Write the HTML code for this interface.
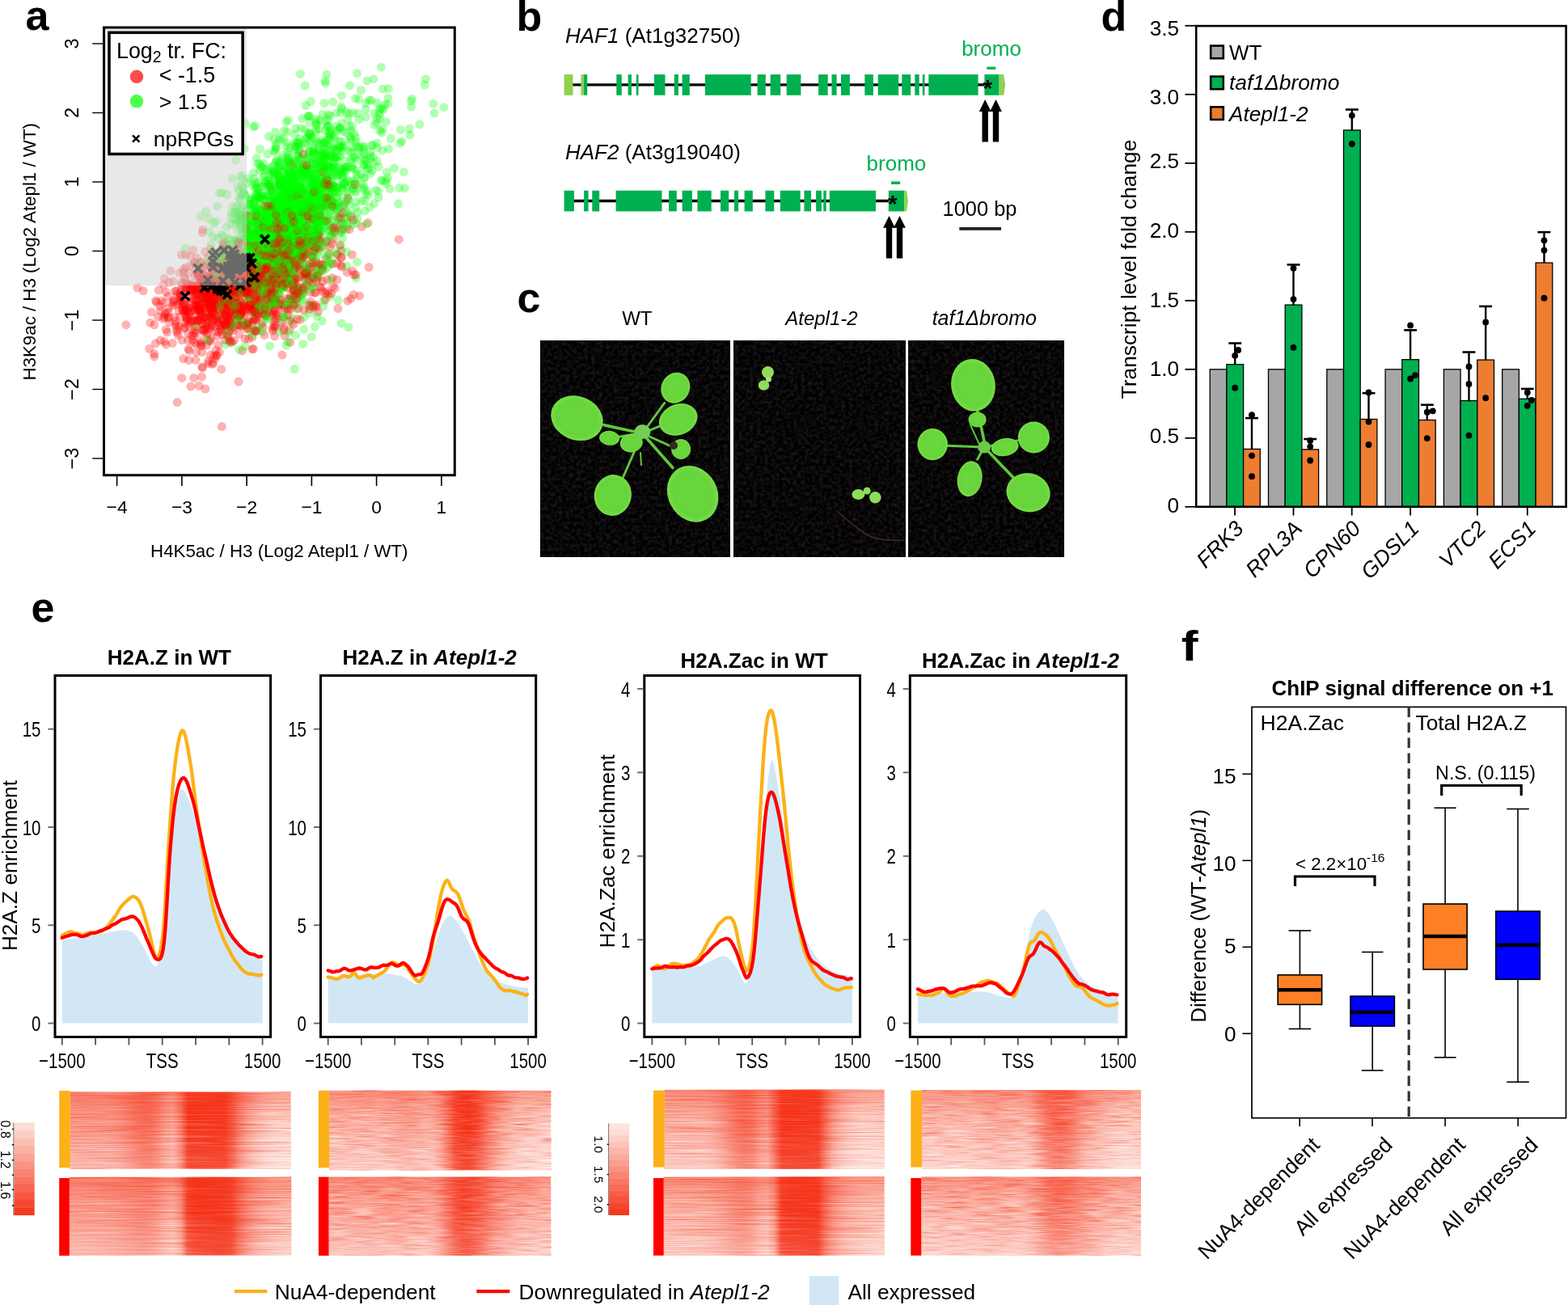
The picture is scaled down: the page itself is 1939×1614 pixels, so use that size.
<!DOCTYPE html>
<html><head><meta charset="utf-8"><title>Figure</title>
<style>
html,body{margin:0;padding:0;background:#fff;}
body{width:1939px;height:1614px;overflow:hidden;}
svg{display:block;}
text{font-family:'Liberation Sans', Arial, sans-serif;}
</style></head><body>
<svg width="1939" height="1614" viewBox="0 0 1939 1614" font-family="Liberation Sans, Arial, sans-serif">
<defs><clipPath id="clipA"><rect x="130" y="35.5" width="431" height="550.7"/></clipPath>
<filter id="soil" x="0" y="0" width="1" height="1" color-interpolation-filters="sRGB">
<feTurbulence type="fractalNoise" baseFrequency="0.22" numOctaves="3" seed="11" result="n"/>
<feColorMatrix in="n" type="matrix" values="0.24 0 0 0 -0.085  0.19 0 0 0 -0.068  0.22 0 0 0 -0.078  0 0 0 0 1"/>
</filter>
<filter id="leafblur" x="-10%" y="-10%" width="120%" height="120%"><feGaussianBlur stdDeviation="0.7"/></filter>
<radialGradient id="leafg" cx="0.5" cy="0.5" r="0.5"><stop offset="0" stop-color="#6bd83e"/><stop offset="0.8" stop-color="#67d43b"/><stop offset="1" stop-color="#78de4a"/></radialGradient>
<filter id="streakA" x="0" y="0" width="1" height="1" color-interpolation-filters="sRGB">
<feTurbulence type="fractalNoise" baseFrequency="0.011 0.6" numOctaves="2" seed="4" result="n"/>
<feColorMatrix in="n" type="matrix" values="0 0 0 0 1  0 0 0 0 1  0 0 0 0 1  1.5 0 0 0 -0.66" result="w"/>
<feColorMatrix in="SourceGraphic" type="matrix" values="0 0 0 0 1  0 0 0 0 1  0 0 0 0 1  0 0.85 0 0 0.2" result="gm"/>
<feComposite in="w" in2="gm" operator="arithmetic" k1="1" k2="0" k3="0" k4="0" result="w2"/>
<feColorMatrix in="n" type="matrix" values="0 0 0 0 0.96  0 0 0 0 0.2  0 0 0 0 0.1  0 1.4 0 0 -0.66" result="r"/>
<feMerge><feMergeNode in="SourceGraphic"/><feMergeNode in="r"/><feMergeNode in="w2"/></feMerge>
</filter>
<filter id="streakB" x="0" y="0" width="1" height="1" color-interpolation-filters="sRGB">
<feTurbulence type="fractalNoise" baseFrequency="0.03 0.6" numOctaves="2" seed="9" result="n"/>
<feColorMatrix in="n" type="matrix" values="0 0 0 0 1  0 0 0 0 1  0 0 0 0 1  1.7 0 0 0 -0.72" result="w"/>
<feColorMatrix in="SourceGraphic" type="matrix" values="0 0 0 0 1  0 0 0 0 1  0 0 0 0 1  0 0.85 0 0 0.2" result="gm"/>
<feComposite in="w" in2="gm" operator="arithmetic" k1="1" k2="0" k3="0" k4="0" result="w2"/>
<feColorMatrix in="n" type="matrix" values="0 0 0 0 0.96  0 0 0 0 0.2  0 0 0 0 0.1  0 1.4 0 0 -0.66" result="r"/>
<feMerge><feMergeNode in="SourceGraphic"/><feMergeNode in="r"/><feMergeNode in="w2"/></feMerge>
</filter>
<linearGradient id="vtop" x1="0" y1="0" x2="0" y2="1"><stop offset="0" stop-color="#f43a1e" stop-opacity="0.32"/><stop offset="0.3" stop-color="#f43a1e" stop-opacity="0.06"/><stop offset="0.45" stop-color="#f43a1e" stop-opacity="0"/></linearGradient>
<linearGradient id="vbot" x1="0" y1="0" x2="0" y2="1"><stop offset="0.45" stop-color="#fff" stop-opacity="0"/><stop offset="1" stop-color="#fff" stop-opacity="0.45"/></linearGradient>
<linearGradient id="hg1" x1="0" y1="0" x2="1" y2="0"><stop offset="0.000" stop-color="#f99686"/><stop offset="0.033" stop-color="#f99484"/><stop offset="0.067" stop-color="#f99484"/><stop offset="0.100" stop-color="#f99584"/><stop offset="0.133" stop-color="#f99483"/><stop offset="0.167" stop-color="#f99282"/><stop offset="0.200" stop-color="#f98e7d"/><stop offset="0.233" stop-color="#f98674"/><stop offset="0.267" stop-color="#f87a67"/><stop offset="0.300" stop-color="#f86e5a"/><stop offset="0.333" stop-color="#f76652"/><stop offset="0.367" stop-color="#f76854"/><stop offset="0.400" stop-color="#f87764"/><stop offset="0.433" stop-color="#f99080"/><stop offset="0.467" stop-color="#fa9c8c"/><stop offset="0.500" stop-color="#f87360"/><stop offset="0.533" stop-color="#f53219"/><stop offset="0.567" stop-color="#f53219"/><stop offset="0.600" stop-color="#f53219"/><stop offset="0.633" stop-color="#f53219"/><stop offset="0.667" stop-color="#f53219"/><stop offset="0.700" stop-color="#f53219"/><stop offset="0.733" stop-color="#f64b35"/><stop offset="0.767" stop-color="#f87663"/><stop offset="0.800" stop-color="#f99585"/><stop offset="0.833" stop-color="#faab9d"/><stop offset="0.867" stop-color="#fbbcb0"/><stop offset="0.900" stop-color="#fcc8bc"/><stop offset="0.933" stop-color="#fccec3"/><stop offset="0.967" stop-color="#fcd1c6"/><stop offset="1.000" stop-color="#fcd0c5"/></linearGradient>
<linearGradient id="hm1g" x1="0" y1="0" x2="1" y2="0"><stop offset="0.000" stop-color="#c0c0c0"/><stop offset="0.033" stop-color="#bebebe"/><stop offset="0.067" stop-color="#bebebe"/><stop offset="0.100" stop-color="#bebebe"/><stop offset="0.133" stop-color="#bdbdbd"/><stop offset="0.167" stop-color="#bbbbbb"/><stop offset="0.200" stop-color="#b6b6b6"/><stop offset="0.233" stop-color="#ababab"/><stop offset="0.267" stop-color="#9c9c9c"/><stop offset="0.300" stop-color="#8d8d8d"/><stop offset="0.333" stop-color="#838383"/><stop offset="0.367" stop-color="#858585"/><stop offset="0.400" stop-color="#989898"/><stop offset="0.433" stop-color="#b9b9b9"/><stop offset="0.467" stop-color="#c7c7c7"/><stop offset="0.500" stop-color="#939393"/><stop offset="0.533" stop-color="#404040"/><stop offset="0.567" stop-color="#404040"/><stop offset="0.600" stop-color="#404040"/><stop offset="0.633" stop-color="#404040"/><stop offset="0.667" stop-color="#404040"/><stop offset="0.700" stop-color="#404040"/><stop offset="0.733" stop-color="#606060"/><stop offset="0.767" stop-color="#979797"/><stop offset="0.800" stop-color="#bebebe"/><stop offset="0.833" stop-color="#dbdbdb"/><stop offset="0.867" stop-color="#f1f1f1"/><stop offset="0.900" stop-color="#ffffff"/><stop offset="0.933" stop-color="#ffffff"/><stop offset="0.967" stop-color="#ffffff"/><stop offset="1.000" stop-color="#ffffff"/></linearGradient>
<mask id="hm1" maskUnits="userSpaceOnUse" x="86.8" y="1350.5" width="272.8" height="95"><rect x="86.8" y="1350.5" width="272.8" height="95" fill="url(#hm1g)"/></mask>
<linearGradient id="hg2" x1="0" y1="0" x2="1" y2="0"><stop offset="0.000" stop-color="#fa9a8a"/><stop offset="0.033" stop-color="#fa9889"/><stop offset="0.067" stop-color="#fa9888"/><stop offset="0.100" stop-color="#fa9787"/><stop offset="0.133" stop-color="#f99686"/><stop offset="0.167" stop-color="#f99383"/><stop offset="0.200" stop-color="#f9907f"/><stop offset="0.233" stop-color="#f98b7a"/><stop offset="0.267" stop-color="#f98675"/><stop offset="0.300" stop-color="#f98270"/><stop offset="0.333" stop-color="#f8806e"/><stop offset="0.367" stop-color="#f98473"/><stop offset="0.400" stop-color="#f99180"/><stop offset="0.433" stop-color="#faa293"/><stop offset="0.467" stop-color="#faaa9b"/><stop offset="0.500" stop-color="#f98b7a"/><stop offset="0.533" stop-color="#f53b23"/><stop offset="0.567" stop-color="#f53219"/><stop offset="0.600" stop-color="#f53219"/><stop offset="0.633" stop-color="#f53219"/><stop offset="0.667" stop-color="#f53219"/><stop offset="0.700" stop-color="#f53219"/><stop offset="0.733" stop-color="#f53920"/><stop offset="0.767" stop-color="#f75d48"/><stop offset="0.800" stop-color="#f87a67"/><stop offset="0.833" stop-color="#f98f7e"/><stop offset="0.867" stop-color="#fa9e8f"/><stop offset="0.900" stop-color="#faa99a"/><stop offset="0.933" stop-color="#fbb0a2"/><stop offset="0.967" stop-color="#fbb4a6"/><stop offset="1.000" stop-color="#fbb5a8"/></linearGradient>
<linearGradient id="hm2g" x1="0" y1="0" x2="1" y2="0"><stop offset="0.000" stop-color="#c5c5c5"/><stop offset="0.033" stop-color="#c3c3c3"/><stop offset="0.067" stop-color="#c2c2c2"/><stop offset="0.100" stop-color="#c2c2c2"/><stop offset="0.133" stop-color="#c0c0c0"/><stop offset="0.167" stop-color="#bcbcbc"/><stop offset="0.200" stop-color="#b8b8b8"/><stop offset="0.233" stop-color="#b2b2b2"/><stop offset="0.267" stop-color="#acacac"/><stop offset="0.300" stop-color="#a7a7a7"/><stop offset="0.333" stop-color="#a4a4a4"/><stop offset="0.367" stop-color="#a9a9a9"/><stop offset="0.400" stop-color="#b9b9b9"/><stop offset="0.433" stop-color="#d0d0d0"/><stop offset="0.467" stop-color="#d9d9d9"/><stop offset="0.500" stop-color="#b2b2b2"/><stop offset="0.533" stop-color="#4c4c4c"/><stop offset="0.567" stop-color="#404040"/><stop offset="0.600" stop-color="#404040"/><stop offset="0.633" stop-color="#404040"/><stop offset="0.667" stop-color="#404040"/><stop offset="0.700" stop-color="#404040"/><stop offset="0.733" stop-color="#484848"/><stop offset="0.767" stop-color="#777777"/><stop offset="0.800" stop-color="#9c9c9c"/><stop offset="0.833" stop-color="#b7b7b7"/><stop offset="0.867" stop-color="#cacaca"/><stop offset="0.900" stop-color="#d8d8d8"/><stop offset="0.933" stop-color="#e1e1e1"/><stop offset="0.967" stop-color="#e6e6e6"/><stop offset="1.000" stop-color="#e8e8e8"/></linearGradient>
<mask id="hm2" maskUnits="userSpaceOnUse" x="85.8" y="1455.8" width="274.4" height="96.8"><rect x="85.8" y="1455.8" width="274.4" height="96.8" fill="url(#hm2g)"/></mask>
<linearGradient id="hg3" x1="0" y1="0" x2="1" y2="0"><stop offset="0.000" stop-color="#fbafa1"/><stop offset="0.033" stop-color="#fbb0a2"/><stop offset="0.067" stop-color="#fbafa1"/><stop offset="0.100" stop-color="#faad9f"/><stop offset="0.133" stop-color="#faac9e"/><stop offset="0.167" stop-color="#faad9f"/><stop offset="0.200" stop-color="#faad9f"/><stop offset="0.233" stop-color="#faab9d"/><stop offset="0.267" stop-color="#faa798"/><stop offset="0.300" stop-color="#faa091"/><stop offset="0.333" stop-color="#fa9c8c"/><stop offset="0.367" stop-color="#fa9e8e"/><stop offset="0.400" stop-color="#faa495"/><stop offset="0.433" stop-color="#faab9d"/><stop offset="0.467" stop-color="#faa899"/><stop offset="0.500" stop-color="#f99180"/><stop offset="0.533" stop-color="#f76753"/><stop offset="0.567" stop-color="#f63e26"/><stop offset="0.600" stop-color="#f53219"/><stop offset="0.633" stop-color="#f53219"/><stop offset="0.667" stop-color="#f6422a"/><stop offset="0.700" stop-color="#f75a44"/><stop offset="0.733" stop-color="#f87663"/><stop offset="0.767" stop-color="#f99180"/><stop offset="0.800" stop-color="#faa596"/><stop offset="0.833" stop-color="#fbb3a5"/><stop offset="0.867" stop-color="#fbbcb0"/><stop offset="0.900" stop-color="#fbc1b5"/><stop offset="0.933" stop-color="#fcc4b8"/><stop offset="0.967" stop-color="#fcc6bb"/><stop offset="1.000" stop-color="#fcc6ba"/></linearGradient>
<linearGradient id="hm3g" x1="0" y1="0" x2="1" y2="0"><stop offset="0.000" stop-color="#e0e0e0"/><stop offset="0.033" stop-color="#e1e1e1"/><stop offset="0.067" stop-color="#dfdfdf"/><stop offset="0.100" stop-color="#dddddd"/><stop offset="0.133" stop-color="#dcdcdc"/><stop offset="0.167" stop-color="#dddddd"/><stop offset="0.200" stop-color="#dddddd"/><stop offset="0.233" stop-color="#dbdbdb"/><stop offset="0.267" stop-color="#d5d5d5"/><stop offset="0.300" stop-color="#cccccc"/><stop offset="0.333" stop-color="#c8c8c8"/><stop offset="0.367" stop-color="#cacaca"/><stop offset="0.400" stop-color="#d2d2d2"/><stop offset="0.433" stop-color="#dbdbdb"/><stop offset="0.467" stop-color="#d7d7d7"/><stop offset="0.500" stop-color="#b9b9b9"/><stop offset="0.533" stop-color="#848484"/><stop offset="0.567" stop-color="#4f4f4f"/><stop offset="0.600" stop-color="#404040"/><stop offset="0.633" stop-color="#404040"/><stop offset="0.667" stop-color="#545454"/><stop offset="0.700" stop-color="#737373"/><stop offset="0.733" stop-color="#979797"/><stop offset="0.767" stop-color="#b9b9b9"/><stop offset="0.800" stop-color="#d3d3d3"/><stop offset="0.833" stop-color="#e5e5e5"/><stop offset="0.867" stop-color="#f1f1f1"/><stop offset="0.900" stop-color="#f8f8f8"/><stop offset="0.933" stop-color="#fbfbfb"/><stop offset="0.967" stop-color="#fefefe"/><stop offset="1.000" stop-color="#fefefe"/></linearGradient>
<mask id="hm3" maskUnits="userSpaceOnUse" x="407.2" y="1348.8" width="274" height="98.5"><rect x="407.2" y="1348.8" width="274" height="98.5" fill="url(#hm3g)"/></mask>
<linearGradient id="hg4" x1="0" y1="0" x2="1" y2="0"><stop offset="0.000" stop-color="#faa597"/><stop offset="0.033" stop-color="#faa597"/><stop offset="0.067" stop-color="#faa495"/><stop offset="0.100" stop-color="#faa394"/><stop offset="0.133" stop-color="#faa394"/><stop offset="0.167" stop-color="#faa293"/><stop offset="0.200" stop-color="#faa192"/><stop offset="0.233" stop-color="#faa091"/><stop offset="0.267" stop-color="#fa9e8f"/><stop offset="0.300" stop-color="#fa9d8d"/><stop offset="0.333" stop-color="#fa9c8d"/><stop offset="0.367" stop-color="#fa9d8d"/><stop offset="0.400" stop-color="#faa192"/><stop offset="0.433" stop-color="#faa697"/><stop offset="0.467" stop-color="#faa192"/><stop offset="0.500" stop-color="#f98d7c"/><stop offset="0.533" stop-color="#f86d59"/><stop offset="0.567" stop-color="#f6503a"/><stop offset="0.600" stop-color="#f6422b"/><stop offset="0.633" stop-color="#f6452e"/><stop offset="0.667" stop-color="#f6523c"/><stop offset="0.700" stop-color="#f7634e"/><stop offset="0.733" stop-color="#f87764"/><stop offset="0.767" stop-color="#f98978"/><stop offset="0.800" stop-color="#f99585"/><stop offset="0.833" stop-color="#fa9f8f"/><stop offset="0.867" stop-color="#faa597"/><stop offset="0.900" stop-color="#faaa9c"/><stop offset="0.933" stop-color="#fbaea0"/><stop offset="0.967" stop-color="#fbb0a2"/><stop offset="1.000" stop-color="#fbb0a3"/></linearGradient>
<linearGradient id="hm4g" x1="0" y1="0" x2="1" y2="0"><stop offset="0.000" stop-color="#d4d4d4"/><stop offset="0.033" stop-color="#d4d4d4"/><stop offset="0.067" stop-color="#d2d2d2"/><stop offset="0.100" stop-color="#d1d1d1"/><stop offset="0.133" stop-color="#d0d0d0"/><stop offset="0.167" stop-color="#cfcfcf"/><stop offset="0.200" stop-color="#cecece"/><stop offset="0.233" stop-color="#cdcdcd"/><stop offset="0.267" stop-color="#cbcbcb"/><stop offset="0.300" stop-color="#c9c9c9"/><stop offset="0.333" stop-color="#c8c8c8"/><stop offset="0.367" stop-color="#c9c9c9"/><stop offset="0.400" stop-color="#cecece"/><stop offset="0.433" stop-color="#d4d4d4"/><stop offset="0.467" stop-color="#cecece"/><stop offset="0.500" stop-color="#b4b4b4"/><stop offset="0.533" stop-color="#8c8c8c"/><stop offset="0.567" stop-color="#676767"/><stop offset="0.600" stop-color="#555555"/><stop offset="0.633" stop-color="#585858"/><stop offset="0.667" stop-color="#686868"/><stop offset="0.700" stop-color="#7f7f7f"/><stop offset="0.733" stop-color="#989898"/><stop offset="0.767" stop-color="#afafaf"/><stop offset="0.800" stop-color="#bfbfbf"/><stop offset="0.833" stop-color="#cbcbcb"/><stop offset="0.867" stop-color="#d4d4d4"/><stop offset="0.900" stop-color="#dadada"/><stop offset="0.933" stop-color="#dfdfdf"/><stop offset="0.967" stop-color="#e1e1e1"/><stop offset="1.000" stop-color="#e2e2e2"/></linearGradient>
<mask id="hm4" maskUnits="userSpaceOnUse" x="406.5" y="1455.6" width="274.7" height="97.4"><rect x="406.5" y="1455.6" width="274.7" height="97.4" fill="url(#hm4g)"/></mask>
<linearGradient id="hg5" x1="0" y1="0" x2="1" y2="0"><stop offset="0.000" stop-color="#fbaea1"/><stop offset="0.033" stop-color="#fbad9f"/><stop offset="0.067" stop-color="#faac9e"/><stop offset="0.100" stop-color="#faaa9c"/><stop offset="0.133" stop-color="#faa99a"/><stop offset="0.167" stop-color="#faa89a"/><stop offset="0.200" stop-color="#faa495"/><stop offset="0.233" stop-color="#fa9a8b"/><stop offset="0.267" stop-color="#f98b7a"/><stop offset="0.300" stop-color="#f87b68"/><stop offset="0.333" stop-color="#f86d59"/><stop offset="0.367" stop-color="#f76651"/><stop offset="0.400" stop-color="#f86e5a"/><stop offset="0.433" stop-color="#f98674"/><stop offset="0.467" stop-color="#f99181"/><stop offset="0.500" stop-color="#f75e49"/><stop offset="0.533" stop-color="#f53219"/><stop offset="0.567" stop-color="#f53219"/><stop offset="0.600" stop-color="#f53219"/><stop offset="0.633" stop-color="#f53219"/><stop offset="0.667" stop-color="#f53219"/><stop offset="0.700" stop-color="#f53219"/><stop offset="0.733" stop-color="#f7604b"/><stop offset="0.767" stop-color="#f98e7d"/><stop offset="0.800" stop-color="#faa99b"/><stop offset="0.833" stop-color="#fbbaae"/><stop offset="0.867" stop-color="#fcc6ba"/><stop offset="0.900" stop-color="#fcccc1"/><stop offset="0.933" stop-color="#fccec3"/><stop offset="0.967" stop-color="#fccec3"/><stop offset="1.000" stop-color="#fcccc1"/></linearGradient>
<linearGradient id="hm5g" x1="0" y1="0" x2="1" y2="0"><stop offset="0.000" stop-color="#dfdfdf"/><stop offset="0.033" stop-color="#dedede"/><stop offset="0.067" stop-color="#dcdcdc"/><stop offset="0.100" stop-color="#d9d9d9"/><stop offset="0.133" stop-color="#d8d8d8"/><stop offset="0.167" stop-color="#d7d7d7"/><stop offset="0.200" stop-color="#d2d2d2"/><stop offset="0.233" stop-color="#c5c5c5"/><stop offset="0.267" stop-color="#b2b2b2"/><stop offset="0.300" stop-color="#9d9d9d"/><stop offset="0.333" stop-color="#8b8b8b"/><stop offset="0.367" stop-color="#828282"/><stop offset="0.400" stop-color="#8c8c8c"/><stop offset="0.433" stop-color="#ababab"/><stop offset="0.467" stop-color="#bababa"/><stop offset="0.500" stop-color="#797979"/><stop offset="0.533" stop-color="#404040"/><stop offset="0.567" stop-color="#404040"/><stop offset="0.600" stop-color="#404040"/><stop offset="0.633" stop-color="#404040"/><stop offset="0.667" stop-color="#404040"/><stop offset="0.700" stop-color="#404040"/><stop offset="0.733" stop-color="#7a7a7a"/><stop offset="0.767" stop-color="#b6b6b6"/><stop offset="0.800" stop-color="#d9d9d9"/><stop offset="0.833" stop-color="#efefef"/><stop offset="0.867" stop-color="#fdfdfd"/><stop offset="0.900" stop-color="#ffffff"/><stop offset="0.933" stop-color="#ffffff"/><stop offset="0.967" stop-color="#ffffff"/><stop offset="1.000" stop-color="#ffffff"/></linearGradient>
<mask id="hm5" maskUnits="userSpaceOnUse" x="821.8" y="1347.8" width="271.8" height="98"><rect x="821.8" y="1347.8" width="271.8" height="98" fill="url(#hm5g)"/></mask>
<linearGradient id="hg6" x1="0" y1="0" x2="1" y2="0"><stop offset="0.000" stop-color="#fbafa1"/><stop offset="0.033" stop-color="#fbaea0"/><stop offset="0.067" stop-color="#faad9f"/><stop offset="0.100" stop-color="#faad9f"/><stop offset="0.133" stop-color="#faad9e"/><stop offset="0.167" stop-color="#faab9d"/><stop offset="0.200" stop-color="#faa899"/><stop offset="0.233" stop-color="#faa293"/><stop offset="0.267" stop-color="#fa9989"/><stop offset="0.300" stop-color="#f98f7f"/><stop offset="0.333" stop-color="#f98776"/><stop offset="0.367" stop-color="#f98573"/><stop offset="0.400" stop-color="#f98d7c"/><stop offset="0.433" stop-color="#fa9f90"/><stop offset="0.467" stop-color="#faa99a"/><stop offset="0.500" stop-color="#f98978"/><stop offset="0.533" stop-color="#f5371e"/><stop offset="0.567" stop-color="#f53219"/><stop offset="0.600" stop-color="#f53219"/><stop offset="0.633" stop-color="#f53219"/><stop offset="0.667" stop-color="#f53219"/><stop offset="0.700" stop-color="#f53219"/><stop offset="0.733" stop-color="#f7624d"/><stop offset="0.767" stop-color="#f98574"/><stop offset="0.800" stop-color="#fa9d8d"/><stop offset="0.833" stop-color="#faaa9c"/><stop offset="0.867" stop-color="#fbb2a4"/><stop offset="0.900" stop-color="#fbb8aa"/><stop offset="0.933" stop-color="#fbbbae"/><stop offset="0.967" stop-color="#fbbeb1"/><stop offset="1.000" stop-color="#fbbfb3"/></linearGradient>
<linearGradient id="hm6g" x1="0" y1="0" x2="1" y2="0"><stop offset="0.000" stop-color="#e0e0e0"/><stop offset="0.033" stop-color="#dfdfdf"/><stop offset="0.067" stop-color="#dddddd"/><stop offset="0.100" stop-color="#dddddd"/><stop offset="0.133" stop-color="#dddddd"/><stop offset="0.167" stop-color="#dbdbdb"/><stop offset="0.200" stop-color="#d7d7d7"/><stop offset="0.233" stop-color="#cfcfcf"/><stop offset="0.267" stop-color="#c4c4c4"/><stop offset="0.300" stop-color="#b7b7b7"/><stop offset="0.333" stop-color="#adadad"/><stop offset="0.367" stop-color="#aaaaaa"/><stop offset="0.400" stop-color="#b5b5b5"/><stop offset="0.433" stop-color="#cccccc"/><stop offset="0.467" stop-color="#d8d8d8"/><stop offset="0.500" stop-color="#b0b0b0"/><stop offset="0.533" stop-color="#464646"/><stop offset="0.567" stop-color="#404040"/><stop offset="0.600" stop-color="#404040"/><stop offset="0.633" stop-color="#404040"/><stop offset="0.667" stop-color="#404040"/><stop offset="0.700" stop-color="#404040"/><stop offset="0.733" stop-color="#7d7d7d"/><stop offset="0.767" stop-color="#ababab"/><stop offset="0.800" stop-color="#c9c9c9"/><stop offset="0.833" stop-color="#dadada"/><stop offset="0.867" stop-color="#e4e4e4"/><stop offset="0.900" stop-color="#ebebeb"/><stop offset="0.933" stop-color="#f0f0f0"/><stop offset="0.967" stop-color="#f3f3f3"/><stop offset="1.000" stop-color="#f5f5f5"/></linearGradient>
<mask id="hm6" maskUnits="userSpaceOnUse" x="820.7" y="1455.5" width="272.9" height="97.3"><rect x="820.7" y="1455.5" width="272.9" height="97.3" fill="url(#hm6g)"/></mask>
<linearGradient id="hg7" x1="0" y1="0" x2="1" y2="0"><stop offset="0.000" stop-color="#fbb9ac"/><stop offset="0.033" stop-color="#fbb9ad"/><stop offset="0.067" stop-color="#fbb9ac"/><stop offset="0.100" stop-color="#fbb6a9"/><stop offset="0.133" stop-color="#fbb5a8"/><stop offset="0.167" stop-color="#fbb8ab"/><stop offset="0.200" stop-color="#fbb8ab"/><stop offset="0.233" stop-color="#fbb5a7"/><stop offset="0.267" stop-color="#fbb0a2"/><stop offset="0.300" stop-color="#faab9d"/><stop offset="0.333" stop-color="#faa799"/><stop offset="0.367" stop-color="#faa798"/><stop offset="0.400" stop-color="#faab9c"/><stop offset="0.433" stop-color="#fbb1a3"/><stop offset="0.467" stop-color="#fbb3a5"/><stop offset="0.500" stop-color="#faa698"/><stop offset="0.533" stop-color="#f98b7a"/><stop offset="0.567" stop-color="#f8715e"/><stop offset="0.600" stop-color="#f7634e"/><stop offset="0.633" stop-color="#f7624d"/><stop offset="0.667" stop-color="#f86c58"/><stop offset="0.700" stop-color="#f87d6a"/><stop offset="0.733" stop-color="#f98f7e"/><stop offset="0.767" stop-color="#fa9f90"/><stop offset="0.800" stop-color="#faab9d"/><stop offset="0.833" stop-color="#fbb4a7"/><stop offset="0.867" stop-color="#fbbcb0"/><stop offset="0.900" stop-color="#fbc3b7"/><stop offset="0.933" stop-color="#fcc7bb"/><stop offset="0.967" stop-color="#fcc8bc"/><stop offset="1.000" stop-color="#fcc7bb"/></linearGradient>
<linearGradient id="hm7g" x1="0" y1="0" x2="1" y2="0"><stop offset="0.000" stop-color="#ededed"/><stop offset="0.033" stop-color="#ededed"/><stop offset="0.067" stop-color="#ededed"/><stop offset="0.100" stop-color="#e9e9e9"/><stop offset="0.133" stop-color="#e8e8e8"/><stop offset="0.167" stop-color="#ebebeb"/><stop offset="0.200" stop-color="#ebebeb"/><stop offset="0.233" stop-color="#e7e7e7"/><stop offset="0.267" stop-color="#e1e1e1"/><stop offset="0.300" stop-color="#dbdbdb"/><stop offset="0.333" stop-color="#d6d6d6"/><stop offset="0.367" stop-color="#d6d6d6"/><stop offset="0.400" stop-color="#dadada"/><stop offset="0.433" stop-color="#e2e2e2"/><stop offset="0.467" stop-color="#e5e5e5"/><stop offset="0.500" stop-color="#d5d5d5"/><stop offset="0.533" stop-color="#b2b2b2"/><stop offset="0.567" stop-color="#919191"/><stop offset="0.600" stop-color="#7e7e7e"/><stop offset="0.633" stop-color="#7d7d7d"/><stop offset="0.667" stop-color="#8a8a8a"/><stop offset="0.700" stop-color="#a0a0a0"/><stop offset="0.733" stop-color="#b6b6b6"/><stop offset="0.767" stop-color="#cccccc"/><stop offset="0.800" stop-color="#dbdbdb"/><stop offset="0.833" stop-color="#e7e7e7"/><stop offset="0.867" stop-color="#f1f1f1"/><stop offset="0.900" stop-color="#f9f9f9"/><stop offset="0.933" stop-color="#ffffff"/><stop offset="0.967" stop-color="#ffffff"/><stop offset="1.000" stop-color="#fefefe"/></linearGradient>
<mask id="hm7" maskUnits="userSpaceOnUse" x="1140" y="1348" width="271" height="98"><rect x="1140" y="1348" width="271" height="98" fill="url(#hm7g)"/></mask>
<linearGradient id="hg8" x1="0" y1="0" x2="1" y2="0"><stop offset="0.000" stop-color="#fbb2a5"/><stop offset="0.033" stop-color="#fbb4a6"/><stop offset="0.067" stop-color="#fbb3a6"/><stop offset="0.100" stop-color="#fbb2a4"/><stop offset="0.133" stop-color="#fbb2a5"/><stop offset="0.167" stop-color="#fbb3a6"/><stop offset="0.200" stop-color="#fbb2a5"/><stop offset="0.233" stop-color="#fbb0a2"/><stop offset="0.267" stop-color="#fbaea0"/><stop offset="0.300" stop-color="#faac9e"/><stop offset="0.333" stop-color="#faaa9c"/><stop offset="0.367" stop-color="#faaa9b"/><stop offset="0.400" stop-color="#faad9f"/><stop offset="0.433" stop-color="#fbb2a4"/><stop offset="0.467" stop-color="#fbb1a3"/><stop offset="0.500" stop-color="#faa597"/><stop offset="0.533" stop-color="#f99281"/><stop offset="0.567" stop-color="#f87f6d"/><stop offset="0.600" stop-color="#f87360"/><stop offset="0.633" stop-color="#f8715e"/><stop offset="0.667" stop-color="#f87764"/><stop offset="0.700" stop-color="#f9816f"/><stop offset="0.733" stop-color="#f98d7c"/><stop offset="0.767" stop-color="#fa9a8a"/><stop offset="0.800" stop-color="#faa495"/><stop offset="0.833" stop-color="#faab9c"/><stop offset="0.867" stop-color="#fbb0a2"/><stop offset="0.900" stop-color="#fbb4a6"/><stop offset="0.933" stop-color="#fbb7a9"/><stop offset="0.967" stop-color="#fbb8ac"/><stop offset="1.000" stop-color="#fbbaad"/></linearGradient>
<linearGradient id="hm8g" x1="0" y1="0" x2="1" y2="0"><stop offset="0.000" stop-color="#e4e4e4"/><stop offset="0.033" stop-color="#e6e6e6"/><stop offset="0.067" stop-color="#e6e6e6"/><stop offset="0.100" stop-color="#e4e4e4"/><stop offset="0.133" stop-color="#e4e4e4"/><stop offset="0.167" stop-color="#e5e5e5"/><stop offset="0.200" stop-color="#e4e4e4"/><stop offset="0.233" stop-color="#e1e1e1"/><stop offset="0.267" stop-color="#dedede"/><stop offset="0.300" stop-color="#dcdcdc"/><stop offset="0.333" stop-color="#dadada"/><stop offset="0.367" stop-color="#d9d9d9"/><stop offset="0.400" stop-color="#dddddd"/><stop offset="0.433" stop-color="#e3e3e3"/><stop offset="0.467" stop-color="#e3e3e3"/><stop offset="0.500" stop-color="#d3d3d3"/><stop offset="0.533" stop-color="#bababa"/><stop offset="0.567" stop-color="#a3a3a3"/><stop offset="0.600" stop-color="#949494"/><stop offset="0.633" stop-color="#919191"/><stop offset="0.667" stop-color="#999999"/><stop offset="0.700" stop-color="#a5a5a5"/><stop offset="0.733" stop-color="#b4b4b4"/><stop offset="0.767" stop-color="#c5c5c5"/><stop offset="0.800" stop-color="#d2d2d2"/><stop offset="0.833" stop-color="#dadada"/><stop offset="0.867" stop-color="#e1e1e1"/><stop offset="0.900" stop-color="#e6e6e6"/><stop offset="0.933" stop-color="#eaeaea"/><stop offset="0.967" stop-color="#ececec"/><stop offset="1.000" stop-color="#eeeeee"/></linearGradient>
<mask id="hm8" maskUnits="userSpaceOnUse" x="1139.2" y="1455.5" width="271.8" height="97.3"><rect x="1139.2" y="1455.5" width="271.8" height="97.3" fill="url(#hm8g)"/></mask></defs>
<rect width="1939" height="1614" fill="#fff"/>
<text x="31.5" y="36.8" font-size="52" font-weight="bold">a</text>
<g clip-path="url(#clipA)">
<g fill="rgba(0,255,0,0.30)"><circle cx="356.5" cy="246.1" r="5.5"/><circle cx="325.5" cy="348" r="5.5"/></g>
<g fill="rgba(255,0,0,0.30)"><circle cx="386.4" cy="317.8" r="5.5"/><circle cx="335.8" cy="364.5" r="5.5"/><circle cx="308.2" cy="352.9" r="5.5"/><circle cx="266.7" cy="344.3" r="5.5"/><circle cx="267.7" cy="362" r="5.5"/></g>
<g fill="rgba(0,255,0,0.30)"><circle cx="298.7" cy="241.4" r="5.5"/><circle cx="302.7" cy="376.1" r="5.5"/><circle cx="401.9" cy="256.1" r="5.5"/></g>
<g fill="rgba(255,0,0,0.30)"><circle cx="298.6" cy="344.8" r="5.5"/><circle cx="337.3" cy="310.8" r="5.5"/></g>
<g fill="rgba(0,255,0,0.30)"><circle cx="439.9" cy="170" r="5.5"/></g>
<g fill="rgba(255,0,0,0.30)"><circle cx="260.3" cy="329.5" r="5.5"/><circle cx="378.5" cy="291.2" r="5.5"/><circle cx="196.3" cy="358.8" r="5.5"/></g>
<g fill="rgba(0,255,0,0.30)"><circle cx="346.5" cy="234.4" r="5.5"/></g>
<g fill="rgba(255,0,0,0.30)"><circle cx="293.2" cy="341.3" r="5.5"/><circle cx="365.8" cy="344.4" r="5.5"/></g>
<g fill="rgba(0,255,0,0.30)"><circle cx="291.6" cy="324.1" r="5.5"/></g>
<g fill="rgba(255,0,0,0.30)"><circle cx="281.7" cy="378.4" r="5.5"/></g>
<g fill="rgba(0,255,0,0.30)"><circle cx="376.3" cy="252.3" r="5.5"/></g>
<g fill="rgba(255,0,0,0.30)"><circle cx="307.5" cy="352.7" r="5.5"/><circle cx="233.9" cy="433.8" r="5.5"/><circle cx="353.2" cy="377.3" r="5.5"/><circle cx="316.2" cy="408.2" r="5.5"/></g>
<g fill="rgba(0,255,0,0.30)"><circle cx="346.4" cy="170.8" r="5.5"/></g>
<g fill="rgba(255,0,0,0.30)"><circle cx="348.6" cy="265.5" r="5.5"/></g>
<g fill="rgba(0,255,0,0.30)"><circle cx="361.2" cy="277.3" r="5.5"/><circle cx="279.7" cy="326.5" r="5.5"/></g>
<g fill="rgba(255,0,0,0.30)"><circle cx="269.3" cy="371.6" r="5.5"/></g>
<g fill="rgba(0,255,0,0.30)"><circle cx="370.9" cy="302.8" r="5.5"/></g>
<g fill="rgba(255,0,0,0.30)"><circle cx="303.2" cy="319.3" r="5.5"/></g>
<g fill="rgba(0,255,0,0.30)"><circle cx="324.5" cy="323.8" r="5.5"/><circle cx="368.5" cy="191.3" r="5.5"/></g>
<g fill="rgba(255,0,0,0.30)"><circle cx="302.7" cy="350.5" r="5.5"/></g>
<g fill="rgba(0,255,0,0.30)"><circle cx="440.8" cy="181.2" r="5.5"/><circle cx="290.6" cy="301.8" r="5.5"/><circle cx="345.7" cy="243" r="5.5"/><circle cx="416.1" cy="162.1" r="5.5"/><circle cx="427.9" cy="212.7" r="5.5"/><circle cx="434.7" cy="228.3" r="5.5"/><circle cx="291.4" cy="197.9" r="5.5"/><circle cx="336.4" cy="255.6" r="5.5"/><circle cx="334.9" cy="215.8" r="5.5"/><circle cx="371" cy="304.2" r="5.5"/><circle cx="353" cy="312.5" r="5.5"/></g>
<g fill="rgba(255,0,0,0.30)"><circle cx="429.3" cy="336.9" r="5.5"/></g>
<g fill="rgba(0,255,0,0.30)"><circle cx="395" cy="247.8" r="5.5"/></g>
<g fill="rgba(255,0,0,0.30)"><circle cx="411.7" cy="354.4" r="5.5"/><circle cx="259.6" cy="380.2" r="5.5"/></g>
<g fill="rgba(0,255,0,0.30)"><circle cx="425.8" cy="207.8" r="5.5"/><circle cx="341.3" cy="264" r="5.5"/></g>
<g fill="rgba(255,0,0,0.30)"><circle cx="213.6" cy="374.1" r="5.5"/></g>
<g fill="rgba(0,255,0,0.30)"><circle cx="299.6" cy="255.2" r="5.5"/><circle cx="319.9" cy="277.4" r="5.5"/><circle cx="353.2" cy="279.4" r="5.5"/><circle cx="412.7" cy="230" r="5.5"/><circle cx="393.1" cy="243" r="5.5"/></g>
<g fill="rgba(255,0,0,0.30)"><circle cx="358" cy="408" r="5.5"/><circle cx="278.8" cy="383.8" r="5.5"/><circle cx="249.8" cy="453.7" r="5.5"/></g>
<g fill="rgba(0,255,0,0.30)"><circle cx="248.1" cy="267.4" r="5.5"/><circle cx="380.8" cy="300.5" r="5.5"/><circle cx="322.5" cy="333.4" r="5.5"/></g>
<g fill="rgba(255,0,0,0.30)"><circle cx="302.3" cy="345.8" r="5.5"/><circle cx="354.4" cy="263.5" r="5.5"/><circle cx="327" cy="383.3" r="5.5"/></g>
<g fill="rgba(0,255,0,0.30)"><circle cx="361.9" cy="303.7" r="5.5"/><circle cx="410.4" cy="216.1" r="5.5"/><circle cx="418.3" cy="270.7" r="5.5"/></g>
<g fill="rgba(255,0,0,0.30)"><circle cx="404.5" cy="346.1" r="5.5"/></g>
<g fill="rgba(0,255,0,0.30)"><circle cx="364" cy="365.6" r="5.5"/></g>
<g fill="rgba(255,0,0,0.30)"><circle cx="356" cy="320.5" r="5.5"/></g>
<g fill="rgba(0,255,0,0.30)"><circle cx="354.8" cy="253.3" r="5.5"/><circle cx="327.2" cy="295.3" r="5.5"/></g>
<g fill="rgba(255,0,0,0.30)"><circle cx="220.1" cy="414.3" r="5.5"/></g>
<g fill="rgba(0,255,0,0.30)"><circle cx="331" cy="354.1" r="5.5"/><circle cx="285.3" cy="269.9" r="5.5"/></g>
<g fill="rgba(255,0,0,0.30)"><circle cx="268.2" cy="396.2" r="5.5"/></g>
<g fill="rgba(0,255,0,0.30)"><circle cx="417.5" cy="185.6" r="5.5"/><circle cx="402" cy="253.9" r="5.5"/></g>
<g fill="rgba(255,0,0,0.30)"><circle cx="398.8" cy="332.1" r="5.5"/></g>
<g fill="rgba(0,255,0,0.30)"><circle cx="289.8" cy="376.1" r="5.5"/><circle cx="401.7" cy="149.8" r="5.5"/><circle cx="355.3" cy="218" r="5.5"/></g>
<g fill="rgba(255,0,0,0.30)"><circle cx="213.3" cy="424.3" r="5.5"/></g>
<g fill="rgba(0,255,0,0.30)"><circle cx="302.8" cy="325.3" r="5.5"/></g>
<g fill="rgba(255,0,0,0.30)"><circle cx="331.2" cy="304.3" r="5.5"/></g>
<g fill="rgba(0,255,0,0.30)"><circle cx="291.4" cy="275.8" r="5.5"/></g>
<g fill="rgba(255,0,0,0.30)"><circle cx="280.3" cy="340.8" r="5.5"/></g>
<g fill="rgba(0,255,0,0.30)"><circle cx="346.2" cy="271.2" r="5.5"/><circle cx="317.1" cy="273.4" r="5.5"/><circle cx="377.1" cy="176.7" r="5.5"/></g>
<g fill="rgba(255,0,0,0.30)"><circle cx="323.7" cy="336.1" r="5.5"/></g>
<g fill="rgba(0,255,0,0.30)"><circle cx="454.5" cy="204" r="5.5"/><circle cx="372.8" cy="217.1" r="5.5"/></g>
<g fill="rgba(255,0,0,0.30)"><circle cx="305.5" cy="363.6" r="5.5"/></g>
<g fill="rgba(0,255,0,0.30)"><circle cx="365.3" cy="344.3" r="5.5"/></g>
<g fill="rgba(255,0,0,0.30)"><circle cx="368.3" cy="331.5" r="5.5"/><circle cx="425.5" cy="253.2" r="5.5"/></g>
<g fill="rgba(0,255,0,0.30)"><circle cx="400.7" cy="204" r="5.5"/></g>
<g fill="rgba(255,0,0,0.30)"><circle cx="242.7" cy="435.7" r="5.5"/></g>
<g fill="rgba(0,255,0,0.30)"><circle cx="368.3" cy="193" r="5.5"/><circle cx="383.3" cy="271.2" r="5.5"/><circle cx="384.2" cy="174.6" r="5.5"/></g>
<g fill="rgba(255,0,0,0.30)"><circle cx="249.4" cy="346.5" r="5.5"/><circle cx="283.5" cy="320.4" r="5.5"/></g>
<g fill="rgba(0,255,0,0.30)"><circle cx="403.9" cy="235.8" r="5.5"/></g>
<g fill="rgba(255,0,0,0.30)"><circle cx="225" cy="420.7" r="5.5"/><circle cx="313.9" cy="376.8" r="5.5"/></g>
<g fill="rgba(0,255,0,0.30)"><circle cx="382.2" cy="292.6" r="5.5"/></g>
<g fill="rgba(255,0,0,0.30)"><circle cx="190.7" cy="437.6" r="5.5"/></g>
<g fill="rgba(0,255,0,0.30)"><circle cx="406.8" cy="245.8" r="5.5"/><circle cx="358.7" cy="369.2" r="5.5"/></g>
<g fill="rgba(255,0,0,0.30)"><circle cx="334.1" cy="377.1" r="5.5"/><circle cx="232.7" cy="421.2" r="5.5"/></g>
<g fill="rgba(0,255,0,0.30)"><circle cx="394.2" cy="175.2" r="5.5"/><circle cx="384.2" cy="125.4" r="5.5"/><circle cx="369.1" cy="308" r="5.5"/><circle cx="336" cy="278.9" r="5.5"/></g>
<g fill="rgba(255,0,0,0.30)"><circle cx="345.6" cy="262.5" r="5.5"/></g>
<g fill="rgba(0,255,0,0.30)"><circle cx="361.8" cy="307.3" r="5.5"/></g>
<g fill="rgba(255,0,0,0.30)"><circle cx="410.8" cy="248.6" r="5.5"/></g>
<g fill="rgba(0,255,0,0.30)"><circle cx="480.6" cy="184.2" r="5.5"/><circle cx="358.7" cy="200.5" r="5.5"/></g>
<g fill="rgba(255,0,0,0.30)"><circle cx="318.4" cy="361.4" r="5.5"/></g>
<g fill="rgba(0,255,0,0.30)"><circle cx="376.6" cy="288.7" r="5.5"/><circle cx="391" cy="334" r="5.5"/></g>
<g fill="rgba(255,0,0,0.30)"><circle cx="343.9" cy="296.1" r="5.5"/><circle cx="321.6" cy="332" r="5.5"/><circle cx="277.8" cy="358.8" r="5.5"/></g>
<g fill="rgba(0,255,0,0.30)"><circle cx="315.3" cy="334" r="5.5"/><circle cx="373.7" cy="261.1" r="5.5"/></g>
<g fill="rgba(255,0,0,0.30)"><circle cx="229.4" cy="314.9" r="5.5"/><circle cx="437.2" cy="364.5" r="5.5"/></g>
<g fill="rgba(0,255,0,0.30)"><circle cx="377.7" cy="249.9" r="5.5"/><circle cx="396.5" cy="221.3" r="5.5"/></g>
<g fill="rgba(255,0,0,0.30)"><circle cx="299.5" cy="339.2" r="5.5"/></g>
<g fill="rgba(0,255,0,0.30)"><circle cx="255.9" cy="326.5" r="5.5"/><circle cx="462" cy="97.7" r="5.5"/><circle cx="278" cy="314" r="5.5"/><circle cx="372.5" cy="265.5" r="5.5"/><circle cx="278.6" cy="377.8" r="5.5"/><circle cx="289.6" cy="309.3" r="5.5"/></g>
<g fill="rgba(255,0,0,0.30)"><circle cx="358.3" cy="345.5" r="5.5"/><circle cx="246.9" cy="384.4" r="5.5"/></g>
<g fill="rgba(0,255,0,0.30)"><circle cx="339.3" cy="290.5" r="5.5"/><circle cx="420.3" cy="157.9" r="5.5"/></g>
<g fill="rgba(255,0,0,0.30)"><circle cx="433.8" cy="369.3" r="5.5"/></g>
<g fill="rgba(0,255,0,0.30)"><circle cx="349.8" cy="258.5" r="5.5"/></g>
<g fill="rgba(255,0,0,0.30)"><circle cx="281" cy="356.2" r="5.5"/><circle cx="307.1" cy="365.8" r="5.5"/><circle cx="318.6" cy="336.4" r="5.5"/><circle cx="320" cy="277.2" r="5.5"/><circle cx="232" cy="385.3" r="5.5"/><circle cx="252.3" cy="362.3" r="5.5"/></g>
<g fill="rgba(0,255,0,0.30)"><circle cx="372.2" cy="359.6" r="5.5"/></g>
<g fill="rgba(255,0,0,0.30)"><circle cx="378.4" cy="300.3" r="5.5"/></g>
<g fill="rgba(0,255,0,0.30)"><circle cx="322.3" cy="302.1" r="5.5"/></g>
<g fill="rgba(255,0,0,0.30)"><circle cx="319.3" cy="387.9" r="5.5"/><circle cx="355.8" cy="344" r="5.5"/><circle cx="322.1" cy="283.1" r="5.5"/></g>
<g fill="rgba(0,255,0,0.30)"><circle cx="385.2" cy="255.3" r="5.5"/><circle cx="329.5" cy="318.8" r="5.5"/><circle cx="352.6" cy="230.1" r="5.5"/></g>
<g fill="rgba(255,0,0,0.30)"><circle cx="309.4" cy="312.2" r="5.5"/><circle cx="233.9" cy="377.5" r="5.5"/><circle cx="317.1" cy="354.3" r="5.5"/></g>
<g fill="rgba(0,255,0,0.30)"><circle cx="419.8" cy="212.1" r="5.5"/><circle cx="350.9" cy="270.9" r="5.5"/><circle cx="359.4" cy="249.2" r="5.5"/><circle cx="267" cy="273.3" r="5.5"/><circle cx="394.5" cy="250.3" r="5.5"/><circle cx="338.1" cy="258.6" r="5.5"/><circle cx="401.3" cy="232.1" r="5.5"/><circle cx="344.8" cy="280.7" r="5.5"/><circle cx="286.7" cy="358.9" r="5.5"/><circle cx="309.4" cy="369.3" r="5.5"/><circle cx="421.2" cy="287.8" r="5.5"/><circle cx="332.7" cy="323.3" r="5.5"/><circle cx="329.1" cy="286.4" r="5.5"/><circle cx="390.1" cy="236.4" r="5.5"/><circle cx="379.3" cy="283.2" r="5.5"/><circle cx="323.9" cy="319.3" r="5.5"/><circle cx="482.2" cy="233.6" r="5.5"/></g>
<g fill="rgba(255,0,0,0.30)"><circle cx="325.3" cy="387.8" r="5.5"/></g>
<g fill="rgba(0,255,0,0.30)"><circle cx="357" cy="195.1" r="5.5"/></g>
<g fill="rgba(255,0,0,0.30)"><circle cx="353.1" cy="347" r="5.5"/></g>
<g fill="rgba(0,255,0,0.30)"><circle cx="429.5" cy="275.7" r="5.5"/></g>
<g fill="rgba(255,0,0,0.30)"><circle cx="307.4" cy="419.1" r="5.5"/></g>
<g fill="rgba(0,255,0,0.30)"><circle cx="386.4" cy="245.6" r="5.5"/><circle cx="386.5" cy="235.5" r="5.5"/><circle cx="413.2" cy="207.7" r="5.5"/><circle cx="384.8" cy="239" r="5.5"/><circle cx="382.2" cy="386.8" r="5.5"/><circle cx="438.2" cy="224.3" r="5.5"/><circle cx="342.5" cy="288.3" r="5.5"/></g>
<g fill="rgba(255,0,0,0.30)"><circle cx="384.5" cy="378.4" r="5.5"/></g>
<g fill="rgba(0,255,0,0.30)"><circle cx="393.2" cy="277.2" r="5.5"/><circle cx="358.1" cy="252.2" r="5.5"/></g>
<g fill="rgba(255,0,0,0.30)"><circle cx="273.4" cy="364.2" r="5.5"/></g>
<g fill="rgba(0,255,0,0.30)"><circle cx="348.8" cy="327.5" r="5.5"/><circle cx="312.8" cy="315.4" r="5.5"/></g>
<g fill="rgba(255,0,0,0.30)"><circle cx="288.6" cy="348.6" r="5.5"/></g>
<g fill="rgba(0,255,0,0.30)"><circle cx="256" cy="393.2" r="5.5"/><circle cx="296.9" cy="335.3" r="5.5"/><circle cx="291.8" cy="387.4" r="5.5"/><circle cx="411" cy="165.7" r="5.5"/></g>
<g fill="rgba(255,0,0,0.30)"><circle cx="280" cy="387.8" r="5.5"/></g>
<g fill="rgba(0,255,0,0.30)"><circle cx="340.2" cy="313" r="5.5"/></g>
<g fill="rgba(255,0,0,0.30)"><circle cx="317.5" cy="409.2" r="5.5"/><circle cx="310" cy="376.5" r="5.5"/></g>
<g fill="rgba(0,255,0,0.30)"><circle cx="325.4" cy="258.9" r="5.5"/></g>
<g fill="rgba(255,0,0,0.30)"><circle cx="242" cy="445.3" r="5.5"/></g>
<g fill="rgba(0,255,0,0.30)"><circle cx="369.8" cy="284.8" r="5.5"/><circle cx="407.6" cy="163.6" r="5.5"/><circle cx="374" cy="206.4" r="5.5"/><circle cx="363" cy="329.7" r="5.5"/></g>
<g fill="rgba(255,0,0,0.30)"><circle cx="282.7" cy="372.9" r="5.5"/><circle cx="261.5" cy="378.1" r="5.5"/></g>
<g fill="rgba(0,255,0,0.30)"><circle cx="408.2" cy="207" r="5.5"/><circle cx="368.5" cy="263.8" r="5.5"/><circle cx="415.8" cy="139.7" r="5.5"/><circle cx="372.9" cy="283" r="5.5"/><circle cx="349.9" cy="304.4" r="5.5"/></g>
<g fill="rgba(255,0,0,0.30)"><circle cx="375.7" cy="383.3" r="5.5"/><circle cx="285.1" cy="344.2" r="5.5"/><circle cx="359.9" cy="293.1" r="5.5"/><circle cx="268.1" cy="440" r="5.5"/><circle cx="348.2" cy="399.2" r="5.5"/></g>
<g fill="rgba(0,255,0,0.30)"><circle cx="328.4" cy="267.9" r="5.5"/><circle cx="360.4" cy="309.1" r="5.5"/><circle cx="326.5" cy="246.7" r="5.5"/><circle cx="461.3" cy="201.8" r="5.5"/></g>
<g fill="rgba(255,0,0,0.30)"><circle cx="358.8" cy="258.1" r="5.5"/><circle cx="363.9" cy="337.2" r="5.5"/><circle cx="260.6" cy="378.2" r="5.5"/></g>
<g fill="rgba(0,255,0,0.30)"><circle cx="334.2" cy="289.3" r="5.5"/></g>
<g fill="rgba(255,0,0,0.30)"><circle cx="320.1" cy="278.6" r="5.5"/></g>
<g fill="rgba(0,255,0,0.30)"><circle cx="343.7" cy="289" r="5.5"/><circle cx="364.5" cy="219.6" r="5.5"/></g>
<g fill="rgba(255,0,0,0.30)"><circle cx="310.8" cy="345" r="5.5"/></g>
<g fill="rgba(0,255,0,0.30)"><circle cx="369.4" cy="219.7" r="5.5"/><circle cx="330.4" cy="391.5" r="5.5"/><circle cx="477.5" cy="150.7" r="5.5"/><circle cx="325.5" cy="311.1" r="5.5"/></g>
<g fill="rgba(255,0,0,0.30)"><circle cx="382.6" cy="346.5" r="5.5"/><circle cx="317" cy="395.9" r="5.5"/><circle cx="239.6" cy="396.9" r="5.5"/></g>
<g fill="rgba(0,255,0,0.30)"><circle cx="346.6" cy="278.5" r="5.5"/></g>
<g fill="rgba(255,0,0,0.30)"><circle cx="369.6" cy="310.1" r="5.5"/><circle cx="332.3" cy="336.8" r="5.5"/><circle cx="237.3" cy="352.8" r="5.5"/><circle cx="215.2" cy="372.9" r="5.5"/></g>
<g fill="rgba(0,255,0,0.30)"><circle cx="396.5" cy="335.6" r="5.5"/><circle cx="381.4" cy="245.8" r="5.5"/><circle cx="304.1" cy="339.5" r="5.5"/><circle cx="353.3" cy="250.5" r="5.5"/></g>
<g fill="rgba(255,0,0,0.30)"><circle cx="300.8" cy="351.5" r="5.5"/><circle cx="301" cy="317.6" r="5.5"/></g>
<g fill="rgba(0,255,0,0.30)"><circle cx="431.4" cy="242" r="5.5"/></g>
<g fill="rgba(255,0,0,0.30)"><circle cx="346.4" cy="346.4" r="5.5"/><circle cx="290.4" cy="351.2" r="5.5"/></g>
<g fill="rgba(0,255,0,0.30)"><circle cx="399.5" cy="243.8" r="5.5"/><circle cx="372" cy="314.3" r="5.5"/></g>
<g fill="rgba(255,0,0,0.30)"><circle cx="341" cy="333.7" r="5.5"/></g>
<g fill="rgba(0,255,0,0.30)"><circle cx="359.8" cy="315.3" r="5.5"/><circle cx="345" cy="265.1" r="5.5"/><circle cx="315.2" cy="350.5" r="5.5"/><circle cx="350.6" cy="273.2" r="5.5"/><circle cx="418.7" cy="252.7" r="5.5"/><circle cx="400.2" cy="176.3" r="5.5"/><circle cx="369.5" cy="270.3" r="5.5"/></g>
<g fill="rgba(255,0,0,0.30)"><circle cx="295" cy="472.1" r="5.5"/></g>
<g fill="rgba(0,255,0,0.30)"><circle cx="356.4" cy="234.8" r="5.5"/><circle cx="286.8" cy="362.2" r="5.5"/><circle cx="335.6" cy="289.6" r="5.5"/><circle cx="352.3" cy="264.9" r="5.5"/><circle cx="357.3" cy="242.7" r="5.5"/><circle cx="413.7" cy="259.7" r="5.5"/></g>
<g fill="rgba(255,0,0,0.30)"><circle cx="328.5" cy="390.5" r="5.5"/></g>
<g fill="rgba(0,255,0,0.30)"><circle cx="367" cy="272.9" r="5.5"/><circle cx="341.2" cy="300.1" r="5.5"/><circle cx="358.1" cy="297.4" r="5.5"/></g>
<g fill="rgba(255,0,0,0.30)"><circle cx="319.2" cy="333.7" r="5.5"/><circle cx="368.4" cy="367.6" r="5.5"/></g>
<g fill="rgba(0,255,0,0.30)"><circle cx="395.2" cy="249.3" r="5.5"/></g>
<g fill="rgba(255,0,0,0.30)"><circle cx="308.8" cy="350.3" r="5.5"/><circle cx="252" cy="362.9" r="5.5"/><circle cx="302.2" cy="361.3" r="5.5"/></g>
<g fill="rgba(0,255,0,0.30)"><circle cx="310.1" cy="256.2" r="5.5"/><circle cx="452.7" cy="127.6" r="5.5"/></g>
<g fill="rgba(255,0,0,0.30)"><circle cx="422.1" cy="317.9" r="5.5"/><circle cx="298.9" cy="403.7" r="5.5"/><circle cx="283.7" cy="361.3" r="5.5"/></g>
<g fill="rgba(0,255,0,0.30)"><circle cx="302.7" cy="270.9" r="5.5"/><circle cx="375.1" cy="248.3" r="5.5"/><circle cx="537" cy="139.9" r="5.5"/></g>
<g fill="rgba(255,0,0,0.30)"><circle cx="229.2" cy="399.4" r="5.5"/></g>
<g fill="rgba(0,255,0,0.30)"><circle cx="347.9" cy="327" r="5.5"/></g>
<g fill="rgba(255,0,0,0.30)"><circle cx="360.4" cy="316.5" r="5.5"/></g>
<g fill="rgba(0,255,0,0.30)"><circle cx="371.8" cy="216.6" r="5.5"/><circle cx="386.4" cy="179.5" r="5.5"/><circle cx="350" cy="356.4" r="5.5"/><circle cx="464.5" cy="235.2" r="5.5"/><circle cx="333.6" cy="262.8" r="5.5"/><circle cx="356.1" cy="231" r="5.5"/><circle cx="378.1" cy="130.6" r="5.5"/><circle cx="357.7" cy="306.7" r="5.5"/><circle cx="353.9" cy="305.5" r="5.5"/></g>
<g fill="rgba(255,0,0,0.30)"><circle cx="370" cy="286.2" r="5.5"/><circle cx="282.4" cy="367.2" r="5.5"/></g>
<g fill="rgba(0,255,0,0.30)"><circle cx="360.5" cy="219" r="5.5"/><circle cx="439.4" cy="121.8" r="5.5"/></g>
<g fill="rgba(255,0,0,0.30)"><circle cx="349.9" cy="337.5" r="5.5"/><circle cx="338.9" cy="370.8" r="5.5"/></g>
<g fill="rgba(0,255,0,0.30)"><circle cx="293.7" cy="273.4" r="5.5"/><circle cx="406.9" cy="252.7" r="5.5"/><circle cx="423.1" cy="285" r="5.5"/></g>
<g fill="rgba(255,0,0,0.30)"><circle cx="322.5" cy="319.1" r="5.5"/><circle cx="351.7" cy="313.7" r="5.5"/></g>
<g fill="rgba(0,255,0,0.30)"><circle cx="347.3" cy="311.7" r="5.5"/></g>
<g fill="rgba(255,0,0,0.30)"><circle cx="315.5" cy="384.5" r="5.5"/><circle cx="358.2" cy="321.9" r="5.5"/></g>
<g fill="rgba(0,255,0,0.30)"><circle cx="361.1" cy="236.6" r="5.5"/><circle cx="333.2" cy="261.1" r="5.5"/><circle cx="365.6" cy="182" r="5.5"/><circle cx="404.3" cy="205.4" r="5.5"/></g>
<g fill="rgba(255,0,0,0.30)"><circle cx="270" cy="410.8" r="5.5"/></g>
<g fill="rgba(0,255,0,0.30)"><circle cx="355.7" cy="292" r="5.5"/><circle cx="395.4" cy="220.6" r="5.5"/></g>
<g fill="rgba(255,0,0,0.30)"><circle cx="234.9" cy="386.3" r="5.5"/><circle cx="288.4" cy="408.9" r="5.5"/><circle cx="317.3" cy="373.1" r="5.5"/></g>
<g fill="rgba(0,255,0,0.30)"><circle cx="306.5" cy="295.4" r="5.5"/><circle cx="290.6" cy="351.2" r="5.5"/></g>
<g fill="rgba(255,0,0,0.30)"><circle cx="354.2" cy="369.6" r="5.5"/></g>
<g fill="rgba(0,255,0,0.30)"><circle cx="323.7" cy="330.7" r="5.5"/><circle cx="332.5" cy="279.2" r="5.5"/><circle cx="353.3" cy="260.3" r="5.5"/></g>
<g fill="rgba(255,0,0,0.30)"><circle cx="338" cy="322.3" r="5.5"/><circle cx="266.6" cy="377.6" r="5.5"/><circle cx="273.4" cy="388.5" r="5.5"/></g>
<g fill="rgba(0,255,0,0.30)"><circle cx="330.1" cy="346.7" r="5.5"/></g>
<g fill="rgba(255,0,0,0.30)"><circle cx="239.7" cy="379.5" r="5.5"/></g>
<g fill="rgba(0,255,0,0.30)"><circle cx="367.9" cy="280" r="5.5"/></g>
<g fill="rgba(255,0,0,0.30)"><circle cx="291.9" cy="353.8" r="5.5"/></g>
<g fill="rgba(0,255,0,0.30)"><circle cx="442.2" cy="270.9" r="5.5"/><circle cx="341" cy="264.7" r="5.5"/></g>
<g fill="rgba(255,0,0,0.30)"><circle cx="268.1" cy="354" r="5.5"/></g>
<g fill="rgba(0,255,0,0.30)"><circle cx="348.7" cy="299.7" r="5.5"/><circle cx="324.9" cy="287.2" r="5.5"/><circle cx="329.2" cy="307.5" r="5.5"/></g>
<g fill="rgba(255,0,0,0.30)"><circle cx="261.4" cy="374.8" r="5.5"/></g>
<g fill="rgba(0,255,0,0.30)"><circle cx="295.2" cy="236.2" r="5.5"/><circle cx="407.2" cy="168.8" r="5.5"/><circle cx="367.2" cy="211.6" r="5.5"/></g>
<g fill="rgba(255,0,0,0.30)"><circle cx="293.9" cy="335.3" r="5.5"/></g>
<g fill="rgba(0,255,0,0.30)"><circle cx="354.7" cy="243.3" r="5.5"/></g>
<g fill="rgba(255,0,0,0.30)"><circle cx="267.6" cy="380.3" r="5.5"/><circle cx="208.7" cy="381.2" r="5.5"/><circle cx="237.8" cy="353.1" r="5.5"/></g>
<g fill="rgba(0,255,0,0.30)"><circle cx="473.9" cy="135.7" r="5.5"/></g>
<g fill="rgba(255,0,0,0.30)"><circle cx="317.5" cy="347.6" r="5.5"/><circle cx="410.8" cy="301.3" r="5.5"/><circle cx="383.5" cy="294.6" r="5.5"/></g>
<g fill="rgba(0,255,0,0.30)"><circle cx="286.5" cy="424.2" r="5.5"/></g>
<g fill="rgba(255,0,0,0.30)"><circle cx="309.3" cy="363.2" r="5.5"/><circle cx="284.1" cy="376.1" r="5.5"/></g>
<g fill="rgba(0,255,0,0.30)"><circle cx="339.3" cy="248.2" r="5.5"/><circle cx="394.7" cy="280" r="5.5"/><circle cx="313.3" cy="318.3" r="5.5"/><circle cx="388.4" cy="189.8" r="5.5"/><circle cx="356.3" cy="291" r="5.5"/><circle cx="364.5" cy="273.2" r="5.5"/><circle cx="367.4" cy="267.2" r="5.5"/><circle cx="322.5" cy="336.5" r="5.5"/></g>
<g fill="rgba(255,0,0,0.30)"><circle cx="263.9" cy="323.9" r="5.5"/></g>
<g fill="rgba(0,255,0,0.30)"><circle cx="344.4" cy="281.7" r="5.5"/><circle cx="415.5" cy="195.4" r="5.5"/><circle cx="380" cy="238.2" r="5.5"/></g>
<g fill="rgba(255,0,0,0.30)"><circle cx="393.3" cy="386.1" r="5.5"/><circle cx="291.1" cy="379.9" r="5.5"/><circle cx="371.2" cy="395.4" r="5.5"/></g>
<g fill="rgba(0,255,0,0.30)"><circle cx="341.1" cy="334.4" r="5.5"/><circle cx="276.2" cy="382.5" r="5.5"/></g>
<g fill="rgba(255,0,0,0.30)"><circle cx="240.8" cy="358.3" r="5.5"/></g>
<g fill="rgba(0,255,0,0.30)"><circle cx="293.7" cy="230.7" r="5.5"/></g>
<g fill="rgba(255,0,0,0.30)"><circle cx="379.5" cy="340.9" r="5.5"/><circle cx="354.5" cy="313.9" r="5.5"/></g>
<g fill="rgba(0,255,0,0.30)"><circle cx="393" cy="271.7" r="5.5"/></g>
<g fill="rgba(255,0,0,0.30)"><circle cx="272.6" cy="349.8" r="5.5"/><circle cx="198.4" cy="384.4" r="5.5"/><circle cx="192.6" cy="371.8" r="5.5"/></g>
<g fill="rgba(0,255,0,0.30)"><circle cx="318.6" cy="269.1" r="5.5"/><circle cx="404.7" cy="172.7" r="5.5"/></g>
<g fill="rgba(255,0,0,0.30)"><circle cx="334.4" cy="364.3" r="5.5"/></g>
<g fill="rgba(0,255,0,0.30)"><circle cx="377.2" cy="302.1" r="5.5"/></g>
<g fill="rgba(255,0,0,0.30)"><circle cx="312.9" cy="384.5" r="5.5"/></g>
<g fill="rgba(0,255,0,0.30)"><circle cx="344.9" cy="331.8" r="5.5"/></g>
<g fill="rgba(255,0,0,0.30)"><circle cx="257" cy="412.3" r="5.5"/></g>
<g fill="rgba(0,255,0,0.30)"><circle cx="254" cy="359" r="5.5"/></g>
<g fill="rgba(255,0,0,0.30)"><circle cx="375.2" cy="203.6" r="5.5"/></g>
<g fill="rgba(0,255,0,0.30)"><circle cx="357.7" cy="288.7" r="5.5"/><circle cx="343.1" cy="249.5" r="5.5"/><circle cx="332.5" cy="242.3" r="5.5"/><circle cx="262.8" cy="348.1" r="5.5"/></g>
<g fill="rgba(255,0,0,0.30)"><circle cx="233.5" cy="389.6" r="5.5"/></g>
<g fill="rgba(0,255,0,0.30)"><circle cx="363.4" cy="299.4" r="5.5"/><circle cx="321.9" cy="342.3" r="5.5"/><circle cx="377.9" cy="171.3" r="5.5"/></g>
<g fill="rgba(255,0,0,0.30)"><circle cx="325.4" cy="362.2" r="5.5"/></g>
<g fill="rgba(0,255,0,0.30)"><circle cx="420.5" cy="263.2" r="5.5"/></g>
<g fill="rgba(255,0,0,0.30)"><circle cx="404.1" cy="251" r="5.5"/></g>
<g fill="rgba(0,255,0,0.30)"><circle cx="279.5" cy="350.9" r="5.5"/><circle cx="335.9" cy="258.2" r="5.5"/><circle cx="366.3" cy="238.1" r="5.5"/></g>
<g fill="rgba(255,0,0,0.30)"><circle cx="325.1" cy="404.5" r="5.5"/><circle cx="243.2" cy="359.8" r="5.5"/></g>
<g fill="rgba(0,255,0,0.30)"><circle cx="329.7" cy="266.5" r="5.5"/><circle cx="375.2" cy="239.1" r="5.5"/><circle cx="330.6" cy="262.9" r="5.5"/><circle cx="323" cy="239.7" r="5.5"/><circle cx="357.2" cy="198.3" r="5.5"/></g>
<g fill="rgba(255,0,0,0.30)"><circle cx="332" cy="307.1" r="5.5"/><circle cx="251.1" cy="407.6" r="5.5"/><circle cx="270.2" cy="374.6" r="5.5"/></g>
<g fill="rgba(0,255,0,0.30)"><circle cx="358" cy="319.8" r="5.5"/><circle cx="472.9" cy="159.7" r="5.5"/><circle cx="295.6" cy="265.4" r="5.5"/><circle cx="334" cy="323.3" r="5.5"/></g>
<g fill="rgba(255,0,0,0.30)"><circle cx="342.3" cy="326.6" r="5.5"/></g>
<g fill="rgba(0,255,0,0.30)"><circle cx="315" cy="391" r="5.5"/></g>
<g fill="rgba(255,0,0,0.30)"><circle cx="262.6" cy="386.9" r="5.5"/></g>
<g fill="rgba(0,255,0,0.30)"><circle cx="427" cy="270" r="5.5"/></g>
<g fill="rgba(255,0,0,0.30)"><circle cx="296.5" cy="372.3" r="5.5"/><circle cx="332.1" cy="368" r="5.5"/></g>
<g fill="rgba(0,255,0,0.30)"><circle cx="343.2" cy="257" r="5.5"/><circle cx="392.8" cy="315.5" r="5.5"/></g>
<g fill="rgba(255,0,0,0.30)"><circle cx="307" cy="398.4" r="5.5"/><circle cx="302.7" cy="402.4" r="5.5"/></g>
<g fill="rgba(0,255,0,0.30)"><circle cx="393.4" cy="245.7" r="5.5"/></g>
<g fill="rgba(255,0,0,0.30)"><circle cx="187.4" cy="386.1" r="5.5"/></g>
<g fill="rgba(0,255,0,0.30)"><circle cx="395.7" cy="260.9" r="5.5"/></g>
<g fill="rgba(255,0,0,0.30)"><circle cx="341.1" cy="344.3" r="5.5"/></g>
<g fill="rgba(0,255,0,0.30)"><circle cx="423.4" cy="228.3" r="5.5"/></g>
<g fill="rgba(255,0,0,0.30)"><circle cx="208.9" cy="392.5" r="5.5"/></g>
<g fill="rgba(0,255,0,0.30)"><circle cx="408.3" cy="143.2" r="5.5"/><circle cx="458.1" cy="214.7" r="5.5"/></g>
<g fill="rgba(255,0,0,0.30)"><circle cx="317.1" cy="379.9" r="5.5"/></g>
<g fill="rgba(0,255,0,0.30)"><circle cx="351.4" cy="248.5" r="5.5"/><circle cx="373" cy="373" r="5.5"/><circle cx="317.7" cy="382.9" r="5.5"/><circle cx="337.5" cy="259.7" r="5.5"/><circle cx="396.2" cy="269.4" r="5.5"/><circle cx="410.7" cy="228.4" r="5.5"/></g>
<g fill="rgba(255,0,0,0.30)"><circle cx="347.4" cy="376.2" r="5.5"/><circle cx="265.6" cy="380.3" r="5.5"/></g>
<g fill="rgba(0,255,0,0.30)"><circle cx="449.5" cy="233.4" r="5.5"/><circle cx="387.1" cy="343" r="5.5"/></g>
<g fill="rgba(255,0,0,0.30)"><circle cx="341.1" cy="292.5" r="5.5"/></g>
<g fill="rgba(0,255,0,0.30)"><circle cx="290.4" cy="299.2" r="5.5"/></g>
<g fill="rgba(255,0,0,0.30)"><circle cx="254.1" cy="392.7" r="5.5"/><circle cx="393.9" cy="307.3" r="5.5"/><circle cx="299.6" cy="433.8" r="5.5"/><circle cx="303.1" cy="350.3" r="5.5"/><circle cx="289.4" cy="367.8" r="5.5"/><circle cx="278" cy="311.9" r="5.5"/></g>
<g fill="rgba(0,255,0,0.30)"><circle cx="385.7" cy="283.3" r="5.5"/></g>
<g fill="rgba(255,0,0,0.30)"><circle cx="234.7" cy="359.9" r="5.5"/><circle cx="291" cy="375.7" r="5.5"/></g>
<g fill="rgba(0,255,0,0.30)"><circle cx="357" cy="214.8" r="5.5"/></g>
<g fill="rgba(255,0,0,0.30)"><circle cx="293.3" cy="401.9" r="5.5"/></g>
<g fill="rgba(0,255,0,0.30)"><circle cx="457.6" cy="188.2" r="5.5"/><circle cx="396.6" cy="235.8" r="5.5"/><circle cx="384.5" cy="247.4" r="5.5"/></g>
<g fill="rgba(255,0,0,0.30)"><circle cx="285.3" cy="364.9" r="5.5"/></g>
<g fill="rgba(0,255,0,0.30)"><circle cx="337.1" cy="369.3" r="5.5"/></g>
<g fill="rgba(255,0,0,0.30)"><circle cx="411" cy="343.7" r="5.5"/></g>
<g fill="rgba(0,255,0,0.30)"><circle cx="390.8" cy="327.8" r="5.5"/><circle cx="380.2" cy="266.2" r="5.5"/><circle cx="299.2" cy="402.1" r="5.5"/></g>
<g fill="rgba(255,0,0,0.30)"><circle cx="308.9" cy="346.7" r="5.5"/></g>
<g fill="rgba(0,255,0,0.30)"><circle cx="387.6" cy="220" r="5.5"/></g>
<g fill="rgba(255,0,0,0.30)"><circle cx="387.3" cy="328.9" r="5.5"/></g>
<g fill="rgba(0,255,0,0.30)"><circle cx="374.2" cy="371.7" r="5.5"/></g>
<g fill="rgba(255,0,0,0.30)"><circle cx="338.4" cy="376.8" r="5.5"/><circle cx="342.1" cy="390.3" r="5.5"/></g>
<g fill="rgba(0,255,0,0.30)"><circle cx="356.8" cy="263.5" r="5.5"/><circle cx="360.6" cy="339.7" r="5.5"/></g>
<g fill="rgba(255,0,0,0.30)"><circle cx="310" cy="361.9" r="5.5"/><circle cx="261" cy="419.2" r="5.5"/><circle cx="390.7" cy="255.5" r="5.5"/></g>
<g fill="rgba(0,255,0,0.30)"><circle cx="367.2" cy="177.1" r="5.5"/><circle cx="331" cy="322.5" r="5.5"/></g>
<g fill="rgba(255,0,0,0.30)"><circle cx="403.3" cy="249.1" r="5.5"/><circle cx="356.3" cy="332.8" r="5.5"/></g>
<g fill="rgba(0,255,0,0.30)"><circle cx="415.3" cy="238.5" r="5.5"/><circle cx="322.7" cy="286.2" r="5.5"/></g>
<g fill="rgba(255,0,0,0.30)"><circle cx="252.7" cy="363.5" r="5.5"/><circle cx="224.6" cy="371.9" r="5.5"/></g>
<g fill="rgba(0,255,0,0.30)"><circle cx="407.8" cy="172" r="5.5"/><circle cx="402.7" cy="193.4" r="5.5"/><circle cx="315" cy="228.2" r="5.5"/><circle cx="345.8" cy="219.9" r="5.5"/></g>
<g fill="rgba(255,0,0,0.30)"><circle cx="292.2" cy="313.2" r="5.5"/></g>
<g fill="rgba(0,255,0,0.30)"><circle cx="348.8" cy="324.8" r="5.5"/></g>
<g fill="rgba(255,0,0,0.30)"><circle cx="259.9" cy="391.5" r="5.5"/></g>
<g fill="rgba(0,255,0,0.30)"><circle cx="324.1" cy="351.1" r="5.5"/><circle cx="450.2" cy="184.7" r="5.5"/><circle cx="294.1" cy="339.1" r="5.5"/><circle cx="353.7" cy="255.5" r="5.5"/><circle cx="391.6" cy="260.4" r="5.5"/><circle cx="302.4" cy="346.2" r="5.5"/><circle cx="405.1" cy="228.8" r="5.5"/><circle cx="304.7" cy="282.2" r="5.5"/></g>
<g fill="rgba(255,0,0,0.30)"><circle cx="364.3" cy="263.3" r="5.5"/></g>
<g fill="rgba(0,255,0,0.30)"><circle cx="356.3" cy="289.5" r="5.5"/><circle cx="314.8" cy="295" r="5.5"/></g>
<g fill="rgba(255,0,0,0.30)"><circle cx="265.4" cy="389.5" r="5.5"/></g>
<g fill="rgba(0,255,0,0.30)"><circle cx="324.1" cy="263.5" r="5.5"/></g>
<g fill="rgba(255,0,0,0.30)"><circle cx="366.4" cy="311.3" r="5.5"/><circle cx="345.7" cy="315.6" r="5.5"/><circle cx="274.4" cy="362" r="5.5"/></g>
<g fill="rgba(0,255,0,0.30)"><circle cx="366" cy="300.4" r="5.5"/><circle cx="337.6" cy="234.3" r="5.5"/><circle cx="392.1" cy="255.2" r="5.5"/></g>
<g fill="rgba(255,0,0,0.30)"><circle cx="224.5" cy="349.5" r="5.5"/><circle cx="407.8" cy="305.1" r="5.5"/><circle cx="325.5" cy="333.2" r="5.5"/><circle cx="299.5" cy="355.9" r="5.5"/></g>
<g fill="rgba(0,255,0,0.30)"><circle cx="349.2" cy="328.5" r="5.5"/><circle cx="392.7" cy="199.6" r="5.5"/><circle cx="418" cy="315.4" r="5.5"/><circle cx="351.3" cy="300.4" r="5.5"/></g>
<g fill="rgba(255,0,0,0.30)"><circle cx="289.1" cy="310.1" r="5.5"/></g>
<g fill="rgba(0,255,0,0.30)"><circle cx="473" cy="185.9" r="5.5"/></g>
<g fill="rgba(255,0,0,0.30)"><circle cx="300.7" cy="318.7" r="5.5"/></g>
<g fill="rgba(0,255,0,0.30)"><circle cx="298.2" cy="273.1" r="5.5"/><circle cx="361.2" cy="399" r="5.5"/><circle cx="363.3" cy="239.4" r="5.5"/><circle cx="395.1" cy="255.6" r="5.5"/><circle cx="385.3" cy="262.6" r="5.5"/><circle cx="354.6" cy="225.2" r="5.5"/></g>
<g fill="rgba(255,0,0,0.30)"><circle cx="407.2" cy="314.6" r="5.5"/></g>
<g fill="rgba(0,255,0,0.30)"><circle cx="355.8" cy="242.5" r="5.5"/></g>
<g fill="rgba(255,0,0,0.30)"><circle cx="285.7" cy="379.9" r="5.5"/></g>
<g fill="rgba(0,255,0,0.30)"><circle cx="354" cy="281.1" r="5.5"/></g>
<g fill="rgba(255,0,0,0.30)"><circle cx="243.7" cy="396.5" r="5.5"/><circle cx="306" cy="360.2" r="5.5"/></g>
<g fill="rgba(0,255,0,0.30)"><circle cx="348" cy="355.4" r="5.5"/><circle cx="314.9" cy="358.4" r="5.5"/></g>
<g fill="rgba(255,0,0,0.30)"><circle cx="343.3" cy="316.7" r="5.5"/></g>
<g fill="rgba(0,255,0,0.30)"><circle cx="434.6" cy="187.9" r="5.5"/><circle cx="344.3" cy="256.6" r="5.5"/><circle cx="364.7" cy="211.7" r="5.5"/><circle cx="352.9" cy="253.8" r="5.5"/></g>
<g fill="rgba(255,0,0,0.30)"><circle cx="252.8" cy="374.3" r="5.5"/></g>
<g fill="rgba(0,255,0,0.30)"><circle cx="363.3" cy="200.7" r="5.5"/></g>
<g fill="rgba(255,0,0,0.30)"><circle cx="312.3" cy="335.2" r="5.5"/></g>
<g fill="rgba(0,255,0,0.30)"><circle cx="435.1" cy="183.1" r="5.5"/></g>
<g fill="rgba(255,0,0,0.30)"><circle cx="395.7" cy="354.7" r="5.5"/><circle cx="344.1" cy="338.1" r="5.5"/><circle cx="256" cy="327.8" r="5.5"/></g>
<g fill="rgba(0,255,0,0.30)"><circle cx="308.5" cy="408.7" r="5.5"/><circle cx="321.9" cy="287.6" r="5.5"/><circle cx="364.3" cy="456.5" r="5.5"/></g>
<g fill="rgba(255,0,0,0.30)"><circle cx="268.8" cy="346.2" r="5.5"/></g>
<g fill="rgba(0,255,0,0.30)"><circle cx="316.7" cy="299.2" r="5.5"/></g>
<g fill="rgba(255,0,0,0.30)"><circle cx="326.2" cy="346.7" r="5.5"/><circle cx="264.3" cy="393.9" r="5.5"/></g>
<g fill="rgba(0,255,0,0.30)"><circle cx="376.4" cy="256.7" r="5.5"/><circle cx="293.6" cy="338" r="5.5"/><circle cx="430" cy="280.3" r="5.5"/><circle cx="365.7" cy="158.7" r="5.5"/><circle cx="344.3" cy="209.5" r="5.5"/></g>
<g fill="rgba(255,0,0,0.30)"><circle cx="298.1" cy="362.4" r="5.5"/></g>
<g fill="rgba(0,255,0,0.30)"><circle cx="409.8" cy="226.6" r="5.5"/></g>
<g fill="rgba(255,0,0,0.30)"><circle cx="290.7" cy="388.9" r="5.5"/><circle cx="378.6" cy="333.8" r="5.5"/><circle cx="311.9" cy="417.1" r="5.5"/></g>
<g fill="rgba(0,255,0,0.30)"><circle cx="375.1" cy="291.4" r="5.5"/><circle cx="358.7" cy="332.1" r="5.5"/></g>
<g fill="rgba(255,0,0,0.30)"><circle cx="267.2" cy="394.4" r="5.5"/><circle cx="239.9" cy="370.1" r="5.5"/><circle cx="418.1" cy="268.6" r="5.5"/><circle cx="266.4" cy="362.9" r="5.5"/><circle cx="279.1" cy="388.9" r="5.5"/></g>
<g fill="rgba(0,255,0,0.30)"><circle cx="409.3" cy="345.7" r="5.5"/><circle cx="388.1" cy="224.8" r="5.5"/><circle cx="353.8" cy="287.1" r="5.5"/></g>
<g fill="rgba(255,0,0,0.30)"><circle cx="281" cy="414.2" r="5.5"/></g>
<g fill="rgba(0,255,0,0.30)"><circle cx="385.9" cy="340" r="5.5"/></g>
<g fill="rgba(255,0,0,0.30)"><circle cx="320.6" cy="364.1" r="5.5"/></g>
<g fill="rgba(0,255,0,0.30)"><circle cx="508.5" cy="124.9" r="5.5"/></g>
<g fill="rgba(255,0,0,0.30)"><circle cx="292.1" cy="319.5" r="5.5"/><circle cx="358.3" cy="350.5" r="5.5"/></g>
<g fill="rgba(0,255,0,0.30)"><circle cx="427.9" cy="225.6" r="5.5"/><circle cx="417.8" cy="199.3" r="5.5"/><circle cx="332.4" cy="168.8" r="5.5"/></g>
<g fill="rgba(255,0,0,0.30)"><circle cx="244.9" cy="370.6" r="5.5"/></g>
<g fill="rgba(0,255,0,0.30)"><circle cx="351.5" cy="269.1" r="5.5"/></g>
<g fill="rgba(255,0,0,0.30)"><circle cx="274" cy="355.4" r="5.5"/></g>
<g fill="rgba(0,255,0,0.30)"><circle cx="358.8" cy="278.6" r="5.5"/><circle cx="374.2" cy="297.5" r="5.5"/><circle cx="313.3" cy="156.9" r="5.5"/></g>
<g fill="rgba(255,0,0,0.30)"><circle cx="280.8" cy="357" r="5.5"/><circle cx="319.5" cy="340.6" r="5.5"/></g>
<g fill="rgba(0,255,0,0.30)"><circle cx="342" cy="267.4" r="5.5"/><circle cx="399.9" cy="201.1" r="5.5"/></g>
<g fill="rgba(255,0,0,0.30)"><circle cx="414" cy="282.5" r="5.5"/><circle cx="312.4" cy="382.6" r="5.5"/><circle cx="241" cy="360.9" r="5.5"/></g>
<g fill="rgba(0,255,0,0.30)"><circle cx="368" cy="181.3" r="5.5"/></g>
<g fill="rgba(255,0,0,0.30)"><circle cx="385.7" cy="264.9" r="5.5"/></g>
<g fill="rgba(0,255,0,0.30)"><circle cx="470.1" cy="134.2" r="5.5"/></g>
<g fill="rgba(255,0,0,0.30)"><circle cx="404" cy="226.5" r="5.5"/></g>
<g fill="rgba(0,255,0,0.30)"><circle cx="404.3" cy="155.8" r="5.5"/><circle cx="368.3" cy="175.9" r="5.5"/><circle cx="320.9" cy="349.3" r="5.5"/></g>
<g fill="rgba(255,0,0,0.30)"><circle cx="246.8" cy="350.6" r="5.5"/><circle cx="345.3" cy="326.6" r="5.5"/></g>
<g fill="rgba(0,255,0,0.30)"><circle cx="368.1" cy="357.7" r="5.5"/><circle cx="386.2" cy="240.2" r="5.5"/></g>
<g fill="rgba(255,0,0,0.30)"><circle cx="248.7" cy="348.6" r="5.5"/><circle cx="312.6" cy="347.7" r="5.5"/></g>
<g fill="rgba(0,255,0,0.30)"><circle cx="389.7" cy="222.6" r="5.5"/><circle cx="389.5" cy="245.4" r="5.5"/><circle cx="379.9" cy="279.2" r="5.5"/><circle cx="280.2" cy="318" r="5.5"/><circle cx="354.8" cy="267.3" r="5.5"/><circle cx="420.8" cy="192.9" r="5.5"/><circle cx="338" cy="251" r="5.5"/><circle cx="417.4" cy="217.8" r="5.5"/><circle cx="357.4" cy="276.3" r="5.5"/><circle cx="366.4" cy="314.3" r="5.5"/></g>
<g fill="rgba(255,0,0,0.30)"><circle cx="348.7" cy="283.5" r="5.5"/></g>
<g fill="rgba(0,255,0,0.30)"><circle cx="368.5" cy="262.3" r="5.5"/><circle cx="421.8" cy="212.9" r="5.5"/><circle cx="299.8" cy="351.9" r="5.5"/><circle cx="262.9" cy="373.5" r="5.5"/><circle cx="411.3" cy="180.7" r="5.5"/></g>
<g fill="rgba(255,0,0,0.30)"><circle cx="435.7" cy="334.8" r="5.5"/></g>
<g fill="rgba(0,255,0,0.30)"><circle cx="383.1" cy="214.1" r="5.5"/></g>
<g fill="rgba(255,0,0,0.30)"><circle cx="309.4" cy="327.6" r="5.5"/></g>
<g fill="rgba(0,255,0,0.30)"><circle cx="358.4" cy="239" r="5.5"/></g>
<g fill="rgba(255,0,0,0.30)"><circle cx="197.9" cy="378.4" r="5.5"/></g>
<g fill="rgba(0,255,0,0.30)"><circle cx="381.8" cy="187.4" r="5.5"/><circle cx="281.4" cy="363.3" r="5.5"/></g>
<g fill="rgba(255,0,0,0.30)"><circle cx="356" cy="331.1" r="5.5"/><circle cx="275.1" cy="365.7" r="5.5"/></g>
<g fill="rgba(0,255,0,0.30)"><circle cx="466.3" cy="199.4" r="5.5"/><circle cx="342.4" cy="300.1" r="5.5"/><circle cx="435.3" cy="155.8" r="5.5"/></g>
<g fill="rgba(255,0,0,0.30)"><circle cx="296.3" cy="389.8" r="5.5"/><circle cx="353.1" cy="318.8" r="5.5"/></g>
<g fill="rgba(0,255,0,0.30)"><circle cx="374.8" cy="221.8" r="5.5"/><circle cx="350.1" cy="233.9" r="5.5"/><circle cx="312.6" cy="230" r="5.5"/></g>
<g fill="rgba(255,0,0,0.30)"><circle cx="403.2" cy="320.1" r="5.5"/><circle cx="321" cy="368.1" r="5.5"/></g>
<g fill="rgba(0,255,0,0.30)"><circle cx="451.1" cy="197.6" r="5.5"/></g>
<g fill="rgba(255,0,0,0.30)"><circle cx="280.2" cy="351.5" r="5.5"/></g>
<g fill="rgba(0,255,0,0.30)"><circle cx="344.8" cy="287.8" r="5.5"/><circle cx="357.7" cy="294.9" r="5.5"/><circle cx="371.4" cy="254.3" r="5.5"/></g>
<g fill="rgba(255,0,0,0.30)"><circle cx="251.4" cy="366.1" r="5.5"/></g>
<g fill="rgba(0,255,0,0.30)"><circle cx="325.1" cy="344.5" r="5.5"/></g>
<g fill="rgba(255,0,0,0.30)"><circle cx="297.1" cy="356.4" r="5.5"/></g>
<g fill="rgba(0,255,0,0.30)"><circle cx="363.3" cy="207.8" r="5.5"/><circle cx="402.3" cy="183.4" r="5.5"/><circle cx="428.7" cy="270" r="5.5"/><circle cx="353.1" cy="240.8" r="5.5"/></g>
<g fill="rgba(255,0,0,0.30)"><circle cx="276.4" cy="356.8" r="5.5"/><circle cx="383.8" cy="361.3" r="5.5"/></g>
<g fill="rgba(0,255,0,0.30)"><circle cx="365.5" cy="414.6" r="5.5"/><circle cx="356" cy="267.9" r="5.5"/><circle cx="408.9" cy="278.9" r="5.5"/><circle cx="399.4" cy="243.6" r="5.5"/><circle cx="372.1" cy="158.6" r="5.5"/><circle cx="402.6" cy="218.9" r="5.5"/><circle cx="385.8" cy="279" r="5.5"/><circle cx="396.4" cy="221.8" r="5.5"/></g>
<g fill="rgba(255,0,0,0.30)"><circle cx="347.4" cy="334" r="5.5"/></g>
<g fill="rgba(0,255,0,0.30)"><circle cx="352.6" cy="292.2" r="5.5"/></g>
<g fill="rgba(255,0,0,0.30)"><circle cx="270.1" cy="377.1" r="5.5"/><circle cx="295.4" cy="333.3" r="5.5"/></g>
<g fill="rgba(0,255,0,0.30)"><circle cx="298.6" cy="293.5" r="5.5"/></g>
<g fill="rgba(255,0,0,0.30)"><circle cx="340.7" cy="357.3" r="5.5"/></g>
<g fill="rgba(0,255,0,0.30)"><circle cx="297.2" cy="274.3" r="5.5"/><circle cx="316.5" cy="245.4" r="5.5"/><circle cx="302.2" cy="183.9" r="5.5"/><circle cx="258.1" cy="270.6" r="5.5"/></g>
<g fill="rgba(255,0,0,0.30)"><circle cx="263.2" cy="333.3" r="5.5"/><circle cx="345.9" cy="324.6" r="5.5"/></g>
<g fill="rgba(0,255,0,0.30)"><circle cx="355.5" cy="187.4" r="5.5"/></g>
<g fill="rgba(255,0,0,0.30)"><circle cx="253.5" cy="349" r="5.5"/><circle cx="340.2" cy="300" r="5.5"/><circle cx="222.4" cy="368.3" r="5.5"/><circle cx="298.9" cy="378.2" r="5.5"/></g>
<g fill="rgba(0,255,0,0.30)"><circle cx="427.9" cy="261.4" r="5.5"/><circle cx="370.1" cy="246.7" r="5.5"/><circle cx="346.1" cy="298.6" r="5.5"/><circle cx="348.9" cy="195.9" r="5.5"/><circle cx="414.2" cy="184.2" r="5.5"/><circle cx="350.2" cy="257" r="5.5"/><circle cx="368" cy="232.1" r="5.5"/><circle cx="311" cy="252.7" r="5.5"/><circle cx="436.5" cy="139.7" r="5.5"/><circle cx="324.5" cy="341.3" r="5.5"/></g>
<g fill="rgba(255,0,0,0.30)"><circle cx="290.5" cy="367.1" r="5.5"/><circle cx="339.3" cy="372.3" r="5.5"/></g>
<g fill="rgba(0,255,0,0.30)"><circle cx="305.7" cy="292.1" r="5.5"/></g>
<g fill="rgba(255,0,0,0.30)"><circle cx="282" cy="371.2" r="5.5"/></g>
<g fill="rgba(0,255,0,0.30)"><circle cx="393.6" cy="238.5" r="5.5"/><circle cx="373.3" cy="313.3" r="5.5"/></g>
<g fill="rgba(255,0,0,0.30)"><circle cx="285" cy="331.4" r="5.5"/></g>
<g fill="rgba(0,255,0,0.30)"><circle cx="309.1" cy="299.5" r="5.5"/></g>
<g fill="rgba(255,0,0,0.30)"><circle cx="268.1" cy="351.7" r="5.5"/><circle cx="235.1" cy="356.6" r="5.5"/></g>
<g fill="rgba(0,255,0,0.30)"><circle cx="316.2" cy="240.5" r="5.5"/><circle cx="415.2" cy="194.1" r="5.5"/><circle cx="352.5" cy="308" r="5.5"/><circle cx="374.9" cy="311.7" r="5.5"/><circle cx="392.1" cy="281.2" r="5.5"/></g>
<g fill="rgba(255,0,0,0.30)"><circle cx="394.1" cy="298.3" r="5.5"/><circle cx="246.8" cy="348.7" r="5.5"/><circle cx="269.4" cy="358.8" r="5.5"/><circle cx="283.8" cy="314.4" r="5.5"/><circle cx="348.6" cy="225.9" r="5.5"/></g>
<g fill="rgba(0,255,0,0.30)"><circle cx="370.9" cy="316.2" r="5.5"/></g>
<g fill="rgba(255,0,0,0.30)"><circle cx="390.2" cy="306.8" r="5.5"/><circle cx="236.5" cy="396.7" r="5.5"/></g>
<g fill="rgba(0,255,0,0.30)"><circle cx="377.2" cy="106" r="5.5"/><circle cx="395.7" cy="287.2" r="5.5"/><circle cx="452.5" cy="239.6" r="5.5"/><circle cx="344.7" cy="285.6" r="5.5"/><circle cx="401.1" cy="260.6" r="5.5"/><circle cx="310.2" cy="339.2" r="5.5"/></g>
<g fill="rgba(255,0,0,0.30)"><circle cx="296.2" cy="402.7" r="5.5"/></g>
<g fill="rgba(0,255,0,0.30)"><circle cx="339.9" cy="295.2" r="5.5"/><circle cx="346.1" cy="256.9" r="5.5"/><circle cx="357.2" cy="211.4" r="5.5"/><circle cx="413.4" cy="169.6" r="5.5"/><circle cx="271.1" cy="390.7" r="5.5"/><circle cx="410.2" cy="194.3" r="5.5"/><circle cx="386.3" cy="225.6" r="5.5"/><circle cx="371.4" cy="232.3" r="5.5"/><circle cx="357.1" cy="270.8" r="5.5"/></g>
<g fill="rgba(255,0,0,0.30)"><circle cx="262.9" cy="378.4" r="5.5"/><circle cx="340.6" cy="402.5" r="5.5"/></g>
<g fill="rgba(0,255,0,0.30)"><circle cx="394.6" cy="311.2" r="5.5"/><circle cx="339.9" cy="325.9" r="5.5"/><circle cx="452.3" cy="135.1" r="5.5"/></g>
<g fill="rgba(255,0,0,0.30)"><circle cx="257.9" cy="386.8" r="5.5"/><circle cx="374.9" cy="362.7" r="5.5"/></g>
<g fill="rgba(0,255,0,0.30)"><circle cx="383" cy="151.3" r="5.5"/></g>
<g fill="rgba(255,0,0,0.30)"><circle cx="359.6" cy="365.8" r="5.5"/></g>
<g fill="rgba(0,255,0,0.30)"><circle cx="373.9" cy="217.6" r="5.5"/></g>
<g fill="rgba(255,0,0,0.30)"><circle cx="303" cy="330.5" r="5.5"/></g>
<g fill="rgba(0,255,0,0.30)"><circle cx="318.6" cy="279" r="5.5"/><circle cx="451.2" cy="220.2" r="5.5"/><circle cx="399.1" cy="199.3" r="5.5"/></g>
<g fill="rgba(255,0,0,0.30)"><circle cx="302.7" cy="362.4" r="5.5"/><circle cx="398.1" cy="305" r="5.5"/></g>
<g fill="rgba(0,255,0,0.30)"><circle cx="283.4" cy="295.1" r="5.5"/><circle cx="404.1" cy="254.4" r="5.5"/><circle cx="475.8" cy="129.2" r="5.5"/></g>
<g fill="rgba(255,0,0,0.30)"><circle cx="364.2" cy="359.1" r="5.5"/><circle cx="250" cy="407.9" r="5.5"/><circle cx="280.3" cy="374.1" r="5.5"/></g>
<g fill="rgba(0,255,0,0.30)"><circle cx="354.9" cy="176.3" r="5.5"/><circle cx="429.8" cy="237.1" r="5.5"/></g>
<g fill="rgba(255,0,0,0.30)"><circle cx="249.3" cy="357.9" r="5.5"/><circle cx="261.6" cy="357.2" r="5.5"/><circle cx="260.3" cy="439.1" r="5.5"/><circle cx="292" cy="358.5" r="5.5"/><circle cx="293.6" cy="390.7" r="5.5"/><circle cx="367.3" cy="258.4" r="5.5"/></g>
<g fill="rgba(0,255,0,0.30)"><circle cx="375.2" cy="272.3" r="5.5"/><circle cx="340" cy="325.1" r="5.5"/><circle cx="332.8" cy="224" r="5.5"/><circle cx="341.6" cy="317.8" r="5.5"/></g>
<g fill="rgba(255,0,0,0.30)"><circle cx="376.4" cy="315" r="5.5"/><circle cx="380.2" cy="338.8" r="5.5"/></g>
<g fill="rgba(0,255,0,0.30)"><circle cx="367.6" cy="260.8" r="5.5"/></g>
<g fill="rgba(255,0,0,0.30)"><circle cx="323.5" cy="353.3" r="5.5"/><circle cx="378.4" cy="338.7" r="5.5"/></g>
<g fill="rgba(0,255,0,0.30)"><circle cx="359.8" cy="212.4" r="5.5"/></g>
<g fill="rgba(255,0,0,0.30)"><circle cx="369.2" cy="329.2" r="5.5"/></g>
<g fill="rgba(0,255,0,0.30)"><circle cx="347.7" cy="234.1" r="5.5"/></g>
<g fill="rgba(255,0,0,0.30)"><circle cx="326.3" cy="330.7" r="5.5"/></g>
<g fill="rgba(0,255,0,0.30)"><circle cx="362.9" cy="257.1" r="5.5"/></g>
<g fill="rgba(255,0,0,0.30)"><circle cx="244.4" cy="395.9" r="5.5"/></g>
<g fill="rgba(0,255,0,0.30)"><circle cx="389.8" cy="254.3" r="5.5"/><circle cx="352.6" cy="216" r="5.5"/></g>
<g fill="rgba(255,0,0,0.30)"><circle cx="260.1" cy="343" r="5.5"/></g>
<g fill="rgba(0,255,0,0.30)"><circle cx="401" cy="266.8" r="5.5"/></g>
<g fill="rgba(255,0,0,0.30)"><circle cx="303.3" cy="322.6" r="5.5"/><circle cx="290" cy="378.1" r="5.5"/><circle cx="304" cy="282.5" r="5.5"/><circle cx="429.9" cy="372.2" r="5.5"/></g>
<g fill="rgba(0,255,0,0.30)"><circle cx="316.1" cy="341.8" r="5.5"/></g>
<g fill="rgba(255,0,0,0.30)"><circle cx="246" cy="477.2" r="5.5"/></g>
<g fill="rgba(0,255,0,0.30)"><circle cx="405.6" cy="245.1" r="5.5"/></g>
<g fill="rgba(255,0,0,0.30)"><circle cx="352.9" cy="293.5" r="5.5"/></g>
<g fill="rgba(0,255,0,0.30)"><circle cx="329.1" cy="223.7" r="5.5"/></g>
<g fill="rgba(255,0,0,0.30)"><circle cx="268.3" cy="327.2" r="5.5"/></g>
<g fill="rgba(0,255,0,0.30)"><circle cx="336.6" cy="295.5" r="5.5"/><circle cx="344.1" cy="217" r="5.5"/></g>
<g fill="rgba(255,0,0,0.30)"><circle cx="263.6" cy="383.7" r="5.5"/><circle cx="230.1" cy="330.4" r="5.5"/><circle cx="219.3" cy="411.2" r="5.5"/></g>
<g fill="rgba(0,255,0,0.30)"><circle cx="453.6" cy="209.2" r="5.5"/></g>
<g fill="rgba(255,0,0,0.30)"><circle cx="263.5" cy="448.9" r="5.5"/><circle cx="364.7" cy="354.5" r="5.5"/><circle cx="237.1" cy="415" r="5.5"/><circle cx="341.3" cy="373.2" r="5.5"/></g>
<g fill="rgba(0,255,0,0.30)"><circle cx="348.7" cy="336.3" r="5.5"/><circle cx="391.1" cy="228.7" r="5.5"/></g>
<g fill="rgba(255,0,0,0.30)"><circle cx="375.8" cy="294.3" r="5.5"/><circle cx="323.1" cy="334.7" r="5.5"/></g>
<g fill="rgba(0,255,0,0.30)"><circle cx="374" cy="251.3" r="5.5"/><circle cx="336.7" cy="360.8" r="5.5"/><circle cx="373.8" cy="298.6" r="5.5"/><circle cx="329.9" cy="306.3" r="5.5"/><circle cx="347.1" cy="264.7" r="5.5"/></g>
<g fill="rgba(255,0,0,0.30)"><circle cx="316" cy="342.8" r="5.5"/><circle cx="273.9" cy="367.1" r="5.5"/></g>
<g fill="rgba(0,255,0,0.30)"><circle cx="398.1" cy="234.7" r="5.5"/><circle cx="316.1" cy="258.2" r="5.5"/><circle cx="358.8" cy="312.7" r="5.5"/><circle cx="303" cy="152.6" r="5.5"/></g>
<g fill="rgba(255,0,0,0.30)"><circle cx="293.5" cy="376.7" r="5.5"/></g>
<g fill="rgba(0,255,0,0.30)"><circle cx="370.1" cy="243.2" r="5.5"/><circle cx="364.4" cy="166.3" r="5.5"/></g>
<g fill="rgba(255,0,0,0.30)"><circle cx="254.7" cy="398.3" r="5.5"/><circle cx="275.5" cy="308.7" r="5.5"/></g>
<g fill="rgba(0,255,0,0.30)"><circle cx="368.1" cy="301" r="5.5"/><circle cx="274" cy="405.4" r="5.5"/></g>
<g fill="rgba(255,0,0,0.30)"><circle cx="413.2" cy="280.7" r="5.5"/></g>
<g fill="rgba(0,255,0,0.30)"><circle cx="326" cy="218.8" r="5.5"/><circle cx="381.3" cy="252.1" r="5.5"/><circle cx="391.5" cy="147.3" r="5.5"/></g>
<g fill="rgba(255,0,0,0.30)"><circle cx="333.9" cy="341.5" r="5.5"/><circle cx="388.5" cy="270.6" r="5.5"/><circle cx="312.7" cy="304.4" r="5.5"/></g>
<g fill="rgba(0,255,0,0.30)"><circle cx="363" cy="311.1" r="5.5"/><circle cx="324" cy="295.4" r="5.5"/><circle cx="376" cy="278.5" r="5.5"/></g>
<g fill="rgba(255,0,0,0.30)"><circle cx="223.9" cy="359.2" r="5.5"/></g>
<g fill="rgba(0,255,0,0.30)"><circle cx="382.9" cy="143.7" r="5.5"/></g>
<g fill="rgba(255,0,0,0.30)"><circle cx="340" cy="393.6" r="5.5"/><circle cx="236.3" cy="328.2" r="5.5"/><circle cx="422.9" cy="283.7" r="5.5"/></g>
<g fill="rgba(0,255,0,0.30)"><circle cx="373.5" cy="364.4" r="5.5"/></g>
<g fill="rgba(255,0,0,0.30)"><circle cx="244.1" cy="396.8" r="5.5"/><circle cx="353.5" cy="337.9" r="5.5"/></g>
<g fill="rgba(0,255,0,0.30)"><circle cx="408.1" cy="366.7" r="5.5"/><circle cx="428.8" cy="249" r="5.5"/><circle cx="415.4" cy="249.8" r="5.5"/><circle cx="400.2" cy="371.5" r="5.5"/><circle cx="352.1" cy="231.8" r="5.5"/></g>
<g fill="rgba(255,0,0,0.30)"><circle cx="241.1" cy="390.4" r="5.5"/></g>
<g fill="rgba(0,255,0,0.30)"><circle cx="312.8" cy="322" r="5.5"/><circle cx="359.2" cy="333.3" r="5.5"/><circle cx="376.2" cy="392.2" r="5.5"/></g>
<g fill="rgba(255,0,0,0.30)"><circle cx="227.5" cy="405.9" r="5.5"/></g>
<g fill="rgba(0,255,0,0.30)"><circle cx="422.6" cy="118.2" r="5.5"/><circle cx="337.4" cy="341.9" r="5.5"/><circle cx="371.5" cy="91.4" r="5.5"/><circle cx="439.9" cy="249.4" r="5.5"/><circle cx="322.7" cy="246" r="5.5"/><circle cx="395.7" cy="251.8" r="5.5"/></g>
<g fill="rgba(255,0,0,0.30)"><circle cx="388.4" cy="265.2" r="5.5"/></g>
<g fill="rgba(0,255,0,0.30)"><circle cx="374.6" cy="311.5" r="5.5"/></g>
<g fill="rgba(255,0,0,0.30)"><circle cx="260.5" cy="368.4" r="5.5"/><circle cx="282.8" cy="394" r="5.5"/><circle cx="240" cy="423.5" r="5.5"/><circle cx="263" cy="377" r="5.5"/><circle cx="306.5" cy="405.7" r="5.5"/></g>
<g fill="rgba(0,255,0,0.30)"><circle cx="348.5" cy="256.2" r="5.5"/></g>
<g fill="rgba(255,0,0,0.30)"><circle cx="322.6" cy="367.2" r="5.5"/></g>
<g fill="rgba(0,255,0,0.30)"><circle cx="345" cy="282.1" r="5.5"/></g>
<g fill="rgba(255,0,0,0.30)"><circle cx="287.7" cy="335.9" r="5.5"/></g>
<g fill="rgba(0,255,0,0.30)"><circle cx="303.2" cy="428.3" r="5.5"/></g>
<g fill="rgba(255,0,0,0.30)"><circle cx="315.3" cy="271.4" r="5.5"/><circle cx="250.2" cy="354.6" r="5.5"/></g>
<g fill="rgba(0,255,0,0.30)"><circle cx="290.2" cy="261.9" r="5.5"/></g>
<g fill="rgba(255,0,0,0.30)"><circle cx="360.4" cy="341.4" r="5.5"/><circle cx="322.2" cy="323.4" r="5.5"/></g>
<g fill="rgba(0,255,0,0.30)"><circle cx="345.2" cy="269.4" r="5.5"/></g>
<g fill="rgba(255,0,0,0.30)"><circle cx="456.1" cy="330.5" r="5.5"/><circle cx="371.8" cy="312.7" r="5.5"/></g>
<g fill="rgba(0,255,0,0.30)"><circle cx="328.2" cy="298.7" r="5.5"/><circle cx="383.1" cy="203.5" r="5.5"/></g>
<g fill="rgba(255,0,0,0.30)"><circle cx="294.7" cy="300.8" r="5.5"/></g>
<g fill="rgba(0,255,0,0.30)"><circle cx="461" cy="179.4" r="5.5"/><circle cx="333.3" cy="279.7" r="5.5"/><circle cx="365" cy="229.5" r="5.5"/></g>
<g fill="rgba(255,0,0,0.30)"><circle cx="275.7" cy="335.4" r="5.5"/><circle cx="347.9" cy="314.2" r="5.5"/></g>
<g fill="rgba(0,255,0,0.30)"><circle cx="356.3" cy="347.1" r="5.5"/><circle cx="350.6" cy="249.1" r="5.5"/></g>
<g fill="rgba(255,0,0,0.30)"><circle cx="287.6" cy="349.3" r="5.5"/><circle cx="271.5" cy="337.6" r="5.5"/><circle cx="277.9" cy="374.7" r="5.5"/></g>
<g fill="rgba(0,255,0,0.30)"><circle cx="376.6" cy="178.6" r="5.5"/><circle cx="379.1" cy="223.5" r="5.5"/><circle cx="363.7" cy="286.4" r="5.5"/><circle cx="407.9" cy="326.2" r="5.5"/><circle cx="331.8" cy="276.4" r="5.5"/></g>
<g fill="rgba(255,0,0,0.30)"><circle cx="299.7" cy="350.5" r="5.5"/></g>
<g fill="rgba(0,255,0,0.30)"><circle cx="370.6" cy="248.5" r="5.5"/></g>
<g fill="rgba(255,0,0,0.30)"><circle cx="349.5" cy="348.9" r="5.5"/><circle cx="412.4" cy="295.4" r="5.5"/><circle cx="416.7" cy="325.5" r="5.5"/></g>
<g fill="rgba(0,255,0,0.30)"><circle cx="315.3" cy="284.3" r="5.5"/><circle cx="319.3" cy="315.7" r="5.5"/><circle cx="422.6" cy="134.6" r="5.5"/></g>
<g fill="rgba(255,0,0,0.30)"><circle cx="257.4" cy="446.5" r="5.5"/><circle cx="223.8" cy="367.2" r="5.5"/></g>
<g fill="rgba(0,255,0,0.30)"><circle cx="424.1" cy="234.5" r="5.5"/><circle cx="349.4" cy="274.5" r="5.5"/></g>
<g fill="rgba(255,0,0,0.30)"><circle cx="368.1" cy="354.3" r="5.5"/><circle cx="237.9" cy="420.8" r="5.5"/></g>
<g fill="rgba(0,255,0,0.30)"><circle cx="335.6" cy="310.6" r="5.5"/></g>
<g fill="rgba(255,0,0,0.30)"><circle cx="292.7" cy="374.7" r="5.5"/></g>
<g fill="rgba(0,255,0,0.30)"><circle cx="373.7" cy="325.7" r="5.5"/><circle cx="318.3" cy="354.9" r="5.5"/><circle cx="357.9" cy="350.8" r="5.5"/></g>
<g fill="rgba(255,0,0,0.30)"><circle cx="332.1" cy="294" r="5.5"/></g>
<g fill="rgba(0,255,0,0.30)"><circle cx="351.4" cy="204.2" r="5.5"/><circle cx="389.4" cy="404.1" r="5.5"/></g>
<g fill="rgba(255,0,0,0.30)"><circle cx="202.4" cy="374.8" r="5.5"/><circle cx="345.7" cy="261.3" r="5.5"/><circle cx="355.9" cy="335.4" r="5.5"/></g>
<g fill="rgba(0,255,0,0.30)"><circle cx="297.6" cy="353.6" r="5.5"/><circle cx="298.9" cy="376.4" r="5.5"/><circle cx="327.2" cy="381.9" r="5.5"/><circle cx="289.8" cy="263.8" r="5.5"/><circle cx="372.2" cy="365.9" r="5.5"/></g>
<g fill="rgba(255,0,0,0.30)"><circle cx="368" cy="267.8" r="5.5"/></g>
<g fill="rgba(0,255,0,0.30)"><circle cx="398.5" cy="230" r="5.5"/><circle cx="340.2" cy="188.2" r="5.5"/></g>
<g fill="rgba(255,0,0,0.30)"><circle cx="245.4" cy="357.9" r="5.5"/></g>
<g fill="rgba(0,255,0,0.30)"><circle cx="360.5" cy="393" r="5.5"/></g>
<g fill="rgba(255,0,0,0.30)"><circle cx="338.8" cy="403.5" r="5.5"/></g>
<g fill="rgba(0,255,0,0.30)"><circle cx="403.7" cy="317.2" r="5.5"/><circle cx="447" cy="228.9" r="5.5"/></g>
<g fill="rgba(255,0,0,0.30)"><circle cx="295.3" cy="391.9" r="5.5"/></g>
<g fill="rgba(0,255,0,0.30)"><circle cx="331.6" cy="326.8" r="5.5"/><circle cx="352.2" cy="295.1" r="5.5"/><circle cx="337.4" cy="301.7" r="5.5"/><circle cx="318" cy="257.1" r="5.5"/><circle cx="376" cy="264.6" r="5.5"/><circle cx="363.9" cy="293.6" r="5.5"/></g>
<g fill="rgba(255,0,0,0.30)"><circle cx="366.4" cy="292.8" r="5.5"/><circle cx="334.9" cy="278.3" r="5.5"/></g>
<g fill="rgba(0,255,0,0.30)"><circle cx="340" cy="252" r="5.5"/></g>
<g fill="rgba(255,0,0,0.30)"><circle cx="222.6" cy="374.3" r="5.5"/><circle cx="268.6" cy="330.3" r="5.5"/><circle cx="356.3" cy="320" r="5.5"/></g>
<g fill="rgba(0,255,0,0.30)"><circle cx="333.8" cy="259.6" r="5.5"/></g>
<g fill="rgba(255,0,0,0.30)"><circle cx="248.3" cy="350.6" r="5.5"/><circle cx="265" cy="374.8" r="5.5"/><circle cx="274.3" cy="527.6" r="5.5"/></g>
<g fill="rgba(0,255,0,0.30)"><circle cx="366.1" cy="266.9" r="5.5"/></g>
<g fill="rgba(255,0,0,0.30)"><circle cx="333.9" cy="288.7" r="5.5"/></g>
<g fill="rgba(0,255,0,0.30)"><circle cx="323.1" cy="402.3" r="5.5"/></g>
<g fill="rgba(255,0,0,0.30)"><circle cx="319.1" cy="321.2" r="5.5"/></g>
<g fill="rgba(0,255,0,0.30)"><circle cx="348.1" cy="284.1" r="5.5"/></g>
<g fill="rgba(255,0,0,0.30)"><circle cx="257.5" cy="359" r="5.5"/></g>
<g fill="rgba(0,255,0,0.30)"><circle cx="386.8" cy="242.6" r="5.5"/></g>
<g fill="rgba(255,0,0,0.30)"><circle cx="266.3" cy="355.9" r="5.5"/></g>
<g fill="rgba(0,255,0,0.30)"><circle cx="300.9" cy="355.1" r="5.5"/></g>
<g fill="rgba(255,0,0,0.30)"><circle cx="324.4" cy="387.9" r="5.5"/><circle cx="236.8" cy="385.2" r="5.5"/><circle cx="321.8" cy="329.2" r="5.5"/><circle cx="333" cy="353.9" r="5.5"/><circle cx="287.3" cy="350.4" r="5.5"/></g>
<g fill="rgba(0,255,0,0.30)"><circle cx="304.2" cy="352.8" r="5.5"/><circle cx="407.4" cy="164.5" r="5.5"/><circle cx="331.4" cy="292.1" r="5.5"/><circle cx="275.4" cy="301.6" r="5.5"/><circle cx="398.1" cy="241.1" r="5.5"/><circle cx="333.7" cy="261.6" r="5.5"/></g>
<g fill="rgba(255,0,0,0.30)"><circle cx="264.2" cy="346.5" r="5.5"/><circle cx="337.2" cy="333.8" r="5.5"/><circle cx="253.9" cy="363.8" r="5.5"/></g>
<g fill="rgba(0,255,0,0.30)"><circle cx="273.8" cy="348.3" r="5.5"/><circle cx="440.8" cy="215.9" r="5.5"/><circle cx="349.6" cy="323.1" r="5.5"/></g>
<g fill="rgba(255,0,0,0.30)"><circle cx="283" cy="318.6" r="5.5"/></g>
<g fill="rgba(0,255,0,0.30)"><circle cx="298.3" cy="389.1" r="5.5"/><circle cx="350.8" cy="228.4" r="5.5"/><circle cx="397.9" cy="192.9" r="5.5"/><circle cx="303.7" cy="241.6" r="5.5"/><circle cx="353" cy="307.8" r="5.5"/></g>
<g fill="rgba(255,0,0,0.30)"><circle cx="249.4" cy="427.8" r="5.5"/><circle cx="380" cy="336" r="5.5"/><circle cx="302.5" cy="298.2" r="5.5"/></g>
<g fill="rgba(0,255,0,0.30)"><circle cx="315" cy="225.4" r="5.5"/></g>
<g fill="rgba(255,0,0,0.30)"><circle cx="378.7" cy="314.1" r="5.5"/></g>
<g fill="rgba(0,255,0,0.30)"><circle cx="432.6" cy="105.8" r="5.5"/><circle cx="253.1" cy="367.7" r="5.5"/><circle cx="352.6" cy="301.6" r="5.5"/></g>
<g fill="rgba(255,0,0,0.30)"><circle cx="330.7" cy="364.2" r="5.5"/></g>
<g fill="rgba(0,255,0,0.30)"><circle cx="343.1" cy="271.1" r="5.5"/><circle cx="330.9" cy="190.3" r="5.5"/><circle cx="386.5" cy="252.3" r="5.5"/><circle cx="367.5" cy="218.2" r="5.5"/><circle cx="403.2" cy="297.3" r="5.5"/><circle cx="389.4" cy="266.2" r="5.5"/></g>
<g fill="rgba(255,0,0,0.30)"><circle cx="350.5" cy="391.9" r="5.5"/><circle cx="203.4" cy="344.3" r="5.5"/></g>
<g fill="rgba(0,255,0,0.30)"><circle cx="378.1" cy="261" r="5.5"/></g>
<g fill="rgba(255,0,0,0.30)"><circle cx="261.3" cy="377.7" r="5.5"/><circle cx="279" cy="373.8" r="5.5"/></g>
<g fill="rgba(0,255,0,0.30)"><circle cx="364.1" cy="241.1" r="5.5"/><circle cx="307.5" cy="291.8" r="5.5"/><circle cx="407.5" cy="232.2" r="5.5"/><circle cx="325.1" cy="274.7" r="5.5"/><circle cx="440.3" cy="344" r="5.5"/><circle cx="324.6" cy="410" r="5.5"/></g>
<g fill="rgba(255,0,0,0.30)"><circle cx="402.1" cy="371" r="5.5"/><circle cx="233.1" cy="381.6" r="5.5"/></g>
<g fill="rgba(0,255,0,0.30)"><circle cx="294.4" cy="390" r="5.5"/><circle cx="313.5" cy="285.2" r="5.5"/><circle cx="328.4" cy="313.6" r="5.5"/><circle cx="351.2" cy="279.2" r="5.5"/><circle cx="383.9" cy="245.5" r="5.5"/><circle cx="414.9" cy="254.1" r="5.5"/><circle cx="398.2" cy="271.9" r="5.5"/><circle cx="406.2" cy="218.6" r="5.5"/></g>
<g fill="rgba(255,0,0,0.30)"><circle cx="365.2" cy="291.4" r="5.5"/></g>
<g fill="rgba(0,255,0,0.30)"><circle cx="349.7" cy="310.8" r="5.5"/><circle cx="440.2" cy="256.7" r="5.5"/><circle cx="400.5" cy="206.8" r="5.5"/><circle cx="380.7" cy="195.5" r="5.5"/><circle cx="382.8" cy="164.4" r="5.5"/><circle cx="393.8" cy="269.7" r="5.5"/><circle cx="320.5" cy="262.9" r="5.5"/><circle cx="344.3" cy="301.8" r="5.5"/><circle cx="348.9" cy="395.3" r="5.5"/><circle cx="367.4" cy="208.8" r="5.5"/></g>
<g fill="rgba(255,0,0,0.30)"><circle cx="336.8" cy="406.2" r="5.5"/></g>
<g fill="rgba(0,255,0,0.30)"><circle cx="365.7" cy="265.2" r="5.5"/></g>
<g fill="rgba(255,0,0,0.30)"><circle cx="322.9" cy="368.8" r="5.5"/><circle cx="271.1" cy="347.4" r="5.5"/></g>
<g fill="rgba(0,255,0,0.30)"><circle cx="368.5" cy="236.3" r="5.5"/><circle cx="348" cy="315.4" r="5.5"/><circle cx="313.6" cy="274.4" r="5.5"/><circle cx="389.5" cy="239.1" r="5.5"/><circle cx="344.7" cy="228.8" r="5.5"/></g>
<g fill="rgba(255,0,0,0.30)"><circle cx="344.3" cy="338.2" r="5.5"/></g>
<g fill="rgba(0,255,0,0.30)"><circle cx="297.2" cy="321.7" r="5.5"/></g>
<g fill="rgba(255,0,0,0.30)"><circle cx="290.8" cy="365.5" r="5.5"/><circle cx="292.2" cy="316.2" r="5.5"/></g>
<g fill="rgba(0,255,0,0.30)"><circle cx="348.4" cy="261.2" r="5.5"/><circle cx="274" cy="309.5" r="5.5"/></g>
<g fill="rgba(255,0,0,0.30)"><circle cx="255.9" cy="343.8" r="5.5"/></g>
<g fill="rgba(0,255,0,0.30)"><circle cx="400.9" cy="178.8" r="5.5"/><circle cx="316" cy="262.5" r="5.5"/><circle cx="388.4" cy="285.1" r="5.5"/><circle cx="473.1" cy="133.7" r="5.5"/><circle cx="359.5" cy="297.1" r="5.5"/></g>
<g fill="rgba(255,0,0,0.30)"><circle cx="319" cy="285.9" r="5.5"/><circle cx="298.1" cy="373.6" r="5.5"/><circle cx="388.2" cy="338" r="5.5"/></g>
<g fill="rgba(0,255,0,0.30)"><circle cx="381.3" cy="234.5" r="5.5"/></g>
<g fill="rgba(255,0,0,0.30)"><circle cx="346.7" cy="253" r="5.5"/></g>
<g fill="rgba(0,255,0,0.30)"><circle cx="384" cy="248.9" r="5.5"/><circle cx="431" cy="206.1" r="5.5"/><circle cx="411.7" cy="126.1" r="5.5"/></g>
<g fill="rgba(255,0,0,0.30)"><circle cx="429.9" cy="245" r="5.5"/></g>
<g fill="rgba(0,255,0,0.30)"><circle cx="385.6" cy="248.4" r="5.5"/><circle cx="333.4" cy="395.5" r="5.5"/><circle cx="288.5" cy="255.2" r="5.5"/></g>
<g fill="rgba(255,0,0,0.30)"><circle cx="447.4" cy="280.4" r="5.5"/></g>
<g fill="rgba(0,255,0,0.30)"><circle cx="389.2" cy="292.2" r="5.5"/><circle cx="361" cy="314.7" r="5.5"/><circle cx="427.9" cy="206.8" r="5.5"/><circle cx="390.9" cy="160.4" r="5.5"/></g>
<g fill="rgba(255,0,0,0.30)"><circle cx="248.6" cy="389.5" r="5.5"/></g>
<g fill="rgba(0,255,0,0.30)"><circle cx="362.4" cy="296" r="5.5"/><circle cx="303.8" cy="326.1" r="5.5"/><circle cx="347.5" cy="223.2" r="5.5"/></g>
<g fill="rgba(255,0,0,0.30)"><circle cx="276.6" cy="401.1" r="5.5"/></g>
<g fill="rgba(0,255,0,0.30)"><circle cx="366.4" cy="263.8" r="5.5"/><circle cx="338.1" cy="276.2" r="5.5"/><circle cx="362.4" cy="301.1" r="5.5"/><circle cx="379.7" cy="220.7" r="5.5"/><circle cx="385.8" cy="256.5" r="5.5"/></g>
<g fill="rgba(255,0,0,0.30)"><circle cx="327.5" cy="382.1" r="5.5"/></g>
<g fill="rgba(0,255,0,0.30)"><circle cx="397.3" cy="218.5" r="5.5"/><circle cx="458.6" cy="192.8" r="5.5"/></g>
<g fill="rgba(255,0,0,0.30)"><circle cx="248.1" cy="383.7" r="5.5"/></g>
<g fill="rgba(0,255,0,0.30)"><circle cx="405.9" cy="141.6" r="5.5"/><circle cx="413.4" cy="172" r="5.5"/><circle cx="369.1" cy="303.4" r="5.5"/><circle cx="388.6" cy="231.4" r="5.5"/></g>
<g fill="rgba(255,0,0,0.30)"><circle cx="314.5" cy="357.9" r="5.5"/><circle cx="295.8" cy="342.8" r="5.5"/></g>
<g fill="rgba(0,255,0,0.30)"><circle cx="370.8" cy="260.8" r="5.5"/></g>
<g fill="rgba(255,0,0,0.30)"><circle cx="292.3" cy="359.1" r="5.5"/><circle cx="353.2" cy="282.9" r="5.5"/></g>
<g fill="rgba(0,255,0,0.30)"><circle cx="395.1" cy="272.5" r="5.5"/></g>
<g fill="rgba(255,0,0,0.30)"><circle cx="267.9" cy="370.5" r="5.5"/></g>
<g fill="rgba(0,255,0,0.30)"><circle cx="350" cy="282.1" r="5.5"/><circle cx="374.2" cy="216.7" r="5.5"/><circle cx="354.1" cy="341.3" r="5.5"/><circle cx="312" cy="297.5" r="5.5"/></g>
<g fill="rgba(255,0,0,0.30)"><circle cx="363.1" cy="356.3" r="5.5"/><circle cx="335.4" cy="347.2" r="5.5"/></g>
<g fill="rgba(0,255,0,0.30)"><circle cx="342.1" cy="335.3" r="5.5"/><circle cx="350.1" cy="301.7" r="5.5"/></g>
<g fill="rgba(255,0,0,0.30)"><circle cx="340.4" cy="358.5" r="5.5"/><circle cx="345.7" cy="337.3" r="5.5"/></g>
<g fill="rgba(0,255,0,0.30)"><circle cx="291.3" cy="357" r="5.5"/></g>
<g fill="rgba(255,0,0,0.30)"><circle cx="256.7" cy="362.7" r="5.5"/><circle cx="299" cy="353.9" r="5.5"/></g>
<g fill="rgba(0,255,0,0.30)"><circle cx="406.9" cy="155.7" r="5.5"/><circle cx="293.9" cy="354.9" r="5.5"/><circle cx="293.8" cy="298" r="5.5"/><circle cx="447.5" cy="248.8" r="5.5"/><circle cx="418.2" cy="371.3" r="5.5"/><circle cx="395.2" cy="284.8" r="5.5"/></g>
<g fill="rgba(255,0,0,0.30)"><circle cx="243.7" cy="380.9" r="5.5"/><circle cx="283.8" cy="334.4" r="5.5"/><circle cx="343.4" cy="311.5" r="5.5"/><circle cx="273.7" cy="319.1" r="5.5"/></g>
<g fill="rgba(0,255,0,0.30)"><circle cx="327.9" cy="325.6" r="5.5"/></g>
<g fill="rgba(255,0,0,0.30)"><circle cx="259.5" cy="353.6" r="5.5"/><circle cx="207.8" cy="386.6" r="5.5"/></g>
<g fill="rgba(0,255,0,0.30)"><circle cx="403.9" cy="92.2" r="5.5"/></g>
<g fill="rgba(255,0,0,0.30)"><circle cx="216" cy="392.2" r="5.5"/></g>
<g fill="rgba(0,255,0,0.30)"><circle cx="391.9" cy="391.3" r="5.5"/></g>
<g fill="rgba(255,0,0,0.30)"><circle cx="192.4" cy="424.8" r="5.5"/><circle cx="230.3" cy="392.3" r="5.5"/><circle cx="370" cy="327.3" r="5.5"/></g>
<g fill="rgba(0,255,0,0.30)"><circle cx="303.1" cy="277.2" r="5.5"/><circle cx="351.1" cy="280.5" r="5.5"/><circle cx="280.1" cy="280.8" r="5.5"/><circle cx="263.2" cy="292.5" r="5.5"/></g>
<g fill="rgba(255,0,0,0.30)"><circle cx="155.8" cy="401.8" r="5.5"/><circle cx="383.4" cy="330.6" r="5.5"/></g>
<g fill="rgba(0,255,0,0.30)"><circle cx="358.8" cy="261.6" r="5.5"/><circle cx="357.4" cy="234.5" r="5.5"/></g>
<g fill="rgba(255,0,0,0.30)"><circle cx="252.9" cy="392.4" r="5.5"/></g>
<g fill="rgba(0,255,0,0.30)"><circle cx="383.3" cy="186.5" r="5.5"/><circle cx="395.5" cy="148.8" r="5.5"/></g>
<g fill="rgba(255,0,0,0.30)"><circle cx="268.1" cy="364.4" r="5.5"/></g>
<g fill="rgba(0,255,0,0.30)"><circle cx="357.2" cy="264.3" r="5.5"/><circle cx="418.6" cy="193.7" r="5.5"/><circle cx="306" cy="267.7" r="5.5"/><circle cx="352.1" cy="345.4" r="5.5"/></g>
<g fill="rgba(255,0,0,0.30)"><circle cx="239.7" cy="411.5" r="5.5"/></g>
<g fill="rgba(0,255,0,0.30)"><circle cx="385.7" cy="227.3" r="5.5"/><circle cx="393.9" cy="190.8" r="5.5"/><circle cx="389.6" cy="190.7" r="5.5"/><circle cx="394.9" cy="213" r="5.5"/><circle cx="335.3" cy="302.1" r="5.5"/></g>
<g fill="rgba(255,0,0,0.30)"><circle cx="255.1" cy="393.2" r="5.5"/></g>
<g fill="rgba(0,255,0,0.30)"><circle cx="391.1" cy="153" r="5.5"/></g>
<g fill="rgba(255,0,0,0.30)"><circle cx="319.1" cy="391.3" r="5.5"/></g>
<g fill="rgba(0,255,0,0.30)"><circle cx="416.1" cy="216.5" r="5.5"/><circle cx="387.4" cy="220.1" r="5.5"/><circle cx="370.8" cy="307" r="5.5"/><circle cx="323.5" cy="316.5" r="5.5"/></g>
<g fill="rgba(255,0,0,0.30)"><circle cx="330.6" cy="334.1" r="5.5"/></g>
<g fill="rgba(0,255,0,0.30)"><circle cx="436.6" cy="277.2" r="5.5"/></g>
<g fill="rgba(255,0,0,0.30)"><circle cx="334.4" cy="325.9" r="5.5"/><circle cx="379" cy="338" r="5.5"/></g>
<g fill="rgba(0,255,0,0.30)"><circle cx="401.5" cy="239.7" r="5.5"/><circle cx="384" cy="249.1" r="5.5"/></g>
<g fill="rgba(255,0,0,0.30)"><circle cx="287" cy="355" r="5.5"/><circle cx="254.5" cy="359" r="5.5"/><circle cx="281.4" cy="348.1" r="5.5"/></g>
<g fill="rgba(0,255,0,0.30)"><circle cx="307.9" cy="330.5" r="5.5"/><circle cx="364.3" cy="180.5" r="5.5"/><circle cx="351.1" cy="251.5" r="5.5"/></g>
<g fill="rgba(255,0,0,0.30)"><circle cx="379.9" cy="266.3" r="5.5"/><circle cx="217.2" cy="397.5" r="5.5"/><circle cx="350.7" cy="331.6" r="5.5"/></g>
<g fill="rgba(0,255,0,0.30)"><circle cx="417.7" cy="232.2" r="5.5"/><circle cx="417.6" cy="260.6" r="5.5"/></g>
<g fill="rgba(255,0,0,0.30)"><circle cx="284" cy="331.2" r="5.5"/><circle cx="307.5" cy="291.9" r="5.5"/></g>
<g fill="rgba(0,255,0,0.30)"><circle cx="358.6" cy="295.2" r="5.5"/><circle cx="347.3" cy="301.4" r="5.5"/><circle cx="321.3" cy="378" r="5.5"/></g>
<g fill="rgba(255,0,0,0.30)"><circle cx="305.2" cy="399.9" r="5.5"/></g>
<g fill="rgba(0,255,0,0.30)"><circle cx="375.6" cy="324.8" r="5.5"/></g>
<g fill="rgba(255,0,0,0.30)"><circle cx="282.2" cy="368.5" r="5.5"/><circle cx="327" cy="414.4" r="5.5"/></g>
<g fill="rgba(0,255,0,0.30)"><circle cx="385.9" cy="355.9" r="5.5"/></g>
<g fill="rgba(255,0,0,0.30)"><circle cx="290.9" cy="343.8" r="5.5"/><circle cx="328.3" cy="377.2" r="5.5"/><circle cx="276" cy="375.6" r="5.5"/></g>
<g fill="rgba(0,255,0,0.30)"><circle cx="306.7" cy="367.8" r="5.5"/><circle cx="301.5" cy="294.8" r="5.5"/></g>
<g fill="rgba(255,0,0,0.30)"><circle cx="255.9" cy="366.9" r="5.5"/></g>
<g fill="rgba(0,255,0,0.30)"><circle cx="335.5" cy="296.2" r="5.5"/><circle cx="316.3" cy="332.7" r="5.5"/><circle cx="378.4" cy="255.2" r="5.5"/><circle cx="341.4" cy="311.7" r="5.5"/><circle cx="382.8" cy="316.5" r="5.5"/><circle cx="412.3" cy="217.4" r="5.5"/></g>
<g fill="rgba(255,0,0,0.30)"><circle cx="333.9" cy="373.1" r="5.5"/></g>
<g fill="rgba(0,255,0,0.30)"><circle cx="317.4" cy="195.5" r="5.5"/><circle cx="296" cy="330" r="5.5"/><circle cx="392" cy="290.8" r="5.5"/></g>
<g fill="rgba(255,0,0,0.30)"><circle cx="228.4" cy="343.3" r="5.5"/></g>
<g fill="rgba(0,255,0,0.30)"><circle cx="395.7" cy="294.2" r="5.5"/><circle cx="350" cy="171.4" r="5.5"/></g>
<g fill="rgba(255,0,0,0.30)"><circle cx="261.1" cy="391.6" r="5.5"/><circle cx="285.7" cy="343.4" r="5.5"/></g>
<g fill="rgba(0,255,0,0.30)"><circle cx="330" cy="259.5" r="5.5"/><circle cx="391.7" cy="303.5" r="5.5"/><circle cx="455.5" cy="241.4" r="5.5"/></g>
<g fill="rgba(255,0,0,0.30)"><circle cx="305.9" cy="345.6" r="5.5"/></g>
<g fill="rgba(0,255,0,0.30)"><circle cx="352.7" cy="313.1" r="5.5"/><circle cx="353.5" cy="273.6" r="5.5"/><circle cx="469.8" cy="161.6" r="5.5"/></g>
<g fill="rgba(255,0,0,0.30)"><circle cx="221.9" cy="403.3" r="5.5"/><circle cx="360.7" cy="280.2" r="5.5"/><circle cx="285.2" cy="336" r="5.5"/></g>
<g fill="rgba(0,255,0,0.30)"><circle cx="417.1" cy="259.2" r="5.5"/></g>
<g fill="rgba(255,0,0,0.30)"><circle cx="325" cy="354.5" r="5.5"/><circle cx="229" cy="345.9" r="5.5"/><circle cx="387.2" cy="310.3" r="5.5"/><circle cx="359.8" cy="381.7" r="5.5"/><circle cx="351.9" cy="381.5" r="5.5"/><circle cx="255.7" cy="427.1" r="5.5"/></g>
<g fill="rgba(0,255,0,0.30)"><circle cx="312.4" cy="402.5" r="5.5"/></g>
<g fill="rgba(255,0,0,0.30)"><circle cx="233.2" cy="337.9" r="5.5"/><circle cx="320.3" cy="340.1" r="5.5"/></g>
<g fill="rgba(0,255,0,0.30)"><circle cx="399.9" cy="379" r="5.5"/><circle cx="387.1" cy="215.8" r="5.5"/><circle cx="364.4" cy="218.7" r="5.5"/><circle cx="384" cy="269.1" r="5.5"/><circle cx="368.8" cy="270.8" r="5.5"/><circle cx="291.1" cy="353.5" r="5.5"/><circle cx="350.2" cy="320.1" r="5.5"/></g>
<g fill="rgba(255,0,0,0.30)"><circle cx="239.8" cy="467.4" r="5.5"/><circle cx="355.7" cy="321.1" r="5.5"/><circle cx="300.8" cy="332" r="5.5"/></g>
<g fill="rgba(0,255,0,0.30)"><circle cx="341.4" cy="328.7" r="5.5"/><circle cx="330.7" cy="327.8" r="5.5"/></g>
<g fill="rgba(255,0,0,0.30)"><circle cx="282.3" cy="365.7" r="5.5"/><circle cx="233.1" cy="402.9" r="5.5"/></g>
<g fill="rgba(0,255,0,0.30)"><circle cx="346.8" cy="305.4" r="5.5"/><circle cx="313.3" cy="252.9" r="5.5"/></g>
<g fill="rgba(255,0,0,0.30)"><circle cx="279.7" cy="391.2" r="5.5"/><circle cx="257.8" cy="373.4" r="5.5"/></g>
<g fill="rgba(0,255,0,0.30)"><circle cx="338" cy="217.4" r="5.5"/><circle cx="320.5" cy="322.4" r="5.5"/></g>
<g fill="rgba(255,0,0,0.30)"><circle cx="315.3" cy="341" r="5.5"/></g>
<g fill="rgba(0,255,0,0.30)"><circle cx="367.8" cy="215.9" r="5.5"/><circle cx="321.6" cy="267.1" r="5.5"/><circle cx="353.4" cy="317.6" r="5.5"/><circle cx="325.7" cy="201.9" r="5.5"/><circle cx="314.5" cy="316.3" r="5.5"/></g>
<g fill="rgba(255,0,0,0.30)"><circle cx="228.9" cy="378.3" r="5.5"/><circle cx="390.6" cy="275.4" r="5.5"/></g>
<g fill="rgba(0,255,0,0.30)"><circle cx="333.9" cy="340.3" r="5.5"/></g>
<g fill="rgba(255,0,0,0.30)"><circle cx="256.7" cy="363.3" r="5.5"/></g>
<g fill="rgba(0,255,0,0.30)"><circle cx="507" cy="166.8" r="5.5"/><circle cx="390.3" cy="231.3" r="5.5"/><circle cx="477.3" cy="227" r="5.5"/><circle cx="363.4" cy="221.4" r="5.5"/><circle cx="277.9" cy="327.2" r="5.5"/><circle cx="500.5" cy="232.8" r="5.5"/><circle cx="411.9" cy="230" r="5.5"/></g>
<g fill="rgba(255,0,0,0.30)"><circle cx="295.1" cy="332.5" r="5.5"/></g>
<g fill="rgba(0,255,0,0.30)"><circle cx="373.3" cy="270.1" r="5.5"/><circle cx="366.5" cy="227.7" r="5.5"/></g>
<g fill="rgba(255,0,0,0.30)"><circle cx="393.1" cy="290.5" r="5.5"/></g>
<g fill="rgba(0,255,0,0.30)"><circle cx="391.5" cy="214.3" r="5.5"/></g>
<g fill="rgba(255,0,0,0.30)"><circle cx="392.2" cy="305" r="5.5"/><circle cx="357.8" cy="322.8" r="5.5"/></g>
<g fill="rgba(0,255,0,0.30)"><circle cx="361.5" cy="242.4" r="5.5"/></g>
<g fill="rgba(255,0,0,0.30)"><circle cx="401.7" cy="273.7" r="5.5"/></g>
<g fill="rgba(0,255,0,0.30)"><circle cx="344.7" cy="280.1" r="5.5"/><circle cx="331.1" cy="346" r="5.5"/></g>
<g fill="rgba(255,0,0,0.30)"><circle cx="421.1" cy="278" r="5.5"/></g>
<g fill="rgba(0,255,0,0.30)"><circle cx="358.8" cy="247.4" r="5.5"/><circle cx="289" cy="334.5" r="5.5"/><circle cx="318.2" cy="337.4" r="5.5"/></g>
<g fill="rgba(255,0,0,0.30)"><circle cx="280.8" cy="400.5" r="5.5"/></g>
<g fill="rgba(0,255,0,0.30)"><circle cx="322.6" cy="283.1" r="5.5"/><circle cx="321.7" cy="361.6" r="5.5"/><circle cx="409.1" cy="292.2" r="5.5"/></g>
<g fill="rgba(255,0,0,0.30)"><circle cx="327.3" cy="332.5" r="5.5"/></g>
<g fill="rgba(0,255,0,0.30)"><circle cx="443.9" cy="147.9" r="5.5"/><circle cx="383.1" cy="219.8" r="5.5"/></g>
<g fill="rgba(255,0,0,0.30)"><circle cx="249.6" cy="375" r="5.5"/></g>
<g fill="rgba(0,255,0,0.30)"><circle cx="366.3" cy="300.9" r="5.5"/><circle cx="391.4" cy="253.3" r="5.5"/><circle cx="389.6" cy="285.2" r="5.5"/></g>
<g fill="rgba(255,0,0,0.30)"><circle cx="328.1" cy="296.8" r="5.5"/></g>
<g fill="rgba(0,255,0,0.30)"><circle cx="437.1" cy="195" r="5.5"/><circle cx="376" cy="314" r="5.5"/><circle cx="332.1" cy="290.1" r="5.5"/></g>
<g fill="rgba(255,0,0,0.30)"><circle cx="233.4" cy="352.8" r="5.5"/></g>
<g fill="rgba(0,255,0,0.30)"><circle cx="376.7" cy="302.9" r="5.5"/><circle cx="270.7" cy="324.8" r="5.5"/><circle cx="332.4" cy="261.1" r="5.5"/><circle cx="276.4" cy="292" r="5.5"/><circle cx="373.2" cy="315.6" r="5.5"/></g>
<g fill="rgba(255,0,0,0.30)"><circle cx="421.8" cy="319.2" r="5.5"/><circle cx="314.5" cy="330.4" r="5.5"/></g>
<g fill="rgba(0,255,0,0.30)"><circle cx="344.7" cy="227.4" r="5.5"/><circle cx="386.1" cy="228.4" r="5.5"/><circle cx="368" cy="253.6" r="5.5"/><circle cx="365.7" cy="223.9" r="5.5"/></g>
<g fill="rgba(255,0,0,0.30)"><circle cx="275.6" cy="373.8" r="5.5"/></g>
<g fill="rgba(0,255,0,0.30)"><circle cx="368.8" cy="176.3" r="5.5"/></g>
<g fill="rgba(255,0,0,0.30)"><circle cx="315.7" cy="375.2" r="5.5"/></g>
<g fill="rgba(0,255,0,0.30)"><circle cx="340" cy="253" r="5.5"/><circle cx="394.2" cy="227.4" r="5.5"/><circle cx="449.6" cy="189.4" r="5.5"/></g>
<g fill="rgba(255,0,0,0.30)"><circle cx="273.3" cy="407.1" r="5.5"/></g>
<g fill="rgba(0,255,0,0.30)"><circle cx="350.6" cy="242.6" r="5.5"/></g>
<g fill="rgba(255,0,0,0.30)"><circle cx="329.7" cy="310" r="5.5"/><circle cx="258.1" cy="421.4" r="5.5"/></g>
<g fill="rgba(0,255,0,0.30)"><circle cx="321.4" cy="211" r="5.5"/><circle cx="449.6" cy="203.5" r="5.5"/></g>
<g fill="rgba(255,0,0,0.30)"><circle cx="351.4" cy="326.8" r="5.5"/><circle cx="354" cy="327.2" r="5.5"/><circle cx="341.4" cy="368.2" r="5.5"/><circle cx="247.7" cy="323.8" r="5.5"/></g>
<g fill="rgba(0,255,0,0.30)"><circle cx="306" cy="326.2" r="5.5"/><circle cx="364.1" cy="240.5" r="5.5"/><circle cx="393.4" cy="243.6" r="5.5"/></g>
<g fill="rgba(255,0,0,0.30)"><circle cx="296.1" cy="402" r="5.5"/><circle cx="224.4" cy="370.5" r="5.5"/></g>
<g fill="rgba(0,255,0,0.30)"><circle cx="335.5" cy="274" r="5.5"/><circle cx="254.8" cy="261.4" r="5.5"/><circle cx="442.2" cy="262.8" r="5.5"/></g>
<g fill="rgba(255,0,0,0.30)"><circle cx="255.5" cy="361.2" r="5.5"/></g>
<g fill="rgba(0,255,0,0.30)"><circle cx="390.1" cy="202.5" r="5.5"/></g>
<g fill="rgba(255,0,0,0.30)"><circle cx="312.9" cy="381.2" r="5.5"/><circle cx="259.7" cy="342.4" r="5.5"/><circle cx="248.6" cy="358.7" r="5.5"/></g>
<g fill="rgba(0,255,0,0.30)"><circle cx="334.5" cy="353.7" r="5.5"/></g>
<g fill="rgba(255,0,0,0.30)"><circle cx="392.2" cy="343.8" r="5.5"/><circle cx="249.2" cy="388.7" r="5.5"/><circle cx="259" cy="363.7" r="5.5"/></g>
<g fill="rgba(0,255,0,0.30)"><circle cx="341.3" cy="271.3" r="5.5"/><circle cx="404.3" cy="226.3" r="5.5"/></g>
<g fill="rgba(255,0,0,0.30)"><circle cx="363.2" cy="359.3" r="5.5"/><circle cx="422.6" cy="330" r="5.5"/></g>
<g fill="rgba(0,255,0,0.30)"><circle cx="364.2" cy="364.3" r="5.5"/><circle cx="425.7" cy="206.8" r="5.5"/></g>
<g fill="rgba(255,0,0,0.30)"><circle cx="299.3" cy="340.1" r="5.5"/></g>
<g fill="rgba(0,255,0,0.30)"><circle cx="381.4" cy="143.7" r="5.5"/><circle cx="377.1" cy="344.7" r="5.5"/></g>
<g fill="rgba(255,0,0,0.30)"><circle cx="278.4" cy="368.3" r="5.5"/><circle cx="245.3" cy="338" r="5.5"/><circle cx="289.9" cy="335.3" r="5.5"/><circle cx="308.1" cy="377.7" r="5.5"/></g>
<g fill="rgba(0,255,0,0.30)"><circle cx="358.4" cy="258.8" r="5.5"/><circle cx="374.5" cy="277.4" r="5.5"/><circle cx="323.8" cy="300.7" r="5.5"/><circle cx="392.6" cy="273.8" r="5.5"/><circle cx="407.5" cy="166.7" r="5.5"/><circle cx="343.3" cy="210.3" r="5.5"/></g>
<g fill="rgba(255,0,0,0.30)"><circle cx="357.6" cy="237.8" r="5.5"/><circle cx="228.6" cy="405.3" r="5.5"/></g>
<g fill="rgba(0,255,0,0.30)"><circle cx="350.5" cy="280" r="5.5"/></g>
<g fill="rgba(255,0,0,0.30)"><circle cx="388.9" cy="310.8" r="5.5"/><circle cx="268.5" cy="357.4" r="5.5"/><circle cx="302.4" cy="378.2" r="5.5"/></g>
<g fill="rgba(0,255,0,0.30)"><circle cx="354.7" cy="311.5" r="5.5"/><circle cx="370.5" cy="234.4" r="5.5"/></g>
<g fill="rgba(255,0,0,0.30)"><circle cx="351.3" cy="354.1" r="5.5"/><circle cx="306.4" cy="329.6" r="5.5"/></g>
<g fill="rgba(0,255,0,0.30)"><circle cx="361.7" cy="324.5" r="5.5"/><circle cx="388" cy="286.9" r="5.5"/><circle cx="342" cy="234.2" r="5.5"/></g>
<g fill="rgba(255,0,0,0.30)"><circle cx="199.4" cy="371.9" r="5.5"/></g>
<g fill="rgba(0,255,0,0.30)"><circle cx="350.8" cy="278.7" r="5.5"/></g>
<g fill="rgba(255,0,0,0.30)"><circle cx="274.5" cy="386" r="5.5"/><circle cx="408.1" cy="246" r="5.5"/><circle cx="346.1" cy="280.7" r="5.5"/></g>
<g fill="rgba(0,255,0,0.30)"><circle cx="423.1" cy="275.9" r="5.5"/><circle cx="345.2" cy="224.2" r="5.5"/></g>
<g fill="rgba(255,0,0,0.30)"><circle cx="286.3" cy="384.6" r="5.5"/><circle cx="434" cy="267.9" r="5.5"/></g>
<g fill="rgba(0,255,0,0.30)"><circle cx="389.9" cy="236.5" r="5.5"/></g>
<g fill="rgba(255,0,0,0.30)"><circle cx="327.2" cy="351.1" r="5.5"/></g>
<g fill="rgba(0,255,0,0.30)"><circle cx="358.1" cy="201.6" r="5.5"/></g>
<g fill="rgba(255,0,0,0.30)"><circle cx="226.3" cy="374.8" r="5.5"/><circle cx="390.7" cy="324.4" r="5.5"/><circle cx="255.1" cy="381.9" r="5.5"/></g>
<g fill="rgba(0,255,0,0.30)"><circle cx="389.2" cy="289" r="5.5"/></g>
<g fill="rgba(255,0,0,0.30)"><circle cx="361.3" cy="203.7" r="5.5"/></g>
<g fill="rgba(0,255,0,0.30)"><circle cx="410.2" cy="290.7" r="5.5"/><circle cx="322.3" cy="264.8" r="5.5"/><circle cx="335.4" cy="259.7" r="5.5"/></g>
<g fill="rgba(255,0,0,0.30)"><circle cx="277" cy="363.3" r="5.5"/></g>
<g fill="rgba(0,255,0,0.30)"><circle cx="407.5" cy="252.2" r="5.5"/><circle cx="339.9" cy="252.7" r="5.5"/><circle cx="441" cy="220.6" r="5.5"/><circle cx="398.9" cy="193" r="5.5"/></g>
<g fill="rgba(255,0,0,0.30)"><circle cx="275.6" cy="353.3" r="5.5"/></g>
<g fill="rgba(0,255,0,0.30)"><circle cx="441.5" cy="90.8" r="5.5"/><circle cx="360.9" cy="240.6" r="5.5"/><circle cx="314.7" cy="287.3" r="5.5"/><circle cx="418.6" cy="238.1" r="5.5"/></g>
<g fill="rgba(255,0,0,0.30)"><circle cx="435.3" cy="314.9" r="5.5"/><circle cx="335" cy="349.7" r="5.5"/></g>
<g fill="rgba(0,255,0,0.30)"><circle cx="335.1" cy="303.1" r="5.5"/></g>
<g fill="rgba(255,0,0,0.30)"><circle cx="300.1" cy="357.7" r="5.5"/><circle cx="399.4" cy="327.4" r="5.5"/><circle cx="394.8" cy="290.8" r="5.5"/></g>
<g fill="rgba(0,255,0,0.30)"><circle cx="372.2" cy="240.2" r="5.5"/><circle cx="413.6" cy="288.3" r="5.5"/><circle cx="320.5" cy="319.7" r="5.5"/></g>
<g fill="rgba(255,0,0,0.30)"><circle cx="267.8" cy="345.8" r="5.5"/><circle cx="335.6" cy="356.3" r="5.5"/></g>
<g fill="rgba(0,255,0,0.30)"><circle cx="396.3" cy="172.6" r="5.5"/></g>
<g fill="rgba(255,0,0,0.30)"><circle cx="371" cy="300.9" r="5.5"/><circle cx="285.3" cy="368.9" r="5.5"/><circle cx="281.7" cy="415.7" r="5.5"/></g>
<g fill="rgba(0,255,0,0.30)"><circle cx="304.1" cy="400.8" r="5.5"/><circle cx="356.5" cy="215.3" r="5.5"/><circle cx="303.1" cy="360" r="5.5"/><circle cx="404" cy="173.7" r="5.5"/></g>
<g fill="rgba(255,0,0,0.30)"><circle cx="340.7" cy="323.2" r="5.5"/></g>
<g fill="rgba(0,255,0,0.30)"><circle cx="373.2" cy="288.7" r="5.5"/></g>
<g fill="rgba(255,0,0,0.30)"><circle cx="306.5" cy="386.2" r="5.5"/></g>
<g fill="rgba(0,255,0,0.30)"><circle cx="363.2" cy="228.6" r="5.5"/></g>
<g fill="rgba(255,0,0,0.30)"><circle cx="261.7" cy="364.1" r="5.5"/></g>
<g fill="rgba(0,255,0,0.30)"><circle cx="287.3" cy="220.9" r="5.5"/><circle cx="399.8" cy="205.5" r="5.5"/></g>
<g fill="rgba(255,0,0,0.30)"><circle cx="252.2" cy="407.9" r="5.5"/><circle cx="258.6" cy="368.1" r="5.5"/></g>
<g fill="rgba(0,255,0,0.30)"><circle cx="338.9" cy="339.7" r="5.5"/></g>
<g fill="rgba(255,0,0,0.30)"><circle cx="331.3" cy="353.2" r="5.5"/><circle cx="245" cy="376.4" r="5.5"/><circle cx="299.7" cy="318.3" r="5.5"/></g>
<g fill="rgba(0,255,0,0.30)"><circle cx="358.1" cy="253.9" r="5.5"/></g>
<g fill="rgba(255,0,0,0.30)"><circle cx="273.9" cy="363.5" r="5.5"/></g>
<g fill="rgba(0,255,0,0.30)"><circle cx="373.1" cy="210" r="5.5"/></g>
<g fill="rgba(255,0,0,0.30)"><circle cx="253.6" cy="311.3" r="5.5"/></g>
<g fill="rgba(0,255,0,0.30)"><circle cx="416.1" cy="156" r="5.5"/></g>
<g fill="rgba(255,0,0,0.30)"><circle cx="375.7" cy="284.7" r="5.5"/><circle cx="372.2" cy="320.9" r="5.5"/></g>
<g fill="rgba(0,255,0,0.30)"><circle cx="314.3" cy="220.7" r="5.5"/></g>
<g fill="rgba(255,0,0,0.30)"><circle cx="259.8" cy="421.9" r="5.5"/></g>
<g fill="rgba(0,255,0,0.30)"><circle cx="295.8" cy="271.1" r="5.5"/></g>
<g fill="rgba(255,0,0,0.30)"><circle cx="278.8" cy="384.9" r="5.5"/></g>
<g fill="rgba(0,255,0,0.30)"><circle cx="381.8" cy="211.2" r="5.5"/><circle cx="413" cy="256.3" r="5.5"/><circle cx="346.3" cy="217.2" r="5.5"/></g>
<g fill="rgba(255,0,0,0.30)"><circle cx="326.8" cy="298.9" r="5.5"/></g>
<g fill="rgba(0,255,0,0.30)"><circle cx="368.4" cy="197.6" r="5.5"/><circle cx="357.3" cy="322.5" r="5.5"/><circle cx="396.9" cy="299.9" r="5.5"/></g>
<g fill="rgba(255,0,0,0.30)"><circle cx="338.1" cy="321" r="5.5"/></g>
<g fill="rgba(0,255,0,0.30)"><circle cx="518.9" cy="153.8" r="5.5"/><circle cx="394.8" cy="187.1" r="5.5"/></g>
<g fill="rgba(255,0,0,0.30)"><circle cx="278.8" cy="390.3" r="5.5"/></g>
<g fill="rgba(0,255,0,0.30)"><circle cx="364.1" cy="248.1" r="5.5"/></g>
<g fill="rgba(255,0,0,0.30)"><circle cx="292.9" cy="366.3" r="5.5"/></g>
<g fill="rgba(0,255,0,0.30)"><circle cx="281.5" cy="365.3" r="5.5"/></g>
<g fill="rgba(255,0,0,0.30)"><circle cx="358.8" cy="423.4" r="5.5"/></g>
<g fill="rgba(0,255,0,0.30)"><circle cx="426" cy="180.2" r="5.5"/><circle cx="396.5" cy="251.8" r="5.5"/><circle cx="290.1" cy="350.5" r="5.5"/></g>
<g fill="rgba(255,0,0,0.30)"><circle cx="357.6" cy="317.7" r="5.5"/></g>
<g fill="rgba(0,255,0,0.30)"><circle cx="345" cy="259.4" r="5.5"/></g>
<g fill="rgba(255,0,0,0.30)"><circle cx="270.1" cy="426.4" r="5.5"/><circle cx="320.3" cy="352.2" r="5.5"/><circle cx="241.9" cy="354.6" r="5.5"/><circle cx="298.9" cy="333.4" r="5.5"/><circle cx="311.3" cy="351.9" r="5.5"/></g>
<g fill="rgba(0,255,0,0.30)"><circle cx="371.2" cy="246.5" r="5.5"/></g>
<g fill="rgba(255,0,0,0.30)"><circle cx="287.1" cy="337.6" r="5.5"/></g>
<g fill="rgba(0,255,0,0.30)"><circle cx="328.6" cy="268.6" r="5.5"/></g>
<g fill="rgba(255,0,0,0.30)"><circle cx="336.8" cy="326.9" r="5.5"/></g>
<g fill="rgba(0,255,0,0.30)"><circle cx="298.9" cy="275.8" r="5.5"/><circle cx="398.2" cy="190.4" r="5.5"/><circle cx="354.4" cy="284.8" r="5.5"/></g>
<g fill="rgba(255,0,0,0.30)"><circle cx="371" cy="315.3" r="5.5"/><circle cx="262.8" cy="450.4" r="5.5"/><circle cx="334.5" cy="375" r="5.5"/></g>
<g fill="rgba(0,255,0,0.30)"><circle cx="341.1" cy="319.1" r="5.5"/></g>
<g fill="rgba(255,0,0,0.30)"><circle cx="259.8" cy="381.9" r="5.5"/></g>
<g fill="rgba(0,255,0,0.30)"><circle cx="264.2" cy="276.5" r="5.5"/><circle cx="377" cy="266.5" r="5.5"/></g>
<g fill="rgba(255,0,0,0.30)"><circle cx="352" cy="415.3" r="5.5"/><circle cx="337.1" cy="252.8" r="5.5"/></g>
<g fill="rgba(0,255,0,0.30)"><circle cx="380.3" cy="219.5" r="5.5"/><circle cx="428.3" cy="164.3" r="5.5"/></g>
<g fill="rgba(255,0,0,0.30)"><circle cx="265.8" cy="353.2" r="5.5"/></g>
<g fill="rgba(0,255,0,0.30)"><circle cx="406.1" cy="223.3" r="5.5"/><circle cx="364.6" cy="262.3" r="5.5"/></g>
<g fill="rgba(255,0,0,0.30)"><circle cx="335.4" cy="319.6" r="5.5"/></g>
<g fill="rgba(0,255,0,0.30)"><circle cx="242.8" cy="403.8" r="5.5"/><circle cx="395.8" cy="212.1" r="5.5"/><circle cx="326.3" cy="269.4" r="5.5"/><circle cx="361.2" cy="215.2" r="5.5"/></g>
<g fill="rgba(255,0,0,0.30)"><circle cx="390.6" cy="362.1" r="5.5"/></g>
<g fill="rgba(0,255,0,0.30)"><circle cx="401" cy="328.2" r="5.5"/><circle cx="326.3" cy="285" r="5.5"/></g>
<g fill="rgba(255,0,0,0.30)"><circle cx="374.5" cy="355.1" r="5.5"/><circle cx="414.2" cy="356.4" r="5.5"/></g>
<g fill="rgba(0,255,0,0.30)"><circle cx="466.1" cy="127.3" r="5.5"/><circle cx="413.5" cy="193.5" r="5.5"/></g>
<g fill="rgba(255,0,0,0.30)"><circle cx="304.4" cy="379.7" r="5.5"/><circle cx="260.6" cy="343.6" r="5.5"/><circle cx="370.6" cy="342.6" r="5.5"/></g>
<g fill="rgba(0,255,0,0.30)"><circle cx="462.9" cy="251.3" r="5.5"/></g>
<g fill="rgba(255,0,0,0.30)"><circle cx="323.8" cy="348.6" r="5.5"/></g>
<g fill="rgba(0,255,0,0.30)"><circle cx="346" cy="228.2" r="5.5"/><circle cx="362.5" cy="368.9" r="5.5"/><circle cx="351.8" cy="272.2" r="5.5"/><circle cx="373.1" cy="249.6" r="5.5"/><circle cx="393.5" cy="185.1" r="5.5"/><circle cx="337.9" cy="363.6" r="5.5"/><circle cx="356.9" cy="270.3" r="5.5"/><circle cx="387.3" cy="289.4" r="5.5"/></g>
<g fill="rgba(255,0,0,0.30)"><circle cx="325.9" cy="335.2" r="5.5"/></g>
<g fill="rgba(0,255,0,0.30)"><circle cx="375.4" cy="210.7" r="5.5"/></g>
<g fill="rgba(255,0,0,0.30)"><circle cx="249" cy="343.6" r="5.5"/></g>
<g fill="rgba(0,255,0,0.30)"><circle cx="363.8" cy="323.2" r="5.5"/><circle cx="369.7" cy="268" r="5.5"/><circle cx="400.9" cy="189.6" r="5.5"/></g>
<g fill="rgba(255,0,0,0.30)"><circle cx="316.9" cy="349.3" r="5.5"/><circle cx="242.6" cy="412.2" r="5.5"/><circle cx="214.2" cy="348" r="5.5"/></g>
<g fill="rgba(0,255,0,0.30)"><circle cx="402.9" cy="221.2" r="5.5"/></g>
<g fill="rgba(255,0,0,0.30)"><circle cx="391.8" cy="295.5" r="5.5"/></g>
<g fill="rgba(0,255,0,0.30)"><circle cx="339.3" cy="252.6" r="5.5"/><circle cx="338.4" cy="242.1" r="5.5"/><circle cx="324.4" cy="333" r="5.5"/></g>
<g fill="rgba(255,0,0,0.30)"><circle cx="290.3" cy="356.9" r="5.5"/></g>
<g fill="rgba(0,255,0,0.30)"><circle cx="357.2" cy="280.6" r="5.5"/><circle cx="320.8" cy="315.7" r="5.5"/></g>
<g fill="rgba(255,0,0,0.30)"><circle cx="296.5" cy="383" r="5.5"/><circle cx="249.8" cy="435.5" r="5.5"/></g>
<g fill="rgba(0,255,0,0.30)"><circle cx="315.3" cy="275.9" r="5.5"/><circle cx="402" cy="273.7" r="5.5"/><circle cx="362.7" cy="348.3" r="5.5"/></g>
<g fill="rgba(255,0,0,0.30)"><circle cx="223.6" cy="366.1" r="5.5"/><circle cx="252.6" cy="380.5" r="5.5"/></g>
<g fill="rgba(0,255,0,0.30)"><circle cx="378" cy="209" r="5.5"/><circle cx="323" cy="293.7" r="5.5"/></g>
<g fill="rgba(255,0,0,0.30)"><circle cx="297.7" cy="387.6" r="5.5"/><circle cx="319.3" cy="347.3" r="5.5"/><circle cx="270.6" cy="402.2" r="5.5"/></g>
<g fill="rgba(0,255,0,0.30)"><circle cx="354.1" cy="207.5" r="5.5"/></g>
<g fill="rgba(255,0,0,0.30)"><circle cx="392.8" cy="282.4" r="5.5"/></g>
<g fill="rgba(0,255,0,0.30)"><circle cx="306.8" cy="304.1" r="5.5"/></g>
<g fill="rgba(255,0,0,0.30)"><circle cx="298.6" cy="386.5" r="5.5"/><circle cx="291" cy="352.9" r="5.5"/><circle cx="285" cy="378.4" r="5.5"/></g>
<g fill="rgba(0,255,0,0.30)"><circle cx="402.2" cy="100" r="5.5"/></g>
<g fill="rgba(255,0,0,0.30)"><circle cx="248.7" cy="421.3" r="5.5"/><circle cx="305.2" cy="353.5" r="5.5"/></g>
<g fill="rgba(0,255,0,0.30)"><circle cx="407.2" cy="242.1" r="5.5"/><circle cx="365.3" cy="229.7" r="5.5"/></g>
<g fill="rgba(255,0,0,0.30)"><circle cx="294.8" cy="385.5" r="5.5"/></g>
<g fill="rgba(0,255,0,0.30)"><circle cx="479.7" cy="128.9" r="5.5"/></g>
<g fill="rgba(255,0,0,0.30)"><circle cx="329.1" cy="370.4" r="5.5"/></g>
<g fill="rgba(0,255,0,0.30)"><circle cx="374.4" cy="287.7" r="5.5"/><circle cx="395.5" cy="268.1" r="5.5"/><circle cx="291.1" cy="316.5" r="5.5"/><circle cx="379.4" cy="327.5" r="5.5"/><circle cx="376.5" cy="250" r="5.5"/></g>
<g fill="rgba(255,0,0,0.30)"><circle cx="312" cy="431.6" r="5.5"/></g>
<g fill="rgba(0,255,0,0.30)"><circle cx="337.7" cy="266.8" r="5.5"/><circle cx="229.2" cy="307.2" r="5.5"/><circle cx="337.9" cy="211.8" r="5.5"/><circle cx="423.6" cy="187.3" r="5.5"/><circle cx="308" cy="299.8" r="5.5"/><circle cx="329.7" cy="255.7" r="5.5"/></g>
<g fill="rgba(255,0,0,0.30)"><circle cx="387.7" cy="380" r="5.5"/></g>
<g fill="rgba(0,255,0,0.30)"><circle cx="357.3" cy="304.6" r="5.5"/></g>
<g fill="rgba(255,0,0,0.30)"><circle cx="330.4" cy="365.5" r="5.5"/></g>
<g fill="rgba(0,255,0,0.30)"><circle cx="310.8" cy="341.4" r="5.5"/><circle cx="436.2" cy="233.4" r="5.5"/></g>
<g fill="rgba(255,0,0,0.30)"><circle cx="202" cy="394.3" r="5.5"/></g>
<g fill="rgba(0,255,0,0.30)"><circle cx="421" cy="139.7" r="5.5"/><circle cx="363.1" cy="276.1" r="5.5"/></g>
<g fill="rgba(255,0,0,0.30)"><circle cx="230" cy="355.6" r="5.5"/><circle cx="321.6" cy="334.4" r="5.5"/></g>
<g fill="rgba(0,255,0,0.30)"><circle cx="357.7" cy="223.2" r="5.5"/></g>
<g fill="rgba(255,0,0,0.30)"><circle cx="292.4" cy="361.4" r="5.5"/><circle cx="436.9" cy="272" r="5.5"/><circle cx="273.2" cy="354.6" r="5.5"/><circle cx="343.1" cy="293.9" r="5.5"/></g>
<g fill="rgba(0,255,0,0.30)"><circle cx="399.9" cy="207.5" r="5.5"/></g>
<g fill="rgba(255,0,0,0.30)"><circle cx="255.7" cy="402.5" r="5.5"/></g>
<g fill="rgba(0,255,0,0.30)"><circle cx="324.6" cy="261.2" r="5.5"/></g>
<g fill="rgba(255,0,0,0.30)"><circle cx="303.1" cy="362" r="5.5"/></g>
<g fill="rgba(0,255,0,0.30)"><circle cx="381.1" cy="270.9" r="5.5"/></g>
<g fill="rgba(255,0,0,0.30)"><circle cx="257.3" cy="352.1" r="5.5"/><circle cx="379.2" cy="286.5" r="5.5"/></g>
<g fill="rgba(0,255,0,0.30)"><circle cx="363.9" cy="256" r="5.5"/></g>
<g fill="rgba(255,0,0,0.30)"><circle cx="247.7" cy="358.5" r="5.5"/></g>
<g fill="rgba(0,255,0,0.30)"><circle cx="351.1" cy="309" r="5.5"/><circle cx="345.6" cy="222.4" r="5.5"/></g>
<g fill="rgba(255,0,0,0.30)"><circle cx="493.2" cy="296.2" r="5.5"/><circle cx="328.9" cy="362.7" r="5.5"/></g>
<g fill="rgba(0,255,0,0.30)"><circle cx="268.5" cy="328.9" r="5.5"/></g>
<g fill="rgba(255,0,0,0.30)"><circle cx="274.5" cy="356" r="5.5"/><circle cx="218.3" cy="404" r="5.5"/></g>
<g fill="rgba(0,255,0,0.30)"><circle cx="387" cy="259.6" r="5.5"/><circle cx="343.6" cy="293.5" r="5.5"/></g>
<g fill="rgba(255,0,0,0.30)"><circle cx="387.2" cy="302.4" r="5.5"/></g>
<g fill="rgba(0,255,0,0.30)"><circle cx="414" cy="212.3" r="5.5"/></g>
<g fill="rgba(255,0,0,0.30)"><circle cx="335.1" cy="363.9" r="5.5"/></g>
<g fill="rgba(0,255,0,0.30)"><circle cx="347.9" cy="228.7" r="5.5"/><circle cx="331.5" cy="243.7" r="5.5"/><circle cx="311.4" cy="350.9" r="5.5"/><circle cx="379.5" cy="284.8" r="5.5"/><circle cx="428.5" cy="231.7" r="5.5"/><circle cx="302.6" cy="326.9" r="5.5"/></g>
<g fill="rgba(255,0,0,0.30)"><circle cx="289.5" cy="354.4" r="5.5"/><circle cx="331.9" cy="316.5" r="5.5"/><circle cx="338.2" cy="255.3" r="5.5"/></g>
<g fill="rgba(0,255,0,0.30)"><circle cx="377.9" cy="304.2" r="5.5"/></g>
<g fill="rgba(255,0,0,0.30)"><circle cx="278.4" cy="403.3" r="5.5"/></g>
<g fill="rgba(0,255,0,0.30)"><circle cx="281.3" cy="307" r="5.5"/><circle cx="318.3" cy="254.9" r="5.5"/></g>
<g fill="rgba(255,0,0,0.30)"><circle cx="249.1" cy="387.5" r="5.5"/></g>
<g fill="rgba(0,255,0,0.30)"><circle cx="457.5" cy="196" r="5.5"/><circle cx="351.1" cy="348.6" r="5.5"/></g>
<g fill="rgba(255,0,0,0.30)"><circle cx="299.5" cy="331.4" r="5.5"/><circle cx="205.3" cy="426.2" r="5.5"/></g>
<g fill="rgba(0,255,0,0.30)"><circle cx="338.4" cy="256.7" r="5.5"/></g>
<g fill="rgba(255,0,0,0.30)"><circle cx="209.1" cy="349.2" r="5.5"/></g>
<g fill="rgba(0,255,0,0.30)"><circle cx="305.4" cy="327.2" r="5.5"/><circle cx="406" cy="267.6" r="5.5"/><circle cx="339" cy="303.2" r="5.5"/><circle cx="355.2" cy="208.8" r="5.5"/><circle cx="335.8" cy="212.3" r="5.5"/></g>
<g fill="rgba(255,0,0,0.30)"><circle cx="270.3" cy="351.9" r="5.5"/><circle cx="358.8" cy="316" r="5.5"/><circle cx="242.4" cy="363.6" r="5.5"/></g>
<g fill="rgba(0,255,0,0.30)"><circle cx="308.7" cy="292.4" r="5.5"/><circle cx="299.2" cy="332.4" r="5.5"/></g>
<g fill="rgba(255,0,0,0.30)"><circle cx="278.5" cy="337.2" r="5.5"/></g>
<g fill="rgba(0,255,0,0.30)"><circle cx="420.8" cy="158.2" r="5.5"/><circle cx="313.5" cy="287.2" r="5.5"/><circle cx="371.9" cy="298.2" r="5.5"/><circle cx="333.8" cy="344.5" r="5.5"/><circle cx="379.6" cy="296" r="5.5"/></g>
<g fill="rgba(255,0,0,0.30)"><circle cx="245.7" cy="376.5" r="5.5"/></g>
<g fill="rgba(0,255,0,0.30)"><circle cx="349.6" cy="284.3" r="5.5"/><circle cx="316.5" cy="232.8" r="5.5"/><circle cx="408.3" cy="264.3" r="5.5"/><circle cx="376" cy="235.9" r="5.5"/><circle cx="400.8" cy="182.7" r="5.5"/><circle cx="332.4" cy="314.1" r="5.5"/><circle cx="376.2" cy="354.9" r="5.5"/></g>
<g fill="rgba(255,0,0,0.30)"><circle cx="280.5" cy="317.2" r="5.5"/><circle cx="358.4" cy="396.7" r="5.5"/></g>
<g fill="rgba(0,255,0,0.30)"><circle cx="356.4" cy="191.2" r="5.5"/><circle cx="358.5" cy="182.8" r="5.5"/></g>
<g fill="rgba(255,0,0,0.30)"><circle cx="254.3" cy="368.5" r="5.5"/></g>
<g fill="rgba(0,255,0,0.30)"><circle cx="333.1" cy="244.3" r="5.5"/><circle cx="298.5" cy="217" r="5.5"/><circle cx="342" cy="199.4" r="5.5"/><circle cx="382" cy="188.4" r="5.5"/><circle cx="325.3" cy="289.8" r="5.5"/><circle cx="368.4" cy="257.8" r="5.5"/><circle cx="248.9" cy="365" r="5.5"/></g>
<g fill="rgba(255,0,0,0.30)"><circle cx="272.5" cy="366.9" r="5.5"/></g>
<g fill="rgba(0,255,0,0.30)"><circle cx="341.2" cy="184.1" r="5.5"/><circle cx="395.3" cy="343.3" r="5.5"/></g>
<g fill="rgba(255,0,0,0.30)"><circle cx="249.2" cy="367.3" r="5.5"/></g>
<g fill="rgba(0,255,0,0.30)"><circle cx="362.7" cy="261.2" r="5.5"/></g>
<g fill="rgba(255,0,0,0.30)"><circle cx="243.3" cy="374.7" r="5.5"/></g>
<g fill="rgba(0,255,0,0.30)"><circle cx="277.6" cy="348.4" r="5.5"/><circle cx="321.7" cy="289.9" r="5.5"/><circle cx="333.2" cy="268.7" r="5.5"/><circle cx="336.3" cy="305.9" r="5.5"/><circle cx="327.3" cy="290.1" r="5.5"/><circle cx="319.1" cy="233.3" r="5.5"/><circle cx="351.5" cy="161.6" r="5.5"/><circle cx="342.1" cy="198.6" r="5.5"/><circle cx="340.6" cy="163.2" r="5.5"/><circle cx="334.8" cy="235.6" r="5.5"/><circle cx="361.6" cy="273.2" r="5.5"/><circle cx="345.4" cy="294.3" r="5.5"/><circle cx="400" cy="274.3" r="5.5"/><circle cx="379.5" cy="258.3" r="5.5"/><circle cx="374.6" cy="284.3" r="5.5"/></g>
<g fill="rgba(255,0,0,0.30)"><circle cx="230.9" cy="358.1" r="5.5"/></g>
<g fill="rgba(0,255,0,0.30)"><circle cx="408.3" cy="229.6" r="5.5"/></g>
<g fill="rgba(255,0,0,0.30)"><circle cx="355.6" cy="339.3" r="5.5"/></g>
<g fill="rgba(0,255,0,0.30)"><circle cx="343.9" cy="277.2" r="5.5"/><circle cx="381" cy="269.2" r="5.5"/></g>
<g fill="rgba(255,0,0,0.30)"><circle cx="337.6" cy="342.2" r="5.5"/></g>
<g fill="rgba(0,255,0,0.30)"><circle cx="374" cy="304" r="5.5"/></g>
<g fill="rgba(255,0,0,0.30)"><circle cx="327.3" cy="374.1" r="5.5"/><circle cx="349.7" cy="260.3" r="5.5"/></g>
<g fill="rgba(0,255,0,0.30)"><circle cx="362.6" cy="369.9" r="5.5"/><circle cx="387.9" cy="272.3" r="5.5"/></g>
<g fill="rgba(255,0,0,0.30)"><circle cx="272.3" cy="326.7" r="5.5"/></g>
<g fill="rgba(0,255,0,0.30)"><circle cx="468.1" cy="244" r="5.5"/><circle cx="401.3" cy="224.8" r="5.5"/><circle cx="396.4" cy="253.5" r="5.5"/><circle cx="389.5" cy="262.2" r="5.5"/></g>
<g fill="rgba(255,0,0,0.30)"><circle cx="420.7" cy="303" r="5.5"/><circle cx="260.3" cy="383.5" r="5.5"/><circle cx="377.8" cy="344.3" r="5.5"/></g>
<g fill="rgba(0,255,0,0.30)"><circle cx="355.3" cy="250.8" r="5.5"/></g>
<g fill="rgba(255,0,0,0.30)"><circle cx="249.7" cy="346.7" r="5.5"/></g>
<g fill="rgba(0,255,0,0.30)"><circle cx="390" cy="255.8" r="5.5"/></g>
<g fill="rgba(255,0,0,0.30)"><circle cx="291.4" cy="322.7" r="5.5"/></g>
<g fill="rgba(0,255,0,0.30)"><circle cx="323.3" cy="272.6" r="5.5"/><circle cx="339.5" cy="261.4" r="5.5"/><circle cx="493.7" cy="232.4" r="5.5"/><circle cx="318.9" cy="344.5" r="5.5"/><circle cx="355" cy="301.8" r="5.5"/></g>
<g fill="rgba(255,0,0,0.30)"><circle cx="240.9" cy="382.2" r="5.5"/></g>
<g fill="rgba(0,255,0,0.30)"><circle cx="334.6" cy="317.4" r="5.5"/></g>
<g fill="rgba(255,0,0,0.30)"><circle cx="337.9" cy="306.9" r="5.5"/></g>
<g fill="rgba(0,255,0,0.30)"><circle cx="436.9" cy="232.9" r="5.5"/></g>
<g fill="rgba(255,0,0,0.30)"><circle cx="276.4" cy="396.8" r="5.5"/></g>
<g fill="rgba(0,255,0,0.30)"><circle cx="362.9" cy="328.5" r="5.5"/><circle cx="348.3" cy="247.4" r="5.5"/><circle cx="406.7" cy="245.6" r="5.5"/><circle cx="411.7" cy="251.1" r="5.5"/><circle cx="339.9" cy="214.1" r="5.5"/><circle cx="368.2" cy="258" r="5.5"/></g>
<g fill="rgba(255,0,0,0.30)"><circle cx="285" cy="312.4" r="5.5"/></g>
<g fill="rgba(0,255,0,0.30)"><circle cx="390.7" cy="282.8" r="5.5"/></g>
<g fill="rgba(255,0,0,0.30)"><circle cx="336.1" cy="346.1" r="5.5"/></g>
<g fill="rgba(0,255,0,0.30)"><circle cx="405.5" cy="201.2" r="5.5"/></g>
<g fill="rgba(255,0,0,0.30)"><circle cx="267.8" cy="353.9" r="5.5"/><circle cx="409.7" cy="363.3" r="5.5"/></g>
<g fill="rgba(0,255,0,0.30)"><circle cx="391.2" cy="274.3" r="5.5"/><circle cx="306.1" cy="369.3" r="5.5"/><circle cx="439.1" cy="236.3" r="5.5"/></g>
<g fill="rgba(255,0,0,0.30)"><circle cx="297.9" cy="331.9" r="5.5"/></g>
<g fill="rgba(0,255,0,0.30)"><circle cx="338.4" cy="272.7" r="5.5"/></g>
<g fill="rgba(255,0,0,0.30)"><circle cx="226" cy="384" r="5.5"/></g>
<g fill="rgba(0,255,0,0.30)"><circle cx="353.8" cy="254.9" r="5.5"/><circle cx="386.3" cy="260.1" r="5.5"/><circle cx="390.4" cy="320.9" r="5.5"/></g>
<g fill="rgba(255,0,0,0.30)"><circle cx="385.8" cy="317" r="5.5"/><circle cx="239.9" cy="414.9" r="5.5"/><circle cx="391.4" cy="379.7" r="5.5"/></g>
<g fill="rgba(0,255,0,0.30)"><circle cx="338.6" cy="292" r="5.5"/></g>
<g fill="rgba(255,0,0,0.30)"><circle cx="229.7" cy="360" r="5.5"/><circle cx="362.4" cy="348.7" r="5.5"/></g>
<g fill="rgba(0,255,0,0.30)"><circle cx="331.8" cy="299.6" r="5.5"/><circle cx="334.3" cy="329.9" r="5.5"/><circle cx="340" cy="285.7" r="5.5"/></g>
<g fill="rgba(255,0,0,0.30)"><circle cx="305.7" cy="346.9" r="5.5"/><circle cx="255.7" cy="413" r="5.5"/></g>
<g fill="rgba(0,255,0,0.30)"><circle cx="409.9" cy="185.4" r="5.5"/><circle cx="331" cy="253.2" r="5.5"/><circle cx="402.4" cy="103.1" r="5.5"/><circle cx="394.7" cy="200.8" r="5.5"/><circle cx="355.2" cy="294.6" r="5.5"/></g>
<g fill="rgba(255,0,0,0.30)"><circle cx="281.8" cy="345.9" r="5.5"/><circle cx="240.8" cy="396.4" r="5.5"/></g>
<g fill="rgba(0,255,0,0.30)"><circle cx="360.7" cy="257.4" r="5.5"/></g>
<g fill="rgba(255,0,0,0.30)"><circle cx="279.1" cy="403.2" r="5.5"/><circle cx="334.3" cy="326.3" r="5.5"/><circle cx="177.2" cy="359.8" r="5.5"/></g>
<g fill="rgba(0,255,0,0.30)"><circle cx="276.3" cy="346.9" r="5.5"/><circle cx="387.3" cy="229.8" r="5.5"/></g>
<g fill="rgba(255,0,0,0.30)"><circle cx="314.6" cy="381.5" r="5.5"/><circle cx="265.9" cy="443.4" r="5.5"/></g>
<g fill="rgba(0,255,0,0.30)"><circle cx="362.4" cy="282.4" r="5.5"/><circle cx="354.6" cy="286.2" r="5.5"/></g>
<g fill="rgba(255,0,0,0.30)"><circle cx="235.7" cy="399.1" r="5.5"/></g>
<g fill="rgba(0,255,0,0.30)"><circle cx="374.7" cy="425.4" r="5.5"/></g>
<g fill="rgba(255,0,0,0.30)"><circle cx="218" cy="360" r="5.5"/></g>
<g fill="rgba(0,255,0,0.30)"><circle cx="354" cy="150.9" r="5.5"/><circle cx="393.4" cy="336.9" r="5.5"/><circle cx="366" cy="284.2" r="5.5"/></g>
<g fill="rgba(255,0,0,0.30)"><circle cx="308.4" cy="366.5" r="5.5"/></g>
<g fill="rgba(0,255,0,0.30)"><circle cx="369.7" cy="364.4" r="5.5"/><circle cx="344.9" cy="243.8" r="5.5"/><circle cx="356.9" cy="250.8" r="5.5"/></g>
<g fill="rgba(255,0,0,0.30)"><circle cx="381.6" cy="293.7" r="5.5"/><circle cx="307.5" cy="323.1" r="5.5"/></g>
<g fill="rgba(0,255,0,0.30)"><circle cx="368.7" cy="272.5" r="5.5"/></g>
<g fill="rgba(255,0,0,0.30)"><circle cx="254.3" cy="371" r="5.5"/><circle cx="363" cy="266.5" r="5.5"/></g>
<g fill="rgba(0,255,0,0.30)"><circle cx="372.4" cy="268.3" r="5.5"/><circle cx="320.7" cy="245.6" r="5.5"/><circle cx="286" cy="320.3" r="5.5"/><circle cx="347.5" cy="258" r="5.5"/></g>
<g fill="rgba(255,0,0,0.30)"><circle cx="239.8" cy="404" r="5.5"/></g>
<g fill="rgba(0,255,0,0.30)"><circle cx="324.8" cy="317.9" r="5.5"/></g>
<g fill="rgba(255,0,0,0.30)"><circle cx="293.6" cy="334.4" r="5.5"/><circle cx="341.8" cy="351.1" r="5.5"/></g>
<g fill="rgba(0,255,0,0.30)"><circle cx="373.4" cy="287.2" r="5.5"/><circle cx="354.5" cy="354.5" r="5.5"/></g>
<g fill="rgba(255,0,0,0.30)"><circle cx="242.9" cy="425.6" r="5.5"/><circle cx="299.5" cy="341.4" r="5.5"/></g>
<g fill="rgba(0,255,0,0.30)"><circle cx="327.3" cy="336.2" r="5.5"/><circle cx="357" cy="346.6" r="5.5"/></g>
<g fill="rgba(255,0,0,0.30)"><circle cx="341.9" cy="342.4" r="5.5"/><circle cx="437.7" cy="340.1" r="5.5"/></g>
<g fill="rgba(0,255,0,0.30)"><circle cx="313.7" cy="313.3" r="5.5"/><circle cx="334" cy="227.8" r="5.5"/></g>
<g fill="rgba(255,0,0,0.30)"><circle cx="313.5" cy="382" r="5.5"/><circle cx="322.5" cy="352" r="5.5"/></g>
<g fill="rgba(0,255,0,0.30)"><circle cx="431.1" cy="404.6" r="5.5"/></g>
<g fill="rgba(255,0,0,0.30)"><circle cx="344.9" cy="299" r="5.5"/></g>
<g fill="rgba(0,255,0,0.30)"><circle cx="295.4" cy="265.3" r="5.5"/><circle cx="473.2" cy="109.9" r="5.5"/><circle cx="358.4" cy="262.7" r="5.5"/><circle cx="402.1" cy="161.5" r="5.5"/></g>
<g fill="rgba(255,0,0,0.30)"><circle cx="284.6" cy="400.4" r="5.5"/><circle cx="396.8" cy="355.4" r="5.5"/><circle cx="273.2" cy="322.2" r="5.5"/></g>
<g fill="rgba(0,255,0,0.30)"><circle cx="357.9" cy="196.2" r="5.5"/></g>
<g fill="rgba(255,0,0,0.30)"><circle cx="365.1" cy="323.4" r="5.5"/></g>
<g fill="rgba(0,255,0,0.30)"><circle cx="419.8" cy="174.6" r="5.5"/><circle cx="358.4" cy="313.3" r="5.5"/></g>
<g fill="rgba(255,0,0,0.30)"><circle cx="418" cy="381.5" r="5.5"/></g>
<g fill="rgba(0,255,0,0.30)"><circle cx="372.5" cy="195.8" r="5.5"/><circle cx="347.4" cy="353" r="5.5"/><circle cx="307" cy="293.8" r="5.5"/><circle cx="412" cy="252.1" r="5.5"/></g>
<g fill="rgba(255,0,0,0.30)"><circle cx="350.9" cy="405.1" r="5.5"/></g>
<g fill="rgba(0,255,0,0.30)"><circle cx="372.5" cy="252.4" r="5.5"/><circle cx="404.1" cy="205.5" r="5.5"/></g>
<g fill="rgba(255,0,0,0.30)"><circle cx="324.1" cy="399.9" r="5.5"/></g>
<g fill="rgba(0,255,0,0.30)"><circle cx="386.5" cy="247.6" r="5.5"/></g>
<g fill="rgba(255,0,0,0.30)"><circle cx="379.5" cy="333.3" r="5.5"/><circle cx="280.2" cy="375.7" r="5.5"/><circle cx="289.6" cy="421.2" r="5.5"/><circle cx="359" cy="302.7" r="5.5"/></g>
<g fill="rgba(0,255,0,0.30)"><circle cx="442.7" cy="140" r="5.5"/><circle cx="363.4" cy="244.2" r="5.5"/><circle cx="330.6" cy="288.3" r="5.5"/><circle cx="363.3" cy="244.4" r="5.5"/><circle cx="338.4" cy="215" r="5.5"/><circle cx="352.9" cy="262.4" r="5.5"/></g>
<g fill="rgba(255,0,0,0.30)"><circle cx="249.5" cy="334.7" r="5.5"/><circle cx="305.4" cy="341" r="5.5"/></g>
<g fill="rgba(0,255,0,0.30)"><circle cx="437.2" cy="208.9" r="5.5"/><circle cx="333.5" cy="261.1" r="5.5"/><circle cx="410.1" cy="273.2" r="5.5"/><circle cx="352.4" cy="333" r="5.5"/><circle cx="391.4" cy="154.6" r="5.5"/><circle cx="331.9" cy="295.2" r="5.5"/><circle cx="379.3" cy="302.9" r="5.5"/></g>
<g fill="rgba(255,0,0,0.30)"><circle cx="378.7" cy="353.5" r="5.5"/></g>
<g fill="rgba(0,255,0,0.30)"><circle cx="397.8" cy="229.2" r="5.5"/><circle cx="419" cy="229" r="5.5"/><circle cx="368.4" cy="292.7" r="5.5"/><circle cx="359.7" cy="231.4" r="5.5"/><circle cx="405.3" cy="297.8" r="5.5"/></g>
<g fill="rgba(255,0,0,0.30)"><circle cx="307.1" cy="364.6" r="5.5"/></g>
<g fill="rgba(0,255,0,0.30)"><circle cx="344.6" cy="339.5" r="5.5"/></g>
<g fill="rgba(255,0,0,0.30)"><circle cx="243.1" cy="371.4" r="5.5"/></g>
<g fill="rgba(0,255,0,0.30)"><circle cx="363.9" cy="274.7" r="5.5"/><circle cx="358.8" cy="212.9" r="5.5"/></g>
<g fill="rgba(255,0,0,0.30)"><circle cx="363" cy="359.3" r="5.5"/></g>
<g fill="rgba(0,255,0,0.30)"><circle cx="357.7" cy="244.8" r="5.5"/><circle cx="351.8" cy="237.7" r="5.5"/><circle cx="313.5" cy="334.1" r="5.5"/><circle cx="372.1" cy="260" r="5.5"/><circle cx="356.5" cy="148.4" r="5.5"/><circle cx="332.5" cy="275.3" r="5.5"/><circle cx="365.1" cy="353" r="5.5"/><circle cx="483.4" cy="171.4" r="5.5"/><circle cx="357.8" cy="236.9" r="5.5"/></g>
<g fill="rgba(255,0,0,0.30)"><circle cx="305" cy="333.6" r="5.5"/></g>
<g fill="rgba(0,255,0,0.30)"><circle cx="323.8" cy="271" r="5.5"/></g>
<g fill="rgba(255,0,0,0.30)"><circle cx="356.3" cy="294.4" r="5.5"/><circle cx="253.8" cy="341.4" r="5.5"/></g>
<g fill="rgba(0,255,0,0.30)"><circle cx="297.6" cy="257.5" r="5.5"/><circle cx="369.7" cy="231.5" r="5.5"/><circle cx="322.3" cy="250.2" r="5.5"/><circle cx="390" cy="205" r="5.5"/><circle cx="347.8" cy="210.8" r="5.5"/><circle cx="352.8" cy="346.2" r="5.5"/></g>
<g fill="rgba(255,0,0,0.30)"><circle cx="313.9" cy="354.6" r="5.5"/></g>
<g fill="rgba(0,255,0,0.30)"><circle cx="385.8" cy="203" r="5.5"/><circle cx="304.8" cy="285.5" r="5.5"/><circle cx="364.1" cy="266.7" r="5.5"/></g>
<g fill="rgba(255,0,0,0.30)"><circle cx="366.3" cy="308.3" r="5.5"/></g>
<g fill="rgba(0,255,0,0.30)"><circle cx="311.2" cy="319.6" r="5.5"/><circle cx="419.5" cy="216.1" r="5.5"/><circle cx="405.8" cy="213.8" r="5.5"/><circle cx="292" cy="385.5" r="5.5"/><circle cx="347.4" cy="256.3" r="5.5"/><circle cx="307.9" cy="252.3" r="5.5"/><circle cx="350.2" cy="239.2" r="5.5"/><circle cx="434.1" cy="265.2" r="5.5"/><circle cx="448.6" cy="182.2" r="5.5"/></g>
<g fill="rgba(255,0,0,0.30)"><circle cx="388" cy="377.4" r="5.5"/></g>
<g fill="rgba(0,255,0,0.30)"><circle cx="357.2" cy="333.8" r="5.5"/><circle cx="356.1" cy="264.2" r="5.5"/></g>
<g fill="rgba(255,0,0,0.30)"><circle cx="283.6" cy="420.4" r="5.5"/></g>
<g fill="rgba(0,255,0,0.30)"><circle cx="412.3" cy="229.9" r="5.5"/><circle cx="423.5" cy="253.8" r="5.5"/><circle cx="361.5" cy="215" r="5.5"/></g>
<g fill="rgba(255,0,0,0.30)"><circle cx="285.8" cy="377.2" r="5.5"/></g>
<g fill="rgba(0,255,0,0.30)"><circle cx="392.6" cy="277.6" r="5.5"/><circle cx="379.5" cy="229.8" r="5.5"/><circle cx="323.3" cy="302.1" r="5.5"/></g>
<g fill="rgba(255,0,0,0.30)"><circle cx="258.9" cy="406.6" r="5.5"/></g>
<g fill="rgba(0,255,0,0.30)"><circle cx="330.8" cy="298.9" r="5.5"/><circle cx="330.2" cy="210" r="5.5"/></g>
<g fill="rgba(255,0,0,0.30)"><circle cx="379.7" cy="306.8" r="5.5"/><circle cx="294.6" cy="380.4" r="5.5"/><circle cx="284.3" cy="307.2" r="5.5"/><circle cx="265.1" cy="372.6" r="5.5"/><circle cx="293.3" cy="375.3" r="5.5"/></g>
<g fill="rgba(0,255,0,0.30)"><circle cx="443.5" cy="122.7" r="5.5"/><circle cx="337.4" cy="353.7" r="5.5"/></g>
<g fill="rgba(255,0,0,0.30)"><circle cx="261.8" cy="321.5" r="5.5"/></g>
<g fill="rgba(0,255,0,0.30)"><circle cx="434.6" cy="205.4" r="5.5"/><circle cx="366.8" cy="238.6" r="5.5"/></g>
<g fill="rgba(255,0,0,0.30)"><circle cx="408.9" cy="232.3" r="5.5"/><circle cx="288.6" cy="345.5" r="5.5"/><circle cx="233" cy="431.6" r="5.5"/><circle cx="375.3" cy="355.5" r="5.5"/><circle cx="338.7" cy="304.6" r="5.5"/></g>
<g fill="rgba(0,255,0,0.30)"><circle cx="321.5" cy="184.5" r="5.5"/><circle cx="382.6" cy="259.5" r="5.5"/><circle cx="406.7" cy="270.1" r="5.5"/><circle cx="411" cy="232.5" r="5.5"/></g>
<g fill="rgba(255,0,0,0.30)"><circle cx="294" cy="395.8" r="5.5"/></g>
<g fill="rgba(0,255,0,0.30)"><circle cx="360.2" cy="233.2" r="5.5"/><circle cx="450.1" cy="204.7" r="5.5"/></g>
<g fill="rgba(255,0,0,0.30)"><circle cx="348.5" cy="305.3" r="5.5"/><circle cx="217.3" cy="401.3" r="5.5"/></g>
<g fill="rgba(0,255,0,0.30)"><circle cx="349.6" cy="354.4" r="5.5"/><circle cx="347.6" cy="245.3" r="5.5"/></g>
<g fill="rgba(255,0,0,0.30)"><circle cx="361.2" cy="320.2" r="5.5"/><circle cx="309.3" cy="353.1" r="5.5"/></g>
<g fill="rgba(0,255,0,0.30)"><circle cx="360.6" cy="242.3" r="5.5"/></g>
<g fill="rgba(255,0,0,0.30)"><circle cx="301.6" cy="389.9" r="5.5"/><circle cx="332.5" cy="327" r="5.5"/><circle cx="297.9" cy="389.9" r="5.5"/></g>
<g fill="rgba(0,255,0,0.30)"><circle cx="355.9" cy="423" r="5.5"/><circle cx="321.8" cy="260.5" r="5.5"/><circle cx="255.7" cy="420.8" r="5.5"/><circle cx="371.6" cy="227.3" r="5.5"/><circle cx="412.5" cy="207.3" r="5.5"/><circle cx="291.8" cy="377.3" r="5.5"/><circle cx="364.9" cy="275.1" r="5.5"/><circle cx="407" cy="238.3" r="5.5"/></g>
<g fill="rgba(255,0,0,0.30)"><circle cx="397.5" cy="327.5" r="5.5"/><circle cx="238.4" cy="364.2" r="5.5"/></g>
<g fill="rgba(0,255,0,0.30)"><circle cx="339.2" cy="368" r="5.5"/></g>
<g fill="rgba(255,0,0,0.30)"><circle cx="395" cy="296.9" r="5.5"/></g>
<g fill="rgba(0,255,0,0.30)"><circle cx="410.4" cy="237.9" r="5.5"/><circle cx="367.4" cy="245.6" r="5.5"/><circle cx="373.4" cy="260.5" r="5.5"/><circle cx="362" cy="335.6" r="5.5"/><circle cx="349.5" cy="314" r="5.5"/><circle cx="340.5" cy="293.9" r="5.5"/></g>
<g fill="rgba(255,0,0,0.30)"><circle cx="268.3" cy="335.7" r="5.5"/></g>
<g fill="rgba(0,255,0,0.30)"><circle cx="349.6" cy="192.3" r="5.5"/><circle cx="450.3" cy="181.1" r="5.5"/><circle cx="312.2" cy="275.2" r="5.5"/><circle cx="434.5" cy="162.2" r="5.5"/></g>
<g fill="rgba(255,0,0,0.30)"><circle cx="278.6" cy="420.6" r="5.5"/></g>
<g fill="rgba(0,255,0,0.30)"><circle cx="316.2" cy="292.2" r="5.5"/><circle cx="405.5" cy="179.7" r="5.5"/></g>
<g fill="rgba(255,0,0,0.30)"><circle cx="240.5" cy="359.2" r="5.5"/><circle cx="285.8" cy="406.7" r="5.5"/></g>
<g fill="rgba(0,255,0,0.30)"><circle cx="361.8" cy="231" r="5.5"/><circle cx="422" cy="287.1" r="5.5"/><circle cx="339.4" cy="249.8" r="5.5"/></g>
<g fill="rgba(255,0,0,0.30)"><circle cx="310" cy="321.4" r="5.5"/><circle cx="305.8" cy="287.1" r="5.5"/></g>
<g fill="rgba(0,255,0,0.30)"><circle cx="313.1" cy="282.4" r="5.5"/><circle cx="423.5" cy="294.7" r="5.5"/><circle cx="359.7" cy="280.7" r="5.5"/><circle cx="345" cy="310.5" r="5.5"/><circle cx="380" cy="246.8" r="5.5"/><circle cx="320.5" cy="239.4" r="5.5"/><circle cx="385.6" cy="278.1" r="5.5"/><circle cx="320.7" cy="333.2" r="5.5"/></g>
<g fill="rgba(255,0,0,0.30)"><circle cx="234.9" cy="373.1" r="5.5"/></g>
<g fill="rgba(0,255,0,0.30)"><circle cx="382.3" cy="223.3" r="5.5"/><circle cx="322.1" cy="348.3" r="5.5"/><circle cx="389.8" cy="210.6" r="5.5"/></g>
<g fill="rgba(255,0,0,0.30)"><circle cx="387.4" cy="343.8" r="5.5"/><circle cx="277.7" cy="300.3" r="5.5"/></g>
<g fill="rgba(0,255,0,0.30)"><circle cx="331.3" cy="255.5" r="5.5"/></g>
<g fill="rgba(255,0,0,0.30)"><circle cx="339.4" cy="366.5" r="5.5"/></g>
<g fill="rgba(0,255,0,0.30)"><circle cx="357.1" cy="343.1" r="5.5"/><circle cx="353.8" cy="197.6" r="5.5"/></g>
<g fill="rgba(255,0,0,0.30)"><circle cx="400.1" cy="212.5" r="5.5"/></g>
<g fill="rgba(0,255,0,0.30)"><circle cx="325.4" cy="356.6" r="5.5"/><circle cx="362.1" cy="373.5" r="5.5"/><circle cx="338.9" cy="186.1" r="5.5"/></g>
<g fill="rgba(255,0,0,0.30)"><circle cx="306.8" cy="397" r="5.5"/><circle cx="266.6" cy="348.4" r="5.5"/><circle cx="258.1" cy="377.9" r="5.5"/></g>
<g fill="rgba(0,255,0,0.30)"><circle cx="308.7" cy="248.3" r="5.5"/></g>
<g fill="rgba(255,0,0,0.30)"><circle cx="332.6" cy="347.2" r="5.5"/><circle cx="334.1" cy="231.2" r="5.5"/><circle cx="261.2" cy="404.2" r="5.5"/><circle cx="332.2" cy="386.7" r="5.5"/></g>
<g fill="rgba(0,255,0,0.30)"><circle cx="320.1" cy="320.4" r="5.5"/><circle cx="345.2" cy="278.5" r="5.5"/><circle cx="361.6" cy="241.5" r="5.5"/><circle cx="331.4" cy="360.8" r="5.5"/><circle cx="325.3" cy="264.6" r="5.5"/></g>
<g fill="rgba(255,0,0,0.30)"><circle cx="382.4" cy="326.9" r="5.5"/><circle cx="302.7" cy="382.7" r="5.5"/></g>
<g fill="rgba(0,255,0,0.30)"><circle cx="280.6" cy="413.4" r="5.5"/><circle cx="313.9" cy="246.9" r="5.5"/></g>
<g fill="rgba(255,0,0,0.30)"><circle cx="198.2" cy="420.8" r="5.5"/></g>
<g fill="rgba(0,255,0,0.30)"><circle cx="347.1" cy="291.6" r="5.5"/><circle cx="401.6" cy="193.8" r="5.5"/><circle cx="357.4" cy="323.2" r="5.5"/><circle cx="393.6" cy="256.7" r="5.5"/><circle cx="459" cy="124.1" r="5.5"/><circle cx="446.3" cy="215" r="5.5"/></g>
<g fill="rgba(255,0,0,0.30)"><circle cx="349.5" cy="310.3" r="5.5"/></g>
<g fill="rgba(0,255,0,0.30)"><circle cx="327.8" cy="288.1" r="5.5"/><circle cx="368.5" cy="296.5" r="5.5"/></g>
<g fill="rgba(255,0,0,0.30)"><circle cx="370.4" cy="299.5" r="5.5"/></g>
<g fill="rgba(0,255,0,0.30)"><circle cx="357.5" cy="324" r="5.5"/><circle cx="346.9" cy="324.8" r="5.5"/></g>
<g fill="rgba(255,0,0,0.30)"><circle cx="356.4" cy="356.5" r="5.5"/></g>
<g fill="rgba(0,255,0,0.30)"><circle cx="403.6" cy="287.4" r="5.5"/></g>
<g fill="rgba(255,0,0,0.30)"><circle cx="336.3" cy="349.3" r="5.5"/></g>
<g fill="rgba(0,255,0,0.30)"><circle cx="354.4" cy="299.6" r="5.5"/></g>
<g fill="rgba(255,0,0,0.30)"><circle cx="438.8" cy="228.3" r="5.5"/></g>
<g fill="rgba(0,255,0,0.30)"><circle cx="299.6" cy="267.3" r="5.5"/></g>
<g fill="rgba(255,0,0,0.30)"><circle cx="276.8" cy="371.5" r="5.5"/></g>
<g fill="rgba(0,255,0,0.30)"><circle cx="355.3" cy="163" r="5.5"/><circle cx="415.7" cy="185.9" r="5.5"/><circle cx="350.9" cy="265.7" r="5.5"/><circle cx="349.9" cy="260.1" r="5.5"/><circle cx="342.1" cy="258.3" r="5.5"/></g>
<g fill="rgba(255,0,0,0.30)"><circle cx="282.9" cy="337.7" r="5.5"/></g>
<g fill="rgba(0,255,0,0.30)"><circle cx="370.5" cy="187.6" r="5.5"/></g>
<g fill="rgba(255,0,0,0.30)"><circle cx="294.5" cy="308" r="5.5"/></g>
<g fill="rgba(0,255,0,0.30)"><circle cx="319.8" cy="409.1" r="5.5"/><circle cx="383.7" cy="165.7" r="5.5"/><circle cx="332.5" cy="255.4" r="5.5"/><circle cx="317.7" cy="311.7" r="5.5"/></g>
<g fill="rgba(255,0,0,0.30)"><circle cx="398.9" cy="348.1" r="5.5"/></g>
<g fill="rgba(0,255,0,0.30)"><circle cx="303.7" cy="399.4" r="5.5"/><circle cx="332.3" cy="282.7" r="5.5"/></g>
<g fill="rgba(255,0,0,0.30)"><circle cx="333.1" cy="315.3" r="5.5"/></g>
<g fill="rgba(0,255,0,0.30)"><circle cx="334.3" cy="236" r="5.5"/><circle cx="440.5" cy="276" r="5.5"/><circle cx="367.6" cy="283.3" r="5.5"/></g>
<g fill="rgba(255,0,0,0.30)"><circle cx="329.5" cy="329.6" r="5.5"/></g>
<g fill="rgba(0,255,0,0.30)"><circle cx="298.3" cy="220.4" r="5.5"/></g>
<g fill="rgba(255,0,0,0.30)"><circle cx="317" cy="300.8" r="5.5"/></g>
<g fill="rgba(0,255,0,0.30)"><circle cx="326.6" cy="312" r="5.5"/><circle cx="320.5" cy="348.4" r="5.5"/></g>
<g fill="rgba(255,0,0,0.30)"><circle cx="374.7" cy="318.5" r="5.5"/></g>
<g fill="rgba(0,255,0,0.30)"><circle cx="295.8" cy="355.1" r="5.5"/></g>
<g fill="rgba(255,0,0,0.30)"><circle cx="368.9" cy="344.1" r="5.5"/><circle cx="195.3" cy="392" r="5.5"/></g>
<g fill="rgba(0,255,0,0.30)"><circle cx="371.7" cy="259.3" r="5.5"/></g>
<g fill="rgba(255,0,0,0.30)"><circle cx="404.3" cy="273.4" r="5.5"/><circle cx="319.1" cy="307.7" r="5.5"/></g>
<g fill="rgba(0,255,0,0.30)"><circle cx="402.2" cy="224" r="5.5"/></g>
<g fill="rgba(255,0,0,0.30)"><circle cx="248.7" cy="325.1" r="5.5"/></g>
<g fill="rgba(0,255,0,0.30)"><circle cx="352.6" cy="306.2" r="5.5"/><circle cx="374.1" cy="212.1" r="5.5"/></g>
<g fill="rgba(255,0,0,0.30)"><circle cx="251.7" cy="391.9" r="5.5"/></g>
<g fill="rgba(0,255,0,0.30)"><circle cx="469.4" cy="147.1" r="5.5"/></g>
<g fill="rgba(255,0,0,0.30)"><circle cx="240.4" cy="325.7" r="5.5"/></g>
<g fill="rgba(0,255,0,0.30)"><circle cx="535.9" cy="128.3" r="5.5"/><circle cx="358.6" cy="262.4" r="5.5"/></g>
<g fill="rgba(255,0,0,0.30)"><circle cx="403.3" cy="299" r="5.5"/><circle cx="303" cy="419.1" r="5.5"/></g>
<g fill="rgba(0,255,0,0.30)"><circle cx="348.5" cy="250.9" r="5.5"/><circle cx="331.2" cy="223" r="5.5"/><circle cx="332.7" cy="305.3" r="5.5"/></g>
<g fill="rgba(255,0,0,0.30)"><circle cx="224.3" cy="315.1" r="5.5"/><circle cx="276.1" cy="319.4" r="5.5"/><circle cx="209.8" cy="398.4" r="5.5"/></g>
<g fill="rgba(0,255,0,0.30)"><circle cx="434.4" cy="173.5" r="5.5"/><circle cx="370.1" cy="185.4" r="5.5"/></g>
<g fill="rgba(255,0,0,0.30)"><circle cx="335.4" cy="319.7" r="5.5"/><circle cx="264.1" cy="387.3" r="5.5"/></g>
<g fill="rgba(0,255,0,0.30)"><circle cx="308.9" cy="305.7" r="5.5"/><circle cx="344.8" cy="250.9" r="5.5"/><circle cx="432.1" cy="224.3" r="5.5"/><circle cx="329.1" cy="267.7" r="5.5"/></g>
<g fill="rgba(255,0,0,0.30)"><circle cx="207.8" cy="366.6" r="5.5"/><circle cx="204.3" cy="389.3" r="5.5"/><circle cx="303" cy="335.6" r="5.5"/></g>
<g fill="rgba(0,255,0,0.30)"><circle cx="323.3" cy="315.4" r="5.5"/></g>
<g fill="rgba(255,0,0,0.30)"><circle cx="319.4" cy="322.6" r="5.5"/><circle cx="310.5" cy="328" r="5.5"/><circle cx="252.3" cy="410.7" r="5.5"/><circle cx="261.2" cy="401.9" r="5.5"/></g>
<g fill="rgba(0,255,0,0.30)"><circle cx="343.4" cy="259.6" r="5.5"/><circle cx="273" cy="317.8" r="5.5"/></g>
<g fill="rgba(255,0,0,0.30)"><circle cx="421.1" cy="269.4" r="5.5"/></g>
<g fill="rgba(0,255,0,0.30)"><circle cx="333.1" cy="321.8" r="5.5"/><circle cx="371" cy="281.9" r="5.5"/><circle cx="335.1" cy="325.2" r="5.5"/></g>
<g fill="rgba(255,0,0,0.30)"><circle cx="272.3" cy="362.1" r="5.5"/><circle cx="241.6" cy="333.8" r="5.5"/><circle cx="357.8" cy="324.4" r="5.5"/><circle cx="256.9" cy="318.3" r="5.5"/></g>
<g fill="rgba(0,255,0,0.30)"><circle cx="364.4" cy="263.6" r="5.5"/></g>
<g fill="rgba(255,0,0,0.30)"><circle cx="265.4" cy="354.1" r="5.5"/><circle cx="455.1" cy="275.6" r="5.5"/><circle cx="381.9" cy="347" r="5.5"/><circle cx="379.9" cy="270.4" r="5.5"/><circle cx="362" cy="290.4" r="5.5"/></g>
<g fill="rgba(0,255,0,0.30)"><circle cx="359.1" cy="249" r="5.5"/></g>
<g fill="rgba(255,0,0,0.30)"><circle cx="274.5" cy="371.5" r="5.5"/></g>
<g fill="rgba(0,255,0,0.30)"><circle cx="326" cy="264.8" r="5.5"/></g>
<g fill="rgba(255,0,0,0.30)"><circle cx="348.6" cy="271.5" r="5.5"/><circle cx="225.8" cy="383.2" r="5.5"/></g>
<g fill="rgba(0,255,0,0.30)"><circle cx="423.3" cy="180.7" r="5.5"/><circle cx="405.3" cy="330.3" r="5.5"/><circle cx="332.6" cy="270.5" r="5.5"/><circle cx="312.4" cy="414" r="5.5"/><circle cx="441.5" cy="324.1" r="5.5"/></g>
<g fill="rgba(255,0,0,0.30)"><circle cx="389.5" cy="297.6" r="5.5"/></g>
<g fill="rgba(0,255,0,0.30)"><circle cx="344.8" cy="303.1" r="5.5"/><circle cx="420.8" cy="255.6" r="5.5"/></g>
<g fill="rgba(255,0,0,0.30)"><circle cx="334.5" cy="310" r="5.5"/><circle cx="312.1" cy="322" r="5.5"/><circle cx="313" cy="346.5" r="5.5"/><circle cx="269.7" cy="383.2" r="5.5"/></g>
<g fill="rgba(0,255,0,0.30)"><circle cx="329.4" cy="321.3" r="5.5"/></g>
<g fill="rgba(255,0,0,0.30)"><circle cx="250.2" cy="287.8" r="5.5"/></g>
<g fill="rgba(0,255,0,0.30)"><circle cx="270.2" cy="346.3" r="5.5"/></g>
<g fill="rgba(255,0,0,0.30)"><circle cx="440.1" cy="339.8" r="5.5"/></g>
<g fill="rgba(0,255,0,0.30)"><circle cx="339.8" cy="299.3" r="5.5"/><circle cx="347.1" cy="253.3" r="5.5"/></g>
<g fill="rgba(255,0,0,0.30)"><circle cx="262" cy="331.8" r="5.5"/></g>
<g fill="rgba(0,255,0,0.30)"><circle cx="379.9" cy="209.7" r="5.5"/><circle cx="328.3" cy="272.1" r="5.5"/><circle cx="360.9" cy="272.2" r="5.5"/></g>
<g fill="rgba(255,0,0,0.30)"><circle cx="345.3" cy="376.9" r="5.5"/></g>
<g fill="rgba(0,255,0,0.30)"><circle cx="319.6" cy="270.1" r="5.5"/><circle cx="494.6" cy="177" r="5.5"/><circle cx="301.2" cy="312.6" r="5.5"/></g>
<g fill="rgba(255,0,0,0.30)"><circle cx="374.4" cy="239.4" r="5.5"/><circle cx="262.6" cy="394.7" r="5.5"/></g>
<g fill="rgba(0,255,0,0.30)"><circle cx="309.7" cy="310.1" r="5.5"/><circle cx="348.6" cy="242.7" r="5.5"/><circle cx="379.2" cy="257.1" r="5.5"/></g>
<g fill="rgba(255,0,0,0.30)"><circle cx="255.9" cy="369.5" r="5.5"/></g>
<g fill="rgba(0,255,0,0.30)"><circle cx="398" cy="328.9" r="5.5"/><circle cx="348.9" cy="290.1" r="5.5"/><circle cx="479.6" cy="220" r="5.5"/><circle cx="317.8" cy="348.1" r="5.5"/><circle cx="322" cy="326.3" r="5.5"/></g>
<g fill="rgba(255,0,0,0.30)"><circle cx="222.4" cy="392.1" r="5.5"/></g>
<g fill="rgba(0,255,0,0.30)"><circle cx="337.4" cy="349.2" r="5.5"/></g>
<g fill="rgba(255,0,0,0.30)"><circle cx="280.3" cy="380.8" r="5.5"/><circle cx="314.2" cy="395.7" r="5.5"/><circle cx="346.1" cy="374.6" r="5.5"/></g>
<g fill="rgba(0,255,0,0.30)"><circle cx="399.1" cy="207.5" r="5.5"/><circle cx="359.6" cy="233.8" r="5.5"/><circle cx="352.8" cy="312.2" r="5.5"/></g>
<g fill="rgba(255,0,0,0.30)"><circle cx="261.3" cy="331.1" r="5.5"/></g>
<g fill="rgba(0,255,0,0.30)"><circle cx="352.1" cy="241.4" r="5.5"/></g>
<g fill="rgba(255,0,0,0.30)"><circle cx="255.2" cy="360.3" r="5.5"/></g>
<g fill="rgba(0,255,0,0.30)"><circle cx="376.1" cy="205.9" r="5.5"/><circle cx="319.4" cy="225.9" r="5.5"/></g>
<g fill="rgba(255,0,0,0.30)"><circle cx="382.1" cy="377.6" r="5.5"/><circle cx="255.9" cy="377.9" r="5.5"/></g>
<g fill="rgba(0,255,0,0.30)"><circle cx="431.4" cy="253.5" r="5.5"/><circle cx="361" cy="285.9" r="5.5"/></g>
<g fill="rgba(255,0,0,0.30)"><circle cx="363.2" cy="401" r="5.5"/><circle cx="350" cy="334.3" r="5.5"/></g>
<g fill="rgba(0,255,0,0.30)"><circle cx="380" cy="249.7" r="5.5"/><circle cx="313" cy="275.1" r="5.5"/><circle cx="390.5" cy="198.6" r="5.5"/><circle cx="371.7" cy="274.4" r="5.5"/><circle cx="378.2" cy="250.3" r="5.5"/><circle cx="322.5" cy="292.5" r="5.5"/><circle cx="317.8" cy="289.1" r="5.5"/><circle cx="332.2" cy="312.2" r="5.5"/></g>
<g fill="rgba(255,0,0,0.30)"><circle cx="293.2" cy="385.4" r="5.5"/></g>
<g fill="rgba(0,255,0,0.30)"><circle cx="384" cy="210" r="5.5"/><circle cx="348.2" cy="314.1" r="5.5"/><circle cx="384.6" cy="266.7" r="5.5"/><circle cx="396.2" cy="202.3" r="5.5"/><circle cx="472" cy="164.1" r="5.5"/></g>
<g fill="rgba(255,0,0,0.30)"><circle cx="354.2" cy="265.1" r="5.5"/></g>
<g fill="rgba(0,255,0,0.30)"><circle cx="348.3" cy="332.9" r="5.5"/><circle cx="344.6" cy="351.9" r="5.5"/><circle cx="388.2" cy="241.2" r="5.5"/><circle cx="325.1" cy="324.1" r="5.5"/><circle cx="326.5" cy="289.6" r="5.5"/><circle cx="283.7" cy="302.2" r="5.5"/><circle cx="331.2" cy="267.2" r="5.5"/><circle cx="315.2" cy="305.1" r="5.5"/><circle cx="372.9" cy="296.4" r="5.5"/><circle cx="397.8" cy="245.2" r="5.5"/></g>
<g fill="rgba(255,0,0,0.30)"><circle cx="283.7" cy="410.2" r="5.5"/></g>
<g fill="rgba(0,255,0,0.30)"><circle cx="391.7" cy="176.6" r="5.5"/></g>
<g fill="rgba(255,0,0,0.30)"><circle cx="315" cy="369.9" r="5.5"/></g>
<g fill="rgba(0,255,0,0.30)"><circle cx="300.2" cy="289.1" r="5.5"/></g>
<g fill="rgba(255,0,0,0.30)"><circle cx="388.7" cy="292.6" r="5.5"/></g>
<g fill="rgba(0,255,0,0.30)"><circle cx="365" cy="199.3" r="5.5"/></g>
<g fill="rgba(255,0,0,0.30)"><circle cx="355.8" cy="240.1" r="5.5"/></g>
<g fill="rgba(0,255,0,0.30)"><circle cx="343.4" cy="223.3" r="5.5"/><circle cx="385.1" cy="416.7" r="5.5"/></g>
<g fill="rgba(255,0,0,0.30)"><circle cx="284.1" cy="371.5" r="5.5"/><circle cx="281" cy="395.4" r="5.5"/></g>
<g fill="rgba(0,255,0,0.30)"><circle cx="423.3" cy="232" r="5.5"/></g>
<g fill="rgba(255,0,0,0.30)"><circle cx="339.5" cy="415.8" r="5.5"/></g>
<g fill="rgba(0,255,0,0.30)"><circle cx="351.4" cy="273.7" r="5.5"/><circle cx="381.9" cy="237.9" r="5.5"/><circle cx="376.9" cy="211.2" r="5.5"/><circle cx="351" cy="266.4" r="5.5"/><circle cx="394" cy="305.5" r="5.5"/></g>
<g fill="rgba(255,0,0,0.30)"><circle cx="342.2" cy="288.5" r="5.5"/></g>
<g fill="rgba(0,255,0,0.30)"><circle cx="329.3" cy="299.6" r="5.5"/><circle cx="403.1" cy="279.1" r="5.5"/><circle cx="380.1" cy="339.5" r="5.5"/></g>
<g fill="rgba(255,0,0,0.30)"><circle cx="314.1" cy="345.7" r="5.5"/></g>
<g fill="rgba(0,255,0,0.30)"><circle cx="357" cy="243.5" r="5.5"/><circle cx="398.2" cy="397.1" r="5.5"/><circle cx="465.7" cy="151.5" r="5.5"/></g>
<g fill="rgba(255,0,0,0.30)"><circle cx="386.7" cy="271" r="5.5"/></g>
<g fill="rgba(0,255,0,0.30)"><circle cx="358.5" cy="290.2" r="5.5"/></g>
<g fill="rgba(255,0,0,0.30)"><circle cx="388.8" cy="362.1" r="5.5"/></g>
<g fill="rgba(0,255,0,0.30)"><circle cx="422" cy="132" r="5.5"/><circle cx="374.2" cy="276.6" r="5.5"/></g>
<g fill="rgba(255,0,0,0.30)"><circle cx="313.8" cy="394.9" r="5.5"/></g>
<g fill="rgba(0,255,0,0.30)"><circle cx="364.8" cy="185.8" r="5.5"/></g>
<g fill="rgba(255,0,0,0.30)"><circle cx="319.2" cy="379" r="5.5"/></g>
<g fill="rgba(0,255,0,0.30)"><circle cx="317.7" cy="241.1" r="5.5"/></g>
<g fill="rgba(255,0,0,0.30)"><circle cx="326" cy="274" r="5.5"/></g>
<g fill="rgba(0,255,0,0.30)"><circle cx="409.3" cy="260.5" r="5.5"/><circle cx="292.9" cy="255.2" r="5.5"/><circle cx="354" cy="226.9" r="5.5"/><circle cx="350.5" cy="246.1" r="5.5"/><circle cx="358.5" cy="273.9" r="5.5"/><circle cx="359.1" cy="257.1" r="5.5"/><circle cx="353.9" cy="427.3" r="5.5"/><circle cx="341.6" cy="256" r="5.5"/></g>
<g fill="rgba(255,0,0,0.30)"><circle cx="374.2" cy="359" r="5.5"/><circle cx="260.2" cy="381.4" r="5.5"/></g>
<g fill="rgba(0,255,0,0.30)"><circle cx="385.8" cy="324.6" r="5.5"/></g>
<g fill="rgba(255,0,0,0.30)"><circle cx="339.4" cy="342.5" r="5.5"/></g>
<g fill="rgba(0,255,0,0.30)"><circle cx="375.4" cy="314.2" r="5.5"/></g>
<g fill="rgba(255,0,0,0.30)"><circle cx="206.7" cy="411" r="5.5"/></g>
<g fill="rgba(0,255,0,0.30)"><circle cx="344" cy="249.8" r="5.5"/><circle cx="378.7" cy="348.9" r="5.5"/><circle cx="332.6" cy="281" r="5.5"/></g>
<g fill="rgba(255,0,0,0.30)"><circle cx="307.3" cy="359.1" r="5.5"/></g>
<g fill="rgba(0,255,0,0.30)"><circle cx="294.1" cy="284.7" r="5.5"/><circle cx="385.4" cy="283.1" r="5.5"/></g>
<g fill="rgba(255,0,0,0.30)"><circle cx="277.4" cy="377.7" r="5.5"/></g>
<g fill="rgba(0,255,0,0.30)"><circle cx="440.3" cy="175.5" r="5.5"/></g>
<g fill="rgba(255,0,0,0.30)"><circle cx="348.8" cy="353.6" r="5.5"/></g>
<g fill="rgba(0,255,0,0.30)"><circle cx="389.6" cy="261.8" r="5.5"/><circle cx="376.8" cy="160.2" r="5.5"/><circle cx="343.8" cy="289.8" r="5.5"/></g>
<g fill="rgba(255,0,0,0.30)"><circle cx="319.7" cy="289" r="5.5"/><circle cx="268.1" cy="357" r="5.5"/><circle cx="258.4" cy="389" r="5.5"/></g>
<g fill="rgba(0,255,0,0.30)"><circle cx="423.4" cy="217.6" r="5.5"/></g>
<g fill="rgba(255,0,0,0.30)"><circle cx="349" cy="313.7" r="5.5"/></g>
<g fill="rgba(0,255,0,0.30)"><circle cx="405.6" cy="147.8" r="5.5"/><circle cx="325" cy="286" r="5.5"/><circle cx="388.1" cy="239.3" r="5.5"/></g>
<g fill="rgba(255,0,0,0.30)"><circle cx="367.4" cy="394.6" r="5.5"/><circle cx="344.1" cy="349.2" r="5.5"/></g>
<g fill="rgba(0,255,0,0.30)"><circle cx="329.5" cy="337.1" r="5.5"/><circle cx="383" cy="248.7" r="5.5"/></g>
<g fill="rgba(255,0,0,0.30)"><circle cx="312" cy="324.9" r="5.5"/><circle cx="268.8" cy="372.5" r="5.5"/><circle cx="260.5" cy="307.9" r="5.5"/><circle cx="259.4" cy="402.5" r="5.5"/><circle cx="271" cy="335.5" r="5.5"/></g>
<g fill="rgba(0,255,0,0.30)"><circle cx="303.9" cy="317.4" r="5.5"/></g>
<g fill="rgba(255,0,0,0.30)"><circle cx="184.7" cy="431.3" r="5.5"/></g>
<g fill="rgba(0,255,0,0.30)"><circle cx="326.2" cy="246.3" r="5.5"/></g>
<g fill="rgba(255,0,0,0.30)"><circle cx="229.1" cy="383.9" r="5.5"/></g>
<g fill="rgba(0,255,0,0.30)"><circle cx="381.8" cy="252.1" r="5.5"/></g>
<g fill="rgba(255,0,0,0.30)"><circle cx="364.1" cy="344" r="5.5"/><circle cx="269.8" cy="360.5" r="5.5"/><circle cx="288.7" cy="387.5" r="5.5"/></g>
<g fill="rgba(0,255,0,0.30)"><circle cx="334.3" cy="261.2" r="5.5"/><circle cx="301.7" cy="239.1" r="5.5"/></g>
<g fill="rgba(255,0,0,0.30)"><circle cx="335.2" cy="284.6" r="5.5"/></g>
<g fill="rgba(0,255,0,0.30)"><circle cx="346.6" cy="253.6" r="5.5"/><circle cx="393.5" cy="227.6" r="5.5"/></g>
<g fill="rgba(255,0,0,0.30)"><circle cx="328.7" cy="336.9" r="5.5"/></g>
<g fill="rgba(0,255,0,0.30)"><circle cx="387.8" cy="230" r="5.5"/><circle cx="326.7" cy="210.1" r="5.5"/><circle cx="329.8" cy="231" r="5.5"/></g>
<g fill="rgba(255,0,0,0.30)"><circle cx="336.9" cy="338" r="5.5"/></g>
<g fill="rgba(0,255,0,0.30)"><circle cx="322.3" cy="275.8" r="5.5"/></g>
<g fill="rgba(255,0,0,0.30)"><circle cx="378.4" cy="338.1" r="5.5"/><circle cx="236.2" cy="358.8" r="5.5"/></g>
<g fill="rgba(0,255,0,0.30)"><circle cx="338.8" cy="172.6" r="5.5"/><circle cx="370.6" cy="284.3" r="5.5"/><circle cx="307.7" cy="288.2" r="5.5"/><circle cx="392.6" cy="272.8" r="5.5"/></g>
<g fill="rgba(255,0,0,0.30)"><circle cx="312.3" cy="398.9" r="5.5"/></g>
<g fill="rgba(0,255,0,0.30)"><circle cx="328.5" cy="359" r="5.5"/><circle cx="364.1" cy="296.2" r="5.5"/><circle cx="311.6" cy="297.4" r="5.5"/><circle cx="410.5" cy="248.2" r="5.5"/><circle cx="358.5" cy="304.7" r="5.5"/><circle cx="443.9" cy="182.9" r="5.5"/></g>
<g fill="rgba(255,0,0,0.30)"><circle cx="265.4" cy="329.1" r="5.5"/></g>
<g fill="rgba(0,255,0,0.30)"><circle cx="406.6" cy="206.1" r="5.5"/></g>
<g fill="rgba(255,0,0,0.30)"><circle cx="337.2" cy="387.7" r="5.5"/></g>
<g fill="rgba(0,255,0,0.30)"><circle cx="407.3" cy="246.8" r="5.5"/><circle cx="368.1" cy="232.7" r="5.5"/><circle cx="336.7" cy="206.3" r="5.5"/><circle cx="303.6" cy="293.8" r="5.5"/></g>
<g fill="rgba(255,0,0,0.30)"><circle cx="310.1" cy="357.5" r="5.5"/><circle cx="267" cy="433.2" r="5.5"/><circle cx="374" cy="311.4" r="5.5"/><circle cx="318.1" cy="322.6" r="5.5"/></g>
<g fill="rgba(0,255,0,0.30)"><circle cx="275" cy="332" r="5.5"/></g>
<g fill="rgba(255,0,0,0.30)"><circle cx="276.2" cy="353.6" r="5.5"/></g>
<g fill="rgba(0,255,0,0.30)"><circle cx="310.5" cy="335.2" r="5.5"/><circle cx="365.6" cy="208.9" r="5.5"/><circle cx="309.6" cy="305.2" r="5.5"/><circle cx="348.4" cy="248.9" r="5.5"/><circle cx="323.3" cy="346.5" r="5.5"/><circle cx="409" cy="220.6" r="5.5"/><circle cx="422.7" cy="175.4" r="5.5"/><circle cx="409.2" cy="161.3" r="5.5"/></g>
<g fill="rgba(255,0,0,0.30)"><circle cx="244.2" cy="338.8" r="5.5"/></g>
<g fill="rgba(0,255,0,0.30)"><circle cx="420.8" cy="304.4" r="5.5"/><circle cx="406.1" cy="204.1" r="5.5"/></g>
<g fill="rgba(255,0,0,0.30)"><circle cx="255.7" cy="363.6" r="5.5"/><circle cx="345.1" cy="377.4" r="5.5"/><circle cx="256.7" cy="352.5" r="5.5"/></g>
<g fill="rgba(0,255,0,0.30)"><circle cx="274.5" cy="370.4" r="5.5"/></g>
<g fill="rgba(255,0,0,0.30)"><circle cx="364.2" cy="376.1" r="5.5"/><circle cx="368.3" cy="241.3" r="5.5"/><circle cx="232.1" cy="351.3" r="5.5"/></g>
<g fill="rgba(0,255,0,0.30)"><circle cx="329.4" cy="278" r="5.5"/></g>
<g fill="rgba(255,0,0,0.30)"><circle cx="331.7" cy="331.6" r="5.5"/><circle cx="289" cy="359.1" r="5.5"/></g>
<g fill="rgba(0,255,0,0.30)"><circle cx="456.5" cy="123.9" r="5.5"/><circle cx="338.2" cy="343.4" r="5.5"/></g>
<g fill="rgba(255,0,0,0.30)"><circle cx="288.8" cy="336.8" r="5.5"/><circle cx="293.5" cy="334" r="5.5"/><circle cx="261.4" cy="371" r="5.5"/></g>
<g fill="rgba(0,255,0,0.30)"><circle cx="274.3" cy="238.2" r="5.5"/><circle cx="362.5" cy="260.4" r="5.5"/><circle cx="320" cy="296.1" r="5.5"/><circle cx="328.2" cy="331.6" r="5.5"/></g>
<g fill="rgba(255,0,0,0.30)"><circle cx="238.5" cy="309.3" r="5.5"/></g>
<g fill="rgba(0,255,0,0.30)"><circle cx="525.3" cy="105.1" r="5.5"/></g>
<g fill="rgba(255,0,0,0.30)"><circle cx="364.7" cy="350.6" r="5.5"/></g>
<g fill="rgba(0,255,0,0.30)"><circle cx="356.4" cy="297.9" r="5.5"/></g>
<g fill="rgba(255,0,0,0.30)"><circle cx="261.6" cy="349.3" r="5.5"/><circle cx="244.8" cy="382.8" r="5.5"/><circle cx="289.2" cy="404.9" r="5.5"/></g>
<g fill="rgba(0,255,0,0.30)"><circle cx="368.5" cy="288" r="5.5"/><circle cx="328.4" cy="393.5" r="5.5"/><circle cx="362.2" cy="294.3" r="5.5"/></g>
<g fill="rgba(255,0,0,0.30)"><circle cx="360.9" cy="245.1" r="5.5"/><circle cx="310.7" cy="376.3" r="5.5"/></g>
<g fill="rgba(0,255,0,0.30)"><circle cx="399" cy="232.1" r="5.5"/><circle cx="315.4" cy="291.2" r="5.5"/><circle cx="466" cy="177" r="5.5"/></g>
<g fill="rgba(255,0,0,0.30)"><circle cx="232.6" cy="384.8" r="5.5"/></g>
<g fill="rgba(0,255,0,0.30)"><circle cx="355.5" cy="325.1" r="5.5"/><circle cx="426.4" cy="227.3" r="5.5"/></g>
<g fill="rgba(255,0,0,0.30)"><circle cx="264.9" cy="403.9" r="5.5"/><circle cx="247.6" cy="395.4" r="5.5"/><circle cx="386.2" cy="257.8" r="5.5"/></g>
<g fill="rgba(0,255,0,0.30)"><circle cx="341.3" cy="320.9" r="5.5"/><circle cx="342.6" cy="250.3" r="5.5"/></g>
<g fill="rgba(255,0,0,0.30)"><circle cx="369.5" cy="361.5" r="5.5"/></g>
<g fill="rgba(0,255,0,0.30)"><circle cx="334.4" cy="226.7" r="5.5"/><circle cx="366.3" cy="382" r="5.5"/><circle cx="357.6" cy="347.7" r="5.5"/><circle cx="453.9" cy="236.3" r="5.5"/></g>
<g fill="rgba(255,0,0,0.30)"><circle cx="291.3" cy="379" r="5.5"/></g>
<g fill="rgba(0,255,0,0.30)"><circle cx="338.7" cy="334" r="5.5"/><circle cx="330.3" cy="264.9" r="5.5"/><circle cx="287.3" cy="402.2" r="5.5"/><circle cx="371.1" cy="225.2" r="5.5"/><circle cx="391.5" cy="273.2" r="5.5"/><circle cx="368.2" cy="260.7" r="5.5"/><circle cx="345.5" cy="228.6" r="5.5"/></g>
<g fill="rgba(255,0,0,0.30)"><circle cx="379.2" cy="298.1" r="5.5"/></g>
<g fill="rgba(0,255,0,0.30)"><circle cx="333.9" cy="326" r="5.5"/><circle cx="373.4" cy="276.4" r="5.5"/></g>
<g fill="rgba(255,0,0,0.30)"><circle cx="315" cy="314" r="5.5"/></g>
<g fill="rgba(0,255,0,0.30)"><circle cx="487.6" cy="208" r="5.5"/></g>
<g fill="rgba(255,0,0,0.30)"><circle cx="296.1" cy="366.3" r="5.5"/></g>
<g fill="rgba(0,255,0,0.30)"><circle cx="390.5" cy="150.5" r="5.5"/><circle cx="414.3" cy="205.7" r="5.5"/></g>
<g fill="rgba(255,0,0,0.30)"><circle cx="345.6" cy="272.7" r="5.5"/></g>
<g fill="rgba(0,255,0,0.30)"><circle cx="354" cy="263.6" r="5.5"/><circle cx="401" cy="127.6" r="5.5"/><circle cx="347.9" cy="224.1" r="5.5"/></g>
<g fill="rgba(255,0,0,0.30)"><circle cx="326.5" cy="334.9" r="5.5"/></g>
<g fill="rgba(0,255,0,0.30)"><circle cx="340" cy="248.8" r="5.5"/></g>
<g fill="rgba(255,0,0,0.30)"><circle cx="287.7" cy="361.8" r="5.5"/></g>
<g fill="rgba(0,255,0,0.30)"><circle cx="453.1" cy="277.1" r="5.5"/><circle cx="258.4" cy="286.4" r="5.5"/><circle cx="397.5" cy="299.7" r="5.5"/><circle cx="425.2" cy="226.7" r="5.5"/><circle cx="385.5" cy="216" r="5.5"/></g>
<g fill="rgba(255,0,0,0.30)"><circle cx="267.7" cy="360" r="5.5"/><circle cx="327.7" cy="314.7" r="5.5"/></g>
<g fill="rgba(0,255,0,0.30)"><circle cx="358.3" cy="299.8" r="5.5"/><circle cx="342.2" cy="243.3" r="5.5"/><circle cx="361.1" cy="264.9" r="5.5"/></g>
<g fill="rgba(255,0,0,0.30)"><circle cx="242.8" cy="378.3" r="5.5"/></g>
<g fill="rgba(0,255,0,0.30)"><circle cx="336.4" cy="270.7" r="5.5"/><circle cx="344.6" cy="274.6" r="5.5"/></g>
<g fill="rgba(255,0,0,0.30)"><circle cx="286" cy="399.3" r="5.5"/></g>
<g fill="rgba(0,255,0,0.30)"><circle cx="402.2" cy="196.7" r="5.5"/><circle cx="352.6" cy="255" r="5.5"/><circle cx="319.2" cy="288.3" r="5.5"/></g>
<g fill="rgba(255,0,0,0.30)"><circle cx="319.6" cy="388.4" r="5.5"/></g>
<g fill="rgba(0,255,0,0.30)"><circle cx="409.6" cy="207.2" r="5.5"/><circle cx="466.2" cy="146.1" r="5.5"/><circle cx="283.2" cy="405.7" r="5.5"/><circle cx="353.1" cy="251.8" r="5.5"/><circle cx="379.5" cy="290.6" r="5.5"/></g>
<g fill="rgba(255,0,0,0.30)"><circle cx="251.4" cy="349.9" r="5.5"/><circle cx="355.9" cy="337.8" r="5.5"/></g>
<g fill="rgba(0,255,0,0.30)"><circle cx="406.5" cy="253.4" r="5.5"/><circle cx="459.4" cy="179.9" r="5.5"/><circle cx="355.5" cy="255.7" r="5.5"/><circle cx="356.3" cy="271.1" r="5.5"/></g>
<g fill="rgba(255,0,0,0.30)"><circle cx="305.8" cy="278.7" r="5.5"/></g>
<g fill="rgba(0,255,0,0.30)"><circle cx="374.6" cy="210" r="5.5"/><circle cx="319.8" cy="274.6" r="5.5"/></g>
<g fill="rgba(255,0,0,0.30)"><circle cx="344.8" cy="382.7" r="5.5"/><circle cx="274.3" cy="336.1" r="5.5"/><circle cx="271.9" cy="395.4" r="5.5"/></g>
<g fill="rgba(0,255,0,0.30)"><circle cx="368.3" cy="286.6" r="5.5"/></g>
<g fill="rgba(255,0,0,0.30)"><circle cx="315" cy="380.9" r="5.5"/><circle cx="259.3" cy="368" r="5.5"/><circle cx="416.6" cy="314.3" r="5.5"/></g>
<g fill="rgba(0,255,0,0.30)"><circle cx="321.2" cy="294.8" r="5.5"/></g>
<g fill="rgba(255,0,0,0.30)"><circle cx="335" cy="384.6" r="5.5"/><circle cx="398.1" cy="256.8" r="5.5"/><circle cx="340.7" cy="341.7" r="5.5"/><circle cx="228.7" cy="384.3" r="5.5"/></g>
<g fill="rgba(0,255,0,0.30)"><circle cx="362.4" cy="273.8" r="5.5"/><circle cx="419.2" cy="249.8" r="5.5"/><circle cx="335.5" cy="246.4" r="5.5"/><circle cx="379" cy="333.1" r="5.5"/><circle cx="316.9" cy="325.8" r="5.5"/><circle cx="323.6" cy="280.5" r="5.5"/><circle cx="341.3" cy="325.4" r="5.5"/><circle cx="384.8" cy="259" r="5.5"/></g>
<g fill="rgba(255,0,0,0.30)"><circle cx="273.7" cy="403.5" r="5.5"/><circle cx="231" cy="393.4" r="5.5"/><circle cx="287.6" cy="389.7" r="5.5"/></g>
<g fill="rgba(0,255,0,0.30)"><circle cx="375" cy="277.1" r="5.5"/><circle cx="385.3" cy="169.1" r="5.5"/><circle cx="376.7" cy="218" r="5.5"/></g>
<g fill="rgba(255,0,0,0.30)"><circle cx="269.7" cy="398.4" r="5.5"/></g>
<g fill="rgba(0,255,0,0.30)"><circle cx="394.4" cy="178.6" r="5.5"/><circle cx="430" cy="147.6" r="5.5"/><circle cx="386.3" cy="195.7" r="5.5"/><circle cx="291.9" cy="309" r="5.5"/></g>
<g fill="rgba(255,0,0,0.30)"><circle cx="398.4" cy="334" r="5.5"/></g>
<g fill="rgba(0,255,0,0.30)"><circle cx="301.3" cy="238.6" r="5.5"/></g>
<g fill="rgba(255,0,0,0.30)"><circle cx="290.1" cy="380.2" r="5.5"/></g>
<g fill="rgba(0,255,0,0.30)"><circle cx="271.4" cy="341.8" r="5.5"/><circle cx="395.3" cy="267.6" r="5.5"/><circle cx="395.7" cy="281.7" r="5.5"/></g>
<g fill="rgba(255,0,0,0.30)"><circle cx="226.9" cy="332.6" r="5.5"/><circle cx="313.3" cy="431.7" r="5.5"/></g>
<g fill="rgba(0,255,0,0.30)"><circle cx="338.2" cy="311.3" r="5.5"/><circle cx="336.4" cy="235.5" r="5.5"/></g>
<g fill="rgba(255,0,0,0.30)"><circle cx="315.4" cy="386.2" r="5.5"/></g>
<g fill="rgba(0,255,0,0.30)"><circle cx="323.3" cy="230.6" r="5.5"/><circle cx="387" cy="187.7" r="5.5"/></g>
<g fill="rgba(255,0,0,0.30)"><circle cx="340.2" cy="405" r="5.5"/></g>
<g fill="rgba(0,255,0,0.30)"><circle cx="370.8" cy="324.4" r="5.5"/></g>
<g fill="rgba(255,0,0,0.30)"><circle cx="236.2" cy="396.3" r="5.5"/></g>
<g fill="rgba(0,255,0,0.30)"><circle cx="357.3" cy="305.4" r="5.5"/><circle cx="428.6" cy="329" r="5.5"/></g>
<g fill="rgba(255,0,0,0.30)"><circle cx="356.1" cy="389.9" r="5.5"/></g>
<g fill="rgba(0,255,0,0.30)"><circle cx="385.9" cy="304.8" r="5.5"/></g>
<g fill="rgba(255,0,0,0.30)"><circle cx="314.7" cy="408.9" r="5.5"/></g>
<g fill="rgba(0,255,0,0.30)"><circle cx="371.6" cy="235.2" r="5.5"/><circle cx="319.2" cy="353.2" r="5.5"/><circle cx="330.9" cy="382.1" r="5.5"/></g>
<g fill="rgba(255,0,0,0.30)"><circle cx="327.7" cy="388.9" r="5.5"/><circle cx="242.6" cy="364" r="5.5"/></g>
<g fill="rgba(0,255,0,0.30)"><circle cx="366.3" cy="266" r="5.5"/><circle cx="307.9" cy="318.4" r="5.5"/><circle cx="479.9" cy="121.2" r="5.5"/><circle cx="318.5" cy="376.3" r="5.5"/><circle cx="331.3" cy="274.9" r="5.5"/></g>
<g fill="rgba(255,0,0,0.30)"><circle cx="328.4" cy="332.7" r="5.5"/></g>
<g fill="rgba(0,255,0,0.30)"><circle cx="354" cy="236.8" r="5.5"/></g>
<g fill="rgba(255,0,0,0.30)"><circle cx="332.5" cy="254.5" r="5.5"/></g>
<g fill="rgba(0,255,0,0.30)"><circle cx="338" cy="237.5" r="5.5"/><circle cx="372.9" cy="236.6" r="5.5"/><circle cx="383.3" cy="265.6" r="5.5"/><circle cx="375.5" cy="265.3" r="5.5"/><circle cx="326.1" cy="286.1" r="5.5"/><circle cx="329.2" cy="318.8" r="5.5"/><circle cx="375.8" cy="213.4" r="5.5"/><circle cx="449.7" cy="219.7" r="5.5"/><circle cx="371.6" cy="337.7" r="5.5"/><circle cx="356.9" cy="259.9" r="5.5"/><circle cx="450.3" cy="230.9" r="5.5"/><circle cx="358.4" cy="331.9" r="5.5"/><circle cx="298.9" cy="320.6" r="5.5"/><circle cx="400.9" cy="282" r="5.5"/><circle cx="333.6" cy="324.7" r="5.5"/></g>
<g fill="rgba(255,0,0,0.30)"><circle cx="344.5" cy="345.1" r="5.5"/></g>
<g fill="rgba(0,255,0,0.30)"><circle cx="316.9" cy="338.6" r="5.5"/></g>
<g fill="rgba(255,0,0,0.30)"><circle cx="313.7" cy="357.6" r="5.5"/></g>
<g fill="rgba(0,255,0,0.30)"><circle cx="334" cy="369.7" r="5.5"/><circle cx="293.6" cy="261.8" r="5.5"/><circle cx="404.3" cy="249.3" r="5.5"/></g>
<g fill="rgba(255,0,0,0.30)"><circle cx="311.1" cy="385.5" r="5.5"/></g>
<g fill="rgba(0,255,0,0.30)"><circle cx="370.6" cy="205" r="5.5"/><circle cx="318.2" cy="232" r="5.5"/><circle cx="334.9" cy="275.5" r="5.5"/></g>
<g fill="rgba(255,0,0,0.30)"><circle cx="273.3" cy="409.4" r="5.5"/></g>
<g fill="rgba(0,255,0,0.30)"><circle cx="307.9" cy="291.6" r="5.5"/><circle cx="291.9" cy="364.6" r="5.5"/></g>
<g fill="rgba(255,0,0,0.30)"><circle cx="277.5" cy="370.9" r="5.5"/><circle cx="274.8" cy="413.8" r="5.5"/><circle cx="293.1" cy="361" r="5.5"/></g>
<g fill="rgba(0,255,0,0.30)"><circle cx="376.4" cy="248.8" r="5.5"/></g>
<g fill="rgba(255,0,0,0.30)"><circle cx="203.3" cy="422.4" r="5.5"/></g>
<g fill="rgba(0,255,0,0.30)"><circle cx="391.1" cy="209.6" r="5.5"/><circle cx="423" cy="243.7" r="5.5"/><circle cx="461.5" cy="194.2" r="5.5"/><circle cx="284.3" cy="320.7" r="5.5"/><circle cx="320.1" cy="243.9" r="5.5"/><circle cx="413.3" cy="236.2" r="5.5"/><circle cx="327.8" cy="338" r="5.5"/><circle cx="278.3" cy="310.9" r="5.5"/></g>
<g fill="rgba(255,0,0,0.30)"><circle cx="245" cy="353.8" r="5.5"/></g>
<g fill="rgba(0,255,0,0.30)"><circle cx="345.6" cy="410.1" r="5.5"/><circle cx="328.4" cy="290.4" r="5.5"/></g>
<g fill="rgba(255,0,0,0.30)"><circle cx="310.4" cy="364.2" r="5.5"/><circle cx="258" cy="449.4" r="5.5"/></g>
<g fill="rgba(0,255,0,0.30)"><circle cx="390.6" cy="217.1" r="5.5"/><circle cx="321.3" cy="381" r="5.5"/></g>
<g fill="rgba(255,0,0,0.30)"><circle cx="355.6" cy="300.7" r="5.5"/></g>
<g fill="rgba(0,255,0,0.30)"><circle cx="462.7" cy="140.3" r="5.5"/></g>
<g fill="rgba(255,0,0,0.30)"><circle cx="307.1" cy="381.6" r="5.5"/><circle cx="264" cy="319.2" r="5.5"/></g>
<g fill="rgba(0,255,0,0.30)"><circle cx="345.2" cy="173.8" r="5.5"/><circle cx="407.2" cy="191.2" r="5.5"/></g>
<g fill="rgba(255,0,0,0.30)"><circle cx="353.7" cy="350.8" r="5.5"/><circle cx="227" cy="336.4" r="5.5"/><circle cx="390.7" cy="377" r="5.5"/></g>
<g fill="rgba(0,255,0,0.30)"><circle cx="367.3" cy="274.6" r="5.5"/></g>
<g fill="rgba(255,0,0,0.30)"><circle cx="230.7" cy="380.8" r="5.5"/></g>
<g fill="rgba(0,255,0,0.30)"><circle cx="451.1" cy="261" r="5.5"/><circle cx="306.6" cy="309.6" r="5.5"/><circle cx="336.4" cy="376.5" r="5.5"/></g>
<g fill="rgba(255,0,0,0.30)"><circle cx="257.3" cy="367" r="5.5"/><circle cx="377.1" cy="336.8" r="5.5"/></g>
<g fill="rgba(0,255,0,0.30)"><circle cx="326.4" cy="365.2" r="5.5"/><circle cx="374.6" cy="314.1" r="5.5"/></g>
<g fill="rgba(255,0,0,0.30)"><circle cx="411.5" cy="326.6" r="5.5"/></g>
<g fill="rgba(0,255,0,0.30)"><circle cx="354.3" cy="380" r="5.5"/><circle cx="341.9" cy="251.3" r="5.5"/><circle cx="353.9" cy="296.4" r="5.5"/><circle cx="365" cy="286.7" r="5.5"/></g>
<g fill="rgba(255,0,0,0.30)"><circle cx="262.1" cy="334.4" r="5.5"/></g>
<g fill="rgba(0,255,0,0.30)"><circle cx="341.3" cy="178.5" r="5.5"/><circle cx="499.3" cy="212.7" r="5.5"/><circle cx="385" cy="241.8" r="5.5"/><circle cx="282.8" cy="296.4" r="5.5"/><circle cx="362.7" cy="258.8" r="5.5"/><circle cx="397" cy="255.1" r="5.5"/></g>
<g fill="rgba(255,0,0,0.30)"><circle cx="288.2" cy="338.9" r="5.5"/></g>
<g fill="rgba(0,255,0,0.30)"><circle cx="400.6" cy="228" r="5.5"/></g>
<g fill="rgba(255,0,0,0.30)"><circle cx="306.1" cy="341.2" r="5.5"/><circle cx="316.1" cy="334.5" r="5.5"/></g>
<g fill="rgba(0,255,0,0.30)"><circle cx="395.1" cy="199.8" r="5.5"/></g>
<g fill="rgba(255,0,0,0.30)"><circle cx="306.2" cy="330.5" r="5.5"/></g>
<g fill="rgba(0,255,0,0.30)"><circle cx="374.7" cy="228.4" r="5.5"/><circle cx="359.5" cy="251.9" r="5.5"/></g>
<g fill="rgba(255,0,0,0.30)"><circle cx="309" cy="356" r="5.5"/></g>
<g fill="rgba(0,255,0,0.30)"><circle cx="407.4" cy="278.6" r="5.5"/><circle cx="314.3" cy="261.7" r="5.5"/><circle cx="314.1" cy="387.7" r="5.5"/><circle cx="401.1" cy="334.4" r="5.5"/></g>
<g fill="rgba(255,0,0,0.30)"><circle cx="382.9" cy="382.4" r="5.5"/></g>
<g fill="rgba(0,255,0,0.30)"><circle cx="417.4" cy="243.8" r="5.5"/><circle cx="370" cy="283.1" r="5.5"/><circle cx="380.5" cy="164.5" r="5.5"/><circle cx="349.3" cy="252.4" r="5.5"/></g>
<g fill="rgba(255,0,0,0.30)"><circle cx="327.7" cy="300.2" r="5.5"/></g>
<g fill="rgba(0,255,0,0.30)"><circle cx="424.2" cy="182.9" r="5.5"/></g>
<g fill="rgba(255,0,0,0.30)"><circle cx="327.8" cy="254.7" r="5.5"/></g>
<g fill="rgba(0,255,0,0.30)"><circle cx="359.1" cy="374.3" r="5.5"/><circle cx="342.5" cy="248.2" r="5.5"/><circle cx="331.4" cy="296.9" r="5.5"/><circle cx="285.8" cy="277.6" r="5.5"/><circle cx="283.7" cy="356" r="5.5"/><circle cx="355.5" cy="225" r="5.5"/><circle cx="359.4" cy="258.9" r="5.5"/><circle cx="365.5" cy="202.1" r="5.5"/><circle cx="314.4" cy="250.5" r="5.5"/></g>
<g fill="rgba(255,0,0,0.30)"><circle cx="276.3" cy="338.3" r="5.5"/><circle cx="286.7" cy="378.3" r="5.5"/></g>
<g fill="rgba(0,255,0,0.30)"><circle cx="468.2" cy="206.2" r="5.5"/></g>
<g fill="rgba(255,0,0,0.30)"><circle cx="318.9" cy="309.3" r="5.5"/></g>
<g fill="rgba(0,255,0,0.30)"><circle cx="373" cy="237.7" r="5.5"/><circle cx="337" cy="262.2" r="5.5"/></g>
<g fill="rgba(255,0,0,0.30)"><circle cx="250.8" cy="284.2" r="5.5"/><circle cx="263.1" cy="340.8" r="5.5"/></g>
<g fill="rgba(0,255,0,0.30)"><circle cx="356.9" cy="411.3" r="5.5"/></g>
<g fill="rgba(255,0,0,0.30)"><circle cx="344.6" cy="290.4" r="5.5"/></g>
<g fill="rgba(0,255,0,0.30)"><circle cx="398.4" cy="233" r="5.5"/></g>
<g fill="rgba(255,0,0,0.30)"><circle cx="263.1" cy="376.3" r="5.5"/></g>
<g fill="rgba(0,255,0,0.30)"><circle cx="389.5" cy="288" r="5.5"/><circle cx="366.2" cy="313.2" r="5.5"/><circle cx="329.6" cy="303.7" r="5.5"/></g>
<g fill="rgba(255,0,0,0.30)"><circle cx="268.5" cy="324.3" r="5.5"/></g>
<g fill="rgba(0,255,0,0.30)"><circle cx="375.9" cy="196.3" r="5.5"/></g>
<g fill="rgba(255,0,0,0.30)"><circle cx="213.6" cy="377.8" r="5.5"/><circle cx="360.1" cy="273.9" r="5.5"/><circle cx="243.6" cy="353" r="5.5"/><circle cx="344.4" cy="363.6" r="5.5"/></g>
<g fill="rgba(0,255,0,0.30)"><circle cx="301.7" cy="312.6" r="5.5"/><circle cx="345.3" cy="321" r="5.5"/><circle cx="334" cy="309.1" r="5.5"/><circle cx="452.3" cy="144.5" r="5.5"/><circle cx="408.5" cy="210.7" r="5.5"/><circle cx="364.4" cy="238.6" r="5.5"/><circle cx="368.2" cy="248.7" r="5.5"/></g>
<g fill="rgba(255,0,0,0.30)"><circle cx="232.6" cy="412.4" r="5.5"/></g>
<g fill="rgba(0,255,0,0.30)"><circle cx="321.3" cy="351" r="5.5"/></g>
<g fill="rgba(255,0,0,0.30)"><circle cx="413.6" cy="286.1" r="5.5"/><circle cx="294.9" cy="389.9" r="5.5"/></g>
<g fill="rgba(0,255,0,0.30)"><circle cx="361.3" cy="282.3" r="5.5"/><circle cx="325.1" cy="360.9" r="5.5"/><circle cx="324" cy="305.8" r="5.5"/><circle cx="338.4" cy="294.3" r="5.5"/></g>
<g fill="rgba(255,0,0,0.30)"><circle cx="348.6" cy="351.4" r="5.5"/><circle cx="405.9" cy="363.6" r="5.5"/><circle cx="379.1" cy="280.2" r="5.5"/></g>
<g fill="rgba(0,255,0,0.30)"><circle cx="317.2" cy="353.1" r="5.5"/><circle cx="301.5" cy="319.9" r="5.5"/><circle cx="354.6" cy="293.9" r="5.5"/><circle cx="339.6" cy="298.2" r="5.5"/><circle cx="391.2" cy="193.1" r="5.5"/><circle cx="360" cy="280" r="5.5"/></g>
<g fill="rgba(255,0,0,0.30)"><circle cx="322.6" cy="379.1" r="5.5"/></g>
<g fill="rgba(0,255,0,0.30)"><circle cx="294.7" cy="301.4" r="5.5"/><circle cx="356.7" cy="244.1" r="5.5"/></g>
<g fill="rgba(255,0,0,0.30)"><circle cx="301.6" cy="325.9" r="5.5"/></g>
<g fill="rgba(0,255,0,0.30)"><circle cx="440.6" cy="227.5" r="5.5"/><circle cx="389.6" cy="292.9" r="5.5"/><circle cx="340.1" cy="252.5" r="5.5"/><circle cx="355.9" cy="219.3" r="5.5"/></g>
<g fill="rgba(255,0,0,0.30)"><circle cx="224.8" cy="352.5" r="5.5"/></g>
<g fill="rgba(0,255,0,0.30)"><circle cx="351.7" cy="389.3" r="5.5"/><circle cx="351.7" cy="301.5" r="5.5"/><circle cx="304.6" cy="277.1" r="5.5"/><circle cx="508.5" cy="132.1" r="5.5"/><circle cx="349.8" cy="213.3" r="5.5"/><circle cx="417.5" cy="232.1" r="5.5"/><circle cx="309.2" cy="338.4" r="5.5"/><circle cx="354.4" cy="222.7" r="5.5"/></g>
<g fill="rgba(255,0,0,0.30)"><circle cx="266.2" cy="363.8" r="5.5"/><circle cx="243.5" cy="318.9" r="5.5"/><circle cx="315.7" cy="384.8" r="5.5"/></g>
<g fill="rgba(0,255,0,0.30)"><circle cx="360.8" cy="230.2" r="5.5"/></g>
<g fill="rgba(255,0,0,0.30)"><circle cx="301" cy="356.4" r="5.5"/></g>
<g fill="rgba(0,255,0,0.30)"><circle cx="298" cy="361.5" r="5.5"/></g>
<g fill="rgba(255,0,0,0.30)"><circle cx="284.7" cy="394" r="5.5"/></g>
<g fill="rgba(0,255,0,0.30)"><circle cx="322.7" cy="351.5" r="5.5"/></g>
<g fill="rgba(255,0,0,0.30)"><circle cx="311.1" cy="334.3" r="5.5"/><circle cx="297.4" cy="300.9" r="5.5"/></g>
<g fill="rgba(0,255,0,0.30)"><circle cx="320.9" cy="306.3" r="5.5"/><circle cx="384.4" cy="300.1" r="5.5"/><circle cx="325.4" cy="242.1" r="5.5"/><circle cx="357.4" cy="226" r="5.5"/></g>
<g fill="rgba(255,0,0,0.30)"><circle cx="230.1" cy="389.9" r="5.5"/></g>
<g fill="rgba(0,255,0,0.30)"><circle cx="280.7" cy="240.6" r="5.5"/></g>
<g fill="rgba(255,0,0,0.30)"><circle cx="298.1" cy="384.6" r="5.5"/><circle cx="278.7" cy="376" r="5.5"/></g>
<g fill="rgba(0,255,0,0.30)"><circle cx="359.2" cy="238.1" r="5.5"/><circle cx="395" cy="232.8" r="5.5"/></g>
<g fill="rgba(255,0,0,0.30)"><circle cx="253.8" cy="481" r="5.5"/></g>
<g fill="rgba(0,255,0,0.30)"><circle cx="347.8" cy="256.6" r="5.5"/><circle cx="378.3" cy="263.9" r="5.5"/><circle cx="344.1" cy="270.4" r="5.5"/></g>
<g fill="rgba(255,0,0,0.30)"><circle cx="302.7" cy="322.6" r="5.5"/></g>
<g fill="rgba(0,255,0,0.30)"><circle cx="402.3" cy="189.8" r="5.5"/><circle cx="367" cy="308.9" r="5.5"/><circle cx="305" cy="226" r="5.5"/></g>
<g fill="rgba(255,0,0,0.30)"><circle cx="214.3" cy="371.5" r="5.5"/></g>
<g fill="rgba(0,255,0,0.30)"><circle cx="273.8" cy="290.4" r="5.5"/></g>
<g fill="rgba(255,0,0,0.30)"><circle cx="328.1" cy="332.8" r="5.5"/></g>
<g fill="rgba(0,255,0,0.30)"><circle cx="310.8" cy="341.6" r="5.5"/></g>
<g fill="rgba(255,0,0,0.30)"><circle cx="360.6" cy="318.8" r="5.5"/><circle cx="286.1" cy="316.9" r="5.5"/><circle cx="371" cy="315.8" r="5.5"/></g>
<g fill="rgba(0,255,0,0.30)"><circle cx="363.5" cy="333.2" r="5.5"/><circle cx="389.9" cy="248" r="5.5"/><circle cx="362.1" cy="219.3" r="5.5"/><circle cx="366.2" cy="229.7" r="5.5"/></g>
<g fill="rgba(255,0,0,0.30)"><circle cx="335.2" cy="358.3" r="5.5"/><circle cx="259.6" cy="377.1" r="5.5"/></g>
<g fill="rgba(0,255,0,0.30)"><circle cx="403.7" cy="233.4" r="5.5"/></g>
<g fill="rgba(255,0,0,0.30)"><circle cx="374.8" cy="190.6" r="5.5"/></g>
<g fill="rgba(0,255,0,0.30)"><circle cx="355.9" cy="259.6" r="5.5"/></g>
<g fill="rgba(255,0,0,0.30)"><circle cx="304.7" cy="380.2" r="5.5"/></g>
<g fill="rgba(0,255,0,0.30)"><circle cx="327" cy="290" r="5.5"/></g>
<g fill="rgba(255,0,0,0.30)"><circle cx="305.3" cy="406.8" r="5.5"/></g>
<g fill="rgba(0,255,0,0.30)"><circle cx="339.3" cy="213.7" r="5.5"/><circle cx="326.4" cy="320.7" r="5.5"/><circle cx="353.5" cy="206.5" r="5.5"/></g>
<g fill="rgba(255,0,0,0.30)"><circle cx="293.5" cy="378.5" r="5.5"/></g>
<g fill="rgba(0,255,0,0.30)"><circle cx="352" cy="282.9" r="5.5"/></g>
<g fill="rgba(255,0,0,0.30)"><circle cx="245.8" cy="340.5" r="5.5"/></g>
<g fill="rgba(0,255,0,0.30)"><circle cx="389.9" cy="228.5" r="5.5"/><circle cx="424" cy="220.4" r="5.5"/><circle cx="368.9" cy="259.2" r="5.5"/><circle cx="351.7" cy="256.7" r="5.5"/><circle cx="303" cy="354.4" r="5.5"/></g>
<g fill="rgba(255,0,0,0.30)"><circle cx="290.8" cy="378.1" r="5.5"/><circle cx="264.8" cy="361.8" r="5.5"/><circle cx="401.3" cy="227.6" r="5.5"/></g>
<g fill="rgba(0,255,0,0.30)"><circle cx="277.7" cy="356.9" r="5.5"/><circle cx="335.9" cy="318.5" r="5.5"/><circle cx="304.3" cy="326.2" r="5.5"/><circle cx="332.8" cy="278.3" r="5.5"/><circle cx="278.8" cy="426.2" r="5.5"/><circle cx="350.4" cy="240.7" r="5.5"/><circle cx="318.2" cy="202.6" r="5.5"/><circle cx="385.9" cy="276.3" r="5.5"/><circle cx="375.7" cy="360.1" r="5.5"/></g>
<g fill="rgba(255,0,0,0.30)"><circle cx="327.9" cy="316.8" r="5.5"/></g>
<g fill="rgba(0,255,0,0.30)"><circle cx="338.7" cy="292.6" r="5.5"/><circle cx="362.1" cy="253.4" r="5.5"/><circle cx="471.2" cy="222.6" r="5.5"/></g>
<g fill="rgba(255,0,0,0.30)"><circle cx="391.3" cy="346.9" r="5.5"/><circle cx="339.7" cy="313.8" r="5.5"/><circle cx="298.3" cy="379.6" r="5.5"/></g>
<g fill="rgba(0,255,0,0.30)"><circle cx="333.3" cy="293.7" r="5.5"/></g>
<g fill="rgba(255,0,0,0.30)"><circle cx="270.8" cy="359.8" r="5.5"/></g>
<g fill="rgba(0,255,0,0.30)"><circle cx="283.5" cy="320.6" r="5.5"/></g>
<g fill="rgba(255,0,0,0.30)"><circle cx="222.7" cy="362.9" r="5.5"/></g>
<g fill="rgba(0,255,0,0.30)"><circle cx="269" cy="255.2" r="5.5"/><circle cx="310.9" cy="371.3" r="5.5"/></g>
<g fill="rgba(255,0,0,0.30)"><circle cx="424.3" cy="263.1" r="5.5"/></g>
<g fill="rgba(0,255,0,0.30)"><circle cx="344.3" cy="205.9" r="5.5"/><circle cx="386" cy="170.9" r="5.5"/><circle cx="387.2" cy="220.3" r="5.5"/><circle cx="385.7" cy="291.3" r="5.5"/></g>
<g fill="rgba(255,0,0,0.30)"><circle cx="258.5" cy="371.9" r="5.5"/><circle cx="364.2" cy="333.1" r="5.5"/></g>
<g fill="rgba(0,255,0,0.30)"><circle cx="358.1" cy="275.4" r="5.5"/></g>
<g fill="rgba(255,0,0,0.30)"><circle cx="229.6" cy="356.2" r="5.5"/></g>
<g fill="rgba(0,255,0,0.30)"><circle cx="339.5" cy="310.8" r="5.5"/><circle cx="375.2" cy="270.3" r="5.5"/></g>
<g fill="rgba(255,0,0,0.30)"><circle cx="267.5" cy="439.2" r="5.5"/></g>
<g fill="rgba(0,255,0,0.30)"><circle cx="316.9" cy="256.8" r="5.5"/></g>
<g fill="rgba(255,0,0,0.30)"><circle cx="373.6" cy="262.3" r="5.5"/><circle cx="347.8" cy="298.1" r="5.5"/><circle cx="338.3" cy="385.6" r="5.5"/></g>
<g fill="rgba(0,255,0,0.30)"><circle cx="358.5" cy="229.6" r="5.5"/><circle cx="381.9" cy="212.5" r="5.5"/><circle cx="377.2" cy="253.4" r="5.5"/><circle cx="361.7" cy="290.9" r="5.5"/></g>
<g fill="rgba(255,0,0,0.30)"><circle cx="265.1" cy="342.5" r="5.5"/></g>
<g fill="rgba(0,255,0,0.30)"><circle cx="372" cy="239.3" r="5.5"/><circle cx="385.2" cy="296.2" r="5.5"/></g>
<g fill="rgba(255,0,0,0.30)"><circle cx="277.1" cy="334.5" r="5.5"/></g>
<g fill="rgba(0,255,0,0.30)"><circle cx="320.9" cy="202.9" r="5.5"/></g>
<g fill="rgba(255,0,0,0.30)"><circle cx="276.9" cy="346.8" r="5.5"/><circle cx="264.7" cy="323.3" r="5.5"/><circle cx="236" cy="350.7" r="5.5"/><circle cx="422.1" cy="310" r="5.5"/><circle cx="263.6" cy="396.9" r="5.5"/></g>
<g fill="rgba(0,255,0,0.30)"><circle cx="318.1" cy="321.6" r="5.5"/></g>
<g fill="rgba(255,0,0,0.30)"><circle cx="297.1" cy="363.6" r="5.5"/></g>
<g fill="rgba(0,255,0,0.30)"><circle cx="306.7" cy="220.7" r="5.5"/></g>
<g fill="rgba(255,0,0,0.30)"><circle cx="334.7" cy="282.4" r="5.5"/><circle cx="283.7" cy="403.4" r="5.5"/></g>
<g fill="rgba(0,255,0,0.30)"><circle cx="320.2" cy="370" r="5.5"/><circle cx="355.2" cy="238.8" r="5.5"/><circle cx="370.1" cy="297" r="5.5"/></g>
<g fill="rgba(255,0,0,0.30)"><circle cx="338" cy="304.2" r="5.5"/><circle cx="239.5" cy="354.5" r="5.5"/><circle cx="271.3" cy="435.5" r="5.5"/></g>
<g fill="rgba(0,255,0,0.30)"><circle cx="478.3" cy="212.7" r="5.5"/></g>
<g fill="rgba(255,0,0,0.30)"><circle cx="336" cy="359.6" r="5.5"/></g>
<g fill="rgba(0,255,0,0.30)"><circle cx="375" cy="300.7" r="5.5"/><circle cx="307.9" cy="305.8" r="5.5"/></g>
<g fill="rgba(255,0,0,0.30)"><circle cx="218.8" cy="364.3" r="5.5"/><circle cx="339.1" cy="374.4" r="5.5"/><circle cx="297.6" cy="381.2" r="5.5"/><circle cx="270.4" cy="362.5" r="5.5"/><circle cx="363.9" cy="324.3" r="5.5"/></g>
<g fill="rgba(0,255,0,0.30)"><circle cx="329.9" cy="307" r="5.5"/></g>
<g fill="rgba(255,0,0,0.30)"><circle cx="256.6" cy="398.1" r="5.5"/></g>
<g fill="rgba(0,255,0,0.30)"><circle cx="350.3" cy="277.8" r="5.5"/></g>
<g fill="rgba(255,0,0,0.30)"><circle cx="227.2" cy="376" r="5.5"/></g>
<g fill="rgba(0,255,0,0.30)"><circle cx="328.3" cy="226.1" r="5.5"/><circle cx="310.6" cy="323.8" r="5.5"/></g>
<g fill="rgba(255,0,0,0.30)"><circle cx="244.1" cy="364.5" r="5.5"/></g>
<g fill="rgba(0,255,0,0.30)"><circle cx="346" cy="280" r="5.5"/><circle cx="311" cy="276.9" r="5.5"/></g>
<g fill="rgba(255,0,0,0.30)"><circle cx="266.8" cy="347.7" r="5.5"/><circle cx="233.4" cy="445.6" r="5.5"/></g>
<g fill="rgba(0,255,0,0.30)"><circle cx="313.5" cy="265.2" r="5.5"/></g>
<g fill="rgba(255,0,0,0.30)"><circle cx="310.8" cy="304.6" r="5.5"/></g>
<g fill="rgba(0,255,0,0.30)"><circle cx="366.3" cy="262" r="5.5"/><circle cx="330.5" cy="274.9" r="5.5"/><circle cx="346.1" cy="229.2" r="5.5"/><circle cx="348.9" cy="278.1" r="5.5"/></g>
<g fill="rgba(255,0,0,0.30)"><circle cx="266.3" cy="410.1" r="5.5"/></g>
<g fill="rgba(0,255,0,0.30)"><circle cx="363.7" cy="337.1" r="5.5"/></g>
<g fill="rgba(255,0,0,0.30)"><circle cx="297.7" cy="344" r="5.5"/></g>
<g fill="rgba(0,255,0,0.30)"><circle cx="332" cy="269.6" r="5.5"/><circle cx="394.5" cy="208.6" r="5.5"/><circle cx="382.4" cy="294.7" r="5.5"/></g>
<g fill="rgba(255,0,0,0.30)"><circle cx="404.1" cy="222.5" r="5.5"/><circle cx="270.3" cy="399.2" r="5.5"/></g>
<g fill="rgba(0,255,0,0.30)"><circle cx="317.8" cy="294.4" r="5.5"/><circle cx="378.2" cy="283" r="5.5"/><circle cx="317.4" cy="336.5" r="5.5"/><circle cx="341.3" cy="258.5" r="5.5"/><circle cx="341.9" cy="348.4" r="5.5"/><circle cx="477.6" cy="223.3" r="5.5"/></g>
<g fill="rgba(255,0,0,0.30)"><circle cx="265.7" cy="378" r="5.5"/><circle cx="366.3" cy="327.3" r="5.5"/><circle cx="382.2" cy="311.1" r="5.5"/></g>
<g fill="rgba(0,255,0,0.30)"><circle cx="361.2" cy="228.2" r="5.5"/></g>
<g fill="rgba(255,0,0,0.30)"><circle cx="365.9" cy="304.3" r="5.5"/></g>
<g fill="rgba(0,255,0,0.30)"><circle cx="314.3" cy="313.7" r="5.5"/><circle cx="331.1" cy="240.7" r="5.5"/></g>
<g fill="rgba(255,0,0,0.30)"><circle cx="315.1" cy="370.4" r="5.5"/></g>
<g fill="rgba(0,255,0,0.30)"><circle cx="309.8" cy="274.4" r="5.5"/><circle cx="446.4" cy="111.5" r="5.5"/></g>
<g fill="rgba(255,0,0,0.30)"><circle cx="327.2" cy="380.1" r="5.5"/></g>
<g fill="rgba(0,255,0,0.30)"><circle cx="331.9" cy="300" r="5.5"/></g>
<g fill="rgba(255,0,0,0.30)"><circle cx="249.4" cy="363.1" r="5.5"/></g>
<g fill="rgba(0,255,0,0.30)"><circle cx="353.8" cy="180.5" r="5.5"/></g>
<g fill="rgba(255,0,0,0.30)"><circle cx="239.6" cy="354.2" r="5.5"/></g>
<g fill="rgba(0,255,0,0.30)"><circle cx="396" cy="274.4" r="5.5"/><circle cx="322.8" cy="353.7" r="5.5"/><circle cx="388" cy="303.5" r="5.5"/></g>
<g fill="rgba(255,0,0,0.30)"><circle cx="249.7" cy="400.6" r="5.5"/></g>
<g fill="rgba(0,255,0,0.30)"><circle cx="405.2" cy="315.7" r="5.5"/><circle cx="381.2" cy="208.7" r="5.5"/><circle cx="434.1" cy="197.3" r="5.5"/><circle cx="392.4" cy="335.5" r="5.5"/></g>
<g fill="rgba(255,0,0,0.30)"><circle cx="261.6" cy="368.5" r="5.5"/></g>
<g fill="rgba(0,255,0,0.30)"><circle cx="395.2" cy="265.5" r="5.5"/><circle cx="328.9" cy="290.2" r="5.5"/></g>
<g fill="rgba(255,0,0,0.30)"><circle cx="277" cy="343.3" r="5.5"/></g>
<g fill="rgba(0,255,0,0.30)"><circle cx="362.6" cy="275.8" r="5.5"/></g>
<g fill="rgba(255,0,0,0.30)"><circle cx="290.7" cy="346.6" r="5.5"/></g>
<g fill="rgba(0,255,0,0.30)"><circle cx="307.5" cy="310.4" r="5.5"/></g>
<g fill="rgba(255,0,0,0.30)"><circle cx="289.4" cy="358.5" r="5.5"/></g>
<g fill="rgba(0,255,0,0.30)"><circle cx="387.6" cy="232.6" r="5.5"/></g>
<g fill="rgba(255,0,0,0.30)"><circle cx="231.5" cy="396.4" r="5.5"/><circle cx="356.6" cy="383" r="5.5"/></g>
<g fill="rgba(0,255,0,0.30)"><circle cx="311.5" cy="244.9" r="5.5"/><circle cx="387.2" cy="200.8" r="5.5"/></g>
<g fill="rgba(255,0,0,0.30)"><circle cx="291.6" cy="336.9" r="5.5"/></g>
<g fill="rgba(0,255,0,0.30)"><circle cx="271.1" cy="319.6" r="5.5"/></g>
<g fill="rgba(255,0,0,0.30)"><circle cx="356" cy="261.5" r="5.5"/><circle cx="320.8" cy="370.9" r="5.5"/><circle cx="392.8" cy="341" r="5.5"/></g>
<g fill="rgba(0,255,0,0.30)"><circle cx="297.5" cy="278.9" r="5.5"/><circle cx="388.1" cy="353.5" r="5.5"/><circle cx="304" cy="273.7" r="5.5"/><circle cx="355.3" cy="249" r="5.5"/></g>
<g fill="rgba(255,0,0,0.30)"><circle cx="256.8" cy="370.8" r="5.5"/></g>
<g fill="rgba(0,255,0,0.30)"><circle cx="341.7" cy="373.7" r="5.5"/><circle cx="367" cy="257.6" r="5.5"/><circle cx="473.2" cy="223.8" r="5.5"/><circle cx="441" cy="210.4" r="5.5"/><circle cx="305.6" cy="294.3" r="5.5"/><circle cx="311.1" cy="300.3" r="5.5"/><circle cx="457.2" cy="256.2" r="5.5"/></g>
<g fill="rgba(255,0,0,0.30)"><circle cx="236" cy="478" r="5.5"/></g>
<g fill="rgba(0,255,0,0.30)"><circle cx="379.5" cy="253.5" r="5.5"/><circle cx="317.2" cy="321.7" r="5.5"/><circle cx="320.2" cy="280.5" r="5.5"/><circle cx="405" cy="155.8" r="5.5"/><circle cx="349.5" cy="229.7" r="5.5"/><circle cx="366.7" cy="229.8" r="5.5"/><circle cx="353.1" cy="293.7" r="5.5"/></g>
<g fill="rgba(255,0,0,0.30)"><circle cx="286.6" cy="422.3" r="5.5"/></g>
<g fill="rgba(0,255,0,0.30)"><circle cx="392" cy="221.2" r="5.5"/><circle cx="439.1" cy="194.8" r="5.5"/></g>
<g fill="rgba(255,0,0,0.30)"><circle cx="286.9" cy="359.9" r="5.5"/></g>
<g fill="rgba(0,255,0,0.30)"><circle cx="362" cy="292.5" r="5.5"/><circle cx="323.9" cy="206.3" r="5.5"/></g>
<g fill="rgba(255,0,0,0.30)"><circle cx="297.8" cy="395.9" r="5.5"/></g>
<g fill="rgba(0,255,0,0.30)"><circle cx="261.1" cy="302.6" r="5.5"/></g>
<g fill="rgba(255,0,0,0.30)"><circle cx="401.9" cy="362.5" r="5.5"/></g>
<g fill="rgba(0,255,0,0.30)"><circle cx="366.6" cy="375.8" r="5.5"/><circle cx="363.9" cy="255.9" r="5.5"/><circle cx="385" cy="295.2" r="5.5"/><circle cx="384" cy="376.9" r="5.5"/><circle cx="450.8" cy="248.1" r="5.5"/></g>
<g fill="rgba(255,0,0,0.30)"><circle cx="235.6" cy="360.3" r="5.5"/></g>
<g fill="rgba(0,255,0,0.30)"><circle cx="371.3" cy="231.3" r="5.5"/><circle cx="339" cy="375.1" r="5.5"/><circle cx="360" cy="273.9" r="5.5"/><circle cx="346" cy="325.6" r="5.5"/><circle cx="356.9" cy="312.3" r="5.5"/><circle cx="443.1" cy="189.9" r="5.5"/></g>
<g fill="rgba(255,0,0,0.30)"><circle cx="204.4" cy="386.9" r="5.5"/><circle cx="247.8" cy="390.3" r="5.5"/></g>
<g fill="rgba(0,255,0,0.30)"><circle cx="424.6" cy="212.5" r="5.5"/><circle cx="391.8" cy="273.4" r="5.5"/></g>
<g fill="rgba(255,0,0,0.30)"><circle cx="249.5" cy="466" r="5.5"/></g>
<g fill="rgba(0,255,0,0.30)"><circle cx="338" cy="325" r="5.5"/></g>
<g fill="rgba(255,0,0,0.30)"><circle cx="278.9" cy="342.1" r="5.5"/><circle cx="327.4" cy="301.7" r="5.5"/></g>
<g fill="rgba(0,255,0,0.30)"><circle cx="340.4" cy="230.4" r="5.5"/><circle cx="369.1" cy="286.6" r="5.5"/></g>
<g fill="rgba(255,0,0,0.30)"><circle cx="341.6" cy="387.5" r="5.5"/></g>
<g fill="rgba(0,255,0,0.30)"><circle cx="337.5" cy="376.4" r="5.5"/></g>
<g fill="rgba(255,0,0,0.30)"><circle cx="395.3" cy="266.3" r="5.5"/><circle cx="224.7" cy="467.4" r="5.5"/></g>
<g fill="rgba(0,255,0,0.30)"><circle cx="345" cy="202.1" r="5.5"/><circle cx="346" cy="200.1" r="5.5"/><circle cx="321.1" cy="279.9" r="5.5"/><circle cx="317.8" cy="238.3" r="5.5"/></g>
<g fill="rgba(255,0,0,0.30)"><circle cx="264.5" cy="369.3" r="5.5"/></g>
<g fill="rgba(0,255,0,0.30)"><circle cx="435.2" cy="207.7" r="5.5"/></g>
<g fill="rgba(255,0,0,0.30)"><circle cx="336.9" cy="368" r="5.5"/></g>
<g fill="rgba(0,255,0,0.30)"><circle cx="413.3" cy="195.4" r="5.5"/></g>
<g fill="rgba(255,0,0,0.30)"><circle cx="319" cy="351" r="5.5"/></g>
<g fill="rgba(0,255,0,0.30)"><circle cx="281.6" cy="341.3" r="5.5"/></g>
<g fill="rgba(255,0,0,0.30)"><circle cx="245.1" cy="338.4" r="5.5"/></g>
<g fill="rgba(0,255,0,0.30)"><circle cx="371.8" cy="250.7" r="5.5"/><circle cx="271.3" cy="238.9" r="5.5"/><circle cx="309.5" cy="308.9" r="5.5"/><circle cx="440.9" cy="198.2" r="5.5"/><circle cx="315.7" cy="262.4" r="5.5"/></g>
<g fill="rgba(255,0,0,0.30)"><circle cx="416.8" cy="345.9" r="5.5"/></g>
<g fill="rgba(0,255,0,0.30)"><circle cx="327.9" cy="300.6" r="5.5"/></g>
<g fill="rgba(255,0,0,0.30)"><circle cx="269.3" cy="329.1" r="5.5"/></g>
<g fill="rgba(0,255,0,0.30)"><circle cx="351.1" cy="283.2" r="5.5"/><circle cx="395.2" cy="241.1" r="5.5"/><circle cx="422.5" cy="152.3" r="5.5"/></g>
<g fill="rgba(255,0,0,0.30)"><circle cx="370.9" cy="333.4" r="5.5"/></g>
<g fill="rgba(0,255,0,0.30)"><circle cx="353.6" cy="236.6" r="5.5"/></g>
<g fill="rgba(255,0,0,0.30)"><circle cx="292.5" cy="337.6" r="5.5"/></g>
<g fill="rgba(0,255,0,0.30)"><circle cx="402.3" cy="306.9" r="5.5"/><circle cx="367.5" cy="267.9" r="5.5"/></g>
<g fill="rgba(255,0,0,0.30)"><circle cx="322.4" cy="342.1" r="5.5"/></g>
<g fill="rgba(0,255,0,0.30)"><circle cx="386.6" cy="314.8" r="5.5"/></g>
<g fill="rgba(255,0,0,0.30)"><circle cx="210.9" cy="335.1" r="5.5"/><circle cx="273.1" cy="352.7" r="5.5"/><circle cx="330.6" cy="361.2" r="5.5"/><circle cx="256.4" cy="364.3" r="5.5"/><circle cx="340.9" cy="314.1" r="5.5"/><circle cx="253.3" cy="372.4" r="5.5"/></g>
<g fill="rgba(0,255,0,0.30)"><circle cx="310.9" cy="266.6" r="5.5"/><circle cx="413.6" cy="312" r="5.5"/><circle cx="383.4" cy="260.9" r="5.5"/><circle cx="360.3" cy="313.9" r="5.5"/><circle cx="324" cy="293.5" r="5.5"/><circle cx="353.3" cy="284" r="5.5"/><circle cx="497" cy="174.7" r="5.5"/><circle cx="287.1" cy="314.2" r="5.5"/></g>
<g fill="rgba(255,0,0,0.30)"><circle cx="382" cy="256" r="5.5"/></g>
<g fill="rgba(0,255,0,0.30)"><circle cx="385" cy="238.1" r="5.5"/><circle cx="343.6" cy="289.5" r="5.5"/><circle cx="278.5" cy="347.1" r="5.5"/></g>
<g fill="rgba(255,0,0,0.30)"><circle cx="286.4" cy="383" r="5.5"/></g>
<g fill="rgba(0,255,0,0.30)"><circle cx="349.3" cy="224.1" r="5.5"/><circle cx="315.2" cy="294" r="5.5"/></g>
<g fill="rgba(255,0,0,0.30)"><circle cx="355.7" cy="297.1" r="5.5"/></g>
<g fill="rgba(0,255,0,0.30)"><circle cx="366.5" cy="292.5" r="5.5"/><circle cx="350.9" cy="354.8" r="5.5"/><circle cx="327.3" cy="271.4" r="5.5"/></g>
<g fill="rgba(255,0,0,0.30)"><circle cx="269.8" cy="391.7" r="5.5"/><circle cx="268.4" cy="415.4" r="5.5"/></g>
<g fill="rgba(0,255,0,0.30)"><circle cx="269.2" cy="294.4" r="5.5"/></g>
<g fill="rgba(255,0,0,0.30)"><circle cx="329.8" cy="370.2" r="5.5"/><circle cx="286" cy="394.6" r="5.5"/><circle cx="169.9" cy="355.8" r="5.5"/></g>
<g fill="rgba(0,255,0,0.30)"><circle cx="355.5" cy="248.6" r="5.5"/><circle cx="443.8" cy="180.5" r="5.5"/><circle cx="301" cy="232.9" r="5.5"/><circle cx="328.7" cy="272.5" r="5.5"/><circle cx="374.4" cy="204.1" r="5.5"/><circle cx="341.1" cy="297" r="5.5"/><circle cx="352.2" cy="237.7" r="5.5"/><circle cx="384.6" cy="256.8" r="5.5"/></g>
<g fill="rgba(255,0,0,0.30)"><circle cx="275.3" cy="383.3" r="5.5"/><circle cx="368.2" cy="358.6" r="5.5"/></g>
<g fill="rgba(0,255,0,0.30)"><circle cx="370.1" cy="196" r="5.5"/><circle cx="363.8" cy="305.5" r="5.5"/><circle cx="324.4" cy="245.1" r="5.5"/><circle cx="297.5" cy="394.6" r="5.5"/></g>
<g fill="rgba(255,0,0,0.30)"><circle cx="307.8" cy="376.8" r="5.5"/></g>
<g fill="rgba(0,255,0,0.30)"><circle cx="348" cy="305.6" r="5.5"/></g>
<g fill="rgba(255,0,0,0.30)"><circle cx="352.4" cy="339.1" r="5.5"/></g>
<g fill="rgba(0,255,0,0.30)"><circle cx="417.6" cy="278" r="5.5"/><circle cx="362.2" cy="246.4" r="5.5"/></g>
<g fill="rgba(255,0,0,0.30)"><circle cx="355" cy="381.3" r="5.5"/><circle cx="229.9" cy="382.4" r="5.5"/></g>
<g fill="rgba(0,255,0,0.30)"><circle cx="367.3" cy="310.5" r="5.5"/></g>
<g fill="rgba(255,0,0,0.30)"><circle cx="332.5" cy="345.6" r="5.5"/></g>
<g fill="rgba(0,255,0,0.30)"><circle cx="299.1" cy="323.2" r="5.5"/><circle cx="370.8" cy="171.1" r="5.5"/><circle cx="305.2" cy="261.2" r="5.5"/><circle cx="495.4" cy="160.5" r="5.5"/><circle cx="390.7" cy="303.8" r="5.5"/><circle cx="423.7" cy="162.4" r="5.5"/><circle cx="333.9" cy="291.9" r="5.5"/></g>
<g fill="rgba(255,0,0,0.30)"><circle cx="322" cy="315.3" r="5.5"/></g>
<g fill="rgba(0,255,0,0.30)"><circle cx="390.9" cy="291.9" r="5.5"/><circle cx="365" cy="356.4" r="5.5"/><circle cx="334.2" cy="291.9" r="5.5"/><circle cx="363.3" cy="278.4" r="5.5"/></g>
<g fill="rgba(255,0,0,0.30)"><circle cx="336.3" cy="255.3" r="5.5"/></g>
<g fill="rgba(0,255,0,0.30)"><circle cx="423.5" cy="216.4" r="5.5"/><circle cx="323.1" cy="285.9" r="5.5"/></g>
<g fill="rgba(255,0,0,0.30)"><circle cx="444.7" cy="365.8" r="5.5"/></g>
<g fill="rgba(0,255,0,0.30)"><circle cx="382" cy="252.4" r="5.5"/></g>
<g fill="rgba(255,0,0,0.30)"><circle cx="340.6" cy="334.3" r="5.5"/><circle cx="339.8" cy="347.2" r="5.5"/><circle cx="284.4" cy="338" r="5.5"/></g>
<g fill="rgba(0,255,0,0.30)"><circle cx="345.9" cy="362.1" r="5.5"/><circle cx="349.7" cy="266.1" r="5.5"/><circle cx="431.9" cy="156.1" r="5.5"/><circle cx="358.3" cy="252.6" r="5.5"/><circle cx="355.7" cy="297.5" r="5.5"/></g>
<g fill="rgba(255,0,0,0.30)"><circle cx="255.5" cy="341" r="5.5"/></g>
<g fill="rgba(0,255,0,0.30)"><circle cx="258.7" cy="318.3" r="5.5"/></g>
<g fill="rgba(255,0,0,0.30)"><circle cx="247.1" cy="334.2" r="5.5"/><circle cx="394.2" cy="326.2" r="5.5"/></g>
<g fill="rgba(0,255,0,0.30)"><circle cx="328.4" cy="391.1" r="5.5"/><circle cx="428.1" cy="283.6" r="5.5"/></g>
<g fill="rgba(255,0,0,0.30)"><circle cx="242" cy="371.1" r="5.5"/></g>
<g fill="rgba(0,255,0,0.30)"><circle cx="351.3" cy="233.9" r="5.5"/></g>
<g fill="rgba(255,0,0,0.30)"><circle cx="350.8" cy="408.4" r="5.5"/><circle cx="345.5" cy="323.8" r="5.5"/></g>
<g fill="rgba(0,255,0,0.30)"><circle cx="343.7" cy="359.7" r="5.5"/></g>
<g fill="rgba(255,0,0,0.30)"><circle cx="357.2" cy="370.3" r="5.5"/></g>
<g fill="rgba(0,255,0,0.30)"><circle cx="351.9" cy="286.2" r="5.5"/></g>
<g fill="rgba(255,0,0,0.30)"><circle cx="235.4" cy="317.2" r="5.5"/><circle cx="336.3" cy="318.9" r="5.5"/></g>
<g fill="rgba(0,255,0,0.30)"><circle cx="315.5" cy="363.5" r="5.5"/></g>
<g fill="rgba(255,0,0,0.30)"><circle cx="354.4" cy="349.6" r="5.5"/><circle cx="250.6" cy="455.1" r="5.5"/></g>
<g fill="rgba(0,255,0,0.30)"><circle cx="346.2" cy="269.8" r="5.5"/><circle cx="330.5" cy="288.8" r="5.5"/></g>
<g fill="rgba(255,0,0,0.30)"><circle cx="353.6" cy="341.8" r="5.5"/></g>
<g fill="rgba(0,255,0,0.30)"><circle cx="368.6" cy="275.6" r="5.5"/></g>
<g fill="rgba(255,0,0,0.30)"><circle cx="252.2" cy="356.4" r="5.5"/></g>
<g fill="rgba(0,255,0,0.30)"><circle cx="344.5" cy="252.6" r="5.5"/><circle cx="449.3" cy="194.3" r="5.5"/></g>
<g fill="rgba(255,0,0,0.30)"><circle cx="227.5" cy="386.2" r="5.5"/><circle cx="373.8" cy="301.2" r="5.5"/><circle cx="319.3" cy="310.5" r="5.5"/><circle cx="219.1" cy="497.6" r="5.5"/></g>
<g fill="rgba(0,255,0,0.30)"><circle cx="356.2" cy="310.5" r="5.5"/><circle cx="432.2" cy="187.8" r="5.5"/><circle cx="358.1" cy="240.3" r="5.5"/></g>
<g fill="rgba(255,0,0,0.30)"><circle cx="203" cy="392.1" r="5.5"/><circle cx="359.9" cy="307.1" r="5.5"/><circle cx="367.8" cy="285.2" r="5.5"/><circle cx="316.3" cy="267" r="5.5"/></g>
<g fill="rgba(0,255,0,0.30)"><circle cx="326.7" cy="258.3" r="5.5"/><circle cx="301.2" cy="283.7" r="5.5"/><circle cx="356.4" cy="267.6" r="5.5"/><circle cx="418.5" cy="182.9" r="5.5"/><circle cx="307.2" cy="294.7" r="5.5"/></g>
<g fill="rgba(255,0,0,0.30)"><circle cx="362.7" cy="352.5" r="5.5"/><circle cx="280.1" cy="399.7" r="5.5"/><circle cx="343.3" cy="299.5" r="5.5"/></g>
<g fill="rgba(0,255,0,0.30)"><circle cx="380.8" cy="170" r="5.5"/></g>
<g fill="rgba(255,0,0,0.30)"><circle cx="279.2" cy="401.4" r="5.5"/></g>
<g fill="rgba(0,255,0,0.30)"><circle cx="386.7" cy="240.7" r="5.5"/></g>
<g fill="rgba(255,0,0,0.30)"><circle cx="372.5" cy="314.7" r="5.5"/><circle cx="265.4" cy="379.9" r="5.5"/><circle cx="241.6" cy="377.8" r="5.5"/></g>
<g fill="rgba(0,255,0,0.30)"><circle cx="405.2" cy="219.1" r="5.5"/><circle cx="433.7" cy="172" r="5.5"/><circle cx="327.5" cy="374.1" r="5.5"/></g>
<g fill="rgba(255,0,0,0.30)"><circle cx="362.7" cy="275.2" r="5.5"/></g>
<g fill="rgba(0,255,0,0.30)"><circle cx="296.5" cy="267.4" r="5.5"/><circle cx="363" cy="248.9" r="5.5"/></g>
<g fill="rgba(255,0,0,0.30)"><circle cx="270.1" cy="362" r="5.5"/><circle cx="297.8" cy="309.7" r="5.5"/></g>
<g fill="rgba(0,255,0,0.30)"><circle cx="351.6" cy="262.5" r="5.5"/><circle cx="377.8" cy="235.8" r="5.5"/></g>
<g fill="rgba(255,0,0,0.30)"><circle cx="275.1" cy="309.4" r="5.5"/></g>
<g fill="rgba(0,255,0,0.30)"><circle cx="290.6" cy="297" r="5.5"/><circle cx="469.4" cy="141.2" r="5.5"/></g>
<g fill="rgba(255,0,0,0.30)"><circle cx="432.1" cy="283.9" r="5.5"/></g>
<g fill="rgba(0,255,0,0.30)"><circle cx="290.1" cy="399.2" r="5.5"/><circle cx="318.1" cy="284.1" r="5.5"/><circle cx="480.3" cy="109.5" r="5.5"/></g>
<g fill="rgba(255,0,0,0.30)"><circle cx="246.7" cy="397.2" r="5.5"/></g>
<g fill="rgba(0,255,0,0.30)"><circle cx="462.8" cy="154.6" r="5.5"/><circle cx="375.4" cy="211.4" r="5.5"/><circle cx="280.3" cy="302.9" r="5.5"/><circle cx="333" cy="207.4" r="5.5"/><circle cx="371.6" cy="253" r="5.5"/></g>
<g fill="rgba(255,0,0,0.30)"><circle cx="255.7" cy="368.5" r="5.5"/></g>
<g fill="rgba(0,255,0,0.30)"><circle cx="385.1" cy="283.1" r="5.5"/><circle cx="290.6" cy="349.1" r="5.5"/><circle cx="364.2" cy="236.3" r="5.5"/></g>
<g fill="rgba(255,0,0,0.30)"><circle cx="354.6" cy="314.7" r="5.5"/><circle cx="251.6" cy="381.2" r="5.5"/><circle cx="272.4" cy="331.2" r="5.5"/><circle cx="316.2" cy="393.9" r="5.5"/><circle cx="338.9" cy="397.2" r="5.5"/><circle cx="221.9" cy="337.6" r="5.5"/></g>
<g fill="rgba(0,255,0,0.30)"><circle cx="295.9" cy="244.9" r="5.5"/></g>
<g fill="rgba(255,0,0,0.30)"><circle cx="388.4" cy="237.3" r="5.5"/></g>
<g fill="rgba(0,255,0,0.30)"><circle cx="460.3" cy="210.8" r="5.5"/><circle cx="364.7" cy="176.4" r="5.5"/></g>
<g fill="rgba(255,0,0,0.30)"><circle cx="250.6" cy="401" r="5.5"/><circle cx="398.7" cy="360.4" r="5.5"/></g>
<g fill="rgba(0,255,0,0.30)"><circle cx="311.4" cy="290.7" r="5.5"/><circle cx="382.5" cy="299.9" r="5.5"/><circle cx="342.8" cy="307.8" r="5.5"/></g>
<g fill="rgba(255,0,0,0.30)"><circle cx="255.4" cy="361.7" r="5.5"/></g>
<g fill="rgba(0,255,0,0.30)"><circle cx="402.4" cy="193.9" r="5.5"/><circle cx="273.3" cy="329.3" r="5.5"/></g>
<g fill="rgba(255,0,0,0.30)"><circle cx="410.7" cy="254.9" r="5.5"/></g>
<g fill="rgba(0,255,0,0.30)"><circle cx="357.6" cy="307.8" r="5.5"/><circle cx="346.2" cy="218.2" r="5.5"/></g>
<g fill="rgba(255,0,0,0.30)"><circle cx="403.6" cy="244.7" r="5.5"/></g>
<g fill="rgba(0,255,0,0.30)"><circle cx="332.7" cy="227.8" r="5.5"/><circle cx="398.1" cy="189" r="5.5"/><circle cx="403.8" cy="213.5" r="5.5"/></g>
<g fill="rgba(255,0,0,0.30)"><circle cx="190.8" cy="441.2" r="5.5"/></g>
<g fill="rgba(0,255,0,0.30)"><circle cx="431" cy="247.6" r="5.5"/></g>
<g fill="rgba(255,0,0,0.30)"><circle cx="275.5" cy="302.7" r="5.5"/></g>
<g fill="rgba(0,255,0,0.30)"><circle cx="388.1" cy="252.8" r="5.5"/><circle cx="398.7" cy="226.4" r="5.5"/><circle cx="344.5" cy="219.1" r="5.5"/></g>
<g fill="rgba(255,0,0,0.30)"><circle cx="264.2" cy="378.7" r="5.5"/></g>
<g fill="rgba(0,255,0,0.30)"><circle cx="334.5" cy="297" r="5.5"/><circle cx="419.4" cy="159.3" r="5.5"/><circle cx="345.6" cy="227.7" r="5.5"/></g>
<g fill="rgba(255,0,0,0.30)"><circle cx="240.2" cy="357.8" r="5.5"/></g>
<g fill="rgba(0,255,0,0.30)"><circle cx="279.3" cy="371.3" r="5.5"/><circle cx="427.8" cy="198.6" r="5.5"/><circle cx="383.1" cy="291.5" r="5.5"/></g>
<g fill="rgba(255,0,0,0.30)"><circle cx="296.9" cy="330.5" r="5.5"/></g>
<g fill="rgba(0,255,0,0.30)"><circle cx="320.4" cy="324.1" r="5.5"/><circle cx="359.4" cy="265.7" r="5.5"/></g>
<g fill="rgba(255,0,0,0.30)"><circle cx="291.7" cy="322.8" r="5.5"/></g>
<g fill="rgba(0,255,0,0.30)"><circle cx="356.5" cy="202.1" r="5.5"/></g>
<g fill="rgba(255,0,0,0.30)"><circle cx="306.3" cy="360.7" r="5.5"/></g>
<g fill="rgba(0,255,0,0.30)"><circle cx="364.5" cy="257.9" r="5.5"/><circle cx="410.6" cy="287.1" r="5.5"/></g>
<g fill="rgba(255,0,0,0.30)"><circle cx="298.1" cy="388.4" r="5.5"/></g>
<g fill="rgba(0,255,0,0.30)"><circle cx="381.5" cy="143.4" r="5.5"/><circle cx="330.3" cy="380.1" r="5.5"/><circle cx="388.3" cy="187.8" r="5.5"/><circle cx="364.1" cy="311.5" r="5.5"/></g>
<g fill="rgba(255,0,0,0.30)"><circle cx="375.6" cy="339.4" r="5.5"/><circle cx="339.6" cy="383.5" r="5.5"/><circle cx="346.6" cy="280" r="5.5"/></g>
<g fill="rgba(0,255,0,0.30)"><circle cx="340.2" cy="201.9" r="5.5"/></g>
<g fill="rgba(255,0,0,0.30)"><circle cx="299.7" cy="343.1" r="5.5"/></g>
<g fill="rgba(0,255,0,0.30)"><circle cx="405.3" cy="257.1" r="5.5"/><circle cx="350.6" cy="302" r="5.5"/></g>
<g fill="rgba(255,0,0,0.30)"><circle cx="377.3" cy="338.3" r="5.5"/></g>
<g fill="rgba(0,255,0,0.30)"><circle cx="346.1" cy="272.7" r="5.5"/><circle cx="430.1" cy="222.8" r="5.5"/></g>
<g fill="rgba(255,0,0,0.30)"><circle cx="251.8" cy="353.3" r="5.5"/></g>
<g fill="rgba(0,255,0,0.30)"><circle cx="311" cy="292.2" r="5.5"/></g>
<g fill="rgba(255,0,0,0.30)"><circle cx="323.3" cy="331.6" r="5.5"/></g>
<g fill="rgba(0,255,0,0.30)"><circle cx="337.1" cy="281.3" r="5.5"/><circle cx="371.6" cy="230.3" r="5.5"/><circle cx="401.4" cy="194.9" r="5.5"/></g>
<g fill="rgba(255,0,0,0.30)"><circle cx="243.2" cy="379.4" r="5.5"/></g>
<g fill="rgba(0,255,0,0.30)"><circle cx="357.3" cy="220.3" r="5.5"/><circle cx="376.5" cy="256.4" r="5.5"/><circle cx="355.6" cy="375.1" r="5.5"/><circle cx="358.7" cy="349.6" r="5.5"/></g>
<g fill="rgba(255,0,0,0.30)"><circle cx="381.1" cy="266.8" r="5.5"/><circle cx="318.5" cy="357.7" r="5.5"/></g>
<g fill="rgba(0,255,0,0.30)"><circle cx="337.7" cy="367.4" r="5.5"/></g>
<g fill="rgba(255,0,0,0.30)"><circle cx="270.5" cy="351.6" r="5.5"/><circle cx="349.8" cy="331.1" r="5.5"/><circle cx="249.4" cy="379.4" r="5.5"/><circle cx="411.4" cy="282.3" r="5.5"/></g>
<g fill="rgba(0,255,0,0.30)"><circle cx="350.9" cy="278.3" r="5.5"/><circle cx="413.1" cy="201.1" r="5.5"/><circle cx="319.4" cy="323.6" r="5.5"/><circle cx="398.4" cy="284.2" r="5.5"/><circle cx="419.9" cy="180.4" r="5.5"/></g>
<g fill="rgba(255,0,0,0.30)"><circle cx="316.3" cy="303.9" r="5.5"/></g>
<g fill="rgba(0,255,0,0.30)"><circle cx="378.2" cy="252" r="5.5"/></g>
<g fill="rgba(255,0,0,0.30)"><circle cx="362.8" cy="377.6" r="5.5"/></g>
<g fill="rgba(0,255,0,0.30)"><circle cx="310.1" cy="283" r="5.5"/></g>
<g fill="rgba(255,0,0,0.30)"><circle cx="271.1" cy="371.2" r="5.5"/></g>
<g fill="rgba(0,255,0,0.30)"><circle cx="382.8" cy="197.8" r="5.5"/></g>
<g fill="rgba(255,0,0,0.30)"><circle cx="348" cy="301.6" r="5.5"/></g>
<g fill="rgba(0,255,0,0.30)"><circle cx="456" cy="208.8" r="5.5"/></g>
<g fill="rgba(255,0,0,0.30)"><circle cx="225" cy="378.5" r="5.5"/></g>
<g fill="rgba(0,255,0,0.30)"><circle cx="323.1" cy="289.9" r="5.5"/><circle cx="285.7" cy="263.2" r="5.5"/></g>
<g fill="rgba(255,0,0,0.30)"><circle cx="342.2" cy="393.5" r="5.5"/></g>
<g fill="rgba(0,255,0,0.30)"><circle cx="351.8" cy="279.7" r="5.5"/><circle cx="313.6" cy="265.5" r="5.5"/></g>
<g fill="rgba(255,0,0,0.30)"><circle cx="284.1" cy="355.1" r="5.5"/></g>
<g fill="rgba(0,255,0,0.30)"><circle cx="246.5" cy="325.7" r="5.5"/><circle cx="422" cy="399.9" r="5.5"/></g>
<g fill="rgba(255,0,0,0.30)"><circle cx="289.6" cy="326.5" r="5.5"/></g>
<g fill="rgba(0,255,0,0.30)"><circle cx="343.9" cy="265.7" r="5.5"/><circle cx="411.8" cy="238.9" r="5.5"/></g>
<g fill="rgba(255,0,0,0.30)"><circle cx="284.6" cy="360.9" r="5.5"/><circle cx="295.9" cy="413.2" r="5.5"/></g>
<g fill="rgba(0,255,0,0.30)"><circle cx="506.2" cy="159.3" r="5.5"/></g>
<g fill="rgba(255,0,0,0.30)"><circle cx="306.6" cy="401.2" r="5.5"/></g>
<g fill="rgba(0,255,0,0.30)"><circle cx="335.6" cy="271.2" r="5.5"/><circle cx="373.2" cy="260.2" r="5.5"/></g>
<g fill="rgba(255,0,0,0.30)"><circle cx="317.4" cy="370.9" r="5.5"/></g>
<g fill="rgba(0,255,0,0.30)"><circle cx="382.7" cy="228.6" r="5.5"/></g>
<g fill="rgba(255,0,0,0.30)"><circle cx="338.7" cy="362.2" r="5.5"/><circle cx="323.5" cy="338.5" r="5.5"/></g>
<g fill="rgba(0,255,0,0.30)"><circle cx="350.5" cy="392.2" r="5.5"/></g>
<g fill="rgba(255,0,0,0.30)"><circle cx="360.9" cy="267" r="5.5"/><circle cx="337.4" cy="409.2" r="5.5"/></g>
<g fill="rgba(0,255,0,0.30)"><circle cx="304.6" cy="259.5" r="5.5"/></g>
<g fill="rgba(255,0,0,0.30)"><circle cx="273.7" cy="456.7" r="5.5"/><circle cx="185.7" cy="399.1" r="5.5"/></g>
<g fill="rgba(0,255,0,0.30)"><circle cx="325.2" cy="288.5" r="5.5"/><circle cx="371.3" cy="308.9" r="5.5"/><circle cx="347.9" cy="335.9" r="5.5"/></g>
<g fill="rgba(255,0,0,0.30)"><circle cx="284.3" cy="387.9" r="5.5"/></g>
<g fill="rgba(0,255,0,0.30)"><circle cx="377.9" cy="247.4" r="5.5"/><circle cx="365.8" cy="305.3" r="5.5"/></g>
<g fill="rgba(255,0,0,0.30)"><circle cx="317.6" cy="328" r="5.5"/></g>
<g fill="rgba(0,255,0,0.30)"><circle cx="410.6" cy="324.5" r="5.5"/><circle cx="342.5" cy="253" r="5.5"/><circle cx="425.2" cy="276.6" r="5.5"/></g>
<g fill="rgba(255,0,0,0.30)"><circle cx="244.9" cy="342.8" r="5.5"/></g>
<g fill="rgba(0,255,0,0.30)"><circle cx="394.7" cy="159.8" r="5.5"/><circle cx="466.2" cy="182.5" r="5.5"/></g>
<g fill="rgba(255,0,0,0.30)"><circle cx="274.7" cy="395.3" r="5.5"/><circle cx="313.5" cy="364.1" r="5.5"/></g>
<g fill="rgba(0,255,0,0.30)"><circle cx="288.1" cy="338.1" r="5.5"/></g>
<g fill="rgba(255,0,0,0.30)"><circle cx="263.7" cy="354.8" r="5.5"/></g>
<g fill="rgba(0,255,0,0.30)"><circle cx="306.7" cy="317.6" r="5.5"/></g>
<g fill="rgba(255,0,0,0.30)"><circle cx="281.1" cy="351" r="5.5"/></g>
<g fill="rgba(0,255,0,0.30)"><circle cx="469.2" cy="136.7" r="5.5"/></g>
<g fill="rgba(255,0,0,0.30)"><circle cx="386.4" cy="350.3" r="5.5"/><circle cx="250.1" cy="346.3" r="5.5"/></g>
<g fill="rgba(0,255,0,0.30)"><circle cx="336.5" cy="305.6" r="5.5"/><circle cx="398.4" cy="270.9" r="5.5"/><circle cx="340.6" cy="365.6" r="5.5"/><circle cx="374" cy="307.3" r="5.5"/></g>
<g fill="rgba(255,0,0,0.30)"><circle cx="251.2" cy="368.5" r="5.5"/><circle cx="248.2" cy="424.6" r="5.5"/><circle cx="383.8" cy="373.1" r="5.5"/></g>
<g fill="rgba(0,255,0,0.30)"><circle cx="320.2" cy="380" r="5.5"/><circle cx="389.2" cy="266.6" r="5.5"/><circle cx="399.1" cy="141.2" r="5.5"/></g>
<g fill="rgba(255,0,0,0.30)"><circle cx="316.1" cy="409.9" r="5.5"/><circle cx="276" cy="380.3" r="5.5"/><circle cx="306.6" cy="303.7" r="5.5"/></g>
<g fill="rgba(0,255,0,0.30)"><circle cx="365.4" cy="321.8" r="5.5"/></g>
<g fill="rgba(255,0,0,0.30)"><circle cx="290.5" cy="354.8" r="5.5"/></g>
<g fill="rgba(0,255,0,0.30)"><circle cx="318.9" cy="260.7" r="5.5"/><circle cx="331" cy="227.7" r="5.5"/></g>
<g fill="rgba(255,0,0,0.30)"><circle cx="264.3" cy="440.1" r="5.5"/></g>
<g fill="rgba(0,255,0,0.30)"><circle cx="311.4" cy="303.6" r="5.5"/><circle cx="359.2" cy="248.9" r="5.5"/><circle cx="355.1" cy="341.9" r="5.5"/><circle cx="409.4" cy="194.3" r="5.5"/><circle cx="359.5" cy="286" r="5.5"/></g>
<g fill="rgba(255,0,0,0.30)"><circle cx="304.4" cy="266.2" r="5.5"/></g>
<g fill="rgba(0,255,0,0.30)"><circle cx="373.9" cy="252.8" r="5.5"/><circle cx="345.6" cy="239.4" r="5.5"/><circle cx="492.5" cy="252" r="5.5"/></g>
<g fill="rgba(255,0,0,0.30)"><circle cx="385.8" cy="297.8" r="5.5"/></g>
<g fill="rgba(0,255,0,0.30)"><circle cx="331.8" cy="353.6" r="5.5"/><circle cx="292.1" cy="295.4" r="5.5"/><circle cx="380.1" cy="208.1" r="5.5"/><circle cx="350.6" cy="223.4" r="5.5"/><circle cx="321.8" cy="267" r="5.5"/><circle cx="416.2" cy="271.2" r="5.5"/><circle cx="346.8" cy="271.6" r="5.5"/><circle cx="374.9" cy="231.5" r="5.5"/><circle cx="337.2" cy="261.5" r="5.5"/></g>
<g fill="rgba(255,0,0,0.30)"><circle cx="259.7" cy="375.2" r="5.5"/></g>
<g fill="rgba(0,255,0,0.30)"><circle cx="387.7" cy="300.9" r="5.5"/><circle cx="407.1" cy="285.2" r="5.5"/><circle cx="369.2" cy="316.4" r="5.5"/><circle cx="362.6" cy="313.5" r="5.5"/></g>
<g fill="rgba(255,0,0,0.30)"><circle cx="350.6" cy="300" r="5.5"/><circle cx="322.4" cy="342.3" r="5.5"/><circle cx="364.1" cy="365.7" r="5.5"/></g>
<g fill="rgba(0,255,0,0.30)"><circle cx="376" cy="279.5" r="5.5"/><circle cx="397" cy="263" r="5.5"/></g>
<g fill="rgba(255,0,0,0.30)"><circle cx="308.4" cy="320.6" r="5.5"/><circle cx="247.4" cy="383.8" r="5.5"/></g>
<g fill="rgba(0,255,0,0.30)"><circle cx="386.4" cy="229.9" r="5.5"/></g>
<g fill="rgba(255,0,0,0.30)"><circle cx="314.5" cy="346.8" r="5.5"/></g>
<g fill="rgba(0,255,0,0.30)"><circle cx="388" cy="184.5" r="5.5"/><circle cx="322.5" cy="294.7" r="5.5"/><circle cx="347.6" cy="270.8" r="5.5"/></g>
<g fill="rgba(255,0,0,0.30)"><circle cx="257.2" cy="350.7" r="5.5"/></g>
<g fill="rgba(0,255,0,0.30)"><circle cx="392.4" cy="277" r="5.5"/><circle cx="302" cy="305.8" r="5.5"/><circle cx="344.9" cy="320.7" r="5.5"/><circle cx="340.1" cy="218.7" r="5.5"/></g>
<g fill="rgba(255,0,0,0.30)"><circle cx="305.2" cy="358" r="5.5"/></g>
<g fill="rgba(0,255,0,0.30)"><circle cx="333.4" cy="427.9" r="5.5"/></g>
<g fill="rgba(255,0,0,0.30)"><circle cx="294.2" cy="299.3" r="5.5"/></g>
<g fill="rgba(0,255,0,0.30)"><circle cx="373.6" cy="257.6" r="5.5"/><circle cx="349.3" cy="295.5" r="5.5"/><circle cx="318.5" cy="295.7" r="5.5"/><circle cx="349" cy="286" r="5.5"/><circle cx="305.8" cy="309.3" r="5.5"/><circle cx="340.6" cy="347.7" r="5.5"/><circle cx="336.4" cy="235.5" r="5.5"/><circle cx="315.9" cy="285.9" r="5.5"/></g>
<g fill="rgba(255,0,0,0.30)"><circle cx="279.8" cy="323.2" r="5.5"/></g>
<g fill="rgba(0,255,0,0.30)"><circle cx="391.7" cy="235.5" r="5.5"/><circle cx="290.9" cy="378.9" r="5.5"/></g>
<g fill="rgba(255,0,0,0.30)"><circle cx="343.3" cy="306.7" r="5.5"/><circle cx="283" cy="350.9" r="5.5"/></g>
<g fill="rgba(0,255,0,0.30)"><circle cx="411.5" cy="182.9" r="5.5"/><circle cx="359.7" cy="234.3" r="5.5"/><circle cx="426.4" cy="210" r="5.5"/><circle cx="438" cy="165.3" r="5.5"/></g>
<g fill="rgba(255,0,0,0.30)"><circle cx="299.8" cy="334" r="5.5"/></g>
<g fill="rgba(0,255,0,0.30)"><circle cx="298.1" cy="282.8" r="5.5"/><circle cx="315.5" cy="155.6" r="5.5"/><circle cx="375.7" cy="407.3" r="5.5"/></g>
<g fill="rgba(255,0,0,0.30)"><circle cx="305.1" cy="318.5" r="5.5"/></g>
<g fill="rgba(0,255,0,0.30)"><circle cx="308.8" cy="246.4" r="5.5"/><circle cx="357.7" cy="214.7" r="5.5"/><circle cx="396.7" cy="245.8" r="5.5"/><circle cx="301.7" cy="268.6" r="5.5"/></g>
<g fill="rgba(255,0,0,0.30)"><circle cx="327.8" cy="333.1" r="5.5"/></g>
<g fill="rgba(0,255,0,0.30)"><circle cx="428.9" cy="311.4" r="5.5"/><circle cx="351.2" cy="374.9" r="5.5"/><circle cx="345.5" cy="207" r="5.5"/></g>
<g fill="rgba(255,0,0,0.30)"><circle cx="248.4" cy="427" r="5.5"/><circle cx="342.4" cy="275.3" r="5.5"/><circle cx="301.5" cy="339.4" r="5.5"/></g>
<g fill="rgba(0,255,0,0.30)"><circle cx="361.5" cy="310.3" r="5.5"/><circle cx="302" cy="323" r="5.5"/><circle cx="401.9" cy="176.8" r="5.5"/></g>
<g fill="rgba(255,0,0,0.30)"><circle cx="341.5" cy="352.2" r="5.5"/></g>
<g fill="rgba(0,255,0,0.30)"><circle cx="341.9" cy="325.6" r="5.5"/></g>
<g fill="rgba(255,0,0,0.30)"><circle cx="255" cy="360.8" r="5.5"/></g>
<g fill="rgba(0,255,0,0.30)"><circle cx="337.6" cy="286.5" r="5.5"/><circle cx="384" cy="357.4" r="5.5"/></g>
<g fill="rgba(255,0,0,0.30)"><circle cx="241.2" cy="341.7" r="5.5"/></g>
<g fill="rgba(0,255,0,0.30)"><circle cx="304.4" cy="285.3" r="5.5"/><circle cx="369.8" cy="282.6" r="5.5"/></g>
<g fill="rgba(255,0,0,0.30)"><circle cx="300.8" cy="337.5" r="5.5"/></g>
<g fill="rgba(0,255,0,0.30)"><circle cx="317.3" cy="321" r="5.5"/></g>
<g fill="rgba(255,0,0,0.30)"><circle cx="348.9" cy="439.1" r="5.5"/><circle cx="319.6" cy="347.4" r="5.5"/></g>
<g fill="rgba(0,255,0,0.30)"><circle cx="381" cy="249.6" r="5.5"/><circle cx="351.7" cy="303.6" r="5.5"/></g>
<g fill="rgba(255,0,0,0.30)"><circle cx="351.6" cy="316.2" r="5.5"/><circle cx="338.7" cy="301.2" r="5.5"/><circle cx="231.6" cy="395" r="5.5"/></g>
<g fill="rgba(0,255,0,0.30)"><circle cx="289.5" cy="271.8" r="5.5"/><circle cx="509.5" cy="122.2" r="5.5"/></g>
<g fill="rgba(255,0,0,0.30)"><circle cx="300.1" cy="320.2" r="5.5"/></g>
<g fill="rgba(0,255,0,0.30)"><circle cx="316.4" cy="314.9" r="5.5"/><circle cx="400.4" cy="211.9" r="5.5"/></g>
<g fill="rgba(255,0,0,0.30)"><circle cx="343.7" cy="283.4" r="5.5"/></g>
<g fill="rgba(0,255,0,0.30)"><circle cx="300.1" cy="321.7" r="5.5"/><circle cx="413.5" cy="238.1" r="5.5"/></g>
<g fill="rgba(255,0,0,0.30)"><circle cx="226.7" cy="443.6" r="5.5"/></g>
<g fill="rgba(0,255,0,0.30)"><circle cx="308.4" cy="274" r="5.5"/></g>
<g fill="rgba(255,0,0,0.30)"><circle cx="338.1" cy="313.1" r="5.5"/></g>
<g fill="rgba(0,255,0,0.30)"><circle cx="351.6" cy="265.5" r="5.5"/><circle cx="357" cy="280.1" r="5.5"/><circle cx="375" cy="236.1" r="5.5"/><circle cx="335.6" cy="248.1" r="5.5"/><circle cx="329.3" cy="296.7" r="5.5"/></g>
<g fill="rgba(255,0,0,0.30)"><circle cx="317.1" cy="366.5" r="5.5"/></g>
<g fill="rgba(0,255,0,0.30)"><circle cx="371.3" cy="179.2" r="5.5"/></g>
<g fill="rgba(255,0,0,0.30)"><circle cx="262" cy="387.2" r="5.5"/></g>
<g fill="rgba(0,255,0,0.30)"><circle cx="271.9" cy="378.6" r="5.5"/><circle cx="428.3" cy="138.8" r="5.5"/></g>
<g fill="rgba(255,0,0,0.30)"><circle cx="365.8" cy="320.9" r="5.5"/></g>
<g fill="rgba(0,255,0,0.30)"><circle cx="323.1" cy="304.4" r="5.5"/></g>
<g fill="rgba(255,0,0,0.30)"><circle cx="254.7" cy="407.2" r="5.5"/><circle cx="284.8" cy="390.8" r="5.5"/></g>
<g fill="rgba(0,255,0,0.30)"><circle cx="279.1" cy="314.5" r="5.5"/></g>
<g fill="rgba(255,0,0,0.30)"><circle cx="245.2" cy="380.5" r="5.5"/><circle cx="306" cy="382.9" r="5.5"/><circle cx="366.9" cy="362.7" r="5.5"/></g>
<g fill="rgba(0,255,0,0.30)"><circle cx="401.7" cy="190.5" r="5.5"/></g>
<g fill="rgba(255,0,0,0.30)"><circle cx="370.3" cy="297.2" r="5.5"/></g>
<g fill="rgba(0,255,0,0.30)"><circle cx="347.4" cy="244.7" r="5.5"/><circle cx="355.2" cy="324.9" r="5.5"/><circle cx="410.1" cy="192.2" r="5.5"/></g>
<g fill="rgba(255,0,0,0.30)"><circle cx="310.7" cy="337.7" r="5.5"/></g>
<g fill="rgba(0,255,0,0.30)"><circle cx="374.9" cy="257.4" r="5.5"/><circle cx="322.6" cy="206" r="5.5"/><circle cx="407" cy="323.4" r="5.5"/></g>
<g fill="rgba(255,0,0,0.30)"><circle cx="246.3" cy="384" r="5.5"/><circle cx="287.5" cy="376.7" r="5.5"/><circle cx="207.4" cy="392.6" r="5.5"/><circle cx="202.3" cy="352" r="5.5"/></g>
<g fill="rgba(0,255,0,0.30)"><circle cx="306.5" cy="312.4" r="5.5"/></g>
<g fill="rgba(255,0,0,0.30)"><circle cx="379.2" cy="204.6" r="5.5"/></g>
<g fill="rgba(0,255,0,0.30)"><circle cx="471.4" cy="83.2" r="5.5"/><circle cx="355.6" cy="199.3" r="5.5"/><circle cx="341.1" cy="182.4" r="5.5"/></g>
<g fill="rgba(255,0,0,0.30)"><circle cx="288.5" cy="364.1" r="5.5"/><circle cx="342.4" cy="337.1" r="5.5"/><circle cx="330" cy="329.9" r="5.5"/></g>
<g fill="rgba(0,255,0,0.30)"><circle cx="454" cy="100.1" r="5.5"/></g>
<g fill="rgba(255,0,0,0.30)"><circle cx="421.6" cy="328.6" r="5.5"/></g>
<g fill="rgba(0,255,0,0.30)"><circle cx="373.9" cy="146.5" r="5.5"/><circle cx="526.4" cy="97.9" r="5.5"/></g>
<g fill="rgba(255,0,0,0.30)"><circle cx="216.4" cy="360" r="5.5"/></g>
<g fill="rgba(0,255,0,0.30)"><circle cx="287.2" cy="376.9" r="5.5"/></g>
<g fill="rgba(255,0,0,0.30)"><circle cx="328.4" cy="350.2" r="5.5"/></g>
<g fill="rgba(0,255,0,0.30)"><circle cx="370" cy="231.4" r="5.5"/></g>
<g fill="rgba(255,0,0,0.30)"><circle cx="404.3" cy="360.7" r="5.5"/></g>
<g fill="rgba(0,255,0,0.30)"><circle cx="355.8" cy="257" r="5.5"/><circle cx="361.8" cy="236.6" r="5.5"/></g>
<g fill="rgba(255,0,0,0.30)"><circle cx="284.2" cy="423.2" r="5.5"/><circle cx="368.9" cy="381.6" r="5.5"/></g>
<g fill="rgba(0,255,0,0.30)"><circle cx="327.5" cy="217.3" r="5.5"/></g>
<g fill="rgba(255,0,0,0.30)"><circle cx="241.7" cy="408.4" r="5.5"/></g>
<g fill="rgba(0,255,0,0.30)"><circle cx="419.1" cy="207.6" r="5.5"/></g>
<g fill="rgba(255,0,0,0.30)"><circle cx="370.4" cy="303.5" r="5.5"/><circle cx="389.6" cy="306.2" r="5.5"/><circle cx="269.6" cy="355.2" r="5.5"/></g>
<g fill="rgba(0,255,0,0.30)"><circle cx="392.3" cy="208.5" r="5.5"/></g>
<g fill="rgba(255,0,0,0.30)"><circle cx="293" cy="342.5" r="5.5"/></g>
<g fill="rgba(0,255,0,0.30)"><circle cx="467.9" cy="236.3" r="5.5"/><circle cx="319.9" cy="242.8" r="5.5"/><circle cx="328.7" cy="346.4" r="5.5"/><circle cx="342.6" cy="250.5" r="5.5"/></g>
<g fill="rgba(255,0,0,0.30)"><circle cx="386.7" cy="325.6" r="5.5"/></g>
<g fill="rgba(0,255,0,0.30)"><circle cx="387.1" cy="228.2" r="5.5"/><circle cx="372.3" cy="253.6" r="5.5"/><circle cx="362.9" cy="279.7" r="5.5"/></g>
<g fill="rgba(255,0,0,0.30)"><circle cx="325.1" cy="281" r="5.5"/></g>
<g fill="rgba(0,255,0,0.30)"><circle cx="383" cy="217.3" r="5.5"/></g>
<g fill="rgba(255,0,0,0.30)"><circle cx="375" cy="318" r="5.5"/></g>
<g fill="rgba(0,255,0,0.30)"><circle cx="325.7" cy="230.5" r="5.5"/><circle cx="310.8" cy="307" r="5.5"/></g>
<g fill="rgba(255,0,0,0.30)"><circle cx="250.2" cy="367.8" r="5.5"/><circle cx="265.7" cy="354.7" r="5.5"/><circle cx="363.6" cy="274.7" r="5.5"/><circle cx="221" cy="384" r="5.5"/></g>
<g fill="rgba(0,255,0,0.30)"><circle cx="320.6" cy="314.6" r="5.5"/><circle cx="361.7" cy="258" r="5.5"/></g>
<g fill="rgba(255,0,0,0.30)"><circle cx="366.6" cy="370" r="5.5"/></g>
<g fill="rgba(0,255,0,0.30)"><circle cx="339" cy="310.7" r="5.5"/></g>
<g fill="rgba(255,0,0,0.30)"><circle cx="278.4" cy="389.8" r="5.5"/></g>
<g fill="rgba(0,255,0,0.30)"><circle cx="549" cy="132.7" r="5.5"/><circle cx="368.8" cy="277.3" r="5.5"/></g>
<g fill="rgba(255,0,0,0.30)"><circle cx="335.7" cy="361.9" r="5.5"/><circle cx="251.6" cy="338.6" r="5.5"/></g>
<g fill="rgba(0,255,0,0.30)"><circle cx="309.4" cy="252.4" r="5.5"/><circle cx="348.2" cy="234.9" r="5.5"/></g>
<g fill="rgba(255,0,0,0.30)"><circle cx="218.5" cy="408.4" r="5.5"/><circle cx="341.2" cy="265.7" r="5.5"/><circle cx="321.2" cy="340.8" r="5.5"/></g>
<g fill="rgba(0,255,0,0.30)"><circle cx="329.3" cy="277.1" r="5.5"/><circle cx="399.6" cy="255.7" r="5.5"/></g>
<g fill="rgba(255,0,0,0.30)"><circle cx="278.6" cy="401" r="5.5"/><circle cx="336.3" cy="348.9" r="5.5"/><circle cx="289.2" cy="334" r="5.5"/></g>
<g fill="rgba(0,255,0,0.30)"><circle cx="366.1" cy="219.2" r="5.5"/><circle cx="383.2" cy="167.1" r="5.5"/></g>
<g fill="rgba(255,0,0,0.30)"><circle cx="285.9" cy="359.6" r="5.5"/></g>
<g fill="rgba(0,255,0,0.30)"><circle cx="395.1" cy="282.3" r="5.5"/><circle cx="346.1" cy="365.9" r="5.5"/><circle cx="295.8" cy="432.6" r="5.5"/></g>
<g fill="rgba(255,0,0,0.30)"><circle cx="313.5" cy="334.9" r="5.5"/></g>
<g fill="rgba(0,255,0,0.30)"><circle cx="346.5" cy="256.4" r="5.5"/><circle cx="271.8" cy="321.6" r="5.5"/><circle cx="268.8" cy="311.3" r="5.5"/><circle cx="408.2" cy="192.3" r="5.5"/></g>
<g fill="rgba(255,0,0,0.30)"><circle cx="405.8" cy="228.6" r="5.5"/><circle cx="302" cy="374.2" r="5.5"/><circle cx="247.8" cy="376.7" r="5.5"/><circle cx="296.5" cy="334.4" r="5.5"/><circle cx="303.4" cy="359.2" r="5.5"/></g>
<g fill="rgba(0,255,0,0.30)"><circle cx="379.9" cy="195.9" r="5.5"/><circle cx="395.1" cy="254.7" r="5.5"/></g>
<g fill="rgba(255,0,0,0.30)"><circle cx="281.1" cy="337.4" r="5.5"/><circle cx="346.9" cy="371.1" r="5.5"/></g>
<g fill="rgba(0,255,0,0.30)"><circle cx="357.1" cy="220.4" r="5.5"/><circle cx="392" cy="223.1" r="5.5"/><circle cx="313.5" cy="213.7" r="5.5"/></g>
<g fill="rgba(255,0,0,0.30)"><circle cx="345.6" cy="294.9" r="5.5"/></g>
<g fill="rgba(0,255,0,0.30)"><circle cx="292.6" cy="392.2" r="5.5"/><circle cx="296.8" cy="247.2" r="5.5"/></g>
<g fill="rgba(255,0,0,0.30)"><circle cx="263.6" cy="386" r="5.5"/></g>
<g fill="rgba(0,255,0,0.30)"><circle cx="367.9" cy="228.8" r="5.5"/><circle cx="368.5" cy="273.6" r="5.5"/></g>
<g fill="rgba(255,0,0,0.30)"><circle cx="303.9" cy="347.3" r="5.5"/><circle cx="193.5" cy="373.8" r="5.5"/><circle cx="252.2" cy="329.7" r="5.5"/></g>
<g fill="rgba(0,255,0,0.30)"><circle cx="342" cy="336.9" r="5.5"/><circle cx="312.7" cy="353.2" r="5.5"/><circle cx="334.2" cy="228.5" r="5.5"/><circle cx="330.9" cy="274" r="5.5"/></g>
<g fill="rgba(255,0,0,0.30)"><circle cx="315" cy="386.1" r="5.5"/></g>
<g fill="rgba(0,255,0,0.30)"><circle cx="379.5" cy="242.6" r="5.5"/><circle cx="420.5" cy="182.8" r="5.5"/></g>
<g fill="rgba(255,0,0,0.30)"><circle cx="205.3" cy="361.2" r="5.5"/></g>
<g fill="rgba(0,255,0,0.30)"><circle cx="392.6" cy="260.9" r="5.5"/><circle cx="358.4" cy="290.4" r="5.5"/><circle cx="343.8" cy="259.7" r="5.5"/><circle cx="390.6" cy="164" r="5.5"/><circle cx="377.9" cy="333.3" r="5.5"/></g>
<g fill="rgba(255,0,0,0.30)"><circle cx="357" cy="309.9" r="5.5"/></g>
<g fill="rgba(0,255,0,0.30)"><circle cx="366.7" cy="318.7" r="5.5"/><circle cx="411" cy="204.1" r="5.5"/><circle cx="354.2" cy="283.6" r="5.5"/><circle cx="430.1" cy="263.4" r="5.5"/><circle cx="299.1" cy="229.4" r="5.5"/><circle cx="320.4" cy="305.1" r="5.5"/></g>
<g fill="rgba(255,0,0,0.30)"><circle cx="305" cy="354.5" r="5.5"/><circle cx="275" cy="348.1" r="5.5"/></g>
<g fill="rgba(0,255,0,0.30)"><circle cx="422" cy="208.6" r="5.5"/><circle cx="381.3" cy="241" r="5.5"/><circle cx="341.5" cy="241.6" r="5.5"/></g>
<g fill="rgba(255,0,0,0.30)"><circle cx="351.8" cy="282.3" r="5.5"/></g>
<g fill="rgba(0,255,0,0.30)"><circle cx="432.3" cy="169" r="5.5"/></g>
<g fill="rgba(255,0,0,0.30)"><circle cx="305.5" cy="361.7" r="5.5"/></g>
<g fill="rgba(0,255,0,0.30)"><circle cx="357.5" cy="275.1" r="5.5"/><circle cx="386.6" cy="314.2" r="5.5"/><circle cx="364.5" cy="211.9" r="5.5"/></g>
<g fill="rgba(255,0,0,0.30)"><circle cx="205.3" cy="407.4" r="5.5"/><circle cx="234.5" cy="369.1" r="5.5"/></g>
<g fill="rgba(0,255,0,0.30)"><circle cx="342.2" cy="375.8" r="5.5"/></g>
<g fill="rgba(255,0,0,0.30)"><circle cx="258.1" cy="368.6" r="5.5"/></g>
<g fill="rgba(0,255,0,0.30)"><circle cx="323.3" cy="242.6" r="5.5"/><circle cx="267.5" cy="341.5" r="5.5"/><circle cx="440.4" cy="237.6" r="5.5"/><circle cx="389.8" cy="342" r="5.5"/><circle cx="411.7" cy="232.2" r="5.5"/></g>
<g fill="rgba(255,0,0,0.30)"><circle cx="246.1" cy="363.4" r="5.5"/><circle cx="324" cy="344.9" r="5.5"/><circle cx="269.7" cy="348.5" r="5.5"/><circle cx="283.5" cy="396.9" r="5.5"/><circle cx="190.8" cy="401.8" r="5.5"/></g>
<g fill="rgba(0,255,0,0.30)"><circle cx="323.1" cy="283.9" r="5.5"/></g>
<g fill="rgba(255,0,0,0.30)"><circle cx="309.4" cy="376.9" r="5.5"/><circle cx="288.8" cy="353.7" r="5.5"/></g>
<g fill="rgba(0,255,0,0.30)"><circle cx="352.2" cy="255.9" r="5.5"/></g>
<g fill="rgba(255,0,0,0.30)"><circle cx="241.2" cy="324.8" r="5.5"/></g>
<g fill="rgba(0,255,0,0.30)"><circle cx="389" cy="290.8" r="5.5"/></g>
<g fill="rgba(255,0,0,0.30)"><circle cx="218.8" cy="376.5" r="5.5"/></g>
<g fill="rgba(0,255,0,0.30)"><circle cx="320.5" cy="331.3" r="5.5"/><circle cx="452.6" cy="198.5" r="5.5"/><circle cx="279.4" cy="314.6" r="5.5"/></g>
<g fill="rgba(255,0,0,0.30)"><circle cx="241.3" cy="384.2" r="5.5"/></g>
<g fill="rgba(0,255,0,0.30)"><circle cx="431.5" cy="140.3" r="5.5"/><circle cx="299.6" cy="267.7" r="5.5"/></g>
</g>
<path d="M223.5 360.7L234.3 371.5M223.5 371.5L234.3 360.7M322.2 290.6L333 301.4M322.2 301.4L333 290.6M303.7 313.7L314.5 324.4M303.7 324.4L314.5 313.7M306.1 320.5L316.9 331.3M306.1 331.3L316.9 320.5M309.3 337.6L320.1 348.4M309.3 348.4L320.1 337.6M247.5 350.4L258.3 361.2M247.5 361.2L258.3 350.4M263.6 352.1L274.4 362.9M263.6 362.9L274.4 352.1M271.6 354.7L282.4 365.5M271.6 365.5L282.4 354.7M275.6 359L286.4 369.8M275.6 369.8L286.4 359M255.6 349.6L266.4 360.4M255.6 360.4L266.4 349.6M291.7 347.9L302.5 358.6M291.7 358.6L302.5 347.9M267.6 353.8L278.4 364.6M267.6 364.6L278.4 353.8M298.9 343.7L309.7 354.5M298.9 354.5L309.7 343.7M287.1 329L297.9 339.8M287.1 339.8L297.9 329M276.6 324.8L287.4 335.6M276.6 335.6L287.4 324.8M258 325L268.8 335.8M258 335.8L268.8 325M271.6 304.2L282.4 315M271.6 315L282.4 304.2M284.8 326.4L295.6 337.2M284.8 337.2L295.6 326.4M278.7 330.2L289.5 341M278.7 341L289.5 330.2M269.3 326.9L280.1 337.7M269.3 337.7L280.1 326.9M287.8 325.1L298.6 335.9M287.8 335.9L298.6 325.1M293.6 324.6L304.4 335.4M293.6 335.4L304.4 324.6M282.3 304.2L293.1 315M282.3 315L293.1 304.2M288.6 328.2L299.4 339M288.6 339L299.4 328.2M279.8 315.7L290.6 326.5M279.8 326.5L290.6 315.7M298.9 325.4L309.7 336.2M298.9 336.2L309.7 325.4M279.1 310.2L289.9 321M279.1 321L289.9 310.2M271.4 325.7L282.2 336.5M271.4 336.5L282.2 325.7M292.7 315.3L303.5 326.1M292.7 326.1L303.5 315.3M283.1 314.2L293.9 325M283.1 325L293.9 314.2M258 310L268.8 320.8M258 320.8L268.8 310M270.5 342.2L281.3 353M270.5 353L281.3 342.2M285.4 313.8L296.2 324.6M285.4 324.6L296.2 313.8M276.7 335.1L287.5 345.9M276.7 345.9L287.5 335.1M282.4 322.8L293.2 333.6M282.4 333.6L293.2 322.8M298.9 313.3L309.7 324.1M298.9 324.1L309.7 313.3M284.4 308.9L295.2 319.7M284.4 319.7L295.2 308.9M279.6 333.3L290.4 344.1M279.6 344.1L290.4 333.3M289.1 315.2L299.9 326M289.1 326L299.9 315.2M279.5 331.6L290.3 342.4M279.5 342.4L290.3 331.6M284.8 343.7L295.6 354.5M284.8 354.5L295.6 343.7M290.4 316.3L301.2 327.1M290.4 327.1L301.2 316.3M239.5 326.5L250.3 337.3M239.5 337.3L250.3 326.5M251.6 341L262.4 351.8M251.6 351.8L262.4 341M261.2 306.8L272 317.6M261.2 317.6L272 306.8M258 317.9L268.8 328.7M258 328.7L268.8 317.9" stroke="#000" stroke-width="3.7" fill="none"/>
<rect x="130" y="34" width="175.1" height="319.2" fill="rgba(210,210,210,0.5)"/>
<rect x="128.5" y="34" width="433.8" height="553.7" fill="none" stroke="#000" stroke-width="3"/>
<line x1="114.2" y1="567" x2="128.5" y2="567" stroke="#000" stroke-width="1.4"/>
<text transform="translate(97 567) rotate(-90)" font-size="23.5" text-anchor="middle">−3</text>
<line x1="114.2" y1="481.5" x2="128.5" y2="481.5" stroke="#000" stroke-width="1.4"/>
<text transform="translate(97 481.5) rotate(-90)" font-size="23.5" text-anchor="middle">−2</text>
<line x1="114.2" y1="396" x2="128.5" y2="396" stroke="#000" stroke-width="1.4"/>
<text transform="translate(97 396) rotate(-90)" font-size="23.5" text-anchor="middle">−1</text>
<line x1="114.2" y1="310.5" x2="128.5" y2="310.5" stroke="#000" stroke-width="1.4"/>
<text transform="translate(97 310.5) rotate(-90)" font-size="23.5" text-anchor="middle">0</text>
<line x1="114.2" y1="225" x2="128.5" y2="225" stroke="#000" stroke-width="1.4"/>
<text transform="translate(97 225) rotate(-90)" font-size="23.5" text-anchor="middle">1</text>
<line x1="114.2" y1="139.5" x2="128.5" y2="139.5" stroke="#000" stroke-width="1.4"/>
<text transform="translate(97 139.5) rotate(-90)" font-size="23.5" text-anchor="middle">2</text>
<line x1="114.2" y1="54" x2="128.5" y2="54" stroke="#000" stroke-width="1.4"/>
<text transform="translate(97 54) rotate(-90)" font-size="23.5" text-anchor="middle">3</text>
<line x1="144.6" y1="587.7" x2="144.6" y2="601" stroke="#000" stroke-width="1.6"/>
<text x="144.6" y="635.4" font-size="22.8" text-anchor="middle">−4</text>
<line x1="224.9" y1="587.7" x2="224.9" y2="601" stroke="#000" stroke-width="1.6"/>
<text x="224.9" y="635.4" font-size="22.8" text-anchor="middle">−3</text>
<line x1="305.1" y1="587.7" x2="305.1" y2="601" stroke="#000" stroke-width="1.6"/>
<text x="305.1" y="635.4" font-size="22.8" text-anchor="middle">−2</text>
<line x1="385.4" y1="587.7" x2="385.4" y2="601" stroke="#000" stroke-width="1.6"/>
<text x="385.4" y="635.4" font-size="22.8" text-anchor="middle">−1</text>
<line x1="465.6" y1="587.7" x2="465.6" y2="601" stroke="#000" stroke-width="1.6"/>
<text x="465.6" y="635.4" font-size="22.8" text-anchor="middle">0</text>
<line x1="545.9" y1="587.7" x2="545.9" y2="601" stroke="#000" stroke-width="1.6"/>
<text x="545.9" y="635.4" font-size="22.8" text-anchor="middle">1</text>
<text x="345.3" y="689" font-size="22.3" text-anchor="middle">H4K5ac / H3 (Log2 Atepl1 / WT)</text>
<text transform="translate(44 311.3) rotate(-90)" font-size="22.3" text-anchor="middle">H3K9ac / H3 (Log2 Atepl1 / WT)</text>
<rect x="135" y="40.3" width="165.1" height="150.2" fill="#fff" stroke="#000" stroke-width="3.5"/>
<text x="144" y="71.8" font-size="26.8">Log<tspan font-size="19.5" dy="5">2</tspan><tspan dy="-5"> tr. FC:</tspan></text>
<circle cx="169" cy="94.8" r="8.3" fill="#ff4d4d"/>
<text x="196.8" y="101.5" font-size="26.8">&lt; -1.5</text>
<circle cx="169" cy="125.3" r="8.3" fill="#4dff4d"/>
<text x="196.8" y="134.8" font-size="26.6">&gt; 1.5</text>
<path d="M164 167.3L172.4 175.7M164 175.7L172.4 167.3" stroke="#000" stroke-width="2.4"/>
<text x="189.8" y="180.5" font-size="26.3">npRPGs</text>
<text x="638.5" y="37.5" font-size="52" font-weight="bold">b</text>
<text x="699" y="53" font-size="26"><tspan font-style="italic">HAF1</tspan> (At1g32750)</text>
<line x1="705" y1="104.9" x2="1218" y2="104.9" stroke="#000" stroke-width="3.4"/>
<rect x="697.6" y="92.1" width="10.9" height="25.7" fill="#92d050"/>
<rect x="718.4" y="92.1" width="3.7" height="25.7" fill="#92d050"/>
<rect x="722.1" y="92.1" width="4.1" height="25.7" fill="#00b050"/>
<rect x="762.3" y="92.1" width="6.5" height="25.7" fill="#00b050"/>
<rect x="776.6" y="92.1" width="4.4" height="25.7" fill="#00b050"/>
<rect x="786.8" y="92.1" width="2.7" height="25.7" fill="#00b050"/>
<rect x="808.9" y="92.1" width="13.6" height="25.7" fill="#00b050"/>
<rect x="833.8" y="92.1" width="5.1" height="25.7" fill="#00b050"/>
<rect x="843.6" y="92.1" width="9.2" height="25.7" fill="#00b050"/>
<rect x="871.9" y="92.1" width="56.8" height="25.7" fill="#00b050"/>
<rect x="936.6" y="92.1" width="10.2" height="25.7" fill="#00b050"/>
<rect x="952.6" y="92.1" width="12.6" height="25.7" fill="#00b050"/>
<rect x="972.7" y="92.1" width="17.7" height="25.7" fill="#00b050"/>
<rect x="1012.1" y="92.1" width="11.6" height="25.7" fill="#00b050"/>
<rect x="1028.5" y="92.1" width="6.1" height="25.7" fill="#00b050"/>
<rect x="1040" y="92.1" width="10.9" height="25.7" fill="#00b050"/>
<rect x="1069.3" y="92.1" width="10.6" height="25.7" fill="#00b050"/>
<rect x="1085.7" y="92.1" width="25.5" height="25.7" fill="#00b050"/>
<rect x="1115.3" y="92.1" width="10.9" height="25.7" fill="#00b050"/>
<rect x="1131.3" y="92.1" width="5.4" height="25.7" fill="#00b050"/>
<rect x="1140.8" y="92.1" width="2.7" height="25.7" fill="#00b050"/>
<rect x="1148.3" y="92.1" width="61.3" height="25.7" fill="#00b050"/>
<rect x="1217.4" y="92.1" width="18.2" height="25.7" fill="#00b050"/>
<path d="M1235.6 92.1L1241.3 92.1L1243.1 104.9L1241.3 117.8L1235.6 117.8Z" fill="#92d050"/>
<text x="1221.3" y="119.2" font-size="30" text-anchor="middle" font-weight="bold">*</text>
<rect x="1220.3" y="82.6" width="11" height="3.3" fill="#00b050"/>
<text x="1226" y="69" font-size="26" text-anchor="middle" fill="#00b050">bromo</text>
<path d="M1218.2 123L1225.6 137.9L1221.9 137.9L1221.9 175.5L1214.5 175.5L1214.5 137.9L1210.8 137.9Z" fill="#000"/>
<path d="M1231.5 123L1238.9 137.9L1235.2 137.9L1235.2 175.5L1227.8 175.5L1227.8 137.9L1224.1 137.9Z" fill="#000"/>
<text x="699" y="197.4" font-size="26"><tspan font-style="italic">HAF2</tspan> (At3g19040)</text>
<line x1="700" y1="248.5" x2="1100" y2="248.5" stroke="#000" stroke-width="3.4"/>
<rect x="697.6" y="235.7" width="12.3" height="25.7" fill="#00b050"/>
<rect x="722.1" y="235.7" width="5.5" height="25.7" fill="#00b050"/>
<rect x="732.3" y="235.7" width="8.9" height="25.7" fill="#00b050"/>
<rect x="761.6" y="235.7" width="56.9" height="25.7" fill="#00b050"/>
<rect x="827" y="235.7" width="9.8" height="25.7" fill="#00b050"/>
<rect x="843.6" y="235.7" width="12.3" height="25.7" fill="#00b050"/>
<rect x="862.4" y="235.7" width="17.3" height="25.7" fill="#00b050"/>
<rect x="891" y="235.7" width="10.2" height="25.7" fill="#00b050"/>
<rect x="908" y="235.7" width="5.1" height="25.7" fill="#00b050"/>
<rect x="920.6" y="235.7" width="10.2" height="25.7" fill="#00b050"/>
<rect x="946.4" y="235.7" width="10.9" height="25.7" fill="#00b050"/>
<rect x="964.8" y="235.7" width="24.9" height="25.7" fill="#00b050"/>
<rect x="994.4" y="235.7" width="8.6" height="25.7" fill="#00b050"/>
<rect x="1009.1" y="235.7" width="6.8" height="25.7" fill="#00b050"/>
<rect x="1018.3" y="235.7" width="3.4" height="25.7" fill="#00b050"/>
<rect x="1025.8" y="235.7" width="57.2" height="25.7" fill="#00b050"/>
<rect x="1098.8" y="235.7" width="19.3" height="25.7" fill="#00b050"/>
<path d="M1118.1 235.7L1121.1 235.7L1122.9 248.5L1121.1 261.4L1118.1 261.4Z" fill="#92d050"/>
<text x="1103.9" y="261.5" font-size="30" text-anchor="middle" font-weight="bold">*</text>
<rect x="1102" y="224.4" width="11.2" height="3.6" fill="#00b050"/>
<text x="1108.4" y="211.1" font-size="26" text-anchor="middle" fill="#00b050">bromo</text>
<path d="M1099.5 266.9L1106.9 281.8L1103.2 281.8L1103.2 319.4L1095.8 319.4L1095.8 281.8L1092.1 281.8Z" fill="#000"/>
<path d="M1112.5 266.9L1119.9 281.8L1116.2 281.8L1116.2 319.4L1108.8 319.4L1108.8 281.8L1105.1 281.8Z" fill="#000"/>
<text x="1211.5" y="267.2" font-size="25.4" text-anchor="middle">1000 bp</text>
<rect x="1186.3" y="281" width="51.7" height="3.8" fill="#222"/>
<text x="639.5" y="386" font-size="52" font-weight="bold">c</text>
<text x="787.8" y="402" font-size="24" text-anchor="middle">WT</text>
<text x="1015.9" y="402" font-size="24" text-anchor="middle" font-style="italic">Atepl1-2</text>
<text x="1217.3" y="402" font-size="25" text-anchor="middle" font-style="italic">taf1Δbromo</text>
<rect x="668" y="421" width="235" height="267.5" fill="#0d0b0d"/>
<rect x="668" y="421" width="235" height="267.5" fill="#000" filter="url(#soil)"/>
<rect x="907" y="421" width="212.3" height="267.5" fill="#0d0b0d"/>
<rect x="907" y="421" width="212.3" height="267.5" fill="#000" filter="url(#soil)"/>
<rect x="1123.3" y="421" width="191.8" height="267.5" fill="#0d0b0d"/>
<rect x="1123.3" y="421" width="191.8" height="267.5" fill="#000" filter="url(#soil)"/>
<g filter="url(#leafblur)"><line x1="746.7" y1="525.7" x2="794.4" y2="536" stroke="#60c83a" stroke-width="3.8" stroke-linecap="round"/><line x1="821.7" y1="498.4" x2="794.4" y2="536" stroke="#60c83a" stroke-width="2.9" stroke-linecap="round"/><line x1="814.9" y1="527.4" x2="794.4" y2="536" stroke="#60c83a" stroke-width="2.9" stroke-linecap="round"/><line x1="830" y1="552" x2="794.4" y2="536" stroke="#60c83a" stroke-width="3" stroke-linecap="round"/><line x1="770.6" y1="590" x2="794.4" y2="536" stroke="#60c83a" stroke-width="2.9" stroke-linecap="round"/><line x1="831.9" y1="578.5" x2="794.4" y2="536" stroke="#60c83a" stroke-width="3.6" stroke-linecap="round"/><line x1="760" y1="541" x2="794.4" y2="536" stroke="#60c83a" stroke-width="3" stroke-linecap="round"/><line x1="792" y1="560" x2="793" y2="575" stroke="#60c83a" stroke-width="2" stroke-linecap="round"/><ellipse cx="713.5" cy="517.2" rx="33" ry="27" transform="rotate(22 713.5 517.2)" fill="url(#leafg)"/><ellipse cx="835.3" cy="479.7" rx="17.5" ry="19.5" transform="rotate(30 835.3 479.7)" fill="url(#leafg)"/><ellipse cx="838.7" cy="518.9" rx="24.5" ry="19" transform="rotate(-22 838.7 518.9)" fill="url(#leafg)"/><ellipse cx="842.1" cy="555.5" rx="12" ry="12.5" fill="url(#leafg)"/><ellipse cx="753.6" cy="541.8" rx="12.5" ry="9" transform="rotate(5 753.6 541.8)" fill="url(#leafg)"/><ellipse cx="780.8" cy="547.8" rx="14" ry="11.5" transform="rotate(-10 780.8 547.8)" fill="url(#leafg)"/><ellipse cx="757.8" cy="612.5" rx="23" ry="25.5" transform="rotate(10 757.8 612.5)" fill="url(#leafg)"/><ellipse cx="856.6" cy="610.8" rx="30.5" ry="36" transform="rotate(-28 856.6 610.8)" fill="url(#leafg)"/><ellipse cx="794.4" cy="534" rx="10" ry="9" fill="#78cc5a"/><circle cx="833" cy="551" r="5" fill="#3a2620"/><ellipse cx="949.5" cy="460.5" rx="7.5" ry="7.5" fill="#8edc5a"/><ellipse cx="944.5" cy="476.5" rx="6.8" ry="6.2" fill="#8edc5a"/><ellipse cx="950.5" cy="469" rx="3.5" ry="3.5" fill="#a8e07a"/><ellipse cx="1061.4" cy="611.5" rx="8" ry="6.5" fill="#8edc5a"/><ellipse cx="1072.2" cy="607" rx="4.5" ry="4.5" fill="#8edc5a"/><ellipse cx="1082.3" cy="615.3" rx="7.2" ry="7.2" fill="#8edc5a"/><path d="M1035 632 Q1055 650 1070 660 T1118 668" stroke="#3b2c1e" stroke-width="1.6" fill="none"/><line x1="1208.6" y1="507" x2="1218" y2="549.6" stroke="#60c83a" stroke-width="3.6" stroke-linecap="round"/><line x1="1171" y1="551.3" x2="1217.1" y2="553" stroke="#60c83a" stroke-width="2.9" stroke-linecap="round"/><line x1="1200" y1="525.7" x2="1210.3" y2="547.9" stroke="#60c83a" stroke-width="2" stroke-linecap="round"/><line x1="1258" y1="545" x2="1217.1" y2="553" stroke="#60c83a" stroke-width="2.9" stroke-linecap="round"/><line x1="1208.6" y1="568.3" x2="1217.1" y2="553" stroke="#60c83a" stroke-width="2.9" stroke-linecap="round"/><line x1="1254.6" y1="592.2" x2="1217.1" y2="553" stroke="#60c83a" stroke-width="3.6" stroke-linecap="round"/><ellipse cx="1208.6" cy="519" rx="11" ry="9.4" fill="url(#leafg)"/><ellipse cx="1203.5" cy="476.3" rx="27.3" ry="32.4" transform="rotate(-8 1203.5 476.3)" fill="url(#leafg)"/><ellipse cx="1153.2" cy="549.6" rx="18.7" ry="19.6" fill="url(#leafg)"/><ellipse cx="1278.4" cy="541" rx="19.6" ry="19.6" fill="url(#leafg)"/><ellipse cx="1242.7" cy="553" rx="17" ry="11" transform="rotate(-10 1242.7 553)" fill="url(#leafg)"/><ellipse cx="1199.2" cy="592.2" rx="15.3" ry="22.1" transform="rotate(10 1199.2 592.2)" fill="url(#leafg)"/><ellipse cx="1271.6" cy="609.2" rx="27.3" ry="23.9" transform="rotate(15 1271.6 609.2)" fill="url(#leafg)"/><ellipse cx="1217.1" cy="553" rx="8" ry="7.5" fill="#6cc84a"/></g>
<text x="1361.5" y="38" font-size="52" font-weight="bold">d</text>
<rect x="1496.2" y="456.8" width="20.7" height="170" fill="#a6a6a6" stroke="#000" stroke-width="1.3"/>
<rect x="1516.9" y="450.7" width="20.7" height="176.1" fill="#00b050" stroke="#000" stroke-width="1.3"/>
<rect x="1537.6" y="555.4" width="20.7" height="71.4" fill="#ed7d31" stroke="#000" stroke-width="1.3"/>
<line x1="1527.2" y1="450.7" x2="1527.2" y2="424.5" stroke="#000" stroke-width="2.4"/>
<line x1="1519.3" y1="424.5" x2="1535.2" y2="424.5" stroke="#000" stroke-width="2.6"/>
<circle cx="1531.2" cy="433" r="3.9" fill="#000"/>
<circle cx="1527.2" cy="439.8" r="3.9" fill="#000"/>
<circle cx="1527.2" cy="479.7" r="3.9" fill="#000"/>
<line x1="1548" y1="555.4" x2="1548" y2="517.1" stroke="#000" stroke-width="2.4"/>
<line x1="1540" y1="517.1" x2="1555.9" y2="517.1" stroke="#000" stroke-width="2.6"/>
<circle cx="1548" cy="513.2" r="3.9" fill="#000"/>
<circle cx="1548" cy="563.6" r="3.9" fill="#000"/>
<circle cx="1548" cy="589.2" r="3.9" fill="#000"/>
<rect x="1568.5" y="456.8" width="20.7" height="170" fill="#a6a6a6" stroke="#000" stroke-width="1.3"/>
<rect x="1589.2" y="377.1" width="20.7" height="249.7" fill="#00b050" stroke="#000" stroke-width="1.3"/>
<rect x="1609.9" y="555.9" width="20.7" height="70.9" fill="#ed7d31" stroke="#000" stroke-width="1.3"/>
<line x1="1599.5" y1="377.1" x2="1599.5" y2="327.4" stroke="#000" stroke-width="2.4"/>
<line x1="1591.6" y1="327.4" x2="1607.5" y2="327.4" stroke="#000" stroke-width="2.6"/>
<circle cx="1599.5" cy="331.8" r="3.9" fill="#000"/>
<circle cx="1599.5" cy="370.1" r="3.9" fill="#000"/>
<circle cx="1599.5" cy="429.8" r="3.9" fill="#000"/>
<line x1="1620.2" y1="555.9" x2="1620.2" y2="543" stroke="#000" stroke-width="2.4"/>
<line x1="1612.3" y1="543" x2="1628.2" y2="543" stroke="#000" stroke-width="2.6"/>
<circle cx="1620.2" cy="545" r="3.9" fill="#000"/>
<circle cx="1620.2" cy="552.3" r="3.9" fill="#000"/>
<circle cx="1620.2" cy="569.5" r="3.9" fill="#000"/>
<rect x="1640.8" y="456.8" width="20.7" height="170" fill="#a6a6a6" stroke="#000" stroke-width="1.3"/>
<rect x="1661.5" y="161" width="20.7" height="465.8" fill="#00b050" stroke="#000" stroke-width="1.3"/>
<rect x="1682.2" y="518.5" width="20.7" height="108.3" fill="#ed7d31" stroke="#000" stroke-width="1.3"/>
<line x1="1671.8" y1="161" x2="1671.8" y2="135.5" stroke="#000" stroke-width="2.4"/>
<line x1="1663.9" y1="135.5" x2="1679.8" y2="135.5" stroke="#000" stroke-width="2.6"/>
<circle cx="1671.8" cy="142.8" r="3.9" fill="#000"/>
<circle cx="1671.8" cy="178" r="3.9" fill="#000"/>
<line x1="1692.5" y1="518.5" x2="1692.5" y2="486.2" stroke="#000" stroke-width="2.4"/>
<line x1="1684.6" y1="486.2" x2="1700.5" y2="486.2" stroke="#000" stroke-width="2.6"/>
<circle cx="1692.5" cy="485.4" r="3.9" fill="#000"/>
<circle cx="1692.5" cy="521.6" r="3.9" fill="#000"/>
<circle cx="1692.5" cy="550" r="3.9" fill="#000"/>
<rect x="1713.1" y="456.8" width="20.7" height="170" fill="#a6a6a6" stroke="#000" stroke-width="1.3"/>
<rect x="1733.8" y="444.7" width="20.7" height="182.1" fill="#00b050" stroke="#000" stroke-width="1.3"/>
<rect x="1754.5" y="519.5" width="20.7" height="107.3" fill="#ed7d31" stroke="#000" stroke-width="1.3"/>
<line x1="1744.1" y1="444.7" x2="1744.1" y2="408.3" stroke="#000" stroke-width="2.4"/>
<line x1="1736.2" y1="408.3" x2="1752" y2="408.3" stroke="#000" stroke-width="2.6"/>
<circle cx="1744.1" cy="402.4" r="3.9" fill="#000"/>
<circle cx="1750.1" cy="464.1" r="3.9" fill="#000"/>
<circle cx="1744.1" cy="468.5" r="3.9" fill="#000"/>
<line x1="1764.8" y1="519.5" x2="1764.8" y2="500.7" stroke="#000" stroke-width="2.4"/>
<line x1="1756.9" y1="500.7" x2="1772.8" y2="500.7" stroke="#000" stroke-width="2.6"/>
<circle cx="1771.8" cy="508.3" r="3.9" fill="#000"/>
<circle cx="1764.8" cy="509.7" r="3.9" fill="#000"/>
<circle cx="1764.8" cy="542.1" r="3.9" fill="#000"/>
<rect x="1785.4" y="456.8" width="20.7" height="170" fill="#a6a6a6" stroke="#000" stroke-width="1.3"/>
<rect x="1806.1" y="495.6" width="20.7" height="131.2" fill="#00b050" stroke="#000" stroke-width="1.3"/>
<rect x="1826.8" y="445.1" width="20.7" height="181.7" fill="#ed7d31" stroke="#000" stroke-width="1.3"/>
<line x1="1816.5" y1="495.6" x2="1816.5" y2="435.5" stroke="#000" stroke-width="2.4"/>
<line x1="1808.5" y1="435.5" x2="1824.4" y2="435.5" stroke="#000" stroke-width="2.6"/>
<circle cx="1816.5" cy="453.4" r="3.9" fill="#000"/>
<circle cx="1816.5" cy="475" r="3.9" fill="#000"/>
<circle cx="1816.5" cy="538.6" r="3.9" fill="#000"/>
<line x1="1837.2" y1="445.1" x2="1837.2" y2="378.9" stroke="#000" stroke-width="2.4"/>
<line x1="1829.2" y1="378.9" x2="1845.1" y2="378.9" stroke="#000" stroke-width="2.6"/>
<circle cx="1837.2" cy="398.5" r="3.9" fill="#000"/>
<circle cx="1837.2" cy="492.2" r="3.9" fill="#000"/>
<rect x="1857.7" y="456.8" width="20.7" height="170" fill="#a6a6a6" stroke="#000" stroke-width="1.3"/>
<rect x="1878.4" y="493.3" width="20.7" height="133.5" fill="#00b050" stroke="#000" stroke-width="1.3"/>
<rect x="1899.1" y="325" width="20.7" height="301.8" fill="#ed7d31" stroke="#000" stroke-width="1.3"/>
<line x1="1888.8" y1="493.3" x2="1888.8" y2="480.9" stroke="#000" stroke-width="2.4"/>
<line x1="1880.8" y1="480.9" x2="1896.7" y2="480.9" stroke="#000" stroke-width="2.6"/>
<circle cx="1888.8" cy="485.4" r="3.9" fill="#000"/>
<circle cx="1893.8" cy="495" r="3.9" fill="#000"/>
<circle cx="1888.8" cy="501.8" r="3.9" fill="#000"/>
<line x1="1909.5" y1="325" x2="1909.5" y2="287.1" stroke="#000" stroke-width="2.4"/>
<line x1="1901.5" y1="287.1" x2="1917.4" y2="287.1" stroke="#000" stroke-width="2.6"/>
<circle cx="1909.5" cy="297.3" r="3.9" fill="#000"/>
<circle cx="1909.5" cy="309.6" r="3.9" fill="#000"/>
<circle cx="1909.5" cy="368.7" r="3.9" fill="#000"/>
<rect x="1479.2" y="32.1" width="457.4" height="594.7" fill="none" stroke="#000" stroke-width="2.6"/>
<line x1="1465.4" y1="626.8" x2="1479.2" y2="626.8" stroke="#000" stroke-width="1.8"/>
<text x="1458.2" y="634.2" font-size="26.2" text-anchor="end">0</text>
<line x1="1465.4" y1="541.8" x2="1479.2" y2="541.8" stroke="#000" stroke-width="1.8"/>
<text x="1458.2" y="547.8" font-size="26.2" text-anchor="end">0.5</text>
<line x1="1465.4" y1="456.8" x2="1479.2" y2="456.8" stroke="#000" stroke-width="1.8"/>
<text x="1458.2" y="465.1" font-size="26.2" text-anchor="end">1.0</text>
<line x1="1465.4" y1="371.8" x2="1479.2" y2="371.8" stroke="#000" stroke-width="1.8"/>
<text x="1458.2" y="379.8" font-size="26.2" text-anchor="end">1.5</text>
<line x1="1465.4" y1="286.8" x2="1479.2" y2="286.8" stroke="#000" stroke-width="1.8"/>
<text x="1458.2" y="293.9" font-size="26.2" text-anchor="end">2.0</text>
<line x1="1465.4" y1="201.8" x2="1479.2" y2="201.8" stroke="#000" stroke-width="1.8"/>
<text x="1458.2" y="207.7" font-size="26.2" text-anchor="end">2.5</text>
<line x1="1465.4" y1="116.8" x2="1479.2" y2="116.8" stroke="#000" stroke-width="1.8"/>
<text x="1458.2" y="128.6" font-size="26.2" text-anchor="end">3.0</text>
<line x1="1465.4" y1="31.8" x2="1479.2" y2="31.8" stroke="#000" stroke-width="1.8"/>
<text x="1458.2" y="43.5" font-size="26.2" text-anchor="end">3.5</text>
<line x1="1527" y1="626.8" x2="1527" y2="637.5" stroke="#000" stroke-width="1.8"/>
<text transform="translate(1539.3 655.3) rotate(-45)" font-size="26.9" text-anchor="end" font-style="italic">FRK3</text>
<line x1="1599.5" y1="626.8" x2="1599.5" y2="637.5" stroke="#000" stroke-width="1.8"/>
<text transform="translate(1611.8 655.3) rotate(-45)" font-size="26.9" text-anchor="end" font-style="italic">RPL3A</text>
<line x1="1671.7" y1="626.8" x2="1671.7" y2="637.5" stroke="#000" stroke-width="1.8"/>
<text transform="translate(1684 655.3) rotate(-45)" font-size="26.9" text-anchor="end" font-style="italic">CPN60</text>
<line x1="1744.1" y1="626.8" x2="1744.1" y2="637.5" stroke="#000" stroke-width="1.8"/>
<text transform="translate(1756.4 655.3) rotate(-45)" font-size="26.9" text-anchor="end" font-style="italic">GDSL1</text>
<line x1="1826.9" y1="626.8" x2="1826.9" y2="637.5" stroke="#000" stroke-width="1.8"/>
<text transform="translate(1839.2 655.3) rotate(-45)" font-size="26.9" text-anchor="end" font-style="italic">VTC2</text>
<line x1="1888.8" y1="626.8" x2="1888.8" y2="637.5" stroke="#000" stroke-width="1.8"/>
<text transform="translate(1901.1 655.3) rotate(-45)" font-size="26.9" text-anchor="end" font-style="italic">ECS1</text>
<text transform="translate(1405.3 333) rotate(-90)" font-size="26.3" text-anchor="middle">Transcript level fold change</text>
<rect x="1497.2" y="56.6" width="15.6" height="15.6" fill="#a6a6a6" stroke="#000" stroke-width="2.6"/>
<rect x="1497.2" y="94.6" width="15.6" height="15.6" fill="#00b050" stroke="#000" stroke-width="2.6"/>
<rect x="1497.2" y="132.3" width="15.6" height="15.6" fill="#ed7d31" stroke="#000" stroke-width="2.6"/>
<text x="1520" y="73.5" font-size="26">WT</text>
<text x="1520" y="110.6" font-size="26.4" font-style="italic">taf1Δbromo</text>
<text x="1520" y="149.8" font-size="26.2" font-style="italic">Atepl1-2</text>
<text x="38.5" y="769" font-size="52" font-weight="bold">e</text>
<path d="M76.8 1265.6 L76.8 1161.5 C80.9 1160.9 93.3 1159 101.6 1157.6 C109.8 1156.3 118.2 1155 126.4 1153.5 C134.6 1152.1 144.3 1149 150.8 1148.9 C157.4 1148.8 161.1 1149.3 165.7 1152.8 C170.2 1156.3 173.5 1163.2 178.1 1170 C182.6 1176.8 189.4 1196.2 192.9 1193.5 C196.4 1190.9 196.6 1177.3 199 1154 C201.5 1130.7 205.2 1080.6 207.9 1053.6 C210.6 1026.5 212.1 1004.7 215.3 991.7 C218.5 978.7 223.1 973.4 227.2 975.5 C231.3 977.5 235.9 991.1 240.1 1004.1 C244.3 1017.1 248.4 1037 252.5 1053.6 C256.6 1070.1 260.8 1088.9 264.9 1103.3 C269 1117.7 273.1 1130.3 277.3 1140.2 C281.4 1150.1 285.2 1156.8 289.7 1162.7 C294.1 1168.7 299.8 1172.7 303.9 1175.8 C308.1 1179 311.1 1179.7 314.5 1181.4 C318 1183.2 322.9 1185.5 324.6 1186.3 L324.6 1265.6 Z" fill="#d2e7f6"/>
<path d="M76.8 1161.5 C80.9 1160.9 93.3 1159 101.6 1157.6 C109.8 1156.3 118.2 1155 126.4 1153.5 C134.6 1152.1 144.3 1149 150.8 1148.9 C157.4 1148.8 161.1 1149.3 165.7 1152.8 C170.2 1156.3 173.5 1163.2 178.1 1170 C182.6 1176.8 189.4 1196.2 192.9 1193.5 C196.4 1190.9 196.6 1177.3 199 1154 C201.5 1130.7 205.2 1080.6 207.9 1053.6 C210.6 1026.5 212.1 1004.7 215.3 991.7 C218.5 978.7 223.1 973.4 227.2 975.5 C231.3 977.5 235.9 991.1 240.1 1004.1 C244.3 1017.1 248.4 1037 252.5 1053.6 C256.6 1070.1 260.8 1088.9 264.9 1103.3 C269 1117.7 273.1 1130.3 277.3 1140.2 C281.4 1150.1 285.2 1156.8 289.7 1162.7 C294.1 1168.7 299.8 1172.7 303.9 1175.8 C308.1 1179 311.1 1179.7 314.5 1181.4 C318 1183.2 322.9 1185.5 324.6 1186.3" fill="none" stroke="#fff" stroke-width="2.6"/>
<path d="M76.8 1156.7 L78.4 1156 L80 1155.1 L81.6 1154.4 L83.2 1153.5 L84.8 1152.8 L86.4 1152.2 L88 1152.2 L89.6 1152.8 L91.2 1153.6 L92.8 1154.2 L94.4 1154.2 L96 1154.2 L97.6 1154.7 L99.2 1155.6 L100.8 1156.2 L102.4 1156.2 L104 1155.6 L105.6 1154.9 L107.2 1154.5 L108.8 1154 L110.4 1153.6 L112 1153.2 L113.6 1153.1 L115.2 1153.2 L116.8 1153.5 L118.4 1153.3 L120 1153.2 L121.6 1152.8 L123.2 1152.6 L124.8 1152.1 L126.4 1151.4 L128 1150.5 L129.6 1149.4 L131.2 1148 L132.8 1146.1 L134.4 1144 L136 1141.8 L137.6 1139.6 L139.2 1137.6 L140.8 1135.6 L142.4 1133.4 L144 1130.9 L145.6 1128.2 L147.2 1125.2 L148.8 1122.6 L150.4 1120.5 L152 1118.8 L153.6 1117.1 L155.2 1115.5 L156.8 1114.1 L158.4 1112.7 L160 1111.5 L161.6 1110.1 L163.2 1109.2 L164.8 1108.7 L166.4 1109.2 L168 1109.9 L169.6 1111.4 L171.2 1113.2 L172.8 1115.9 L174.4 1119.4 L176 1123.7 L177.6 1128.8 L179.2 1134.4 L180.8 1140.1 L182.4 1145.5 L184 1151.2 L185.6 1157.5 L187.2 1164.5 L188.8 1171.4 L190.4 1177.6 L192 1182.5 L193.6 1185 L195.2 1184.3 L196.8 1181.2 L198.4 1175.4 L200 1166.4 L201.6 1153.7 L203.2 1134.6 L204.8 1107.7 L206.4 1078.3 L208 1052.3 L209.6 1028.2 L211.2 1004.3 L212.8 982.3 L214.4 964.1 L216 949.4 L217.6 936.6 L219.2 925.4 L220.8 916.3 L222.4 909.6 L224 905 L225.6 903.2 L227.2 904.4 L228.8 909.1 L230.4 915.8 L232 924.1 L233.6 933.2 L235.2 942.7 L236.8 952.7 L238.4 964.6 L240 977.3 L241.6 990 L243.2 1002 L244.8 1013.4 L246.4 1024.5 L248 1035.9 L249.6 1046.8 L251.2 1056.9 L252.8 1066.3 L254.4 1075.2 L256 1084.3 L257.6 1093.1 L259.2 1102 L260.8 1110.2 L262.4 1117.7 L264 1124.2 L265.6 1130.2 L267.2 1135.7 L268.8 1140.5 L270.4 1145.1 L272 1149.6 L273.6 1154 L275.2 1158.4 L276.8 1162.4 L278.4 1165.9 L280 1169.1 L281.6 1171.9 L283.2 1174.9 L284.8 1178 L286.4 1181.1 L288 1184 L289.6 1186.8 L291.2 1188.9 L292.8 1190.9 L294.4 1192.9 L296 1195 L297.6 1197.1 L299.2 1198.9 L300.8 1200.4 L302.4 1201.7 L304 1202.8 L305.6 1203.7 L307.2 1204.3 L308.8 1204.5 L310.4 1204.5 L312 1204.6 L313.6 1205 L315.2 1205.5 L316.8 1206 L318.4 1206.2 L320 1206.4 L321.6 1206.4 L323.2 1205.4" fill="none" stroke="#fbb117" stroke-width="4.3" stroke-linejoin="round" stroke-linecap="round"/>
<path d="M76.8 1159.8 L78.4 1159.3 L80 1158.6 L81.6 1158.1 L83.2 1157.7 L84.8 1157.3 L86.4 1156.6 L88 1156.1 L89.6 1155.9 L91.2 1155.9 L92.8 1155.8 L94.4 1155.9 L96 1156.3 L97.6 1156.9 L99.2 1157.8 L100.8 1158.2 L102.4 1158.1 L104 1157.8 L105.6 1157.3 L107.2 1156.8 L108.8 1156 L110.4 1155.2 L112 1154.5 L113.6 1154.2 L115.2 1154.1 L116.8 1154 L118.4 1153.6 L120 1153 L121.6 1152.2 L123.2 1151.5 L124.8 1150.9 L126.4 1150.6 L128 1149.8 L129.6 1149 L131.2 1148.3 L132.8 1147.9 L134.4 1147.3 L136 1146.2 L137.6 1144.9 L139.2 1143.9 L140.8 1143.2 L142.4 1142.5 L144 1141.6 L145.6 1140.6 L147.2 1139.5 L148.8 1138.4 L150.4 1137.3 L152 1136.8 L153.6 1136.5 L155.2 1136.3 L156.8 1135.7 L158.4 1135 L160 1134.3 L161.6 1133.7 L163.2 1133.3 L164.8 1133.6 L166.4 1134.5 L168 1135.6 L169.6 1137.1 L171.2 1138.9 L172.8 1141.6 L174.4 1144.5 L176 1147.9 L177.6 1151.6 L179.2 1155.6 L180.8 1159.8 L182.4 1163.5 L184 1167.2 L185.6 1171 L187.2 1175 L188.8 1178.7 L190.4 1182.1 L192 1185 L193.6 1186.3 L195.2 1186.8 L196.8 1186.7 L198.4 1185.4 L200 1181.9 L201.6 1174.8 L203.2 1162.9 L204.8 1143.7 L206.4 1117.7 L208 1089.1 L209.6 1063 L211.2 1041.9 L212.8 1023.9 L214.4 1008.1 L216 995.3 L217.6 985.3 L219.2 977.7 L220.8 971.8 L222.4 967.3 L224 964.3 L225.6 962.5 L227.2 961.9 L228.8 963.1 L230.4 965.7 L232 969.4 L233.6 973.9 L235.2 978.9 L236.8 984.1 L238.4 989.4 L240 995.3 L241.6 1002.4 L243.2 1009.8 L244.8 1017.2 L246.4 1024.5 L248 1032 L249.6 1039.6 L251.2 1047.1 L252.8 1054.2 L254.4 1060.9 L256 1068 L257.6 1075.3 L259.2 1082.6 L260.8 1089.3 L262.4 1095.7 L264 1101.8 L265.6 1107.7 L267.2 1113.2 L268.8 1118 L270.4 1122.7 L272 1127.1 L273.6 1131.4 L275.2 1135.4 L276.8 1138.9 L278.4 1142.4 L280 1145.9 L281.6 1149.3 L283.2 1152.3 L284.8 1154.9 L286.4 1157.3 L288 1159.7 L289.6 1161.8 L291.2 1163.5 L292.8 1165.6 L294.4 1167.4 L296 1169.3 L297.6 1170.7 L299.2 1172.3 L300.8 1173.8 L302.4 1175.4 L304 1176.7 L305.6 1177.8 L307.2 1178.7 L308.8 1179.5 L310.4 1179.9 L312 1180.2 L313.6 1180.5 L315.2 1181.1 L316.8 1181.9 L318.4 1182.8 L320 1183.4 L321.6 1183.4 L323.2 1182.9" fill="none" stroke="#ff0000" stroke-width="4.3" stroke-linejoin="round" stroke-linecap="round"/>
<rect x="68" y="835.5" width="266.6" height="447" fill="none" stroke="#000" stroke-width="3"/>
<line x1="76.8" y1="1284" x2="76.8" y2="1292.5" stroke="#555" stroke-width="1.8"/>
<line x1="118.1" y1="1284" x2="118.1" y2="1292.5" stroke="#555" stroke-width="1.8"/>
<line x1="159.4" y1="1284" x2="159.4" y2="1292.5" stroke="#555" stroke-width="1.8"/>
<line x1="200.7" y1="1284" x2="200.7" y2="1292.5" stroke="#555" stroke-width="1.8"/>
<line x1="242" y1="1284" x2="242" y2="1292.5" stroke="#555" stroke-width="1.8"/>
<line x1="283.3" y1="1284" x2="283.3" y2="1292.5" stroke="#555" stroke-width="1.8"/>
<line x1="324.6" y1="1284" x2="324.6" y2="1292.5" stroke="#555" stroke-width="1.8"/>
<text transform="translate(76.8 1321.4) scale(0.775 1)" font-size="26.4" text-anchor="middle">−1500</text>
<text transform="translate(200.7 1321.4) scale(0.775 1)" font-size="26.4" text-anchor="middle">TSS</text>
<text transform="translate(324.6 1321.4) scale(0.775 1)" font-size="26.4" text-anchor="middle">1500</text>
<line x1="59.5" y1="1265.6" x2="66.5" y2="1265.6" stroke="#666" stroke-width="1.9"/>
<text transform="translate(50.5 1275.2) scale(0.775 1)" font-size="26.4" text-anchor="end">0</text>
<line x1="59.5" y1="1144.3" x2="66.5" y2="1144.3" stroke="#666" stroke-width="1.9"/>
<text transform="translate(50.5 1153.9) scale(0.775 1)" font-size="26.4" text-anchor="end">5</text>
<line x1="59.5" y1="1023" x2="66.5" y2="1023" stroke="#666" stroke-width="1.9"/>
<text transform="translate(50.5 1032.6) scale(0.775 1)" font-size="26.4" text-anchor="end">10</text>
<line x1="59.5" y1="901.7" x2="66.5" y2="901.7" stroke="#666" stroke-width="1.9"/>
<text transform="translate(50.5 911.3) scale(0.775 1)" font-size="26.4" text-anchor="end">15</text>
<text x="209.4" y="822" font-size="26" text-anchor="middle" font-weight="bold">H2A.Z in WT</text>
<path d="M405.7 1265.6 L405.7 1209.8 C411 1209 425.5 1205.9 437.8 1204.7 C450.1 1203.5 469.1 1202.3 479.5 1202.8 C489.9 1203.3 494.1 1205.4 500.4 1207.6 C506.6 1209.8 512.5 1217.2 517.1 1215.9 C521.8 1214.5 524.9 1207.9 528.3 1199.4 C531.8 1190.8 535 1174.2 538 1164.4 C541 1154.7 543.3 1146.5 546.4 1140.9 C549.5 1135.3 553.3 1131 556.8 1131 C560.3 1131 563.9 1136.5 567.3 1140.9 C570.6 1145.3 573.5 1150.9 577 1157.4 C580.5 1163.9 584.7 1173.2 588.2 1179.7 C591.7 1186.2 594 1191.3 597.9 1196.5 C601.9 1201.6 606 1206.9 611.8 1210.5 C617.6 1214.1 625.8 1216.4 632.7 1218.1 C639.6 1219.7 649.7 1220.3 653.1 1220.7 L653.1 1265.6 Z" fill="#d2e7f6"/>
<path d="M405.7 1209.8 C411 1209 425.5 1205.9 437.8 1204.7 C450.1 1203.5 469.1 1202.3 479.5 1202.8 C489.9 1203.3 494.1 1205.4 500.4 1207.6 C506.6 1209.8 512.5 1217.2 517.1 1215.9 C521.8 1214.5 524.9 1207.9 528.3 1199.4 C531.8 1190.8 535 1174.2 538 1164.4 C541 1154.7 543.3 1146.5 546.4 1140.9 C549.5 1135.3 553.3 1131 556.8 1131 C560.3 1131 563.9 1136.5 567.3 1140.9 C570.6 1145.3 573.5 1150.9 577 1157.4 C580.5 1163.9 584.7 1173.2 588.2 1179.7 C591.7 1186.2 594 1191.3 597.9 1196.5 C601.9 1201.6 606 1206.9 611.8 1210.5 C617.6 1214.1 625.8 1216.4 632.7 1218.1 C639.6 1219.7 649.7 1220.3 653.1 1220.7" fill="none" stroke="#fff" stroke-width="2.6"/>
<path d="M405.7 1208.4 L407.3 1208.9 L408.9 1209.2 L410.5 1209.4 L412.1 1209.8 L413.7 1210.4 L415.3 1210.6 L416.9 1210.8 L418.5 1210.3 L420.1 1209.5 L421.7 1208.3 L423.3 1207.4 L424.9 1206.8 L426.5 1206.8 L428.1 1207.4 L429.7 1208 L431.3 1208.2 L432.9 1207.6 L434.5 1206.2 L436.1 1204.2 L437.7 1203.1 L439.3 1204.1 L440.9 1206.7 L442.5 1208.8 L444.1 1209.6 L445.7 1209.3 L447.3 1208.7 L448.9 1207.9 L450.5 1207.3 L452.1 1206.9 L453.7 1206.6 L455.3 1206.2 L456.9 1206.1 L458.5 1206.6 L460.1 1207.9 L461.7 1209.2 L463.3 1208.4 L464.9 1207.3 L466.5 1206.3 L468.1 1205.5 L469.7 1204.7 L471.3 1203.9 L472.9 1202.8 L474.5 1201.8 L476.1 1200.4 L477.7 1198.5 L479.3 1196.3 L480.9 1194 L482.5 1192.1 L484.1 1190.6 L485.7 1190.1 L487.3 1190.5 L488.9 1191.3 L490.5 1192.2 L492.1 1193.1 L493.7 1193.9 L495.3 1193.9 L496.9 1193.3 L498.5 1192.7 L500.1 1193 L501.7 1194.3 L503.3 1196.5 L504.9 1198.8 L506.5 1201 L508.1 1203.1 L509.7 1205.5 L511.3 1207.8 L512.9 1209.8 L514.5 1211.7 L516.1 1213.3 L517.7 1214.2 L519.3 1213.7 L520.9 1212.1 L522.5 1209.4 L524.1 1206.4 L525.7 1202.9 L527.3 1199.1 L528.9 1194.4 L530.5 1188.6 L532.1 1181.5 L533.7 1173.6 L535.3 1165 L536.9 1155.6 L538.5 1145.2 L540.1 1134.8 L541.7 1125 L543.3 1116.1 L544.9 1108.1 L546.5 1101.6 L548.1 1096.5 L549.7 1092.6 L551.3 1089.8 L552.9 1088.7 L554.5 1090.1 L556.1 1093.6 L557.7 1097.4 L559.3 1099.8 L560.9 1101.1 L562.5 1101.9 L564.1 1103.3 L565.7 1105.1 L567.3 1108.1 L568.9 1112 L570.5 1117.1 L572.1 1122.2 L573.7 1126.2 L575.3 1129.4 L576.9 1132.3 L578.5 1135.5 L580.1 1139.5 L581.7 1144.3 L583.3 1150 L584.9 1155.4 L586.5 1160.9 L588.1 1165.6 L589.7 1170.4 L591.3 1175 L592.9 1179.8 L594.5 1184.2 L596.1 1188.4 L597.7 1192.1 L599.3 1195.5 L600.9 1198.7 L602.5 1201.1 L604.1 1203.1 L605.7 1204.8 L607.3 1206.5 L608.9 1208.5 L610.5 1210.4 L612.1 1212.4 L613.7 1214.5 L615.3 1217 L616.9 1219.5 L618.5 1221.6 L620.1 1223 L621.7 1224.1 L623.3 1224.6 L624.9 1225.2 L626.5 1225.3 L628.1 1225.1 L629.7 1224.9 L631.3 1225.2 L632.9 1225.6 L634.5 1226.1 L636.1 1226.3 L637.7 1226.6 L639.3 1227.1 L640.9 1227.7 L642.5 1228.3 L644.1 1228.8 L645.7 1229.3 L647.3 1229.8 L648.9 1230.5 L650.5 1231.1 L652.1 1229.7" fill="none" stroke="#fbb117" stroke-width="4.3" stroke-linejoin="round" stroke-linecap="round"/>
<path d="M405.7 1200.3 L407.3 1200.8 L408.9 1201.2 L410.5 1202 L412.1 1202.1 L413.7 1202 L415.3 1201.3 L416.9 1201.1 L418.5 1201.1 L420.1 1200.7 L421.7 1199.8 L423.3 1198.7 L424.9 1197.9 L426.5 1197.8 L428.1 1198.3 L429.7 1199.3 L431.3 1200.1 L432.9 1200.3 L434.5 1200.1 L436.1 1199.7 L437.7 1199.4 L439.3 1198.8 L440.9 1198.2 L442.5 1197.7 L444.1 1197.4 L445.7 1197.5 L447.3 1198 L448.9 1198.7 L450.5 1199.3 L452.1 1199.3 L453.7 1198.9 L455.3 1197.9 L456.9 1196.9 L458.5 1196.2 L460.1 1196.4 L461.7 1196.7 L463.3 1196.8 L464.9 1196.8 L466.5 1196.7 L468.1 1196.5 L469.7 1195.9 L471.3 1194.9 L472.9 1194.1 L474.5 1193.7 L476.1 1193.8 L477.7 1193.8 L479.3 1193.6 L480.9 1193 L482.5 1192.1 L484.1 1191.6 L485.7 1191.9 L487.3 1193.2 L488.9 1194.1 L490.5 1194.7 L492.1 1194.7 L493.7 1194 L495.3 1192.6 L496.9 1191.3 L498.5 1190.8 L500.1 1191.5 L501.7 1192.7 L503.3 1194.2 L504.9 1195.8 L506.5 1198 L508.1 1200.5 L509.7 1203.1 L511.3 1205.3 L512.9 1206.4 L514.5 1206.4 L516.1 1205.7 L517.7 1205.2 L519.3 1205.2 L520.9 1204.7 L522.5 1203 L524.1 1200 L525.7 1196.2 L527.3 1191.9 L528.9 1187.4 L530.5 1182.1 L532.1 1175.2 L533.7 1167.3 L535.3 1160.1 L536.9 1154.3 L538.5 1149.5 L540.1 1144.9 L541.7 1140 L543.3 1134.6 L544.9 1128.9 L546.5 1123.3 L548.1 1118.6 L549.7 1115 L551.3 1112.9 L552.9 1112.2 L554.5 1112.4 L556.1 1113 L557.7 1114.4 L559.3 1115.6 L560.9 1116.6 L562.5 1117.4 L564.1 1119.1 L565.7 1121.4 L567.3 1125.1 L568.9 1129.1 L570.5 1132.8 L572.1 1135.3 L573.7 1136.7 L575.3 1137.8 L576.9 1138.8 L578.5 1140.9 L580.1 1144.2 L581.7 1149 L583.3 1154.2 L584.9 1159.2 L586.5 1163.7 L588.1 1167.8 L589.7 1171.1 L591.3 1174.2 L592.9 1176.7 L594.5 1179 L596.1 1181 L597.7 1182.7 L599.3 1184.3 L600.9 1185.9 L602.5 1187.6 L604.1 1189.3 L605.7 1190.9 L607.3 1192.6 L608.9 1194.2 L610.5 1195.8 L612.1 1196.9 L613.7 1197.8 L615.3 1198.6 L616.9 1199.6 L618.5 1200.8 L620.1 1201.7 L621.7 1202.2 L623.3 1202.8 L624.9 1203.8 L626.5 1205.1 L628.1 1206.1 L629.7 1206.5 L631.3 1206.5 L632.9 1206.9 L634.5 1207.8 L636.1 1208.8 L637.7 1209.1 L639.3 1209.3 L640.9 1209.4 L642.5 1209.9 L644.1 1210.4 L645.7 1210.9 L647.3 1211 L648.9 1210.7 L650.5 1210.2 L652.1 1209.5" fill="none" stroke="#ff0000" stroke-width="4.3" stroke-linejoin="round" stroke-linecap="round"/>
<rect x="396.5" y="835.5" width="266.2" height="447" fill="none" stroke="#000" stroke-width="3"/>
<line x1="405.7" y1="1284" x2="405.7" y2="1292.5" stroke="#555" stroke-width="1.8"/>
<line x1="446.9" y1="1284" x2="446.9" y2="1292.5" stroke="#555" stroke-width="1.8"/>
<line x1="488.2" y1="1284" x2="488.2" y2="1292.5" stroke="#555" stroke-width="1.8"/>
<line x1="529.4" y1="1284" x2="529.4" y2="1292.5" stroke="#555" stroke-width="1.8"/>
<line x1="570.6" y1="1284" x2="570.6" y2="1292.5" stroke="#555" stroke-width="1.8"/>
<line x1="611.9" y1="1284" x2="611.9" y2="1292.5" stroke="#555" stroke-width="1.8"/>
<line x1="653.1" y1="1284" x2="653.1" y2="1292.5" stroke="#555" stroke-width="1.8"/>
<text transform="translate(405.7 1321.4) scale(0.775 1)" font-size="26.4" text-anchor="middle">−1500</text>
<text transform="translate(529.4 1321.4) scale(0.775 1)" font-size="26.4" text-anchor="middle">TSS</text>
<text transform="translate(653.1 1321.4) scale(0.775 1)" font-size="26.4" text-anchor="middle">1500</text>
<line x1="388" y1="1265.6" x2="395" y2="1265.6" stroke="#666" stroke-width="1.9"/>
<text transform="translate(379 1275.2) scale(0.775 1)" font-size="26.4" text-anchor="end">0</text>
<line x1="388" y1="1144.3" x2="395" y2="1144.3" stroke="#666" stroke-width="1.9"/>
<text transform="translate(379 1153.9) scale(0.775 1)" font-size="26.4" text-anchor="end">5</text>
<line x1="388" y1="1023" x2="395" y2="1023" stroke="#666" stroke-width="1.9"/>
<text transform="translate(379 1032.6) scale(0.775 1)" font-size="26.4" text-anchor="end">10</text>
<line x1="388" y1="901.7" x2="395" y2="901.7" stroke="#666" stroke-width="1.9"/>
<text transform="translate(379 911.3) scale(0.775 1)" font-size="26.4" text-anchor="end">15</text>
<text x="531.2" y="822" font-size="26" text-anchor="middle" font-weight="bold">H2A.Z in <tspan font-style="italic">Atepl1-2</tspan></text>
<path d="M806.4 1265.6 L806.4 1198.2 C811.2 1197.9 826.1 1197 835.3 1196.3 C844.4 1195.7 854.9 1195.5 861.4 1194.3 C868 1193 869 1191.3 874.5 1189.1 C879.9 1186.9 888.7 1181.4 893.9 1181.2 C899.1 1181 902 1184 905.6 1187.7 C909.3 1191.5 913 1199.7 916 1203.6 C919.1 1207.5 921.1 1221.4 923.9 1211.1 C926.6 1200.8 929.6 1169.7 932.6 1141.5 C935.6 1113.4 939.4 1071.9 942 1042.3 C944.7 1012.6 946.4 981.1 948.5 963.7 C950.7 946.3 952.7 937 955.1 937.8 C957.5 938.7 959.9 951.4 962.9 968.8 C966 986.2 969.9 1019.2 973.4 1042.3 C976.9 1065.3 980.3 1089.2 983.8 1107.4 C987.2 1125.6 989.8 1138.7 994.2 1151.2 C998.5 1163.7 1003.7 1174.2 1009.8 1182.4 C1015.8 1190.6 1023.1 1196.5 1030.5 1200.5 C1037.8 1204.4 1050 1204.9 1053.9 1205.8 L1053.9 1265.6 Z" fill="#d2e7f6"/>
<path d="M806.4 1198.2 C811.2 1197.9 826.1 1197 835.3 1196.3 C844.4 1195.7 854.9 1195.5 861.4 1194.3 C868 1193 869 1191.3 874.5 1189.1 C879.9 1186.9 888.7 1181.4 893.9 1181.2 C899.1 1181 902 1184 905.6 1187.7 C909.3 1191.5 913 1199.7 916 1203.6 C919.1 1207.5 921.1 1221.4 923.9 1211.1 C926.6 1200.8 929.6 1169.7 932.6 1141.5 C935.6 1113.4 939.4 1071.9 942 1042.3 C944.7 1012.6 946.4 981.1 948.5 963.7 C950.7 946.3 952.7 937 955.1 937.8 C957.5 938.7 959.9 951.4 962.9 968.8 C966 986.2 969.9 1019.2 973.4 1042.3 C976.9 1065.3 980.3 1089.2 983.8 1107.4 C987.2 1125.6 989.8 1138.7 994.2 1151.2 C998.5 1163.7 1003.7 1174.2 1009.8 1182.4 C1015.8 1190.6 1023.1 1196.5 1030.5 1200.5 C1037.8 1204.4 1050 1204.9 1053.9 1205.8" fill="none" stroke="#fff" stroke-width="2.6"/>
<path d="M806.4 1198.4 L808 1197.1 L809.6 1195.7 L811.2 1194.7 L812.8 1194.2 L814.4 1194.6 L816 1195.5 L817.6 1196.8 L819.2 1197.7 L820.8 1198.2 L822.4 1198 L824 1197.2 L825.6 1195.9 L827.2 1194.3 L828.8 1193.4 L830.4 1192.2 L832 1192 L833.6 1191.6 L835.2 1192 L836.8 1192.2 L838.4 1192.6 L840 1193 L841.6 1193.4 L843.2 1193.8 L844.8 1194 L846.4 1194 L848 1193.7 L849.6 1193.4 L851.2 1193.1 L852.8 1192.8 L854.4 1192.2 L856 1191.1 L857.6 1189.9 L859.2 1188.7 L860.8 1187.7 L862.4 1186.4 L864 1184.8 L865.6 1182.5 L867.2 1180 L868.8 1177.1 L870.4 1174.1 L872 1171.1 L873.6 1168 L875.2 1164.8 L876.8 1161.8 L878.4 1159.2 L880 1157.3 L881.6 1155 L883.2 1152.7 L884.8 1149.6 L886.4 1146.7 L888 1144.2 L889.6 1142.2 L891.2 1140.8 L892.8 1139.3 L894.4 1137.9 L896 1136.5 L897.6 1135.5 L899.2 1135 L900.8 1134.8 L902.4 1134.9 L904 1135.4 L905.6 1137.1 L907.2 1140 L908.8 1144.5 L910.4 1150.7 L912 1158.6 L913.6 1166.7 L915.2 1174.3 L916.8 1181 L918.4 1187.9 L920 1194.1 L921.6 1198.7 L923.2 1200.6 L924.8 1199.2 L926.4 1195.3 L928 1188.4 L929.6 1178.2 L931.2 1163.5 L932.8 1142.7 L934.4 1115.2 L936 1084.3 L937.6 1052.4 L939.2 1022.3 L940.8 993.5 L942.4 964.9 L944 938.6 L945.6 916.9 L947.2 900.7 L948.8 889.7 L950.4 882.9 L952 879.4 L953.6 878.5 L955.2 881.1 L956.8 887.1 L958.4 895.8 L960 906.7 L961.6 919.4 L963.2 933.4 L964.8 947.9 L966.4 962.7 L968 977.2 L969.6 992.5 L971.2 1008.9 L972.8 1025.8 L974.4 1042.7 L976 1058.8 L977.6 1073.5 L979.2 1087.1 L980.8 1099.7 L982.4 1111.5 L984 1122.4 L985.6 1132.5 L987.2 1142 L988.8 1150.7 L990.4 1158.5 L992 1165.7 L993.6 1171.8 L995.2 1177.1 L996.8 1181.6 L998.4 1185.3 L1000 1188.7 L1001.6 1191.7 L1003.2 1194.9 L1004.8 1198 L1006.4 1201.1 L1008 1203.6 L1009.6 1206.2 L1011.2 1208.3 L1012.8 1210.2 L1014.4 1211.8 L1016 1213.5 L1017.6 1215.4 L1019.2 1216.8 L1020.8 1218.2 L1022.4 1219.2 L1024 1220.1 L1025.6 1220.8 L1027.2 1221.5 L1028.8 1222.2 L1030.4 1222.8 L1032 1223.4 L1033.6 1224 L1035.2 1224.3 L1036.8 1224.4 L1038.4 1224.1 L1040 1223.6 L1041.6 1222.7 L1043.2 1222.1 L1044.8 1221.4 L1046.4 1221.3 L1048 1221.5 L1049.6 1221.6 L1051.2 1221.6 L1052.8 1220.9" fill="none" stroke="#fbb117" stroke-width="4.3" stroke-linejoin="round" stroke-linecap="round"/>
<path d="M806.4 1198.2 L808 1197.7 L809.6 1197.6 L811.2 1197.3 L812.8 1197.4 L814.4 1197.3 L816 1197.2 L817.6 1196.8 L819.2 1196.2 L820.8 1195.4 L822.4 1194.9 L824 1195 L825.6 1195.6 L827.2 1196.1 L828.8 1196.1 L830.4 1196.1 L832 1196 L833.6 1196.1 L835.2 1196.2 L836.8 1196.5 L838.4 1196.5 L840 1196.2 L841.6 1195.9 L843.2 1196 L844.8 1196.1 L846.4 1195.9 L848 1195.2 L849.6 1194.6 L851.2 1194.5 L852.8 1194.3 L854.4 1194.1 L856 1193.5 L857.6 1193 L859.2 1192.1 L860.8 1191.1 L862.4 1190.1 L864 1189.3 L865.6 1187.9 L867.2 1186.1 L868.8 1184 L870.4 1182.3 L872 1180.9 L873.6 1179.5 L875.2 1178.1 L876.8 1176.3 L878.4 1174.5 L880 1172.7 L881.6 1171.2 L883.2 1169.7 L884.8 1168.4 L886.4 1167.3 L888 1165.8 L889.6 1164.4 L891.2 1163.1 L892.8 1162.6 L894.4 1162 L896 1161.4 L897.6 1160.9 L899.2 1160.8 L900.8 1161.4 L902.4 1162.5 L904 1164.4 L905.6 1167.1 L907.2 1170.1 L908.8 1173.3 L910.4 1176.7 L912 1180.7 L913.6 1185.4 L915.2 1190.4 L916.8 1195.3 L918.4 1199.5 L920 1203.4 L921.6 1207.2 L923.2 1209.4 L924.8 1208.5 L926.4 1206.1 L928 1202.5 L929.6 1196.5 L931.2 1187.5 L932.8 1174.2 L934.4 1157.1 L936 1137.7 L937.6 1117.6 L939.2 1098 L940.8 1078.2 L942.4 1057.3 L944 1036.5 L945.6 1017.9 L947.2 1003.1 L948.8 992.4 L950.4 985.1 L952 980.9 L953.6 979.6 L955.2 980.3 L956.8 983.2 L958.4 987.8 L960 993.8 L961.6 1000.4 L963.2 1007.8 L964.8 1015.9 L966.4 1025.7 L968 1036 L969.6 1046.1 L971.2 1055.9 L972.8 1065.3 L974.4 1075 L976 1085.1 L977.6 1094.9 L979.2 1104.2 L980.8 1112.5 L982.4 1120.1 L984 1127.4 L985.6 1133.9 L987.2 1140.2 L988.8 1146 L990.4 1151.7 L992 1157 L993.6 1162.5 L995.2 1167.9 L996.8 1173.4 L998.4 1178.2 L1000 1182.2 L1001.6 1185.5 L1003.2 1187.7 L1004.8 1189.5 L1006.4 1190.5 L1008 1191.6 L1009.6 1192.6 L1011.2 1193.9 L1012.8 1195.2 L1014.4 1196.8 L1016 1198.2 L1017.6 1199.6 L1019.2 1200.6 L1020.8 1201.2 L1022.4 1201.9 L1024 1202.6 L1025.6 1203.6 L1027.2 1204.3 L1028.8 1205.1 L1030.4 1205.8 L1032 1206.5 L1033.6 1207.1 L1035.2 1207.6 L1036.8 1207.8 L1038.4 1208.3 L1040 1208.5 L1041.6 1208.9 L1043.2 1209 L1044.8 1209.8 L1046.4 1210.7 L1048 1211.4 L1049.6 1211.1 L1051.2 1210.5 L1052.8 1210.2" fill="none" stroke="#ff0000" stroke-width="4.3" stroke-linejoin="round" stroke-linecap="round"/>
<rect x="796.8" y="835.5" width="266.7" height="447" fill="none" stroke="#000" stroke-width="3"/>
<line x1="806.4" y1="1284" x2="806.4" y2="1292.5" stroke="#555" stroke-width="1.8"/>
<line x1="847.6" y1="1284" x2="847.6" y2="1292.5" stroke="#555" stroke-width="1.8"/>
<line x1="888.9" y1="1284" x2="888.9" y2="1292.5" stroke="#555" stroke-width="1.8"/>
<line x1="930.2" y1="1284" x2="930.2" y2="1292.5" stroke="#555" stroke-width="1.8"/>
<line x1="971.4" y1="1284" x2="971.4" y2="1292.5" stroke="#555" stroke-width="1.8"/>
<line x1="1012.7" y1="1284" x2="1012.7" y2="1292.5" stroke="#555" stroke-width="1.8"/>
<line x1="1053.9" y1="1284" x2="1053.9" y2="1292.5" stroke="#555" stroke-width="1.8"/>
<text transform="translate(806.4 1321.4) scale(0.775 1)" font-size="26.4" text-anchor="middle">−1500</text>
<text transform="translate(930.2 1321.4) scale(0.775 1)" font-size="26.4" text-anchor="middle">TSS</text>
<text transform="translate(1053.9 1321.4) scale(0.775 1)" font-size="26.4" text-anchor="middle">1500</text>
<line x1="788.3" y1="1265.6" x2="795.3" y2="1265.6" stroke="#666" stroke-width="1.9"/>
<text transform="translate(779.3 1275.2) scale(0.775 1)" font-size="26.4" text-anchor="end">0</text>
<line x1="788.3" y1="1162.2" x2="795.3" y2="1162.2" stroke="#666" stroke-width="1.9"/>
<text transform="translate(779.3 1171.8) scale(0.775 1)" font-size="26.4" text-anchor="end">1</text>
<line x1="788.3" y1="1058.8" x2="795.3" y2="1058.8" stroke="#666" stroke-width="1.9"/>
<text transform="translate(779.3 1068.4) scale(0.775 1)" font-size="26.4" text-anchor="end">2</text>
<line x1="788.3" y1="955.4" x2="795.3" y2="955.4" stroke="#666" stroke-width="1.9"/>
<text transform="translate(779.3 965) scale(0.775 1)" font-size="26.4" text-anchor="end">3</text>
<line x1="788.3" y1="852" x2="795.3" y2="852" stroke="#666" stroke-width="1.9"/>
<text transform="translate(779.3 861.6) scale(0.775 1)" font-size="26.4" text-anchor="end">4</text>
<text x="932.6" y="826" font-size="26" text-anchor="middle" font-weight="bold">H2A.Zac in WT</text>
<path d="M1134.9 1265.6 L1134.9 1230.9 C1140.2 1230.2 1154.5 1227.7 1166.8 1226.7 C1179 1225.8 1199.2 1225.4 1208.5 1225.3 C1217.8 1225.2 1216.5 1224.8 1222.5 1226 C1228.6 1227.2 1239.4 1232 1244.8 1232.3 C1250.1 1232.6 1251.2 1235 1254.5 1228.1 C1257.8 1221.1 1260.9 1204.9 1264.3 1190.5 C1267.8 1176.2 1271.5 1153 1275.4 1141.8 C1279.3 1130.7 1284.2 1125.8 1287.9 1123.7 C1291.6 1121.6 1294 1124.4 1297.7 1129.2 C1301.4 1134.1 1304.6 1141.5 1310.2 1152.9 C1315.7 1164.3 1324.8 1186.8 1331.1 1197.5 C1337.3 1208.1 1342.2 1212.4 1347.8 1217 C1353.3 1221.6 1358.7 1222.7 1364.5 1225.3 C1370.4 1227.8 1379.7 1231.1 1382.7 1232.3 L1382.7 1265.6 Z" fill="#d2e7f6"/>
<path d="M1134.9 1230.9 C1140.2 1230.2 1154.5 1227.7 1166.8 1226.7 C1179 1225.8 1199.2 1225.4 1208.5 1225.3 C1217.8 1225.2 1216.5 1224.8 1222.5 1226 C1228.6 1227.2 1239.4 1232 1244.8 1232.3 C1250.1 1232.6 1251.2 1235 1254.5 1228.1 C1257.8 1221.1 1260.9 1204.9 1264.3 1190.5 C1267.8 1176.2 1271.5 1153 1275.4 1141.8 C1279.3 1130.7 1284.2 1125.8 1287.9 1123.7 C1291.6 1121.6 1294 1124.4 1297.7 1129.2 C1301.4 1134.1 1304.6 1141.5 1310.2 1152.9 C1315.7 1164.3 1324.8 1186.8 1331.1 1197.5 C1337.3 1208.1 1342.2 1212.4 1347.8 1217 C1353.3 1221.6 1358.7 1222.7 1364.5 1225.3 C1370.4 1227.8 1379.7 1231.1 1382.7 1232.3" fill="none" stroke="#fff" stroke-width="2.6"/>
<path d="M1134.9 1229.6 L1136.5 1229.8 L1138.1 1229.9 L1139.7 1230.2 L1141.3 1230.5 L1142.9 1231 L1144.5 1230.9 L1146.1 1230.9 L1147.7 1230.7 L1149.3 1230.9 L1150.9 1231 L1152.5 1231.1 L1154.1 1230.5 L1155.7 1229.7 L1157.3 1229 L1158.9 1228.4 L1160.5 1227.9 L1162.1 1226.5 L1163.7 1224.6 L1165.3 1222.8 L1166.9 1222.5 L1168.5 1223.5 L1170.1 1225.9 L1171.7 1228.3 L1173.3 1230.5 L1174.9 1231.6 L1176.5 1232 L1178.1 1232.1 L1179.7 1232 L1181.3 1231.8 L1182.9 1231.1 L1184.5 1230.4 L1186.1 1229.7 L1187.7 1229.4 L1189.3 1229 L1190.9 1228.5 L1192.5 1227.6 L1194.1 1227 L1195.7 1226.1 L1197.3 1225.4 L1198.9 1224.4 L1200.5 1223.4 L1202.1 1222.4 L1203.7 1221.4 L1205.3 1220.7 L1206.9 1219.6 L1208.5 1218.5 L1210.1 1216.9 L1211.7 1215.7 L1213.3 1214.7 L1214.9 1214.3 L1216.5 1213.9 L1218.1 1213.6 L1219.7 1213.1 L1221.3 1212.9 L1222.9 1212.9 L1224.5 1213.3 L1226.1 1213.7 L1227.7 1214.4 L1229.3 1215.1 L1230.9 1215.7 L1232.5 1216.2 L1234.1 1216.8 L1235.7 1218 L1237.3 1219.6 L1238.9 1221.4 L1240.5 1222.7 L1242.1 1224 L1243.7 1225.1 L1245.3 1226.7 L1246.9 1228.1 L1248.5 1229.5 L1250.1 1230.2 L1251.7 1231.2 L1253.3 1232.3 L1254.9 1230.7 L1256.5 1227.5 L1258.1 1223 L1259.7 1218.1 L1261.3 1213.1 L1262.9 1208.2 L1264.5 1203.1 L1266.1 1197.2 L1267.7 1189.9 L1269.3 1182.2 L1270.9 1175.1 L1272.5 1169.6 L1274.1 1166.3 L1275.7 1164.9 L1277.3 1164.3 L1278.9 1163.4 L1280.5 1161.3 L1282.1 1158.3 L1283.7 1155.4 L1285.3 1153.3 L1286.9 1152.8 L1288.5 1153.1 L1290.1 1154.1 L1291.7 1154.8 L1293.3 1156.1 L1294.9 1157.6 L1296.5 1159.7 L1298.1 1161.8 L1299.7 1164.4 L1301.3 1168.1 L1302.9 1171.5 L1304.5 1174.3 L1306.1 1176.8 L1307.7 1179.5 L1309.3 1182.5 L1310.9 1185.6 L1312.5 1188.6 L1314.1 1191.5 L1315.7 1194.5 L1317.3 1197.6 L1318.9 1200.5 L1320.5 1203.9 L1322.1 1207 L1323.7 1209.9 L1325.3 1212.5 L1326.9 1214.9 L1328.5 1217.2 L1330.1 1219.1 L1331.7 1220 L1333.3 1220.2 L1334.9 1220 L1336.5 1220.6 L1338.1 1221.7 L1339.7 1223.2 L1341.3 1225.1 L1342.9 1227.3 L1344.5 1229.3 L1346.1 1231.1 L1347.7 1232.7 L1349.3 1233.9 L1350.9 1234.7 L1352.5 1235.6 L1354.1 1236.3 L1355.7 1237.1 L1357.3 1238 L1358.9 1238.9 L1360.5 1239.9 L1362.1 1240.7 L1363.7 1241.7 L1365.3 1242.6 L1366.9 1243.2 L1368.5 1243.6 L1370.1 1243.6 L1371.7 1243.7 L1373.3 1243.6 L1374.9 1243.3 L1376.5 1242.9 L1378.1 1242.6 L1379.7 1242.1 L1381.3 1241.1" fill="none" stroke="#fbb117" stroke-width="4.3" stroke-linejoin="round" stroke-linecap="round"/>
<path d="M1134.9 1223.4 L1136.5 1223.9 L1138.1 1224.9 L1139.7 1225.7 L1141.3 1226.4 L1142.9 1226.8 L1144.5 1226.8 L1146.1 1226.6 L1147.7 1226.2 L1149.3 1226 L1150.9 1225.6 L1152.5 1225.3 L1154.1 1224.7 L1155.7 1224.1 L1157.3 1223.6 L1158.9 1223.1 L1160.5 1222.8 L1162.1 1222.4 L1163.7 1222.3 L1165.3 1222.2 L1166.9 1222.4 L1168.5 1223 L1170.1 1224.3 L1171.7 1225.9 L1173.3 1227.2 L1174.9 1227.8 L1176.5 1227.5 L1178.1 1227.4 L1179.7 1226.9 L1181.3 1226.3 L1182.9 1225.3 L1184.5 1224.5 L1186.1 1223.8 L1187.7 1223.4 L1189.3 1223.2 L1190.9 1223.1 L1192.5 1222.9 L1194.1 1222.4 L1195.7 1221.9 L1197.3 1221.4 L1198.9 1221 L1200.5 1220.2 L1202.1 1219.8 L1203.7 1219.5 L1205.3 1219.6 L1206.9 1219.5 L1208.5 1219.3 L1210.1 1219.2 L1211.7 1219.4 L1213.3 1219.4 L1214.9 1219 L1216.5 1218.3 L1218.1 1217.6 L1219.7 1217 L1221.3 1216.1 L1222.9 1215.5 L1224.5 1215.2 L1226.1 1215.4 L1227.7 1215.9 L1229.3 1216.2 L1230.9 1216.8 L1232.5 1217.5 L1234.1 1219 L1235.7 1220.3 L1237.3 1221.7 L1238.9 1222.8 L1240.5 1224.2 L1242.1 1225.7 L1243.7 1227.3 L1245.3 1228.4 L1246.9 1229.1 L1248.5 1229.4 L1250.1 1229.4 L1251.7 1228.6 L1253.3 1226.9 L1254.9 1224.5 L1256.5 1221.5 L1258.1 1218.1 L1259.7 1214.7 L1261.3 1211.4 L1262.9 1208 L1264.5 1204.1 L1266.1 1199.8 L1267.7 1195.1 L1269.3 1190.5 L1270.9 1186.6 L1272.5 1183.8 L1274.1 1182.3 L1275.7 1181.4 L1277.3 1180.3 L1278.9 1177.9 L1280.5 1174.7 L1282.1 1171.1 L1283.7 1167.9 L1285.3 1165.7 L1286.9 1165.3 L1288.5 1166.8 L1290.1 1169 L1291.7 1170.3 L1293.3 1171 L1294.9 1171.6 L1296.5 1172.8 L1298.1 1174 L1299.7 1175.3 L1301.3 1176.3 L1302.9 1177.8 L1304.5 1179.3 L1306.1 1181.1 L1307.7 1182.6 L1309.3 1184.5 L1310.9 1186.6 L1312.5 1189 L1314.1 1191.1 L1315.7 1193.2 L1317.3 1195.1 L1318.9 1197.4 L1320.5 1199.6 L1322.1 1202.3 L1323.7 1204.6 L1325.3 1206.8 L1326.9 1208.8 L1328.5 1210.8 L1330.1 1212.6 L1331.7 1214.5 L1333.3 1215.9 L1334.9 1216.9 L1336.5 1217.1 L1338.1 1217.4 L1339.7 1218 L1341.3 1218.7 L1342.9 1219.5 L1344.5 1220.5 L1346.1 1221.7 L1347.7 1222.9 L1349.3 1223.8 L1350.9 1224.5 L1352.5 1224.9 L1354.1 1225.3 L1355.7 1225.6 L1357.3 1226.1 L1358.9 1226.7 L1360.5 1227.1 L1362.1 1227.1 L1363.7 1227.4 L1365.3 1227.9 L1366.9 1228.9 L1368.5 1229.8 L1370.1 1230.3 L1371.7 1230.3 L1373.3 1229.9 L1374.9 1229.7 L1376.5 1229.7 L1378.1 1229.9 L1379.7 1230.2 L1381.3 1230.4" fill="none" stroke="#ff0000" stroke-width="4.3" stroke-linejoin="round" stroke-linecap="round"/>
<rect x="1125.3" y="835.5" width="267.4" height="447" fill="none" stroke="#000" stroke-width="3"/>
<line x1="1134.9" y1="1284" x2="1134.9" y2="1292.5" stroke="#555" stroke-width="1.8"/>
<line x1="1176.2" y1="1284" x2="1176.2" y2="1292.5" stroke="#555" stroke-width="1.8"/>
<line x1="1217.5" y1="1284" x2="1217.5" y2="1292.5" stroke="#555" stroke-width="1.8"/>
<line x1="1258.8" y1="1284" x2="1258.8" y2="1292.5" stroke="#555" stroke-width="1.8"/>
<line x1="1300.1" y1="1284" x2="1300.1" y2="1292.5" stroke="#555" stroke-width="1.8"/>
<line x1="1341.4" y1="1284" x2="1341.4" y2="1292.5" stroke="#555" stroke-width="1.8"/>
<line x1="1382.7" y1="1284" x2="1382.7" y2="1292.5" stroke="#555" stroke-width="1.8"/>
<text transform="translate(1134.9 1321.4) scale(0.775 1)" font-size="26.4" text-anchor="middle">−1500</text>
<text transform="translate(1258.8 1321.4) scale(0.775 1)" font-size="26.4" text-anchor="middle">TSS</text>
<text transform="translate(1382.7 1321.4) scale(0.775 1)" font-size="26.4" text-anchor="middle">1500</text>
<line x1="1116.8" y1="1265.6" x2="1123.8" y2="1265.6" stroke="#666" stroke-width="1.9"/>
<text transform="translate(1107.8 1275.2) scale(0.775 1)" font-size="26.4" text-anchor="end">0</text>
<line x1="1116.8" y1="1162.2" x2="1123.8" y2="1162.2" stroke="#666" stroke-width="1.9"/>
<text transform="translate(1107.8 1171.8) scale(0.775 1)" font-size="26.4" text-anchor="end">1</text>
<line x1="1116.8" y1="1058.8" x2="1123.8" y2="1058.8" stroke="#666" stroke-width="1.9"/>
<text transform="translate(1107.8 1068.4) scale(0.775 1)" font-size="26.4" text-anchor="end">2</text>
<line x1="1116.8" y1="955.4" x2="1123.8" y2="955.4" stroke="#666" stroke-width="1.9"/>
<text transform="translate(1107.8 965) scale(0.775 1)" font-size="26.4" text-anchor="end">3</text>
<line x1="1116.8" y1="852" x2="1123.8" y2="852" stroke="#666" stroke-width="1.9"/>
<text transform="translate(1107.8 861.6) scale(0.775 1)" font-size="26.4" text-anchor="end">4</text>
<text x="1262" y="826" font-size="26" text-anchor="middle" font-weight="bold">H2A.Zac in <tspan font-style="italic">Atepl1-2</tspan></text>
<text transform="translate(21 1070.6) rotate(-90)" font-size="26.2" text-anchor="middle">H2A.Z enrichment</text>
<text transform="translate(759.5 1052.7) rotate(-90)" font-size="26.3" text-anchor="middle">H2A.Zac enrichment</text>
<rect x="86.8" y="1350.5" width="272.8" height="95" fill="url(#hg1)" filter="url(#streakA)"/>
<rect x="86.8" y="1350.5" width="272.8" height="95" fill="url(#vtop)"/>
<rect x="86.8" y="1350.5" width="272.8" height="95" fill="url(#vbot)" mask="url(#hm1)"/>
<rect x="85.8" y="1455.8" width="274.4" height="96.8" fill="url(#hg2)" filter="url(#streakA)"/>
<rect x="85.8" y="1455.8" width="274.4" height="96.8" fill="url(#vtop)"/>
<rect x="85.8" y="1455.8" width="274.4" height="96.8" fill="url(#vbot)" mask="url(#hm2)"/>
<rect x="73.2" y="1349" width="13.6" height="95.2" fill="#fbb117"/>
<rect x="73.2" y="1457" width="12.6" height="96" fill="#ff0000"/>
<rect x="407.2" y="1348.8" width="274" height="98.5" fill="url(#hg3)" filter="url(#streakB)"/>
<rect x="407.2" y="1348.8" width="274" height="98.5" fill="url(#vtop)"/>
<rect x="407.2" y="1348.8" width="274" height="98.5" fill="url(#vbot)" mask="url(#hm3)"/>
<rect x="406.5" y="1455.6" width="274.7" height="97.4" fill="url(#hg4)" filter="url(#streakB)"/>
<rect x="406.5" y="1455.6" width="274.7" height="97.4" fill="url(#vtop)"/>
<rect x="406.5" y="1455.6" width="274.7" height="97.4" fill="url(#vbot)" mask="url(#hm4)"/>
<rect x="393.9" y="1348.8" width="13.3" height="95.5" fill="#fbb117"/>
<rect x="393.9" y="1455.6" width="12.6" height="97.4" fill="#ff0000"/>
<rect x="821.8" y="1347.8" width="271.8" height="98" fill="url(#hg5)" filter="url(#streakA)"/>
<rect x="821.8" y="1347.8" width="271.8" height="98" fill="url(#vtop)"/>
<rect x="821.8" y="1347.8" width="271.8" height="98" fill="url(#vbot)" mask="url(#hm5)"/>
<rect x="820.7" y="1455.5" width="272.9" height="97.3" fill="url(#hg6)" filter="url(#streakA)"/>
<rect x="820.7" y="1455.5" width="272.9" height="97.3" fill="url(#vtop)"/>
<rect x="820.7" y="1455.5" width="272.9" height="97.3" fill="url(#vbot)" mask="url(#hm6)"/>
<rect x="808" y="1348.6" width="13.8" height="95" fill="#fbb117"/>
<rect x="808" y="1457" width="12.7" height="95.8" fill="#ff0000"/>
<rect x="1140" y="1348" width="271" height="98" fill="url(#hg7)" filter="url(#streakB)"/>
<rect x="1140" y="1348" width="271" height="98" fill="url(#vtop)"/>
<rect x="1140" y="1348" width="271" height="98" fill="url(#vbot)" mask="url(#hm7)"/>
<rect x="1139.2" y="1455.5" width="271.8" height="97.3" fill="url(#hg8)" filter="url(#streakB)"/>
<rect x="1139.2" y="1455.5" width="271.8" height="97.3" fill="url(#vtop)"/>
<rect x="1139.2" y="1455.5" width="271.8" height="97.3" fill="url(#vbot)" mask="url(#hm8)"/>
<rect x="1126.3" y="1348.6" width="13.7" height="95" fill="#fbb117"/>
<rect x="1126.3" y="1457" width="12.9" height="95.8" fill="#ff0000"/>
<rect x="17.3" y="1388.5" width="25.4" height="9.8" fill="#fdded4"/>
<rect x="17.3" y="1398" width="25.4" height="9.8" fill="#fccfc4"/>
<rect x="17.3" y="1407.5" width="25.4" height="9.8" fill="#fbc0b3"/>
<rect x="17.3" y="1417.1" width="25.4" height="9.8" fill="#fbb1a3"/>
<rect x="17.3" y="1426.6" width="25.4" height="9.8" fill="#faa293"/>
<rect x="17.3" y="1436.1" width="25.4" height="9.8" fill="#f99383"/>
<rect x="17.3" y="1445.7" width="25.4" height="9.8" fill="#f98472"/>
<rect x="17.3" y="1455.2" width="25.4" height="9.8" fill="#f87562"/>
<rect x="17.3" y="1464.7" width="25.4" height="9.8" fill="#f76652"/>
<rect x="17.3" y="1474.2" width="25.4" height="9.8" fill="#f75742"/>
<rect x="17.3" y="1483.8" width="25.4" height="9.8" fill="#f64831"/>
<rect x="17.3" y="1493.3" width="25.4" height="9.8" fill="#f53921"/>
<line x1="16.8" y1="1388.5" x2="16.8" y2="1502.8" stroke="#777" stroke-width="1"/>
<text transform="translate(1.2 1396.7) rotate(90)" font-size="16" text-anchor="middle">0.8</text>
<text transform="translate(1.2 1434.2) rotate(90)" font-size="16" text-anchor="middle">1.2</text>
<text transform="translate(1.2 1472) rotate(90)" font-size="16" text-anchor="middle">1.6</text>
<line x1="14.8" y1="1396.5" x2="17.3" y2="1396.5" stroke="#222" stroke-width="1.6"/>
<line x1="14.8" y1="1415.8" x2="17.3" y2="1415.8" stroke="#222" stroke-width="1.6"/>
<line x1="14.8" y1="1434.8" x2="17.3" y2="1434.8" stroke="#222" stroke-width="1.6"/>
<line x1="14.8" y1="1453.3" x2="17.3" y2="1453.3" stroke="#222" stroke-width="1.6"/>
<line x1="14.8" y1="1471.4" x2="17.3" y2="1471.4" stroke="#222" stroke-width="1.6"/>
<line x1="14.8" y1="1491.1" x2="17.3" y2="1491.1" stroke="#222" stroke-width="1.6"/>
<rect x="753.1" y="1389.4" width="24.9" height="7.9" fill="#fde5dc"/>
<rect x="753.1" y="1397" width="24.9" height="7.9" fill="#fdddd3"/>
<rect x="753.1" y="1404.5" width="24.9" height="7.9" fill="#fcd0c5"/>
<rect x="753.1" y="1412.1" width="24.9" height="7.9" fill="#fcc3b7"/>
<rect x="753.1" y="1419.6" width="24.9" height="7.9" fill="#fbb7aa"/>
<rect x="753.1" y="1427.2" width="24.9" height="7.9" fill="#faaa9c"/>
<rect x="753.1" y="1434.7" width="24.9" height="7.9" fill="#fa9e8e"/>
<rect x="753.1" y="1442.3" width="24.9" height="7.9" fill="#f99180"/>
<rect x="753.1" y="1449.8" width="24.9" height="7.9" fill="#f98473"/>
<rect x="753.1" y="1457.4" width="24.9" height="7.9" fill="#f87865"/>
<rect x="753.1" y="1464.9" width="24.9" height="7.9" fill="#f86b57"/>
<rect x="753.1" y="1472.5" width="24.9" height="7.9" fill="#f75e49"/>
<rect x="753.1" y="1480" width="24.9" height="7.9" fill="#f6523b"/>
<rect x="753.1" y="1487.6" width="24.9" height="7.9" fill="#f6452e"/>
<rect x="753.1" y="1495.1" width="24.9" height="7.9" fill="#f53820"/>
<line x1="752.6" y1="1389.4" x2="752.6" y2="1502.7" stroke="#777" stroke-width="1"/>
<text transform="translate(735.2 1415.4) rotate(90)" font-size="15.5" text-anchor="middle">1.0</text>
<text transform="translate(735.2 1452.5) rotate(90)" font-size="15.5" text-anchor="middle">1.5</text>
<text transform="translate(735.2 1489.7) rotate(90)" font-size="15.5" text-anchor="middle">2.0</text>
<line x1="750.6" y1="1415.4" x2="753.1" y2="1415.4" stroke="#222" stroke-width="1.6"/>
<line x1="750.6" y1="1452.5" x2="753.1" y2="1452.5" stroke="#222" stroke-width="1.6"/>
<line x1="750.6" y1="1489.7" x2="753.1" y2="1489.7" stroke="#222" stroke-width="1.6"/>
<line x1="289.8" y1="1597.1" x2="330.4" y2="1597.1" stroke="#fbb117" stroke-width="4.2"/>
<text x="339.8" y="1607" font-size="26.3">NuA4-dependent</text>
<line x1="589.3" y1="1597.1" x2="630.4" y2="1597.1" stroke="#ff0000" stroke-width="4.2"/>
<text x="641.6" y="1607" font-size="26.3">Downregulated in <tspan font-style="italic">Atepl1-2</tspan></text>
<rect x="1000.8" y="1578.3" width="36.6" height="35.7" fill="#d2e7f6"/>
<text x="1048.4" y="1607" font-size="26.3">All expressed</text>
<text transform="translate(1460.8 817) scale(1.200 1)" font-size="52" font-weight="bold">f</text>
<text x="1746.7" y="860.4" font-size="26" text-anchor="middle" font-weight="bold">ChIP signal difference on +1</text>
<line x1="1607.4" y1="1205.8" x2="1607.4" y2="1151" stroke="#000" stroke-width="1.6"/>
<line x1="1607.4" y1="1242.3" x2="1607.4" y2="1272.5" stroke="#000" stroke-width="1.6"/>
<line x1="1593.6" y1="1151" x2="1621.2" y2="1151" stroke="#000" stroke-width="1.6"/>
<line x1="1593.6" y1="1272.5" x2="1621.2" y2="1272.5" stroke="#000" stroke-width="1.6"/>
<rect x="1580.2" y="1205.8" width="54.4" height="36.6" fill="#ff7f24" stroke="#000" stroke-width="1.6"/>
<line x1="1581" y1="1224.2" x2="1633.8" y2="1224.2" stroke="#000" stroke-width="4.4"/>
<line x1="1697.2" y1="1232.1" x2="1697.2" y2="1177.5" stroke="#000" stroke-width="1.6"/>
<line x1="1697.2" y1="1269.1" x2="1697.2" y2="1323.9" stroke="#000" stroke-width="1.6"/>
<line x1="1683.9" y1="1177.5" x2="1710.5" y2="1177.5" stroke="#000" stroke-width="1.6"/>
<line x1="1683.9" y1="1323.9" x2="1710.5" y2="1323.9" stroke="#000" stroke-width="1.6"/>
<rect x="1670" y="1232.1" width="54.4" height="37" fill="#0000ff" stroke="#000" stroke-width="1.6"/>
<line x1="1670.8" y1="1252" x2="1723.6" y2="1252" stroke="#000" stroke-width="4.4"/>
<line x1="1787.1" y1="1118" x2="1787.1" y2="999.2" stroke="#000" stroke-width="1.6"/>
<line x1="1787.1" y1="1198.9" x2="1787.1" y2="1307.8" stroke="#000" stroke-width="1.6"/>
<line x1="1773.6" y1="999.2" x2="1800.6" y2="999.2" stroke="#000" stroke-width="1.6"/>
<line x1="1773.6" y1="1307.8" x2="1800.6" y2="1307.8" stroke="#000" stroke-width="1.6"/>
<rect x="1760" y="1118" width="54.2" height="80.9" fill="#ff7f24" stroke="#000" stroke-width="1.6"/>
<line x1="1760.8" y1="1158" x2="1813.4" y2="1158" stroke="#000" stroke-width="4.4"/>
<line x1="1877" y1="1127" x2="1877" y2="1000.5" stroke="#000" stroke-width="1.6"/>
<line x1="1877" y1="1211.3" x2="1877" y2="1338.2" stroke="#000" stroke-width="1.6"/>
<line x1="1863.3" y1="1000.5" x2="1890.8" y2="1000.5" stroke="#000" stroke-width="1.6"/>
<line x1="1863.3" y1="1338.2" x2="1890.8" y2="1338.2" stroke="#000" stroke-width="1.6"/>
<rect x="1849.8" y="1127" width="54.5" height="84.3" fill="#0000ff" stroke="#000" stroke-width="1.6"/>
<line x1="1850.6" y1="1168.7" x2="1903.5" y2="1168.7" stroke="#000" stroke-width="4.4"/>
<rect x="1548" y="874.4" width="388.5" height="508.3" fill="none" stroke="#000" stroke-width="1.7"/>
<line x1="1742.2" y1="874.4" x2="1742.2" y2="1382.7" stroke="#333" stroke-width="3.2" stroke-dasharray="12.5 6.5"/>
<line x1="1536.4" y1="1278.3" x2="1548" y2="1278.3" stroke="#000" stroke-width="1.6"/>
<text x="1528.6" y="1287.7" font-size="26.2" text-anchor="end">0</text>
<line x1="1536.4" y1="1171.3" x2="1548" y2="1171.3" stroke="#000" stroke-width="1.6"/>
<text x="1528.6" y="1179.3" font-size="26.2" text-anchor="end">5</text>
<line x1="1536.4" y1="1064.3" x2="1548" y2="1064.3" stroke="#000" stroke-width="1.6"/>
<text x="1528.6" y="1077.2" font-size="26.2" text-anchor="end">10</text>
<line x1="1536.4" y1="957.3" x2="1548" y2="957.3" stroke="#000" stroke-width="1.6"/>
<text x="1528.6" y="968.8" font-size="26.2" text-anchor="end">15</text>
<text x="1558.5" y="902.7" font-size="26.6">H2A.Zac</text>
<text x="1750.5" y="902.7" font-size="26.3">Total H2A.Z</text>
<text x="1837" y="963.5" font-size="23.3" text-anchor="middle">N.S. (0.115)</text>
<path d="M1782.7 984.1V971.5H1881.2V984.1" fill="none" stroke="#000" stroke-width="3.2"/>
<text x="1602" y="1075.9" font-size="22.3">&lt; 2.2×10<tspan font-size="15.5" dy="-9.5">-16</tspan></text>
<path d="M1601.5 1096V1084H1700V1096" fill="none" stroke="#000" stroke-width="3.2"/>
<line x1="1607.2" y1="1382.7" x2="1607.2" y2="1392.9" stroke="#000" stroke-width="1.6"/>
<text transform="translate(1633.5 1417.6) rotate(-45)" font-size="26.4" text-anchor="end">NuA4-dependent</text>
<line x1="1697" y1="1382.7" x2="1697" y2="1392.9" stroke="#000" stroke-width="1.6"/>
<text transform="translate(1723.3 1417.6) rotate(-45)" font-size="26.4" text-anchor="end">All expressed</text>
<line x1="1787.1" y1="1382.7" x2="1787.1" y2="1392.9" stroke="#000" stroke-width="1.6"/>
<text transform="translate(1813.4 1417.6) rotate(-45)" font-size="26.4" text-anchor="end">NuA4-dependent</text>
<line x1="1877.2" y1="1382.7" x2="1877.2" y2="1392.9" stroke="#000" stroke-width="1.6"/>
<text transform="translate(1903.5 1417.6) rotate(-45)" font-size="26.4" text-anchor="end">All expressed</text>
<text transform="translate(1491.3 1132.7) rotate(-90)" font-size="26" text-anchor="middle">Difference (WT-<tspan font-style="italic">Atepl1</tspan>)</text>
</svg>
</body></html>
